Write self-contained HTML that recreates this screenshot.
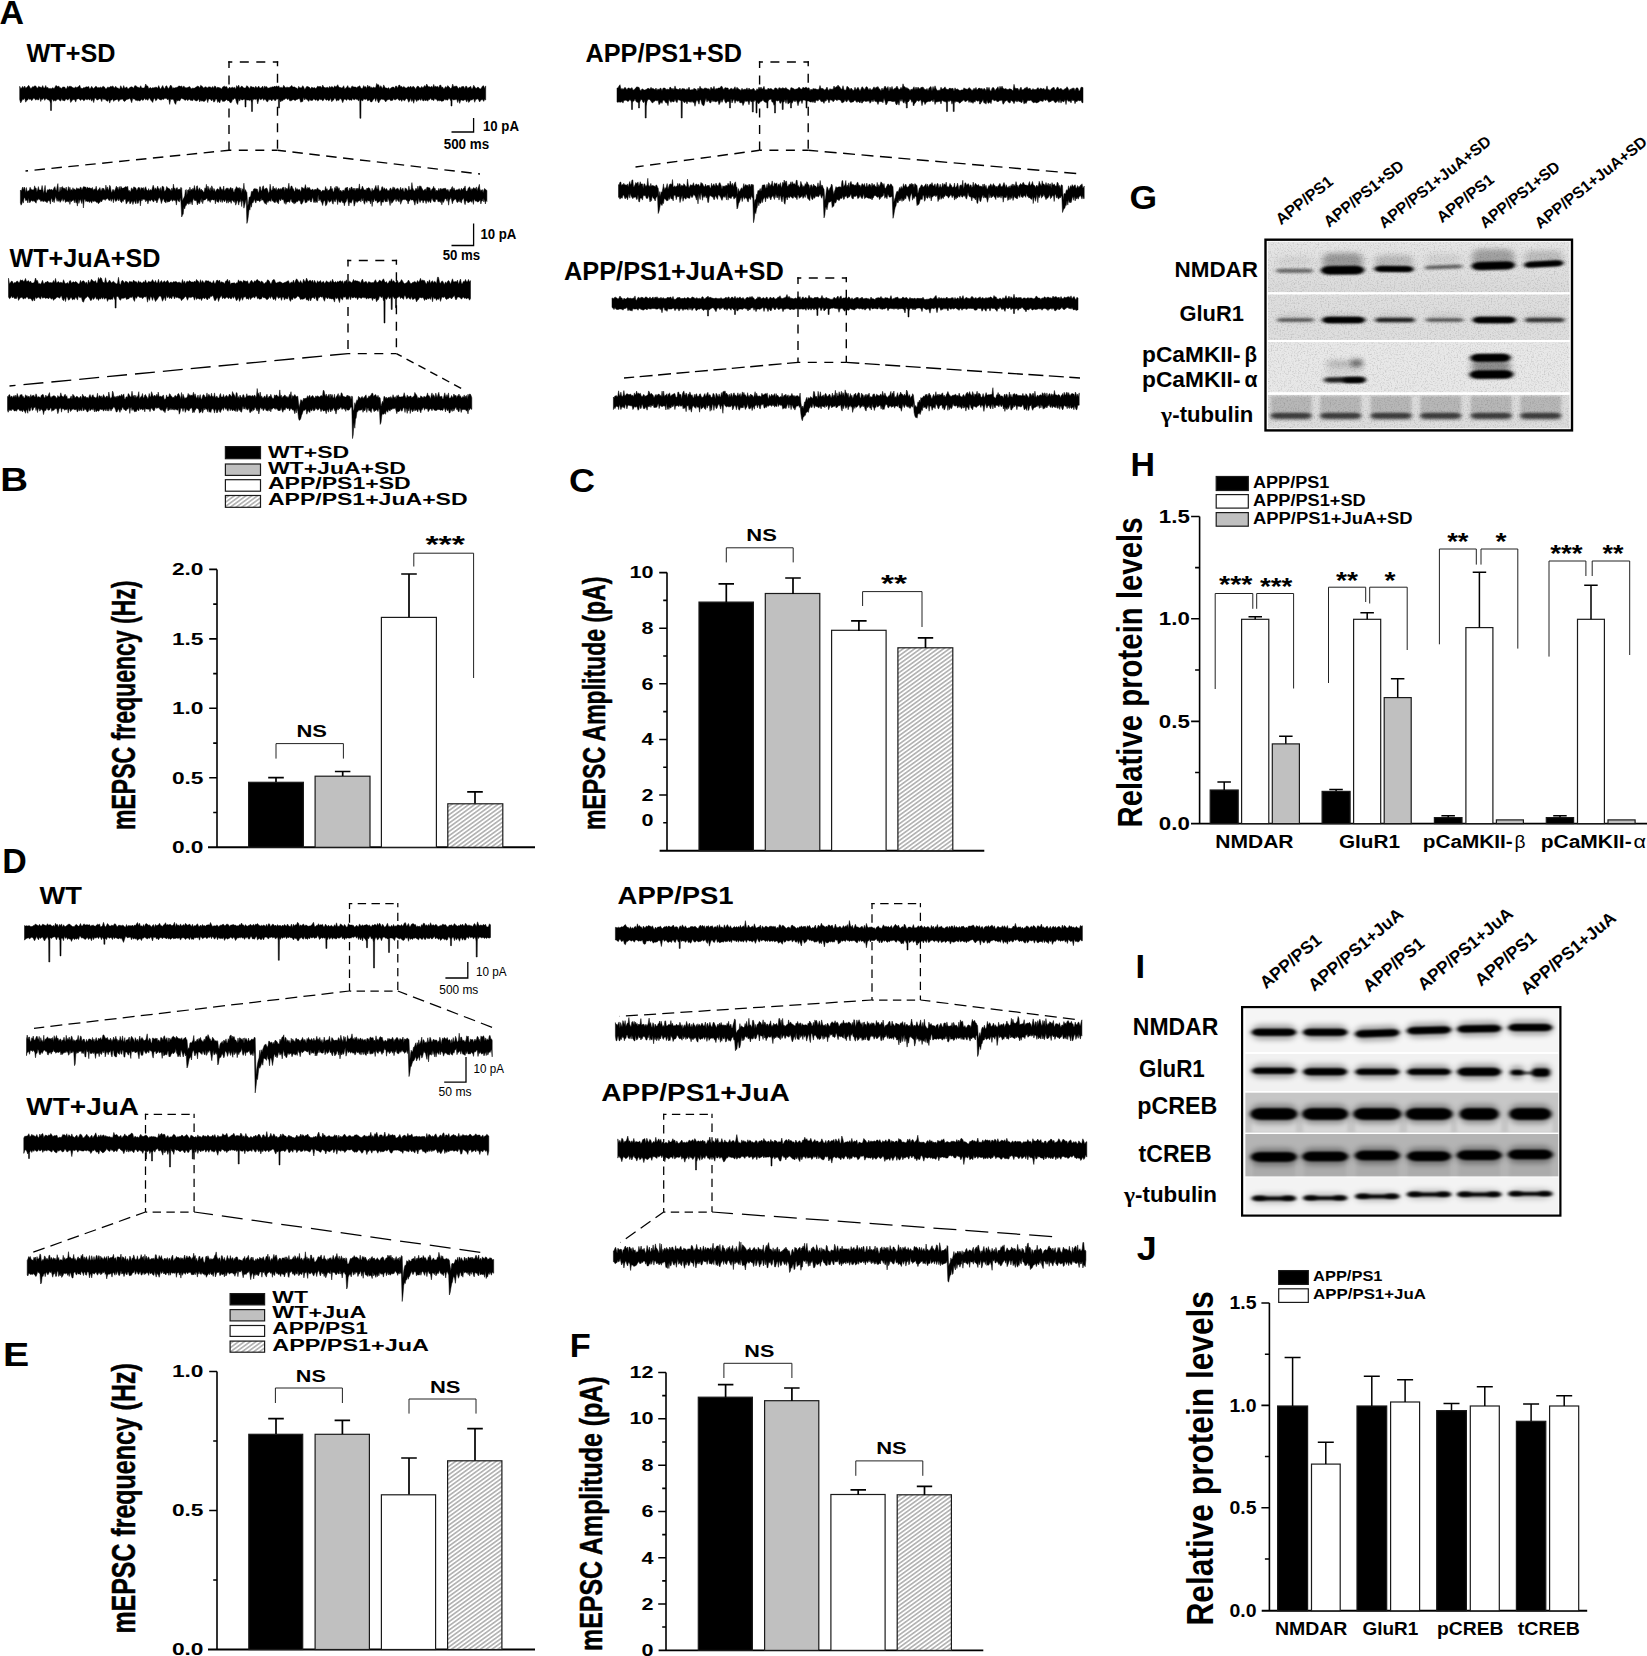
<!DOCTYPE html>
<html lang="en"><head><meta charset="utf-8"><title>Figure</title>
<style>
html,body{margin:0;padding:0;background:#fff}
body{width:1647px;height:1656px;overflow:hidden}
svg{display:block;font-family:"Liberation Sans", sans-serif;font-weight:bold}
</style></head><body>
<svg width="1647" height="1656" viewBox="0 0 1647 1656">
<defs>
<pattern id="hatch" width="8" height="3.4" patternUnits="userSpaceOnUse" patternTransform="rotate(-36)">
<rect width="8" height="3.4" fill="#fff"/><path d="M-1 1.7H9" stroke="#1c1c1c" stroke-width="0.62"/></pattern>
<filter id="b1" x="-30%" y="-150%" width="160%" height="400%"><feGaussianBlur stdDeviation="2 1.3"/></filter>
<filter id="b2" x="-30%" y="-150%" width="160%" height="400%"><feGaussianBlur stdDeviation="3 2.6"/></filter>
<filter id="b3" x="-30%" y="-150%" width="160%" height="400%"><feGaussianBlur stdDeviation="1.6 1"/></filter>
<filter id="grain" x="0" y="0" width="100%" height="100%"><feTurbulence type="fractalNoise" baseFrequency="0.7" numOctaves="2" seed="4" result="n"/><feColorMatrix in="n" type="matrix" values="0 0 0 0 0  0 0 0 0 0  0 0 0 0 0  0 0 0 1.6 -0.75"/></filter>
<linearGradient id="gN" x1="0" y1="0" x2="0" y2="1"><stop offset="0" stop-color="#e6e6e6"/><stop offset="0.55" stop-color="#e0e0e0"/><stop offset="1" stop-color="#dadada"/></linearGradient>
<clipPath id="gclip"><rect x="1267.9" y="241.8" width="301.7" height="186.5"/></clipPath>
<clipPath id="iclip"><rect x="1245.4" y="1009" width="312.9" height="204.7"/></clipPath>
</defs>
<rect width="1647" height="1656" fill="#fff"/>
<text x="-0.5" y="24.0" font-size="33" textLength="24.5" lengthAdjust="spacingAndGlyphs">A</text>
<text x="0.3" y="491.1" font-size="33.8" textLength="27.8" lengthAdjust="spacingAndGlyphs">B</text>
<text x="569.0" y="491.9" font-size="33" textLength="26.0" lengthAdjust="spacingAndGlyphs">C</text>
<text x="2.2" y="873.0" font-size="34.5" textLength="24.5" lengthAdjust="spacingAndGlyphs">D</text>
<text x="3.0" y="1366.3" font-size="33" textLength="26.2" lengthAdjust="spacingAndGlyphs">E</text>
<text x="569.8" y="1356.8" font-size="33" textLength="21.0" lengthAdjust="spacingAndGlyphs">F</text>
<text x="1129.5" y="208.5" font-size="34" textLength="27.6" lengthAdjust="spacingAndGlyphs">G</text>
<text x="1130.5" y="475.8" font-size="34" textLength="24.5" lengthAdjust="spacingAndGlyphs">H</text>
<text x="1135.4" y="977.8" font-size="33" textLength="9.6" lengthAdjust="spacingAndGlyphs">I</text>
<text x="1136.8" y="1259.9" font-size="34" textLength="20.0" lengthAdjust="spacingAndGlyphs">J</text>
<text x="26.5" y="62.0" font-size="25" textLength="89.0" lengthAdjust="spacingAndGlyphs">WT+SD</text>
<path d="M19.7 86.3L20.7 88.6L21.7 88.1L22.7 86.3L23.7 88.2L24.7 86L25.7 88.2L26.7 87.4L27.7 86.5L28.7 85.3L29.7 87.1L30.7 88.6L31.7 87.9L32.7 86.6L33.7 87.1L34.7 85.8L35.7 86L36.7 87.5L37.7 88.2L38.7 86.3L39.7 87L40.7 87.3L41.7 87.7L42.7 85.6L43.7 87.9L44.7 88L45.7 85.5L46.7 88.1L47.7 87.3L48.7 88.4L49.7 88.6L50.7 88.4L51.7 88.7L52.7 87.6L53.7 88.4L54.7 88L55.7 85.7L56.7 85.8L57.7 86.7L58.7 86.1L59.7 87.4L60.7 87.9L61.7 88.5L62.7 86.9L63.7 87L64.7 87L65.7 88.8L66.7 88.4L67.7 85.9L68.7 87.5L69.7 86.1L70.7 86.4L71.7 86.7L72.7 87.6L73.7 87.9L74.7 87.9L75.7 86.7L76.7 87.7L77.7 87.1L78.7 86.6L79.7 85.2L80.7 88.3L81.7 88.3L82.7 88.5L83.7 87.4L84.7 87.7L85.7 87.1L86.7 86.8L87.7 87.1L88.7 86.4L89.7 89.1L90.7 88.1L91.7 86.3L92.7 88.1L93.7 88.4L94.7 87.5L95.7 86.3L96.7 86.7L97.7 88.1L98.7 87.4L99.7 87.7L100.7 87.1L101.7 88L102.7 86.5L103.7 86.4L104.7 87.3L105.7 89.1L106.7 88.4L107.7 86.9L108.7 87.4L109.7 87.3L110.7 86.3L111.7 86.7L112.7 85.9L113.7 87.2L114.7 88.1L115.7 86.2L116.7 87.8L117.7 88.1L118.7 88.4L119.7 89L120.7 85.7L121.7 87.5L122.7 88.7L123.7 85.6L124.7 88.3L125.7 87.8L126.7 86.8L127.7 88.8L128.7 88.8L129.7 87.6L130.7 87.1L131.7 86.8L132.7 87.3L133.7 88.3L134.7 85.8L135.7 85.7L136.7 86.4L137.7 87.3L138.7 87.5L139.7 88L140.7 85.7L141.7 87.9L142.7 87.9L143.7 88L144.7 87.6L145.7 84L146.7 86.1L147.7 85.9L148.7 88.5L149.7 88L150.7 87.5L151.7 88.6L152.7 87.5L153.7 87.9L154.7 87.4L155.7 87.2L156.7 87.3L157.7 88.3L158.7 85.6L159.7 88.1L160.7 88.9L161.7 87.2L162.7 85.5L163.7 88L164.7 88.7L165.7 86.3L166.7 85.7L167.7 88L168.7 88.4L169.7 86.8L170.7 85L171.7 86.3L172.7 88.6L173.7 87.7L174.7 88.1L175.7 87.6L176.7 87.4L177.7 87L178.7 86.1L179.7 86.1L180.7 86.6L181.7 85.9L182.7 87.9L183.7 85.9L184.7 87.2L185.7 87.7L186.7 87.8L187.7 87.5L188.7 87L189.7 86.6L190.7 88.3L191.7 88.7L192.7 88L193.7 88.3L194.7 88.1L195.7 87.3L196.7 86.7L197.7 86.1L198.7 86.6L199.7 87.9L200.7 85.3L201.7 86L202.7 87.1L203.7 88L204.7 87.2L205.7 86.7L206.7 87.4L207.7 87.9L208.7 86.7L209.7 87L210.7 87.2L211.7 88L212.7 86.4L213.7 88.3L214.7 85.9L215.7 86.6L216.7 88.6L217.7 87.1L218.7 87.6L219.7 87.8L220.7 88.2L221.7 89.1L222.7 86.9L223.7 86.5L224.7 86.2L225.7 87L226.7 86.6L227.7 88.7L228.7 88.3L229.7 87.1L230.7 88.2L231.7 87.5L232.7 87.2L233.7 87.9L234.7 87.2L235.7 89.3L236.7 85.6L237.7 87.3L238.7 85.1L239.7 88.3L240.7 87.1L241.7 86.1L242.7 86.8L243.7 87.9L244.7 88L245.7 88L246.7 85.7L247.7 86.3L248.7 87.4L249.7 88.4L250.7 86.3L251.7 86.7L252.7 87.2L253.7 87.1L254.7 88.2L255.7 86.2L256.7 87.4L257.7 87.8L258.7 86L259.7 88L260.7 87.9L261.7 87.6L262.7 86.1L263.7 88.7L264.7 85.9L265.7 87.2L266.7 86.5L267.7 88.2L268.7 88L269.7 87.7L270.7 87.2L271.7 87.2L272.7 86.7L273.7 87.1L274.7 86.1L275.7 87.1L276.7 85.8L277.7 87.1L278.7 85.8L279.7 87.7L280.7 87.4L281.7 87.4L282.7 87.9L283.7 85.3L284.7 86.7L285.7 87.8L286.7 87.2L287.7 87.2L288.7 87.6L289.7 87.2L290.7 86.6L291.7 85.4L292.7 87.1L293.7 87.1L294.7 86.9L295.7 87.8L296.7 88.1L297.7 89.2L298.7 86.3L299.7 87.7L300.7 87.8L301.7 87.8L302.7 85.7L303.7 87.1L304.7 89.6L305.7 87.9L306.7 86.5L307.7 86.5L308.7 87L309.7 87.6L310.7 88.9L311.7 87.1L312.7 87.7L313.7 87.9L314.7 87.6L315.7 88.4L316.7 87.7L317.7 86.1L318.7 86.7L319.7 86.5L320.7 86.6L321.7 87.9L322.7 85.1L323.7 87.1L324.7 87.6L325.7 87.8L326.7 87.4L327.7 87.2L328.7 88.2L329.7 86.3L330.7 87.7L331.7 86.4L332.7 87.1L333.7 88L334.7 85.8L335.7 87L336.7 86.3L337.7 84.7L338.7 86.8L339.7 87.5L340.7 87.6L341.7 87.9L342.7 87.4L343.7 85.7L344.7 88.9L345.7 88L346.7 87.3L347.7 85.6L348.7 87.9L349.7 87.7L350.7 88.4L351.7 86.4L352.7 86.2L353.7 87L354.7 87L355.7 87L356.7 88L357.7 86.7L358.7 86.6L359.7 85.7L360.7 87.7L361.7 88.5L362.7 88.3L363.7 85.6L364.7 87.2L365.7 86.6L366.7 88.5L367.7 85.1L368.7 87.3L369.7 85.9L370.7 87.7L371.7 87.2L372.7 87.9L373.7 87.1L374.7 87.8L375.7 87.6L376.7 83.5L377.7 85L378.7 84.7L379.7 88L380.7 85.7L381.7 87.2L382.7 88.5L383.7 84.9L384.7 87.1L385.7 88L386.7 88.1L387.7 88.4L388.7 87.6L389.7 89.5L390.7 88L391.7 87.5L392.7 87.1L393.7 87.1L394.7 88.6L395.7 86L396.7 86.2L397.7 88.2L398.7 85.3L399.7 85L400.7 87.1L401.7 86.3L402.7 87.7L403.7 86.4L404.7 87.2L405.7 87.9L406.7 87.9L407.7 87L408.7 86.7L409.7 87.4L410.7 86.1L411.7 87.9L412.7 86.6L413.7 86.4L414.7 87.5L415.7 89.3L416.7 87.1L417.7 86L418.7 86.6L419.7 88L420.7 87.9L421.7 86.4L422.7 87.7L423.7 87.1L424.7 85.5L425.7 86.9L426.7 84L427.7 86L428.7 86.8L429.7 86.7L430.7 87.2L431.7 86.2L432.7 87.8L433.7 84.4L434.7 87.2L435.7 86.1L436.7 86.9L437.7 86.3L438.7 88L439.7 85.3L440.7 85L441.7 87.5L442.7 87.1L443.7 89L444.7 88.1L445.7 86.5L446.7 87.8L447.7 85.6L448.7 86.5L449.7 87.6L450.7 88.6L451.7 87.7L452.7 84.1L453.7 87.1L454.7 86.3L455.7 86.2L456.7 86L457.7 87.5L458.7 88.8L459.7 86.9L460.7 88.3L461.7 86.6L462.7 86.6L463.7 86.4L464.7 88.7L465.7 86.2L466.7 86.3L467.7 88.6L468.7 87.5L469.7 87.1L470.7 86.3L471.7 89L472.7 88.3L473.7 85.2L474.7 86.8L475.7 88.3L476.7 88.3L477.7 87.1L478.7 87.5L479.7 88.8L480.7 89L481.7 87.4L482.7 85.9L483.7 85.8L484.7 88.5L485.7 85.9L485.7 100L484.7 99.3L483.7 101.4L482.7 99.6L481.7 99.8L480.7 100L479.7 102L478.7 100.1L477.7 98.8L476.7 99.2L475.7 99.5L474.7 102.3L473.7 98.7L472.7 99.6L471.7 100L470.7 99.8L469.7 101.2L468.7 102.5L467.7 99.5L466.7 102.1L465.7 99.7L464.7 99.7L463.7 100.5L462.7 100.4L461.7 99.9L460.7 100.3L459.7 103.4L458.7 99.3L457.7 102.6L456.7 99.2L455.7 99.6L454.7 99.7L453.7 99.9L452.7 99.6L451.7 98.2L450.7 100.6L449.7 98.8L448.7 98.5L447.7 100.3L446.7 99.8L445.7 100L444.7 99.1L443.7 100.7L442.7 100.9L441.7 101.5L440.7 100.4L439.7 100.8L438.7 100.3L437.7 101.2L436.7 99.6L435.7 99.3L434.7 98.5L433.7 100.7L432.7 99.7L431.7 100.1L430.7 98.1L429.7 99.6L428.7 99.4L427.7 101.2L426.7 99.8L425.7 100.9L424.7 99.6L423.7 101L422.7 100.6L421.7 98.6L420.7 100.5L419.7 98.7L418.7 100.3L417.7 99.8L416.7 101.6L415.7 99.7L414.7 98.9L413.7 103.3L412.7 99.5L411.7 101.5L410.7 98.3L409.7 100.8L408.7 102.3L407.7 99.6L406.7 98.5L405.7 99.1L404.7 100.8L403.7 100.3L402.7 99.2L401.7 101.4L400.7 99.4L399.7 100.4L398.7 100.1L397.7 98.5L396.7 99L395.7 99.7L394.7 99.9L393.7 98.6L392.7 100.3L391.7 100.5L390.7 100.7L389.7 99.2L388.7 99.4L387.7 99.7L386.7 100.4L385.7 101.9L384.7 100.2L383.7 99.6L382.7 99.4L381.7 99L380.7 99.8L379.7 100.6L378.7 103L377.7 101.1L376.7 97.9L375.7 101.4L374.7 98.3L373.7 98.9L372.7 100.6L371.7 102L370.7 102L369.7 99.8L368.7 100.3L367.7 100.9L366.7 98.7L365.7 99.5L364.7 99.3L363.7 98.8L362.7 100.9L361.7 100.2L360.7 100.1L359.7 98.6L358.7 101.1L357.7 99.6L356.7 99.6L355.7 98.8L354.7 99.8L353.7 99.7L352.7 98.3L351.7 100.4L350.7 99.8L349.7 100.2L348.7 99.6L347.7 98.7L346.7 100.4L345.7 99.6L344.7 98.9L343.7 100L342.7 102.7L341.7 100.1L340.7 98.7L339.7 98.8L338.7 100.6L337.7 99.7L336.7 101.2L335.7 98.9L334.7 98.1L333.7 99.9L332.7 100.5L331.7 101.8L330.7 98.3L329.7 100.1L328.7 100.9L327.7 99.4L326.7 100.3L325.7 99.8L324.7 98L323.7 100.1L322.7 100.9L321.7 99.5L320.7 99.8L319.7 98.8L318.7 100.3L317.7 101.1L316.7 99.2L315.7 100.4L314.7 99.4L313.7 98.7L312.7 100.3L311.7 100.4L310.7 100.4L309.7 99.3L308.7 101.4L307.7 100.1L306.7 99.4L305.7 98.5L304.7 100L303.7 97.4L302.7 101.5L301.7 101.8L300.7 102.2L299.7 98.7L298.7 98.7L297.7 99.3L296.7 99.4L295.7 100.3L294.7 100.4L293.7 99.4L292.7 99.7L291.7 100.5L290.7 100.8L289.7 100.8L288.7 98.4L287.7 99.8L286.7 98.6L285.7 98.6L284.7 99.4L283.7 99.4L282.7 100.8L281.7 100.6L280.7 101.9L279.7 99.7L278.7 98.7L277.7 98.8L276.7 98.7L275.7 100.4L274.7 100.6L273.7 99.1L272.7 99.6L271.7 101L270.7 99.4L269.7 99.8L268.7 99.4L267.7 101.8L266.7 101.4L265.7 99.7L264.7 98.9L263.7 100.4L262.7 98.6L261.7 99L260.7 100.1L259.7 98.3L258.7 99.9L257.7 103.9L256.7 98.8L255.7 99.5L254.7 99.1L253.7 99.8L252.7 99.1L251.7 102.2L250.7 99.7L249.7 100.6L248.7 100.1L247.7 100.1L246.7 100L245.7 99.2L244.7 99.3L243.7 99.2L242.7 99.9L241.7 100L240.7 98.7L239.7 101.1L238.7 98.7L237.7 104.6L236.7 103L235.7 99.3L234.7 97.9L233.7 99.4L232.7 99.2L231.7 101.8L230.7 103.1L229.7 101.9L228.7 100.3L227.7 100.8L226.7 99.4L225.7 100.3L224.7 101.2L223.7 101.3L222.7 101.5L221.7 99.7L220.7 99.7L219.7 103L218.7 101.1L217.7 102.4L216.7 98.9L215.7 99.1L214.7 101.6L213.7 102.1L212.7 98.7L211.7 101L210.7 99.6L209.7 99.1L208.7 99L207.7 102.6L206.7 98.5L205.7 100L204.7 101.2L203.7 101.4L202.7 100.8L201.7 101.2L200.7 100.1L199.7 101.9L198.7 98.7L197.7 100.3L196.7 100.9L195.7 100.7L194.7 100.2L193.7 98.8L192.7 100.7L191.7 100.3L190.7 100.5L189.7 99.2L188.7 99.4L187.7 100.7L186.7 98.9L185.7 100.2L184.7 100.2L183.7 99.1L182.7 99L181.7 98L180.7 99.3L179.7 100.9L178.7 100.3L177.7 100.9L176.7 100L175.7 104.4L174.7 103.1L173.7 99.9L172.7 99.2L171.7 99.4L170.7 98.9L169.7 104.4L168.7 98.7L167.7 100L166.7 98.5L165.7 98.4L164.7 98.3L163.7 99.6L162.7 99L161.7 99.8L160.7 99.9L159.7 99.6L158.7 99.1L157.7 98.1L156.7 100.1L155.7 100.8L154.7 98.3L153.7 98.9L152.7 102.5L151.7 100.9L150.7 100.3L149.7 98.1L148.7 98.8L147.7 100.4L146.7 99.1L145.7 99.9L144.7 97.9L143.7 99.8L142.7 100.5L141.7 99.3L140.7 100L139.7 101.2L138.7 100.2L137.7 100.8L136.7 100.3L135.7 100.4L134.7 99.1L133.7 99L132.7 98.6L131.7 102.7L130.7 100.1L129.7 98.2L128.7 98.9L127.7 99.3L126.7 99.4L125.7 100.4L124.7 101.5L123.7 101L122.7 98.9L121.7 99.2L120.7 99.6L119.7 99.8L118.7 101.6L117.7 99.3L116.7 99.4L115.7 99.9L114.7 99.9L113.7 101.4L112.7 98.8L111.7 100.1L110.7 100.1L109.7 103.1L108.7 99.3L107.7 101.3L106.7 101L105.7 99.8L104.7 99.2L103.7 99.6L102.7 98.2L101.7 101.6L100.7 99L99.7 98.7L98.7 99.3L97.7 100L96.7 99.8L95.7 98L94.7 98.5L93.7 102.6L92.7 98.9L91.7 101.2L90.7 98.4L89.7 100.2L88.7 98.9L87.7 99.6L86.7 99.7L85.7 98.7L84.7 100.2L83.7 100.8L82.7 99.4L81.7 99.1L80.7 100.5L79.7 99.6L78.7 98.7L77.7 99L76.7 99.1L75.7 102.1L74.7 99.7L73.7 99.5L72.7 99.8L71.7 101L70.7 102.5L69.7 98.2L68.7 99L67.7 100.2L66.7 99L65.7 98.9L64.7 100.9L63.7 100.5L62.7 100.4L61.7 98.6L60.7 101.1L59.7 100.6L58.7 99.2L57.7 99.3L56.7 99.7L55.7 101.1L54.7 100.3L53.7 101.3L52.7 99.6L51.7 99.2L50.7 102.9L49.7 100.7L48.7 100.1L47.7 99.8L46.7 98.8L45.7 98.7L44.7 100.4L43.7 97.8L42.7 99.5L41.7 98.9L40.7 101.5L39.7 97.2L38.7 99.9L37.7 99.8L36.7 99.2L35.7 100.2L34.7 98.7L33.7 98.1L32.7 99.5L31.7 100.7L30.7 99.1L29.7 99.5L28.7 98.6L27.7 99.9L26.7 100.4L25.7 102.2L24.7 97.9L23.7 99.6L22.7 99.3L21.7 101L20.7 102.9L19.7 99.6ZM50.3 93.5L51.7 93.5L51.5 110.5L50.5 110.5ZM244.8 93.5L246.2 93.5L246.0 107.0L245.0 107.0ZM251.3 93.5L252.7 93.5L252.5 111.5L251.5 111.5ZM278.3 93.5L279.7 93.5L279.5 108.0L278.5 108.0ZM359.7 93.5L361.1 93.5L360.9 118.3L359.9 118.3ZM450.8 93.5L452.2 93.5L452.0 106.0L451.0 106.0Z" fill="#000" stroke="#000" stroke-width="0.5" stroke-linejoin="round"/>
<path d="M229.0 61.3L229.0 150.3" stroke="#000" stroke-width="1.4" stroke-dasharray="9 7.5" stroke-dashoffset="2.4" fill="none"/>
<path d="M228.3 62.0L278.2 62.0" stroke="#000" stroke-width="1.4" stroke-dasharray="9 7.5" stroke-dashoffset="5" fill="none"/>
<path d="M277.5 61.3L277.5 150.3" stroke="#000" stroke-width="1.4" stroke-dasharray="9 7.5" stroke-dashoffset="4" fill="none"/>
<path d="M229.0 150.3L277.5 150.3" stroke="#000" stroke-width="1.4" stroke-dasharray="9 7.5" stroke-dashoffset="6.7" fill="none"/>
<path d="M229.0 150.3L25.5 171.0" stroke="#000" stroke-width="1.4" stroke-dasharray="10.5 6.5" stroke-dashoffset="2" fill="none"/>
<path d="M277.5 150.3L480.0 174.0" stroke="#000" stroke-width="1.4" stroke-dasharray="10.5 6.5" stroke-dashoffset="2" fill="none"/>
<path d="M473.6 118.0V132.0H451.5" stroke="#000" stroke-width="1.3" fill="none"/>
<text x="483.0" y="130.5" font-size="14.5" textLength="36.0" lengthAdjust="spacingAndGlyphs">10 pA</text>
<text x="443.7" y="148.5" font-size="14.5" textLength="45.5" lengthAdjust="spacingAndGlyphs">500 ms</text>
<path d="M20.4 190L21.1 191.2L21.9 189.5L22.6 187.1L23.4 189.9L24.1 187L24.9 188.2L25.6 192.8L26.4 187.5L27.1 191.8L27.9 190.7L28.6 191L29.4 189.9L30.1 187.2L30.9 189.2L31.6 189.4L32.4 190.1L33.1 189.4L33.9 190.2L34.6 185.8L35.4 188.2L36.1 188L36.9 191.9L37.6 189.7L38.4 186.6L39.1 189.9L39.9 189.9L40.6 190L41.4 189.4L42.1 185.5L42.9 189.9L43.6 193.6L44.4 189.4L45.1 185.4L45.9 192.6L46.6 192.9L47.4 189.7L48.1 189.9L48.9 189.7L49.6 189L50.4 190L51.1 189.6L51.9 189.5L52.6 190.6L53.4 189.2L54.1 187.7L54.9 186.6L55.6 189.5L56.4 191.1L57.1 186.8L57.9 183.6L58.6 192.2L59.4 191.3L60.1 187.1L60.9 191.2L61.6 187.2L62.4 186.5L63.1 188.6L63.9 187.8L64.7 188.6L65.4 189.4L66.2 187L66.9 190.2L67.7 191.2L68.4 186.6L69.2 190.1L69.9 187.2L70.7 190.4L71.4 189.5L72.2 190.5L72.9 187.7L73.7 189.6L74.4 188.8L75.2 189.9L75.9 189.9L76.7 187.7L77.4 188.8L78.2 188.8L78.9 188.6L79.7 189.2L80.4 186.9L81.2 187.8L81.9 189.9L82.7 188.3L83.4 186.7L84.2 186.8L84.9 187.1L85.7 187.1L86.4 189.3L87.2 186.9L87.9 188L88.7 188.1L89.4 187.8L90.2 188.1L90.9 188.5L91.7 188.6L92.4 187.4L93.2 190.5L93.9 189.2L94.7 189.2L95.4 189.2L96.2 186.2L96.9 189.6L97.7 191.3L98.4 189.5L99.2 188.8L99.9 187.5L100.7 190.6L101.4 190.4L102.2 187.9L102.9 189.4L103.7 188.1L104.4 190.1L105.2 190.4L105.9 185.1L106.7 189.6L107.4 186.9L108.2 190.6L108.9 189.1L109.7 185.3L110.4 186.5L111.2 191.6L111.9 192.4L112.7 189.6L113.4 189.6L114.2 191.7L114.9 189.9L115.7 188.2L116.4 186.1L117.2 189.3L117.9 187.1L118.7 190.6L119.4 186.6L120.2 190L120.9 186.3L121.7 187.8L122.4 188.3L123.2 188L123.9 188L124.7 187.3L125.4 186.7L126.2 186.7L126.9 187.3L127.7 186.3L128.4 191.1L129.2 190.2L129.9 191.4L130.7 191.5L131.4 187.9L132.2 188.5L132.9 190L133.7 186.9L134.4 186.9L135.2 187.7L135.9 188.1L136.7 190.5L137.4 189.6L138.2 187.5L138.9 187.5L139.7 187.8L140.4 190.6L141.2 187.4L141.9 188.6L142.7 188.1L143.4 187.6L144.2 190.9L144.9 187.9L145.7 186.7L146.4 189.4L147.2 190.1L147.9 191.2L148.7 188.6L149.4 191.1L150.2 190L150.9 189.6L151.7 190.4L152.4 187.7L153.2 185.2L153.9 187.3L154.7 190.3L155.4 187.8L156.2 189.8L156.9 188.4L157.7 186.1L158.4 188.8L159.2 188.5L159.9 191.1L160.7 187.5L161.4 191.5L162.2 186.3L162.9 186.3L163.7 187.1L164.4 191.6L165.2 190.8L165.9 189.7L166.7 186.5L167.4 187.6L168.2 188.4L168.9 188.3L169.7 189.1L170.4 190L171.2 190.7L171.9 188L172.7 190.5L173.4 184.1L174.2 188.8L174.9 187.9L175.7 190.4L176.4 188.1L177.2 187.5L177.9 190.1L178.7 189.3L179.4 188.9L180.2 189.7L180.9 187.3L181.7 188.3L182.4 201.1L183.2 199L183.9 197.8L184.7 195.8L185.4 190.3L186.2 189.5L186.9 195.5L187.7 190L188.4 189.5L189.2 191.2L189.9 187.1L190.7 190.9L191.4 189.2L192.2 190.3L192.9 188.2L193.7 189.7L194.4 185.5L195.2 189.5L195.9 190.9L196.7 186.1L197.4 185.8L198.2 190.7L198.9 189.1L199.7 187.7L200.4 190.7L201.2 189L201.9 190.4L202.7 190.6L203.4 192.3L204.2 191.8L204.9 187.8L205.7 189L206.4 184.3L207.2 190.6L207.9 186L208.7 188.5L209.4 190.6L210.2 187.6L210.9 191.2L211.7 185.8L212.4 187.3L213.2 191.3L213.9 188.4L214.7 189.7L215.4 192.2L216.2 190.3L216.9 189.2L217.7 188.7L218.4 189.2L219.2 190.6L219.9 186.6L220.7 187.3L221.4 189.5L222.2 189.2L222.9 190.4L223.7 186L224.4 190.7L225.2 190.3L225.9 188.6L226.7 188.2L227.4 188.2L228.2 188.2L228.9 189.8L229.7 189.1L230.4 187.6L231.2 187.8L231.9 190.1L232.7 188.1L233.4 191.5L234.2 192.3L234.9 189.4L235.7 188.5L236.4 186.6L237.2 188.6L237.9 187.6L238.7 188.5L239.4 187.5L240.2 190.5L240.9 187.9L241.7 192.9L242.4 188.7L243.2 189.8L243.9 183.2L244.7 191.7L245.4 189.6L246.2 191.5L246.9 192.5L247.7 205.9L248.4 203.5L249.2 197.1L249.9 197.3L250.7 196L251.4 191.5L252.2 191.4L252.9 191.6L253.7 188.9L254.4 188.8L255.2 188.4L255.9 189.2L256.6 188.9L257.4 189.2L258.1 191.9L258.9 192.4L259.6 186.8L260.4 186.8L261.1 191L261.9 190.5L262.6 186.8L263.4 185.7L264.1 189.8L264.9 188.8L265.6 188.6L266.4 188L267.1 188.5L267.9 190.7L268.6 193.6L269.4 191.3L270.1 184.2L270.9 189L271.6 190.9L272.4 189.4L273.1 186.1L273.9 189.2L274.6 188.3L275.4 190L276.1 187.6L276.9 190.7L277.6 189.6L278.4 188.4L279.1 188.6L279.9 190.1L280.6 188.5L281.4 189.4L282.1 188.2L282.9 187.3L283.6 187.3L284.4 191.4L285.1 187.2L285.9 189.8L286.6 188.2L287.4 189.6L288.1 187.5L288.9 183.2L289.6 189.4L290.4 188.6L291.1 186L291.9 186L292.6 188.3L293.4 188.8L294.1 190.8L294.9 191.6L295.6 187.5L296.4 189.9L297.1 188.6L297.9 190.1L298.6 189.7L299.4 189.3L300.1 190.5L300.9 191.8L301.6 187.2L302.4 187.8L303.1 187.8L303.9 189.1L304.6 188.3L305.4 184.6L306.1 187.8L306.9 189.6L307.6 187.4L308.4 188.2L309.1 187.3L309.9 188.4L310.6 189.9L311.4 190L312.1 189.5L312.9 189.1L313.6 190.5L314.4 190L315.1 189.1L315.9 190.1L316.6 189.6L317.4 187.8L318.1 188.7L318.9 189.7L319.6 189.9L320.4 190.1L321.1 192.3L321.9 191.1L322.6 190.3L323.4 190.2L324.1 191L324.9 190.1L325.6 186.5L326.4 189.5L327.1 188.7L327.9 191.2L328.6 190L329.4 190L330.1 188.7L330.9 186L331.6 189.3L332.4 188.6L333.1 192L333.9 191.4L334.6 187.6L335.4 188.7L336.1 186.1L336.9 189.2L337.6 186.6L338.4 189.6L339.1 187.7L339.9 191.5L340.6 190.1L341.4 191L342.1 191.9L342.9 190L343.6 190.2L344.4 191.2L345.1 188.5L345.9 187.6L346.6 188L347.4 187L348.1 190.5L348.9 191L349.6 187.9L350.4 189.9L351.1 187.1L351.9 187.1L352.6 189.6L353.4 188.2L354.1 190.6L354.9 188L355.6 190.9L356.4 188.3L357.1 189.6L357.9 188L358.6 189.6L359.4 183.9L360.1 189.8L360.9 189.3L361.6 188.9L362.4 186.1L363.1 187.8L363.9 189.6L364.6 190.1L365.4 189.8L366.1 190.4L366.9 188L367.6 188.5L368.4 187.8L369.1 187.8L369.9 188.7L370.6 190.8L371.4 191.9L372.1 188.2L372.9 191.1L373.6 190.1L374.4 189.2L375.1 187.5L375.9 185.4L376.6 188.6L377.4 189.3L378.1 185.2L378.9 189.2L379.6 191.6L380.4 190.7L381.1 190L381.9 186.8L382.6 186.8L383.4 190L384.1 187.7L384.9 188.8L385.6 190.1L386.4 188.4L387.1 189.6L387.9 190.9L388.6 190.4L389.4 190.4L390.1 188.2L390.9 188.2L391.6 190.3L392.4 189.1L393.1 186.8L393.9 189L394.6 187.5L395.4 189.9L396.1 189.2L396.9 188.6L397.6 188.3L398.4 188.8L399.1 190.7L399.9 189.5L400.6 187.2L401.4 189.9L402.1 189.6L402.9 187.9L403.6 190.8L404.4 192.2L405.1 187.8L405.9 189L406.6 188.7L407.4 190.7L408.1 190.6L408.9 186.1L409.6 189.7L410.4 189.8L411.1 189.7L411.9 182.6L412.6 187.8L413.4 189.4L414.1 190.7L414.9 190.9L415.6 188.6L416.4 188.6L417.1 190.3L417.9 186.1L418.6 190.1L419.4 185.9L420.1 186.5L420.9 185.9L421.6 188.1L422.4 188.8L423.1 190.8L423.9 190.4L424.6 189.5L425.4 188.9L426.1 191L426.9 187.3L427.6 187.3L428.4 187.6L429.1 187.9L429.9 187.8L430.6 190.8L431.4 190.2L432.1 188.8L432.9 188.8L433.6 186.3L434.4 188.5L435.1 188.2L435.9 191.8L436.6 190.1L437.4 191.1L438.1 190.2L438.9 188.3L439.6 190.7L440.4 188.6L441.1 188.4L441.9 189.5L442.6 188.7L443.4 188.7L444.1 188L444.9 188.8L445.6 188.2L446.4 189.8L447.1 190.5L447.9 189.2L448.6 191.1L449.4 191.9L450.1 189.2L450.9 190L451.6 187.8L452.4 186.5L453.1 190.3L453.9 187.8L454.6 189.3L455.4 191.1L456.1 189.8L456.9 189.9L457.6 189.7L458.4 189.6L459.1 188.6L459.9 189.7L460.6 190.7L461.4 188.2L462.1 189.5L462.9 189.7L463.6 188L464.4 187.7L465.1 185.9L465.9 190.5L466.6 191.2L467.4 190.8L468.1 188.5L468.9 187.4L469.6 186.8L470.4 188.8L471.1 190.4L471.9 188.6L472.6 189.6L473.4 187.8L474.1 187.8L474.9 189L475.6 188.6L476.4 186.9L477.1 191.1L477.9 188.2L478.6 186.8L479.4 184.3L480.1 191.6L480.9 189.6L481.6 190.8L482.4 189.6L483.1 192.7L483.9 190.1L484.6 188.4L485.4 189.2L486.1 190.1L486.9 190.4L486.9 201.6L486.1 200L485.4 204L484.6 199L483.9 202L483.1 198.3L482.4 200.9L481.6 200.9L480.9 204L480.1 199.8L479.4 200.7L478.6 201.7L477.9 202L477.1 201.7L476.4 201L475.6 201.2L474.9 200.2L474.1 199.3L473.4 204.4L472.6 199.5L471.9 202.4L471.1 201.2L470.4 200.9L469.6 202.1L468.9 201.9L468.1 203L467.4 201.6L466.6 200.7L465.9 200.8L465.1 204.7L464.4 202.7L463.6 197.8L462.9 199.1L462.1 200L461.4 202.9L460.6 202.2L459.9 199.6L459.1 202.1L458.4 200.5L457.6 202.5L456.9 202.2L456.1 199.7L455.4 198.9L454.6 199.5L453.9 200.4L453.1 201L452.4 203.8L451.6 200.2L450.9 197L450.1 199.3L449.4 199.7L448.6 205.2L447.9 198.1L447.1 201.3L446.4 199.6L445.6 198.7L444.9 198.7L444.1 200.9L443.4 202.5L442.6 200.7L441.9 204.9L441.1 200.6L440.4 202.5L439.6 201.4L438.9 201.3L438.1 202L437.4 199.4L436.6 199.5L435.9 199.1L435.1 202.1L434.4 201.7L433.6 201.4L432.9 200.2L432.1 198.3L431.4 199.6L430.6 202.9L429.9 201.6L429.1 200.5L428.4 202.4L427.6 200.8L426.9 200.6L426.1 203.6L425.4 201L424.6 199.9L423.9 201L423.1 203.1L422.4 200.3L421.6 200.3L420.9 200.4L420.1 202.6L419.4 200.9L418.6 197.7L417.9 203.5L417.1 203.7L416.4 199.7L415.6 201.2L414.9 205.2L414.1 202.1L413.4 200.4L412.6 199.8L411.9 200.2L411.1 199.7L410.4 199.1L409.6 201L408.9 201L408.1 204L407.4 200.8L406.6 200.4L405.9 199.9L405.1 199L404.4 199.8L403.6 199.5L402.9 199.8L402.1 200.3L401.4 202.3L400.6 204.3L399.9 198.1L399.1 202.1L398.4 201L397.6 200.2L396.9 198.8L396.1 201.7L395.4 198.8L394.6 199.5L393.9 200.3L393.1 201.4L392.4 202.6L391.6 203.3L390.9 199.9L390.1 205.5L389.4 202.1L388.6 199.7L387.9 198.1L387.1 202L386.4 201L385.6 202.1L384.9 200.7L384.1 199.1L383.4 202.2L382.6 202L381.9 202.1L381.1 205.7L380.4 200.2L379.6 201.2L378.9 202.1L378.1 201.9L377.4 203.2L376.6 200L375.9 201.1L375.1 200.5L374.4 198.1L373.6 202L372.9 200.1L372.1 206.5L371.4 199L370.6 203.9L369.9 201.2L369.1 200.8L368.4 201L367.6 199.7L366.9 202.6L366.1 201L365.4 200.4L364.6 204.3L363.9 202.8L363.1 197.8L362.4 201L361.6 197.7L360.9 202.1L360.1 199.4L359.4 200.9L358.6 200.9L357.9 201.6L357.1 202.6L356.4 201.6L355.6 201.1L354.9 204L354.1 206.2L353.4 199.7L352.6 199.5L351.9 201.4L351.1 203.2L350.4 202.3L349.6 201.9L348.9 206L348.1 202.1L347.4 197.8L346.6 200L345.9 202.2L345.1 202.2L344.4 205.8L343.6 202.2L342.9 202.9L342.1 200.9L341.4 200.6L340.6 202.6L339.9 201.8L339.1 202.3L338.4 199.3L337.6 204.6L336.9 200.1L336.1 198.5L335.4 201.7L334.6 201.4L333.9 199.2L333.1 204.2L332.4 202.9L331.6 199.2L330.9 201.6L330.1 200.9L329.4 202.4L328.6 200.9L327.9 199.4L327.1 203.3L326.4 205.2L325.6 205.8L324.9 200.4L324.1 200.7L323.4 202.1L322.6 205.5L321.9 202.7L321.1 201.8L320.4 199.4L319.6 199.6L318.9 201L318.1 194.5L317.4 202.4L316.6 201.6L315.9 202.8L315.1 200.5L314.4 202.4L313.6 202.3L312.9 197.5L312.1 198.7L311.4 201.9L310.6 201.9L309.9 199.3L309.1 200.6L308.4 200.6L307.6 200.1L306.9 202.4L306.1 201.9L305.4 203.1L304.6 200.2L303.9 199.1L303.1 201.8L302.4 202.9L301.6 204.2L300.9 203.9L300.1 200.7L299.4 200.7L298.6 200L297.9 201.6L297.1 201.6L296.4 201.4L295.6 203.3L294.9 202.2L294.1 204.1L293.4 202.5L292.6 202.5L291.9 202L291.1 199.1L290.4 200.1L289.6 202.6L288.9 201.4L288.1 201.7L287.4 201.9L286.6 202.2L285.9 204.4L285.1 201.3L284.4 203.5L283.6 199.8L282.9 199.7L282.1 199.8L281.4 198.6L280.6 201L279.9 199.1L279.1 200.3L278.4 203.9L277.6 202.6L276.9 202.3L276.1 200L275.4 202.4L274.6 202.4L273.9 202.2L273.1 200.8L272.4 201L271.6 198.1L270.9 201.6L270.1 200.5L269.4 200.8L268.6 200.9L267.9 202.6L267.1 200.6L266.4 204.6L265.6 203.6L264.9 203.6L264.1 202.2L263.4 200.5L262.6 199.7L261.9 200.5L261.1 198.3L260.4 201.1L259.6 201.7L258.9 201L258.1 200.2L257.4 200.9L256.6 199.8L255.9 203.1L255.2 201.8L254.4 199.1L253.7 201.1L252.9 203.1L252.2 201.9L251.4 207.2L250.7 204.1L249.9 210.1L249.2 208.5L248.4 215.5L247.7 220.7L246.9 223.4L246.2 199.1L245.4 202.2L244.7 205.1L243.9 208.2L243.2 201.7L242.4 200.2L241.7 206.6L240.9 199.1L240.2 201.7L239.4 201.6L238.7 205.1L237.9 201.3L237.2 200.4L236.4 203.3L235.7 205.2L234.9 200.1L234.2 202.5L233.4 201.5L232.7 200.6L231.9 199.9L231.2 203.4L230.4 201L229.7 201.9L228.9 199.8L228.2 203.2L227.4 199.9L226.7 203.2L225.9 199.5L225.2 200.2L224.4 201.9L223.7 199.9L222.9 200.3L222.2 202.6L221.4 198.9L220.7 202.2L219.9 198.7L219.2 200.5L218.4 202.5L217.7 201.9L216.9 201.6L216.2 198.9L215.4 203.9L214.7 199.5L213.9 200L213.2 200L212.4 199.5L211.7 200L210.9 199.8L210.2 202.4L209.4 200.7L208.7 199.9L207.9 201.3L207.2 198.5L206.4 198.5L205.7 199.5L204.9 200L204.2 199.9L203.4 200.2L202.7 203.7L201.9 198.1L201.2 202.3L200.4 199L199.7 203.5L198.9 203.5L198.2 202.1L197.4 205L196.7 201.4L195.9 200.1L195.2 200.9L194.4 200.3L193.7 198.3L192.9 200.6L192.2 204.9L191.4 202.1L190.7 201.6L189.9 204.2L189.2 201.8L188.4 204.4L187.7 203.2L186.9 203.5L186.2 205.5L185.4 205.7L184.7 208.9L183.9 207.1L183.2 214.3L182.4 215L181.7 217L180.9 201.6L180.2 197.8L179.4 201.9L178.7 201.4L177.9 200.4L177.2 199.3L176.4 205.1L175.7 201L174.9 199.7L174.2 200.7L173.4 199.4L172.7 201.3L171.9 200.6L171.2 199.1L170.4 200.7L169.7 201.4L168.9 201.9L168.2 201.5L167.4 202.3L166.7 200L165.9 203.1L165.2 201.7L164.4 201.7L163.7 198.8L162.9 199.4L162.2 200.9L161.4 203.6L160.7 200.5L159.9 198.2L159.2 197.6L158.4 198.9L157.7 200.8L156.9 203L156.2 200.7L155.4 200.5L154.7 199.1L153.9 201.7L153.2 201.7L152.4 200.6L151.7 199.4L150.9 200.2L150.2 201.3L149.4 200.1L148.7 200.7L147.9 203.9L147.2 200.4L146.4 200.5L145.7 201.8L144.9 199.1L144.2 199.7L143.4 199.2L142.7 199L141.9 201L141.2 199.1L140.4 205.9L139.7 200L138.9 200.7L138.2 203.3L137.4 203.3L136.7 199.3L135.9 203.9L135.2 202.7L134.4 200.5L133.7 202.1L132.9 204.5L132.2 201.3L131.4 201.6L130.7 203.2L129.9 203.9L129.2 200.2L128.4 201.4L127.7 201.5L126.9 203.1L126.2 204.1L125.4 199.1L124.7 199.5L123.9 199.2L123.2 201.5L122.4 200.5L121.7 202.7L120.9 202.1L120.2 200.6L119.4 198.6L118.7 201L117.9 198.5L117.2 199.8L116.4 201.1L115.7 201.4L114.9 199.8L114.2 198L113.4 202.8L112.7 198.7L111.9 199.3L111.2 201.4L110.4 198.5L109.7 200.4L108.9 200.4L108.2 199.3L107.4 198L106.7 199L105.9 199.3L105.2 200.4L104.4 199.6L103.7 199.3L102.9 199.6L102.2 200.5L101.4 202L100.7 200.4L99.9 202.6L99.2 202.3L98.4 203.9L97.7 202L96.9 202.7L96.2 201.9L95.4 201.3L94.7 200.8L93.9 201.8L93.2 201L92.4 200.8L91.7 203.2L90.9 201.5L90.2 201L89.4 202.6L88.7 200.9L87.9 201.8L87.2 201.4L86.4 201L85.7 201.6L84.9 198.8L84.2 200L83.4 208L82.7 198.4L81.9 203.6L81.2 201.8L80.4 199.2L79.7 200.5L78.9 203.4L78.2 199.3L77.4 206.1L76.7 202.2L75.9 202.9L75.2 199.3L74.4 202.8L73.7 199.6L72.9 200.7L72.2 200.2L71.4 201.8L70.7 200.3L69.9 204.4L69.2 200.3L68.4 202.2L67.7 201.4L66.9 201L66.2 201.9L65.4 202.4L64.7 199.6L63.9 199.4L63.1 201.4L62.4 198.6L61.6 200.1L60.9 201.2L60.1 202.4L59.4 200.1L58.6 201.4L57.9 199L57.1 201.4L56.4 199.1L55.6 196.3L54.9 199.4L54.1 202.7L53.4 199.7L52.6 202L51.9 198.5L51.1 198.9L50.4 204.1L49.6 200.8L48.9 200.9L48.1 200.2L47.4 202.4L46.6 202.4L45.9 200.9L45.1 201.7L44.4 200.4L43.6 201.6L42.9 201.6L42.1 200.6L41.4 201.3L40.6 201.3L39.9 199L39.1 199.8L38.4 198.4L37.6 200.3L36.9 199.6L36.1 203.2L35.4 202.2L34.6 201.5L33.9 200.6L33.1 201.4L32.4 201.1L31.6 200.3L30.9 200.9L30.1 202.5L29.4 202.4L28.6 197.7L27.9 203L27.1 200.2L26.4 200.2L25.6 200.6L24.9 197.9L24.1 197.7L23.4 203.1L22.6 200.8L21.9 203.7L21.1 205.2L20.4 203.1Z" fill="#000" stroke="#000" stroke-width="0.5" stroke-linejoin="round"/>
<path d="M473.6 223.4V245.5H451.5" stroke="#000" stroke-width="1.3" fill="none"/>
<text x="480.4" y="239.0" font-size="14.5" textLength="36.0" lengthAdjust="spacingAndGlyphs">10 pA</text>
<text x="442.7" y="260.0" font-size="14.5" textLength="37.5" lengthAdjust="spacingAndGlyphs">50 ms</text>
<text x="9.5" y="267.0" font-size="25" textLength="151.0" lengthAdjust="spacingAndGlyphs">WT+JuA+SD</text>
<path d="M8.5 278.2L9.5 283.9L10.5 282.5L11.5 281.1L12.5 281.6L13.5 283.8L14.5 282.5L15.5 282.8L16.5 281.4L17.5 281L18.5 282.4L19.5 282.5L20.5 279.8L21.5 280.5L22.5 279.9L23.5 281.6L24.5 281L25.5 278.4L26.5 281.5L27.5 281.2L28.5 280.6L29.5 282.5L30.5 281.1L31.5 283.1L32.5 283.1L33.5 283L34.5 281.8L35.5 278L36.5 280.8L37.5 280.5L38.5 283.7L39.5 283.4L40.5 284.2L41.5 282.7L42.5 280.3L43.5 283.5L44.5 283.4L45.5 282.1L46.5 282.3L47.5 281.1L48.5 282.3L49.5 282.8L50.5 282.6L51.5 282.8L52.5 282.7L53.5 280.5L54.5 283L55.5 278.4L56.5 283.1L57.5 282.2L58.5 281.5L59.5 282.9L60.5 282.3L61.5 282.6L62.5 283.3L63.5 279.7L64.5 282.2L65.5 283.8L66.5 283.3L67.5 282.5L68.5 284.2L69.5 280.9L70.5 280.5L71.5 283.3L72.5 282.2L73.5 281.7L74.5 282.5L75.5 281.5L76.5 282.1L77.5 283.1L78.5 284.1L79.5 283.6L80.5 280.3L81.5 282.7L82.5 281.1L83.5 280.8L84.5 281.7L85.5 283.4L86.5 281.9L87.5 284.7L88.5 280.1L89.5 282.9L90.5 281.7L91.5 279.2L92.5 280.6L93.5 281.3L94.5 281.8L95.5 280.6L96.5 283.2L97.5 282.5L98.5 277.5L99.5 280.1L100.5 277.6L101.5 278.3L102.5 281.5L103.5 282.5L104.5 283.1L105.5 277.7L106.5 282L107.5 283L108.5 281.8L109.5 280L110.5 281.4L111.5 282.9L112.5 282.1L113.5 281.2L114.5 282.4L115.5 283.2L116.5 284.1L117.5 282.9L118.5 277.3L119.5 283.4L120.5 284.9L121.5 281.2L122.5 280.2L123.5 281.5L124.5 283.3L125.5 281.2L126.5 281.5L127.5 282.1L128.5 283.5L129.5 281.3L130.5 281.7L131.5 281.7L132.5 282.6L133.5 280.1L134.5 281.3L135.5 281.7L136.5 281.8L137.5 283.6L138.5 280.7L139.5 282.4L140.5 281.8L141.5 283.1L142.5 282.9L143.5 281.6L144.5 282.5L145.5 279.9L146.5 282.7L147.5 282.9L148.5 281.3L149.5 281.8L150.5 281.9L151.5 281.6L152.5 279.6L153.5 281.5L154.5 282.6L155.5 280.4L156.5 283L157.5 282.8L158.5 279.3L159.5 283.4L160.5 281.8L161.5 280.5L162.5 282.9L163.5 281.7L164.5 280.8L165.5 282.5L166.5 281.5L167.5 280.2L168.5 282.1L169.5 283.3L170.5 282L171.5 282.2L172.5 282.7L173.5 281.6L174.5 281.9L175.5 281.6L176.5 281.7L177.5 282.7L178.5 282.3L179.5 282.2L180.5 282.8L181.5 283.4L182.5 279.5L183.5 283.2L184.5 280.9L185.5 283.9L186.5 281.7L187.5 281.3L188.5 282L189.5 280.5L190.5 281.5L191.5 282.1L192.5 281.9L193.5 282.3L194.5 281.1L195.5 282.3L196.5 279.4L197.5 280.8L198.5 281.4L199.5 283.4L200.5 279.7L201.5 283.1L202.5 280.6L203.5 282.3L204.5 283L205.5 280.7L206.5 280.7L207.5 281.1L208.5 280.8L209.5 282.1L210.5 281.7L211.5 283.1L212.5 283.1L213.5 280.6L214.5 283.6L215.5 283.3L216.5 280.5L217.5 280L218.5 281.5L219.5 280.1L220.5 283L221.5 281.7L222.5 282.3L223.5 282.6L224.5 283.9L225.5 281.2L226.5 280.9L227.5 279.2L228.5 282.2L229.5 280.2L230.5 284.4L231.5 283.1L232.5 283.1L233.5 282.9L234.5 282.7L235.5 284L236.5 282.7L237.5 282.9L238.5 279.8L239.5 281.7L240.5 281L241.5 281.3L242.5 283L243.5 280.3L244.5 280.9L245.5 281.2L246.5 281.6L247.5 280.8L248.5 283.8L249.5 283.4L250.5 281.4L251.5 280.2L252.5 281.7L253.5 283.1L254.5 280.8L255.5 281.6L256.5 279.9L257.5 279.5L258.5 281.1L259.5 281.1L260.5 282.4L261.5 281L262.5 281.8L263.5 283.2L264.5 283.7L265.5 282.4L266.5 282.3L267.5 279.8L268.5 280.2L269.5 281.5L270.5 283.8L271.5 283.2L272.5 280.4L273.5 279.6L274.5 279.8L275.5 282.6L276.5 283.1L277.5 282.4L278.5 282.2L279.5 281.8L280.5 281.9L281.5 282.5L282.5 283.2L283.5 283.1L284.5 282.5L285.5 282.2L286.5 281.8L287.5 281.1L288.5 280.7L289.5 283.4L290.5 282.9L291.5 281.9L292.5 282.7L293.5 280.1L294.5 283.6L295.5 280.8L296.5 278.8L297.5 279.9L298.5 281.7L299.5 282.9L300.5 280.6L301.5 282.5L302.5 283.5L303.5 279.2L304.5 281.3L305.5 281.7L306.5 278.1L307.5 280.2L308.5 281.8L309.5 280.4L310.5 280.3L311.5 281.9L312.5 280L313.5 283.2L314.5 280.3L315.5 282.3L316.5 283.6L317.5 280.7L318.5 282.2L319.5 281.4L320.5 280.5L321.5 282.9L322.5 282.1L323.5 281.3L324.5 283.4L325.5 282.6L326.5 280.7L327.5 282L328.5 282.2L329.5 282.6L330.5 280.7L331.5 282.7L332.5 279.2L333.5 281.7L334.5 282.6L335.5 281.4L336.5 283.1L337.5 281.3L338.5 282.1L339.5 281.1L340.5 280.7L341.5 282.1L342.5 280.7L343.5 283.9L344.5 281.2L345.5 281.5L346.5 279.8L347.5 283.2L348.5 281.7L349.5 281.2L350.5 281.8L351.5 283L352.5 281.7L353.5 279.4L354.5 281.2L355.5 280.6L356.5 281L357.5 281L358.5 281.6L359.5 281.7L360.5 283.2L361.5 280.8L362.5 279.1L363.5 282.4L364.5 282.2L365.5 281.6L366.5 281.7L367.5 284.1L368.5 281.7L369.5 281.9L370.5 282.4L371.5 282.7L372.5 282.5L373.5 282.7L374.5 281.2L375.5 279.7L376.5 282.2L377.5 282.5L378.5 281.7L379.5 280.1L380.5 280.7L381.5 281.7L382.5 280.1L383.5 278.8L384.5 281.3L385.5 282.6L386.5 281.6L387.5 283.8L388.5 282.8L389.5 280.8L390.5 281.5L391.5 278.8L392.5 281.9L393.5 280.6L394.5 281.7L395.5 283L396.5 281.2L397.5 280.6L398.5 283.2L399.5 282.3L400.5 281.5L401.5 279.6L402.5 280.9L403.5 282.7L404.5 283.8L405.5 283.3L406.5 282.7L407.5 282L408.5 280L409.5 281.8L410.5 283.5L411.5 283.5L412.5 282.4L413.5 282.2L414.5 281.4L415.5 282L416.5 282.9L417.5 280.5L418.5 282.2L419.5 280.9L420.5 278.3L421.5 281L422.5 280.1L423.5 280.4L424.5 280.5L425.5 282.7L426.5 284.3L427.5 281L428.5 282.7L429.5 279.8L430.5 283.5L431.5 281.6L432.5 280.7L433.5 283.2L434.5 281.2L435.5 281.9L436.5 283.8L437.5 277.2L438.5 277.3L439.5 282.2L440.5 283.5L441.5 281.4L442.5 280.9L443.5 282.8L444.5 284.4L445.5 281.8L446.5 283.6L447.5 281.4L448.5 280.4L449.5 281.7L450.5 284.3L451.5 281.6L452.5 278.8L453.5 282.1L454.5 281.8L455.5 281.5L456.5 282.1L457.5 280.1L458.5 284.3L459.5 281.5L460.5 279L461.5 283.8L462.5 283.4L463.5 281.2L464.5 281.7L465.5 279.4L466.5 281.8L467.5 281.7L468.5 279.4L469.5 281.9L470.5 280.6L470.5 298.6L469.5 300.2L468.5 298.1L467.5 297.9L466.5 299.1L465.5 297.8L464.5 298.4L463.5 297L462.5 297.7L461.5 299.2L460.5 297.9L459.5 297.3L458.5 297L457.5 297.1L456.5 299.5L455.5 299.5L454.5 295.6L453.5 296.4L452.5 297.7L451.5 298.9L450.5 297.8L449.5 297.5L448.5 298.6L447.5 298.8L446.5 299.5L445.5 298.4L444.5 296.4L443.5 297.5L442.5 297.1L441.5 298L440.5 301.4L439.5 297.2L438.5 299.4L437.5 298.7L436.5 300.4L435.5 298.1L434.5 298.7L433.5 296.8L432.5 301.8L431.5 295.9L430.5 299.4L429.5 297.7L428.5 299.2L427.5 298L426.5 300L425.5 298.7L424.5 300.5L423.5 298L422.5 297.6L421.5 297.9L420.5 297.5L419.5 297.4L418.5 299.4L417.5 300.1L416.5 301.9L415.5 298.6L414.5 298.2L413.5 299.3L412.5 299.4L411.5 296.5L410.5 299.3L409.5 298.8L408.5 297L407.5 298.3L406.5 299L405.5 296.1L404.5 295.5L403.5 299.4L402.5 298.3L401.5 297.5L400.5 298.6L399.5 296.2L398.5 297.1L397.5 297.5L396.5 298.7L395.5 297.4L394.5 298.8L393.5 297.1L392.5 296.4L391.5 299.9L390.5 296.9L389.5 299L388.5 296.6L387.5 297.8L386.5 299.4L385.5 298.6L384.5 297.3L383.5 300.8L382.5 296.3L381.5 297.8L380.5 296.6L379.5 296.3L378.5 299.6L377.5 300.1L376.5 301.8L375.5 297.7L374.5 298.9L373.5 297.9L372.5 300.5L371.5 297.7L370.5 298.1L369.5 298L368.5 298.8L367.5 297.8L366.5 299.2L365.5 297.5L364.5 297.8L363.5 297.6L362.5 297.3L361.5 298.4L360.5 298.1L359.5 297.5L358.5 297.8L357.5 299.7L356.5 297L355.5 298.2L354.5 296.8L353.5 297.8L352.5 297.9L351.5 296.5L350.5 299.7L349.5 296.3L348.5 297.8L347.5 298.3L346.5 299.4L345.5 296.5L344.5 297.3L343.5 296.7L342.5 299.9L341.5 299L340.5 297.3L339.5 302.6L338.5 299.5L337.5 297.6L336.5 298.7L335.5 297L334.5 302.1L333.5 299.3L332.5 298.7L331.5 298.9L330.5 298.5L329.5 298.8L328.5 297.1L327.5 299L326.5 297.5L325.5 297.6L324.5 301.3L323.5 299.1L322.5 296.5L321.5 297.2L320.5 296.5L319.5 297.5L318.5 297.5L317.5 301.1L316.5 300L315.5 295.9L314.5 298.9L313.5 297.6L312.5 297.4L311.5 298.6L310.5 301L309.5 297.2L308.5 301.1L307.5 299.4L306.5 300L305.5 297.3L304.5 298.5L303.5 298.9L302.5 299.3L301.5 299.1L300.5 299.5L299.5 297.5L298.5 296.5L297.5 296.1L296.5 297.4L295.5 298.2L294.5 298.6L293.5 297L292.5 299.8L291.5 298.8L290.5 301.4L289.5 299.6L288.5 295.8L287.5 299L286.5 298.7L285.5 298L284.5 300.1L283.5 297L282.5 297L281.5 300.4L280.5 297L279.5 297.7L278.5 298.5L277.5 296.8L276.5 296.4L275.5 300.5L274.5 298.2L273.5 299.8L272.5 297.7L271.5 296L270.5 298.5L269.5 296.6L268.5 298.5L267.5 299.4L266.5 299.6L265.5 298.1L264.5 297.7L263.5 297.7L262.5 296.4L261.5 298.8L260.5 298.9L259.5 299.3L258.5 298L257.5 298.8L256.5 295.9L255.5 296.6L254.5 298.2L253.5 296.8L252.5 297.4L251.5 297.9L250.5 299.6L249.5 296.7L248.5 299.5L247.5 298.4L246.5 299.1L245.5 296.4L244.5 297.1L243.5 297.6L242.5 300.3L241.5 296.9L240.5 299.3L239.5 301.4L238.5 297.3L237.5 299.5L236.5 300.8L235.5 298.4L234.5 296.1L233.5 298.4L232.5 296.4L231.5 298.8L230.5 298.7L229.5 297.2L228.5 298.8L227.5 297.6L226.5 297.1L225.5 298.3L224.5 298.7L223.5 297.4L222.5 298.8L221.5 295.4L220.5 296.9L219.5 298.4L218.5 301.5L217.5 297.2L216.5 298.5L215.5 300.4L214.5 300.4L213.5 297L212.5 295.6L211.5 296.5L210.5 296.3L209.5 298.5L208.5 297.7L207.5 300L206.5 299L205.5 297.2L204.5 298.9L203.5 297.7L202.5 298.2L201.5 300.6L200.5 298.3L199.5 299.3L198.5 298.5L197.5 298.3L196.5 299.5L195.5 296.5L194.5 300.2L193.5 296.9L192.5 296.7L191.5 297.3L190.5 297.6L189.5 297.2L188.5 297.6L187.5 300.3L186.5 297.7L185.5 296.3L184.5 297.4L183.5 298.8L182.5 299.3L181.5 300.7L180.5 298.5L179.5 298.2L178.5 298L177.5 297.3L176.5 297.8L175.5 296.6L174.5 299L173.5 296.1L172.5 296.6L171.5 298.9L170.5 297.5L169.5 298.6L168.5 296.2L167.5 298.1L166.5 295.3L165.5 300.7L164.5 297.1L163.5 298.9L162.5 301.3L161.5 297.9L160.5 295.9L159.5 296L158.5 297.2L157.5 298.9L156.5 300.1L155.5 301.6L154.5 299L153.5 296.6L152.5 300.4L151.5 297.2L150.5 296.6L149.5 300.4L148.5 297.6L147.5 302.2L146.5 296.3L145.5 297.1L144.5 296.8L143.5 297.5L142.5 298.8L141.5 297.3L140.5 297.4L139.5 297.4L138.5 296.2L137.5 296.2L136.5 298.4L135.5 296.7L134.5 301.4L133.5 299.5L132.5 296.3L131.5 297.5L130.5 297.2L129.5 297.8L128.5 298.9L127.5 299L126.5 299.5L125.5 297.2L124.5 297.9L123.5 298.3L122.5 298.3L121.5 298.3L120.5 300.3L119.5 299.4L118.5 297.1L117.5 296.4L116.5 296.4L115.5 300.1L114.5 299L113.5 296.2L112.5 299.4L111.5 299.1L110.5 299.4L109.5 299.2L108.5 299.1L107.5 301.4L106.5 297.9L105.5 298L104.5 299.3L103.5 296.9L102.5 299.2L101.5 296.9L100.5 299.2L99.5 298.2L98.5 300.5L97.5 298.5L96.5 299.2L95.5 296.5L94.5 298.2L93.5 299.6L92.5 297.6L91.5 300.2L90.5 300.5L89.5 298.2L88.5 297.3L87.5 296.1L86.5 297.5L85.5 298L84.5 299.5L83.5 302.2L82.5 301.5L81.5 297.6L80.5 297.6L79.5 297.4L78.5 295.8L77.5 300.1L76.5 298L75.5 297.3L74.5 299.6L73.5 299L72.5 299.9L71.5 297.5L70.5 297.8L69.5 299.6L68.5 300.2L67.5 297.4L66.5 296.7L65.5 301.6L64.5 297.7L63.5 300.7L62.5 299.4L61.5 295.8L60.5 296.7L59.5 298.3L58.5 297.5L57.5 297.1L56.5 297.5L55.5 298.7L54.5 299L53.5 300.4L52.5 298L51.5 299.3L50.5 298L49.5 297.6L48.5 298.9L47.5 297.9L46.5 298L45.5 298.5L44.5 297.6L43.5 297.8L42.5 298.2L41.5 296.1L40.5 299.2L39.5 298.1L38.5 297.1L37.5 297.7L36.5 298.5L35.5 296.8L34.5 301L33.5 298.6L32.5 301.2L31.5 299.6L30.5 298.4L29.5 298.6L28.5 299L27.5 297L26.5 296.9L25.5 298.6L24.5 298L23.5 299.2L22.5 297.8L21.5 297.3L20.5 297.7L19.5 298.7L18.5 300.4L17.5 296.1L16.5 298.5L15.5 298.5L14.5 298.5L13.5 296.8L12.5 298L11.5 295.8L10.5 298L9.5 298.7L8.5 296.9ZM114.9 290.0L116.3 290.0L116.1 308.0L115.1 308.0ZM383.8 290.0L385.2 290.0L385.0 323.0L384.0 323.0ZM391.0 290.0L392.4 290.0L392.2 309.4L391.2 309.4ZM395.3 290.0L396.7 290.0L396.5 307.7L395.5 307.7Z" fill="#000" stroke="#000" stroke-width="0.5" stroke-linejoin="round"/>
<path d="M348.0 259.8L348.0 353.6" stroke="#000" stroke-width="1.4" stroke-dasharray="9 7.5" stroke-dashoffset="2.4" fill="none"/>
<path d="M347.3 260.5L397.1 260.5" stroke="#000" stroke-width="1.4" stroke-dasharray="9 7.5" stroke-dashoffset="5" fill="none"/>
<path d="M396.4 259.8L396.4 353.6" stroke="#000" stroke-width="1.4" stroke-dasharray="9 7.5" stroke-dashoffset="4" fill="none"/>
<path d="M348.0 353.6L396.4 353.6" stroke="#000" stroke-width="1.4" stroke-dasharray="9 7.5" stroke-dashoffset="6.7" fill="none"/>
<path d="M348.0 353.6L9.5 386.0" stroke="#000" stroke-width="1.4" stroke-dasharray="20 8" stroke-dashoffset="2" fill="none"/>
<path d="M396.4 353.6L466.0 391.0" stroke="#000" stroke-width="1.4" stroke-dasharray="8 5.5" stroke-dashoffset="2" fill="none"/>
<path d="M7.5 396.5L8.2 396.7L9 394.7L9.8 394.8L10.5 397.6L11.2 396.3L12 396.3L12.8 397.9L13.5 395.9L14.2 395.4L15 397.6L15.8 395.1L16.5 397.7L17.2 393.5L18 395.9L18.8 397.5L19.5 396.9L20.2 394.7L21 395.3L21.8 394.3L22.5 396.4L23.2 396.2L24 398L24.8 398L25.5 394.7L26.2 396.3L27 395.4L27.8 397.2L28.5 396.3L29.2 396.3L30 397.9L30.8 394.6L31.5 397.3L32.2 395.6L33 396L33.8 394.9L34.5 397.1L35.2 396.9L36 393.8L36.8 395.6L37.5 397.8L38.2 396.7L39 396.8L39.8 397.2L40.5 397.9L41.2 395.4L42 395.1L42.8 394.3L43.5 395.1L44.2 397.8L45 397.7L45.8 395.1L46.5 396.4L47.2 396.6L48 396L48.8 394.1L49.5 392.6L50.2 397.8L51 396.4L51.8 397.7L52.5 396.2L53.2 396.1L54 395.5L54.8 396.2L55.5 396.5L56.2 397.9L57 398.2L57.8 395.5L58.5 396.4L59.2 397.1L60 396.5L60.8 392.8L61.5 395.4L62.2 396.1L63 397.2L63.8 396.6L64.5 395L65.2 394.2L66 396.9L66.8 395.7L67.5 399L68.2 398.7L69 398.4L69.8 398.8L70.5 397.2L71.2 395.9L72 399.3L72.8 394.3L73.5 395.2L74.2 395.7L75 397.9L75.8 397L76.5 396.3L77.2 396.6L78 396.9L78.8 398.3L79.5 398.1L80.2 396.6L81 396.6L81.8 399.5L82.5 394.2L83.2 395.8L84 396.2L84.8 397.3L85.5 396.3L86.2 398.2L87 397.1L87.8 398.1L88.5 398.2L89.2 395.9L90 394.5L90.8 396.6L91.5 398L92.2 395.5L93 394.7L93.8 397.1L94.5 397L95.2 397.9L96 397.7L96.8 396.7L97.5 393.2L98.2 398.8L99 396L99.8 395.6L100.5 397.2L101.2 395.8L102 398.2L102.8 396.5L103.5 394.5L104.2 395.9L105 397.5L105.8 397.5L106.5 396L107.2 396.1L108 398L108.8 392L109.5 395.6L110.2 398.5L111 397.5L111.8 398L112.5 391.1L113.2 392.5L114 397.5L114.8 396.4L115.5 397.8L116.2 396.2L117 397.7L117.8 395.8L118.5 396.9L119.2 395.4L120 396L120.8 396.2L121.5 394.2L122.2 396.4L123 394.9L123.8 393.9L124.5 398.7L125.2 399.3L126 397L126.8 396.8L127.5 397.5L128.2 393.6L129 394.3L129.8 395.9L130.5 397L131.2 396.7L132 391.2L132.8 396.2L133.5 396.3L134.2 395L135 397.9L135.8 395.3L136.5 397.7L137.2 396.8L138 395.4L138.8 391.7L139.5 398.9L140.2 397.5L141 396.4L141.8 396.2L142.5 393.5L143.2 397.9L144 397.6L144.8 395.1L145.5 394.5L146.2 396.2L147 396.8L147.8 399.2L148.5 396.9L149.2 393.5L150 396.5L150.8 396.9L151.5 391.7L152.2 393.6L153 396.2L153.8 396.5L154.5 395L155.2 396L156 396.5L156.8 394.2L157.5 396.7L158.2 392L159 396.1L159.8 396.9L160.5 395.9L161.2 397.1L162 396.5L162.8 395.5L163.5 395.1L164.2 399.2L165 399.2L165.8 398.8L166.5 394.9L167.2 397.1L168 397L168.8 396.8L169.5 393.7L170.2 394.2L171 396.1L171.8 396.4L172.5 398L173.2 396.9L174 398.1L174.8 395.7L175.5 395.4L176.2 396.8L177 396.3L177.8 394.1L178.5 393.4L179.2 394.8L180 396.4L180.8 398.9L181.5 392.5L182.2 398.9L183 394.2L183.8 396.2L184.5 398.2L185.2 398.2L186 397.5L186.8 397.9L187.5 396L188.2 393.4L189 395.8L189.8 394.6L190.5 395.9L191.2 395.1L192 395.7L192.8 394.8L193.5 392.2L194.2 396.7L195 393.8L195.8 396.1L196.5 398.3L197.2 397.4L198 395L198.8 398.8L199.5 396.7L200.2 394.6L201 398.7L201.8 399.2L202.5 396.2L203.2 394.8L204 394.8L204.8 396.5L205.5 397.3L206.2 396.4L207 392.9L207.8 397.5L208.5 394.6L209.2 394.6L210 396.4L210.8 396.5L211.5 393.2L212.2 396.9L213 395.9L213.8 397.4L214.5 392.9L215.2 397L216 397.5L216.8 395.9L217.5 397.3L218.2 397.9L219 398.1L219.8 394.9L220.5 393.5L221.2 397L222 397L222.8 397L223.5 394.4L224.2 397L225 397.4L225.8 395.8L226.5 395.2L227.2 396.1L228 397.6L228.8 395.8L229.5 394L230.2 395.1L231 395.8L231.8 397.1L232.5 391.6L233.2 393.3L234 394.4L234.8 396L235.5 397.8L236.2 392.8L237 392.8L237.8 398.2L238.5 396.5L239.2 399.1L240 395L240.8 396.6L241.5 397.5L242.2 397.7L243 394.6L243.8 395L244.5 397.7L245.2 397.7L246 396.9L246.8 393.7L247.5 396.3L248.2 395.9L249 395.7L249.8 395.7L250.5 395.7L251.2 396.4L252 395.7L252.8 395.5L253.5 396.9L254.2 395.3L255 395.3L255.8 397.7L256.5 395.8L257.2 388.5L258 394.9L258.8 392.9L259.5 397.2L260.2 392L261 397.4L261.8 395.9L262.5 398.1L263.2 398.3L264 396.5L264.8 396L265.5 398.3L266.2 395.9L267 394.2L267.8 397.9L268.5 397.5L269.2 396L270 397L270.8 394.3L271.5 396.2L272.2 398.1L273 398.6L273.8 398.4L274.5 394.8L275.2 396.3L276 394.9L276.8 395.1L277.5 396.3L278.2 396.3L279 397.2L279.8 389.9L280.5 396.8L281.2 395.1L282 398.2L282.8 396.6L283.5 396.6L284.2 395.4L285 394.9L285.8 396.4L286.5 396.6L287.2 398L288 396.4L288.8 397.7L289.5 394.4L290.2 395.6L291 391.7L291.8 398.9L292.5 395.6L293.2 396.5L294 395.7L294.8 394.5L295.5 395.7L296.2 397.1L297 396.3L297.8 396.3L298.5 402.7L299.2 407.6L300 403.7L300.8 399.6L301.5 400.1L302.2 402L303 400L303.8 398L304.5 398.8L305.2 398.6L306 398L306.8 398.2L307.5 395.7L308.2 398.1L309 395.9L309.8 395.2L310.5 397.9L311.2 397L312 395.9L312.8 395.6L313.5 396.7L314.2 397.9L315 397.9L315.8 395.8L316.5 396.9L317.2 395.7L318 396.4L318.8 396.4L319.5 397.3L320.2 396.3L321 395.6L321.8 395.8L322.5 396.5L323.2 390.5L324 390.5L324.8 394.4L325.5 396.5L326.2 394L327 396.5L327.8 396.6L328.5 394.7L329.2 394.2L330 398.6L330.8 394L331.5 396.8L332.2 394.5L333 398L333.8 397.8L334.5 394.2L335.2 398.7L336 397.3L336.8 396L337.5 394.9L338.2 393.6L339 397.4L339.8 395.4L340.5 397.2L341.2 392.8L342 393.2L342.8 395.8L343.5 396.6L344.2 396.6L345 397.1L345.8 397L346.5 396.5L347.2 395L348 396.6L348.8 395.6L349.5 396.5L350.2 396.4L351 399.5L351.8 395.9L352.5 396.9L353.2 411L354 409.2L354.8 402.7L355.5 405.3L356.2 401.9L357 399.7L357.8 400.9L358.5 396.3L359.2 397.5L360 397.5L360.8 398.7L361.5 397.1L362.2 396.4L363 398.4L363.8 397.5L364.5 396.9L365.2 396.1L366 394.8L366.8 398.8L367.5 398L368.2 397.4L369 395.8L369.8 396.9L370.5 395.4L371.2 394.7L372 393.1L372.8 393.4L373.5 396.5L374.2 395.8L375 394.7L375.8 394.7L376.5 396.6L377.2 397.3L378 395.3L378.8 397.8L379.5 397.2L380.2 398.2L381 406.4L381.8 403.7L382.5 401.3L383.2 402.8L384 396.3L384.8 396.8L385.5 398.7L386.2 397.1L387 398.8L387.8 397.8L388.5 397.6L389.2 396.9L390 398.5L390.8 396.5L391.5 398.1L392.2 398.6L393 394.7L393.8 397L394.5 398L395.2 396.6L396 399L396.8 395.6L397.5 396.5L398.2 394.8L399 396.9L399.8 397.1L400.5 397.1L401.2 396.8L402 396.9L402.8 396.8L403.5 395.5L404.2 392.7L405 396L405.8 397.4L406.5 397.9L407.2 394.9L408 396.7L408.8 396.7L409.5 396.8L410.2 395.9L411 396.1L411.8 398.2L412.5 397.1L413.2 396.5L414 396.5L414.8 392.4L415.5 393.7L416.2 394.6L417 395.9L417.8 398.8L418.5 397.5L419.2 398.1L420 397.9L420.8 395.8L421.5 396.6L422.2 396.8L423 398.3L423.8 396.4L424.5 396.4L425.2 397.3L426 396.4L426.8 395.8L427.5 392.9L428.2 395.9L429 395.4L429.8 397.1L430.5 399.1L431.2 395.5L432 392.9L432.8 397L433.5 394.6L434.2 395.9L435 397.8L435.8 393.1L436.5 395.7L437.2 397.5L438 394.6L438.8 392.3L439.5 396.2L440.2 396.4L441 396.7L441.8 396L442.5 399L443.2 399L444 395.7L444.8 392.8L445.5 396.3L446.2 396.7L447 394.6L447.8 396.9L448.5 392.9L449.2 398.3L450 398L450.8 397.8L451.5 395.5L452.2 396.8L453 397.8L453.8 394L454.5 395.2L455.2 395.7L456 395.3L456.8 398L457.5 395.8L458.2 395.7L459 394L459.8 396.6L460.5 395.7L461.2 398L462 397.7L462.8 396.5L463.5 397.6L464.2 394.9L465 397.8L465.8 395.9L466.5 395.6L467.2 399L468 394.2L468.8 396.8L469.5 394L470.2 394L471 395.4L471.8 397.8L471.8 409.3L471 409.2L470.2 407.7L469.5 410.2L468.8 408.3L468 413.9L467.2 409.9L466.5 411.2L465.8 409.6L465 410L464.2 409.3L463.5 409.4L462.8 409.7L462 409.2L461.2 412.5L460.5 409.2L459.8 407.7L459 411.8L458.2 411.4L457.5 409L456.8 409.8L456 407L455.2 408.3L454.5 409.5L453.8 411.1L453 408.6L452.2 411.5L451.5 410.1L450.8 409.5L450 412.9L449.2 412.9L448.5 408.8L447.8 410.8L447 410L446.2 408L445.5 411.9L444.8 409.2L444 407.6L443.2 409.6L442.5 410.5L441.8 409.9L441 409.9L440.2 410.3L439.5 409.4L438.8 409.5L438 409.5L437.2 409.8L436.5 410.5L435.8 410.4L435 410.6L434.2 409.9L433.5 408.9L432.8 408.4L432 410.8L431.2 409.2L430.5 408.8L429.8 408.9L429 410.5L428.2 411.7L427.5 408.8L426.8 408.8L426 409.1L425.2 408.3L424.5 410.3L423.8 407.8L423 407.7L422.2 409.8L421.5 409.6L420.8 412.9L420 410.7L419.2 409.5L418.5 408.7L417.8 411.9L417 410.4L416.2 409.5L415.5 410.8L414.8 408.5L414 411.2L413.2 409.3L412.5 412L411.8 409.8L411 409.6L410.2 413.5L409.5 407L408.8 411.1L408 408.5L407.2 413.4L406.5 409.5L405.8 408.1L405 412.5L404.2 408.5L403.5 407.4L402.8 408.9L402 411.3L401.2 410.5L400.5 408.4L399.8 411.1L399 411L398.2 412L397.5 411.1L396.8 413.7L396 410.4L395.2 407.7L394.5 408.6L393.8 408.8L393 408.5L392.2 409.1L391.5 409.8L390.8 409.1L390 411.2L389.2 410L388.5 409.4L387.8 412.3L387 411.3L386.2 410.6L385.5 414.3L384.8 412.5L384 414.2L383.2 414.1L382.5 413.7L381.8 415.7L381 422.6L380.2 424.4L379.5 410.6L378.8 407.9L378 411.6L377.2 409.9L376.5 409.4L375.8 410.7L375 410.2L374.2 411.8L373.5 410.1L372.8 408.2L372 408.6L371.2 412.6L370.5 411.6L369.8 410.3L369 411.1L368.2 408.1L367.5 408.4L366.8 412.4L366 407.1L365.2 409.9L364.5 411L363.8 409.8L363 412.4L362.2 408.6L361.5 409.9L360.8 410.3L360 409.7L359.2 410.4L358.5 410.1L357.8 411.8L357 411.6L356.2 417.8L355.5 419.2L354.8 428.2L354 422.2L353.2 435.1L352.5 438.6L351.8 407.5L351 407.1L350.2 408.1L349.5 409.4L348.8 410.2L348 409.9L347.2 410.1L346.5 408.1L345.8 411.4L345 408.6L344.2 409.4L343.5 408L342.8 408.7L342 409.6L341.2 407.4L340.5 407L339.8 409.1L339 408L338.2 410.1L337.5 408.6L336.8 410.3L336 414.1L335.2 410.4L334.5 410.4L333.8 407.7L333 408.8L332.2 410.5L331.5 409.5L330.8 412L330 409.9L329.2 408L328.5 412.2L327.8 410.4L327 409.5L326.2 413.7L325.5 411L324.8 410.2L324 411.1L323.2 410.9L322.5 409.3L321.8 409.7L321 411.7L320.2 409.1L319.5 407.8L318.8 408.9L318 410.2L317.2 409.6L316.5 409L315.8 407.4L315 409.9L314.2 410.7L313.5 410.8L312.8 408.2L312 410.5L311.2 410.8L310.5 409.1L309.8 412.6L309 411.8L308.2 410.1L307.5 411.9L306.8 414.2L306 409.1L305.2 409.4L304.5 410.4L303.8 410.1L303 411.4L302.2 413.9L301.5 415.4L300.8 418.4L300 419.9L299.2 420.3L298.5 418.1L297.8 411.5L297 408.2L296.2 413L295.5 409.3L294.8 413.8L294 410.8L293.2 409.8L292.5 409.9L291.8 409.3L291 408.2L290.2 409.4L289.5 410.9L288.8 407.9L288 408.8L287.2 408.7L286.5 407.8L285.8 407.8L285 410.2L284.2 408.9L283.5 410.3L282.8 412.3L282 410.3L281.2 407.4L280.5 409.8L279.8 410.9L279 409.9L278.2 410.9L277.5 409.1L276.8 409.3L276 408.1L275.2 409.5L274.5 408.4L273.8 407.9L273 407.9L272.2 409.2L271.5 408.7L270.8 411.9L270 408.3L269.2 410.9L268.5 408.9L267.8 411.3L267 409.9L266.2 410.7L265.5 409.1L264.8 408L264 409.8L263.2 410.8L262.5 407.9L261.8 409.3L261 407.4L260.2 408.3L259.5 410.7L258.8 414L258 408.5L257.2 411.1L256.5 410.1L255.8 408.3L255 407.2L254.2 410L253.5 410.5L252.8 408.8L252 411.5L251.2 410.7L250.5 412.6L249.8 412.5L249 408.1L248.2 409.3L247.5 410.2L246.8 408.6L246 409.5L245.2 406.6L244.5 408.9L243.8 409.1L243 406.1L242.2 409.5L241.5 412.2L240.8 411.9L240 409.4L239.2 410.5L238.5 408.1L237.8 410.7L237 411.8L236.2 408.2L235.5 411.3L234.8 411L234 409.9L233.2 409.8L232.5 411L231.8 409.7L231 408.8L230.2 410.8L229.5 408.5L228.8 408.5L228 411.3L227.2 410.3L226.5 408.1L225.8 409.4L225 408.1L224.2 407.3L223.5 410.5L222.8 407.8L222 409.5L221.2 410L220.5 412.4L219.8 412.1L219 408.9L218.2 410.2L217.5 412.3L216.8 413L216 408.9L215.2 409.7L214.5 413.1L213.8 410.2L213 408.5L212.2 409.2L211.5 409.6L210.8 412.5L210 411.3L209.2 412.3L208.5 407.7L207.8 411.8L207 409.5L206.2 409L205.5 408.3L204.8 410L204 407.8L203.2 411.2L202.5 413.1L201.8 409.1L201 411.9L200.2 411.9L199.5 413.2L198.8 409.8L198 409L197.2 408.2L196.5 408L195.8 409.5L195 410L194.2 412.5L193.5 411L192.8 412.9L192 408.4L191.2 407.7L190.5 408.6L189.8 408.8L189 411.1L188.2 410.4L187.5 409.9L186.8 408.4L186 410.5L185.2 412.4L184.5 408L183.8 408.4L183 411.5L182.2 408.5L181.5 408.3L180.8 408.3L180 412.2L179.2 414.2L178.5 407.7L177.8 410.2L177 409.9L176.2 409.5L175.5 408.9L174.8 410.2L174 408.6L173.2 410.1L172.5 409.2L171.8 408.5L171 410.1L170.2 408L169.5 409.8L168.8 409.8L168 411L167.2 406.8L166.5 408.3L165.8 409.5L165 412.7L164.2 411L163.5 411.2L162.8 410L162 409.5L161.2 410.4L160.5 409.7L159.8 409.2L159 407.3L158.2 408.2L157.5 407.7L156.8 408.5L156 407.5L155.2 407.7L154.5 410.4L153.8 410.7L153 410.2L152.2 408.5L151.5 408.2L150.8 408.8L150 411.7L149.2 409.1L148.5 409.2L147.8 409.2L147 408.9L146.2 409.1L145.5 408.1L144.8 411.9L144 408.5L143.2 409.8L142.5 410.1L141.8 408.7L141 409.2L140.2 409.5L139.5 407.4L138.8 410.9L138 409.9L137.2 408.9L136.5 411.4L135.8 411L135 412.1L134.2 411.3L133.5 409.4L132.8 409.1L132 410.6L131.2 407.3L130.5 408.3L129.8 413.4L129 407.1L128.2 408.7L127.5 409L126.8 409.6L126 410.9L125.2 410.2L124.5 409.6L123.8 409.4L123 407.6L122.2 407.6L121.5 410.3L120.8 409L120 412.4L119.2 410.4L118.5 408.7L117.8 410.1L117 412L116.2 412L115.5 409.8L114.8 408.1L114 406.8L113.2 407.4L112.5 409L111.8 409.3L111 411.1L110.2 409L109.5 408.6L108.8 411.2L108 408.7L107.2 411.1L106.5 408.4L105.8 410.9L105 408.8L104.2 410L103.5 411.2L102.8 409.7L102 409.1L101.2 409.9L100.5 409.1L99.8 409.2L99 411L98.2 411.2L97.5 410.2L96.8 411.2L96 411.8L95.2 409L94.5 412L93.8 408L93 410.3L92.2 408.7L91.5 409.2L90.8 410L90 410.8L89.2 408.3L88.5 410.8L87.8 411.9L87 411.8L86.2 409.7L85.5 409.6L84.8 408.5L84 410.5L83.2 410.5L82.5 406.7L81.8 411.1L81 409.3L80.2 410.4L79.5 410.8L78.8 408.5L78 411.3L77.2 411.9L76.5 408.7L75.8 410.1L75 408.9L74.2 410.1L73.5 408.7L72.8 409.2L72 409.2L71.2 410.8L70.5 411.6L69.8 408.7L69 409.6L68.2 413.1L67.5 408.5L66.8 409.6L66 409.6L65.2 409.7L64.5 410.3L63.8 408.7L63 409L62.2 408.5L61.5 412.2L60.8 407.5L60 408.8L59.2 408.1L58.5 411.8L57.8 413.7L57 409.6L56.2 408.5L55.5 408.8L54.8 408.8L54 410.3L53.2 410.3L52.5 410.3L51.8 411.4L51 407.7L50.2 408.5L49.5 409.9L48.8 410L48 410.3L47.2 408.3L46.5 408.7L45.8 410.6L45 410.2L44.2 411.6L43.5 414.6L42.8 410.4L42 410.1L41.2 408.7L40.5 410L39.8 411.2L39 408.5L38.2 408.8L37.5 412.5L36.8 408L36 410.6L35.2 406.7L34.5 407.6L33.8 407.7L33 410L32.2 410.4L31.5 406.7L30.8 408.3L30 411.3L29.2 410.7L28.5 407.6L27.8 413.3L27 410.4L26.2 409.8L25.5 413.3L24.8 411.5L24 410.8L23.2 409.5L22.5 412L21.8 410.5L21 410.6L20.2 410.8L19.5 410.4L18.8 408.9L18 409.2L17.2 409.6L16.5 411.3L15.8 410.4L15 411.1L14.2 410.9L13.5 409.7L12.8 409.3L12 409.3L11.2 410.8L10.5 409.9L9.8 410.6L9 409.6L8.2 412.3L7.5 410.4Z" fill="#000" stroke="#000" stroke-width="0.5" stroke-linejoin="round"/>
<text x="585.5" y="62.0" font-size="25" textLength="156.5" lengthAdjust="spacingAndGlyphs">APP/PS1+SD</text>
<path d="M617 88L618 88L619 86.1L620 84.7L621 89.5L622 88.3L623 89.5L624 88.6L625 87.2L626 88.6L627 89.7L628 88.1L629 87.9L630 88.7L631 88.5L632 87.6L633 90.3L634 89.8L635 88.8L636 87.6L637 86.8L638 87.3L639 87.3L640 89.9L641 90.8L642 88.8L643 89.3L644 90.1L645 90L646 89.5L647 89.1L648 88.1L649 88.8L650 89.3L651 87.3L652 88.7L653 88.5L654 89.1L655 89.8L656 88L657 90.6L658 88.8L659 90L660 88.3L661 88.3L662 90.8L663 88.2L664 88.1L665 88.1L666 89.4L667 89.4L668 89L669 89.9L670 87L671 87.8L672 89.5L673 88.2L674 89.9L675 85.9L676 89L677 89.1L678 89.6L679 89.4L680 88.1L681 90.3L682 88.5L683 88.7L684 88.7L685 89.1L686 90.2L687 88.6L688 89.7L689 87.1L690 90.1L691 90.1L692 89.6L693 89.9L694 88.2L695 89.1L696 89.1L697 91.3L698 88.1L699 89.7L700 86.2L701 88.4L702 88.5L703 89.2L704 88.7L705 87.8L706 88.4L707 88.3L708 89.3L709 88.6L710 90.4L711 87.1L712 88.8L713 88.9L714 86.3L715 90.1L716 88.3L717 89.2L718 88L719 88.1L720 88.1L721 86.3L722 86.4L723 88.7L724 89.4L725 87.6L726 87.9L727 88L728 88L729 90.3L730 89L731 88.4L732 88.4L733 89.5L734 88.6L735 86.7L736 89.7L737 87.3L738 88.4L739 89.3L740 89.7L741 90.4L742 88.2L743 90.1L744 89.3L745 89.3L746 89.4L747 87.8L748 90.2L749 88L750 89.5L751 89.7L752 89.4L753 88.4L754 88.7L755 90.8L756 90.7L757 88.7L758 90L759 87.1L760 88.9L761 87L762 89.3L763 88.3L764 86.3L765 89.9L766 89.6L767 89.9L768 88.2L769 88.8L770 89.1L771 88.3L772 89.3L773 90.1L774 89.8L775 87.8L776 88.3L777 88.4L778 90.1L779 87.6L780 88.2L781 88.4L782 88.5L783 87.6L784 88.6L785 88.4L786 87.5L787 89.1L788 89.3L789 90L790 90.5L791 87.6L792 88.1L793 88.2L794 89L795 89.6L796 89L797 89L798 88.5L799 87.1L800 88.3L801 89.3L802 89.1L803 87.2L804 87.9L805 88.1L806 86.9L807 88.2L808 88.2L809 87.7L810 90.7L811 89L812 90.2L813 88.4L814 88.9L815 88.8L816 89L817 89.6L818 89.4L819 89.3L820 85.5L821 88.7L822 88.3L823 88.7L824 89.4L825 90.2L826 88.8L827 87L828 89.7L829 90.4L830 88.6L831 89.6L832 88.9L833 89.5L834 86L835 88.3L836 86.7L837 86.9L838 85.1L839 86.6L840 87.2L841 89.1L842 89.3L843 85.7L844 89.8L845 90.2L846 90.1L847 86.2L848 87L849 87.9L850 90L851 88.1L852 88.9L853 90.6L854 90.2L855 87.2L856 89.9L857 88.6L858 87.2L859 89.1L860 90.9L861 89L862 86.7L863 87.5L864 89.4L865 88.9L866 86.9L867 86.7L868 88.4L869 89.9L870 88.2L871 90.1L872 89.7L873 88.5L874 86.8L875 88.8L876 87.2L877 87.4L878 86.5L879 88.7L880 89.2L881 91L882 88L883 90.2L884 87.9L885 86L886 87.6L887 88.7L888 86.5L889 91.5L890 87.1L891 89.5L892 86.4L893 89.7L894 88.7L895 88.5L896 87.7L897 86L898 88.2L899 89.6L900 89.2L901 87.3L902 89L903 83.8L904 86.8L905 86.8L906 88.4L907 87.5L908 88.8L909 89.1L910 90.7L911 89.2L912 89.7L913 88.6L914 86.7L915 90.1L916 87L917 89.4L918 87.1L919 88.5L920 89.1L921 87.3L922 87.6L923 86.9L924 88.8L925 89.4L926 89.8L927 88.4L928 90.8L929 88.2L930 87.2L931 86.5L932 90.9L933 86.5L934 89.6L935 85.8L936 88.5L937 90.2L938 90.7L939 89.9L940 90.4L941 87.2L942 89.1L943 88.9L944 88.3L945 86.8L946 89L947 89.3L948 89.7L949 88.6L950 88.1L951 88.7L952 88.6L953 88.3L954 91.2L955 87.8L956 89.8L957 88.8L958 89.6L959 90L960 90.8L961 90L962 89.9L963 90.1L964 87.8L965 88.8L966 89.1L967 89.3L968 89.2L969 87.6L970 88.4L971 89.3L972 90.4L973 89.9L974 88.2L975 89.4L976 87.4L977 90.3L978 88.8L979 88.1L980 88.3L981 89.1L982 88.3L983 89.9L984 88.3L985 89.1L986 90.7L987 87.1L988 89.7L989 87.3L990 90.5L991 91.2L992 88.4L993 87.2L994 88.2L995 90.4L996 89.2L997 88.3L998 86.7L999 90.1L1000 86.2L1001 88.5L1002 86.1L1003 88.2L1004 88.9L1005 88.9L1006 88.5L1007 89.5L1008 89.7L1009 88.7L1010 89.1L1011 89L1012 90.1L1013 91L1014 84.3L1015 88.3L1016 88.5L1017 88.6L1018 88.5L1019 90.8L1020 88.7L1021 87.1L1022 90L1023 89.7L1024 89.2L1025 87.7L1026 88.5L1027 86.8L1028 88.9L1029 88.7L1030 88.1L1031 90.1L1032 90L1033 88.5L1034 89.8L1035 89.4L1036 89.8L1037 88.6L1038 87.6L1039 89.4L1040 88.8L1041 87.9L1042 89.2L1043 88.8L1044 88.4L1045 90.1L1046 89.2L1047 85.9L1048 89.8L1049 89.5L1050 90.4L1051 89.2L1052 88.2L1053 87.7L1054 87.3L1055 89.9L1056 89.8L1057 87.4L1058 87.2L1059 89.3L1060 89L1061 88.2L1062 89.6L1063 90.3L1064 89.5L1065 88.7L1066 88.5L1067 86.7L1068 88.3L1069 90.8L1070 89.2L1071 89.4L1072 88.2L1073 88.4L1074 87.9L1075 90.7L1076 88.3L1077 87.7L1078 88.3L1079 91.2L1080 90.2L1081 87.3L1082 87.3L1083 87.6L1083 102.7L1082 102.7L1081 99.9L1080 101L1079 100.4L1078 100.2L1077 101.7L1076 101.1L1075 103.7L1074 99.7L1073 100.9L1072 99.6L1071 102.9L1070 100.7L1069 101.5L1068 100.8L1067 99.6L1066 104.6L1065 99.6L1064 101.7L1063 101.7L1062 100.7L1061 103.1L1060 99.5L1059 102.7L1058 100.5L1057 101.4L1056 102.6L1055 102.6L1054 101.3L1053 100.3L1052 100.6L1051 101.6L1050 101.4L1049 102.4L1048 100.9L1047 99.5L1046 100.3L1045 100.6L1044 99.2L1043 101.6L1042 101L1041 101.1L1040 100.4L1039 101.9L1038 102.2L1037 102.9L1036 102.7L1035 101.9L1034 102.7L1033 102.6L1032 101.4L1031 100L1030 100.4L1029 100.5L1028 100.3L1027 101.4L1026 103.5L1025 102.4L1024 104.1L1023 99.5L1022 102.5L1021 102.5L1020 101.5L1019 101.5L1018 100.6L1017 102.1L1016 100.5L1015 101.3L1014 103.7L1013 101.6L1012 100.9L1011 100.3L1010 103L1009 102.6L1008 101.8L1007 100.1L1006 101.1L1005 101.1L1004 103.4L1003 104.3L1002 100.1L1001 100.4L1000 100.3L999 101.3L998 101.4L997 101.7L996 100L995 100.5L994 100.8L993 99.5L992 99.6L991 103.7L990 101.7L989 103.1L988 103.2L987 100.3L986 104.2L985 102.6L984 103.2L983 99.5L982 101.4L981 102.7L980 100.5L979 100.6L978 101.2L977 101L976 99.8L975 102.2L974 101.2L973 103.4L972 101.7L971 102.7L970 100.7L969 102.5L968 99.7L967 100.8L966 101.3L965 101.7L964 99.8L963 100.6L962 101.2L961 101.9L960 103.2L959 102.7L958 101.4L957 101.8L956 101.1L955 102.6L954 100.2L953 101L952 104.2L951 100.5L950 100.4L949 101.8L948 100.6L947 102.6L946 102.1L945 101.6L944 101.6L943 100.7L942 100.2L941 104L940 101.1L939 101.5L938 101.6L937 102L936 101.7L935 104.5L934 99.1L933 101.9L932 99.8L931 100.7L930 101.8L929 101L928 101.7L927 101.7L926 102.8L925 104.6L924 101.8L923 101.4L922 105.7L921 100.6L920 99.7L919 101.4L918 100.8L917 100.2L916 101.9L915 103.2L914 104.3L913 100.6L912 102.4L911 100.2L910 98.7L909 101.2L908 101.9L907 101.9L906 103.8L905 100.6L904 103.2L903 102.2L902 99.1L901 101.4L900 99.3L899 105.2L898 102.1L897 104.7L896 104.4L895 101L894 101.6L893 101.5L892 101.5L891 101L890 100.9L889 100.9L888 100.9L887 103.6L886 105L885 101.3L884 98.2L883 102.8L882 101.6L881 101.7L880 101.3L879 101.6L878 104.5L877 102L876 101.2L875 101.6L874 99.3L873 101.9L872 99.8L871 102.1L870 103.3L869 100.5L868 101.4L867 100.7L866 101.9L865 100.8L864 101.1L863 101.8L862 101L861 100.8L860 102.9L859 101.9L858 101.2L857 102.5L856 101.4L855 99.8L854 101.2L853 102L852 101.9L851 102.6L850 102L849 100.3L848 99.6L847 101.7L846 101.6L845 99.4L844 101.9L843 102.3L842 103L841 100.9L840 99.7L839 99.9L838 99.5L837 100.8L836 99.8L835 99.2L834 101.1L833 101.7L832 99.9L831 100.2L830 99.5L829 102.9L828 100.1L827 99.1L826 101.2L825 100.6L824 103.4L823 101.6L822 101.6L821 101.6L820 99.6L819 99.2L818 101.1L817 100.3L816 100.3L815 103L814 100.9L813 102.6L812 101.6L811 102.1L810 101.9L809 101.1L808 101L807 101.1L806 100.5L805 100.3L804 100L803 99.9L802 103.6L801 100.6L800 100.8L799 102L798 105.8L797 101.8L796 100.1L795 101.9L794 100.3L793 101.6L792 103.3L791 101L790 102.4L789 103L788 104.1L787 99.2L786 103.4L785 99.6L784 102.2L783 101.5L782 100.8L781 102.7L780 103.4L779 99.9L778 101.1L777 100.7L776 100.3L775 103.6L774 105.3L773 102.1L772 102.1L771 98.8L770 99.8L769 99.5L768 101.5L767 102.3L766 102.6L765 102L764 101.5L763 99.5L762 101.1L761 101.2L760 102.3L759 103.6L758 103.4L757 101.2L756 100.7L755 100.1L754 101.7L753 99.4L752 101.6L751 101.7L750 100.2L749 104.8L748 101.6L747 100.7L746 101.8L745 100.4L744 103.2L743 105.6L742 102.6L741 102.4L740 103L739 100.5L738 101.5L737 100.8L736 100.6L735 103.3L734 98.9L733 100.7L732 103L731 98.4L730 102.6L729 101.6L728 101.3L727 101.8L726 103.3L725 101.7L724 98.4L723 100.1L722 102.4L721 100.1L720 103L719 104.7L718 100.4L717 101.6L716 101.6L715 102L714 100.4L713 101.8L712 99.7L711 102.6L710 103L709 101.1L708 100.3L707 102.1L706 98.2L705 101.4L704 105.6L703 105.6L702 104.3L701 100.4L700 99.4L699 104.2L698 101.6L697 100.1L696 101.7L695 106.3L694 102.1L693 102.6L692 101.1L691 102.5L690 101.4L689 102.2L688 100.7L687 103.9L686 101.3L685 102.5L684 102.4L683 100.9L682 100.3L681 100.8L680 100.3L679 100L678 99.5L677 102.7L676 101.5L675 99.2L674 101.9L673 101.7L672 101.1L671 102.5L670 101.2L669 99.2L668 105.7L667 102.4L666 103.1L665 101.6L664 100L663 100.3L662 103.4L661 101.8L660 103.5L659 104.7L658 99.7L657 101.2L656 100.1L655 101.1L654 101.3L653 102.7L652 102.7L651 101.2L650 99.8L649 99.2L648 99.6L647 101.6L646 105.4L645 99.7L644 102.4L643 102.3L642 99.9L641 99.2L640 101.5L639 102.8L638 102.4L637 102.1L636 101.5L635 98.8L634 101L633 101.3L632 102.5L631 100.9L630 99.4L629 100.7L628 101.5L627 100.9L626 99.9L625 100.4L624 100.3L623 103.1L622 101.5L621 102.1L620 102.3L619 101.8L618 102.3L617 102.1ZM631.3 95.0L632.7 95.0L632.5 109.5L631.5 109.5ZM638.3 95.0L639.7 95.0L639.5 108.0L638.5 108.0ZM645.0 95.0L646.4 95.0L646.2 118.0L645.2 118.0ZM681.0 95.0L682.4 95.0L682.2 118.0L681.2 118.0ZM729.3 95.0L730.7 95.0L730.5 108.0L729.5 108.0ZM752.1 95.0L753.5 95.0L753.3 112.0L752.3 112.0ZM755.8 95.0L757.2 95.0L757.0 113.0L756.0 113.0ZM766.7 95.0L768.1 95.0L767.9 108.0L766.9 108.0ZM774.3 95.0L775.7 95.0L775.5 113.0L774.5 113.0ZM782.0 95.0L783.4 95.0L783.2 109.5L782.2 109.5ZM790.3 95.0L791.7 95.0L791.5 108.0L790.5 108.0ZM805.8 95.0L807.2 95.0L807.0 108.0L806.0 108.0ZM861.3 95.0L862.7 95.0L862.5 103.0L861.5 103.0ZM906.1 95.0L907.5 95.0L907.3 108.0L906.3 108.0ZM912.9 95.0L914.3 95.0L914.1 105.5L913.1 105.5ZM946.3 95.0L947.7 95.0L947.5 111.5L946.5 111.5ZM953.0 95.0L954.4 95.0L954.2 111.5L953.2 111.5ZM979.3 95.0L980.7 95.0L980.5 104.0L979.5 104.0Z" fill="#000" stroke="#000" stroke-width="0.5" stroke-linejoin="round"/>
<path d="M759.6 61.3L759.6 150.3" stroke="#000" stroke-width="1.4" stroke-dasharray="9 7.5" stroke-dashoffset="2.4" fill="none"/>
<path d="M758.9 62.0L808.9 62.0" stroke="#000" stroke-width="1.4" stroke-dasharray="9 7.5" stroke-dashoffset="5" fill="none"/>
<path d="M808.2 61.3L808.2 150.3" stroke="#000" stroke-width="1.4" stroke-dasharray="9 7.5" stroke-dashoffset="4" fill="none"/>
<path d="M759.6 150.3L808.2 150.3" stroke="#000" stroke-width="1.4" stroke-dasharray="9 7.5" stroke-dashoffset="6.7" fill="none"/>
<path d="M759.6 150.3L635.5 167.0" stroke="#000" stroke-width="1.4" stroke-dasharray="10.5 6.5" stroke-dashoffset="2" fill="none"/>
<path d="M808.2 150.3L1082.0 174.0" stroke="#000" stroke-width="1.4" stroke-dasharray="12 6.5" stroke-dashoffset="2" fill="none"/>
<path d="M618.5 184.7L619.2 184.8L620 182.1L620.8 182.1L621.5 185.8L622.2 184.5L623 184.9L623.8 183.2L624.5 184.8L625.2 184.7L626 185.3L626.8 185.1L627.5 183.9L628.2 187.1L629 184L629.8 181.5L630.5 185L631.2 183.8L632 179.9L632.8 179.9L633.5 187.1L634.2 186.6L635 184.7L635.8 182.5L636.5 183.6L637.2 183.3L638 181.9L638.8 186.3L639.5 184.5L640.2 181.7L641 184.1L641.8 184.1L642.5 183.9L643.2 188.6L644 183.7L644.8 184L645.5 186.2L646.2 186.2L647 185L647.8 178.3L648.5 185.8L649.2 185.5L650 187.1L650.8 183.4L651.5 186.2L652.2 185.4L653 185.8L653.8 185.8L654.5 186L655.2 187.2L656 184.9L656.8 185.3L657.5 187.2L658.2 188.2L659 196.7L659.8 191.5L660.5 196.4L661.2 192L662 192.2L662.8 188.5L663.5 183.9L664.2 190.3L665 187.6L665.8 188.7L666.5 186.2L667.2 183.6L668 189.3L668.8 186.8L669.5 184.4L670.2 184.3L671 183.8L671.8 184.7L672.5 179.5L673.2 186.9L674 186.9L674.8 185.7L675.5 187.3L676.2 186.3L677 186.5L677.8 183.3L678.5 186.5L679.2 183.9L680 183.6L680.8 187.1L681.5 185.3L682.2 185.5L683 186.2L683.8 183.7L684.5 184.5L685.2 185.5L686 187.1L686.8 185.9L687.5 179.1L688.2 184.2L689 188L689.8 186.2L690.5 184.7L691.2 185.1L692 185.4L692.8 184.6L693.5 182.7L694.2 185.7L695 186.1L695.8 184.2L696.5 183.9L697.2 185.3L698 184.5L698.8 184.4L699.5 186.5L700.2 185.7L701 182.4L701.8 183.6L702.5 183.6L703.2 185.2L704 186.6L704.8 186.8L705.5 184.1L706.2 186.8L707 185.6L707.8 185.6L708.5 185.5L709.2 185.2L710 187.4L710.8 188.3L711.5 183.3L712.2 186.2L713 185.6L713.8 183.8L714.5 185.5L715.2 186.5L716 183.1L716.8 185.1L717.5 185.6L718.2 186.6L719 183.5L719.8 182.6L720.5 184.1L721.2 185.8L722 189.2L722.8 185.8L723.5 186.4L724.2 185.8L725 186.8L725.8 185.3L726.5 185.4L727.2 186.1L728 183.2L728.8 184.6L729.5 185.8L730.2 181.1L731 184L731.8 185.8L732.5 183.3L733.2 187.1L734 184.6L734.8 182.7L735.5 181.8L736.2 186.5L737 187.5L737.8 194.5L738.5 188.6L739.2 191.5L740 190.7L740.8 189.1L741.5 187.7L742.2 189.5L743 187.4L743.8 183.6L744.5 187.2L745.2 185.1L746 184.5L746.8 185.7L747.5 184.9L748.2 186.9L749 184.1L749.8 185L750.5 187.3L751.2 184L752 185.4L752.8 184.3L753.5 185.3L754.2 204.1L755 199.5L755.8 200L756.5 194.4L757.2 194.5L758 190.3L758.8 191L759.5 190.2L760.2 188.5L761 191.4L761.8 187.8L762.5 185L763.2 184.9L764 185.1L764.8 184.7L765.5 188.2L766.2 188.1L767 184.2L767.8 187.9L768.5 182.6L769.2 183.3L770 186.4L770.8 184.6L771.5 184.6L772.2 180.9L773 186.6L773.8 185.8L774.5 182.7L775.2 183.8L776 184.1L776.8 182.8L777.5 187.5L778.2 184.7L779 183.8L779.8 185.7L780.5 182.7L781.2 188.1L782 185.9L782.8 182.2L783.5 184.2L784.2 180L785 183.4L785.8 181.2L786.5 181.2L787.2 185.7L788 186.6L788.8 184.4L789.5 184.7L790.2 183.8L791 181.7L791.8 185.2L792.5 181.7L793.2 184.3L794 183.4L794.8 184.1L795.5 185.2L796.2 180.5L797 180L797.8 185.9L798.5 185.6L799.2 187.6L800 186.4L800.8 181.4L801.5 183.5L802.2 185L803 187.6L803.8 185.7L804.5 186.7L805.2 183.6L806 185.3L806.8 181.7L807.5 182.6L808.2 184.8L809 184.8L809.8 188.8L810.5 185.4L811.2 184.6L812 185.8L812.8 187.7L813.5 184.1L814.2 185.3L815 186.1L815.8 186.1L816.5 188L817.2 186.5L818 182.8L818.8 187.2L819.5 185.6L820.2 180.5L821 187.1L821.8 185L822.5 185.6L823.2 188.1L824 189.1L824.8 200.7L825.5 197.9L826.2 192L827 186.7L827.8 188.1L828.5 190.6L829.2 190.3L830 187.8L830.8 187.1L831.5 184L832.2 185L833 190.8L833.8 194.6L834.5 191.3L835.2 189.6L836 186.6L836.8 187.8L837.5 187.5L838.2 186.9L839 187.1L839.8 186.7L840.5 187.1L841.2 187.4L842 180.7L842.8 180.6L843.5 187.1L844.2 185.7L845 184.4L845.8 180.5L846.5 187.2L847.2 184.9L848 186.7L848.8 182.8L849.5 188.3L850.2 182.8L851 181.4L851.8 184.6L852.5 184.5L853.2 184.5L854 185L854.8 185.4L855.5 184.7L856.2 186L857 182.7L857.8 182.2L858.5 185.1L859.2 185.5L860 184.9L860.8 187.4L861.5 185.3L862.2 183.6L863 184.6L863.8 185.8L864.5 183.5L865.2 186.8L866 186.9L866.8 183.1L867.5 186.4L868.2 186.5L869 184.3L869.8 184.3L870.5 185L871.2 187.5L872 183.1L872.8 185.7L873.5 185.1L874.2 184.3L875 185.8L875.8 186.8L876.5 187.3L877.2 182.4L878 187.4L878.8 184.6L879.5 187L880.2 184.6L881 181.8L881.8 182.8L882.5 183.7L883.2 185.8L884 183.5L884.8 187.7L885.5 188.5L886.2 187.3L887 185.7L887.8 184L888.5 184L889.2 185.9L890 185.1L890.8 183.8L891.5 184.5L892.2 185.8L893 186.8L893.8 202.2L894.5 199.6L895.2 197.5L896 194L896.8 191.5L897.5 191.3L898.2 192.3L899 189.4L899.8 187.3L900.5 189.5L901.2 186.4L902 188.8L902.8 187.2L903.5 183.7L904.2 186.7L905 185.6L905.8 184.1L906.5 186.4L907.2 187.4L908 186.5L908.8 186.8L909.5 184.4L910.2 183.8L911 184.9L911.8 183.2L912.5 184.7L913.2 184L914 187.7L914.8 183.6L915.5 184.2L916.2 184.8L917 185.8L917.8 193.5L918.5 192L919.2 188.3L920 187.7L920.8 186L921.5 184.8L922.2 185.1L923 187.3L923.8 186.4L924.5 186L925.2 185.1L926 183.7L926.8 187.6L927.5 184.1L928.2 187.5L929 185.8L929.8 184.4L930.5 184L931.2 185L932 182.6L932.8 185.3L933.5 186.1L934.2 185.6L935 183.8L935.8 187.6L936.5 186.1L937.2 183.6L938 183.6L938.8 188.1L939.5 186.7L940.2 184.2L941 187.2L941.8 187.3L942.5 183.3L943.2 186.8L944 183.7L944.8 184.5L945.5 184.9L946.2 182.1L947 187.2L947.8 186.4L948.5 187.2L949.2 186.2L950 183.4L950.8 185L951.5 185.4L952.2 187.5L953 187.2L953.8 186.8L954.5 183.1L955.2 188L956 186.7L956.8 186.2L957.5 183.1L958.2 185.7L959 190L959.8 185.8L960.5 185.1L961.2 184.8L962 186.6L962.8 180.3L963.5 188.7L964.2 186.8L965 182.8L965.8 183.1L966.5 185.2L967.2 184.9L968 183.6L968.8 184.3L969.5 187.6L970.2 184.9L971 184.9L971.8 187.4L972.5 186.7L973.2 182.1L974 186.7L974.8 184.7L975.5 183.2L976.2 184.5L977 185.1L977.8 185.5L978.5 184.4L979.2 186.4L980 185.9L980.8 186.3L981.5 186.3L982.2 187.6L983 184L983.8 187.3L984.5 183.9L985.2 187.6L986 185.3L986.8 188.4L987.5 189.3L988.2 187L989 185.4L989.8 186.3L990.5 183.9L991.2 184.5L992 187L992.8 185.1L993.5 183.6L994.2 185.5L995 185.5L995.8 187.5L996.5 186.2L997.2 187.8L998 185.7L998.8 185.8L999.5 183.7L1000.2 183.7L1001 186.9L1001.8 186.4L1002.5 186.5L1003.2 184.6L1004 182.5L1004.8 184.7L1005.5 187.9L1006.2 184.7L1007 186.7L1007.8 188L1008.5 187L1009.2 185.8L1010 188.2L1010.8 185.4L1011.5 186L1012.2 183.9L1013 186.8L1013.8 184.2L1014.5 185.6L1015.2 186.2L1016 181.6L1016.8 184.8L1017.5 185.4L1018.2 187.7L1019 185.3L1019.8 185.1L1020.5 183.5L1021.2 184.2L1022 185.3L1022.8 182.7L1023.5 182.4L1024.2 184.2L1025 185.1L1025.8 185.1L1026.5 185.2L1027.2 185.2L1028 186.1L1028.8 183.4L1029.5 181.6L1030.2 185.8L1031 184.7L1031.8 183.8L1032.5 181.5L1033.2 184.8L1034 185.3L1034.8 185.8L1035.5 187.9L1036.2 185.8L1037 185.1L1037.8 187.2L1038.5 185.3L1039.2 181.3L1040 183.6L1040.8 185.3L1041.5 186.1L1042.2 180.8L1043 184L1043.8 184L1044.5 185L1045.2 185.4L1046 182.5L1046.8 185.2L1047.5 185.3L1048.2 183.1L1049 186.4L1049.8 183.9L1050.5 183.9L1051.2 188.2L1052 182.6L1052.8 185L1053.5 185L1054.2 183.9L1055 185.6L1055.8 186.3L1056.5 185.9L1057.2 182.3L1058 182.8L1058.8 186.3L1059.5 185.4L1060.2 188.8L1061 185.3L1061.8 184.7L1062.5 185.7L1063.2 200.1L1064 193.7L1064.8 193.6L1065.5 193.9L1066.2 190.6L1067 189.6L1067.8 190.8L1068.5 185.8L1069.2 189.6L1070 187.3L1070.8 185.6L1071.5 187.6L1072.2 184.6L1073 185.9L1073.8 187L1074.5 185.1L1075.2 184.8L1076 188.3L1076.8 188.1L1077.5 185.5L1078.2 187.9L1079 186.2L1079.8 187.3L1080.5 185L1081.2 185.3L1082 183.8L1082.8 188.1L1083.5 187.6L1084.2 186.1L1084.2 198.6L1083.5 198.6L1082.8 195.5L1082 199.1L1081.2 197.1L1080.5 195.5L1079.8 196.1L1079 197L1078.2 199.2L1077.5 197.1L1076.8 199.1L1076 197.3L1075.2 200.9L1074.5 195.7L1073.8 200.3L1073 196.5L1072.2 198.1L1071.5 201.4L1070.8 203L1070 201.2L1069.2 202.7L1068.5 199.2L1067.8 205.1L1067 200.5L1066.2 205.5L1065.5 205.3L1064.8 208.2L1064 208.5L1063.2 210.6L1062.5 212.5L1061.8 195.7L1061 196.4L1060.2 198L1059.5 197.3L1058.8 199.1L1058 198.6L1057.2 195.9L1056.5 198.1L1055.8 194.6L1055 194.5L1054.2 201.5L1053.5 196.2L1052.8 195.2L1052 196.6L1051.2 198.1L1050.5 198.7L1049.8 194.5L1049 196.2L1048.2 197.4L1047.5 198.3L1046.8 198L1046 199.7L1045.2 197.6L1044.5 196.1L1043.8 194.1L1043 196.4L1042.2 196.6L1041.5 198.2L1040.8 193.9L1040 196.1L1039.2 197.8L1038.5 196.3L1037.8 202.7L1037 194.3L1036.2 197.9L1035.5 201.3L1034.8 197.3L1034 198.1L1033.2 203.6L1032.5 195.9L1031.8 199.2L1031 199.2L1030.2 197.7L1029.5 197.7L1028.8 197.9L1028 196.2L1027.2 196.2L1026.5 192.9L1025.8 197.4L1025 196L1024.2 195.5L1023.5 195.9L1022.8 197.8L1022 196.6L1021.2 197L1020.5 193.2L1019.8 197.6L1019 196.1L1018.2 195.5L1017.5 198.7L1016.8 198.7L1016 198L1015.2 197.7L1014.5 196.1L1013.8 198.1L1013 200.5L1012.2 195.3L1011.5 198.4L1010.8 196.9L1010 199.7L1009.2 196.4L1008.5 199.7L1007.8 200.5L1007 194.9L1006.2 197.5L1005.5 197.5L1004.8 197.5L1004 197L1003.2 202.2L1002.5 195.9L1001.8 195.7L1001 198.2L1000.2 195.4L999.5 197.2L998.8 196.5L998 197.9L997.2 196.5L996.5 195.1L995.8 199.6L995 197.4L994.2 196.9L993.5 194.9L992.8 196.8L992 196.6L991.2 198L990.5 194.8L989.8 197.8L989 193.3L988.2 199.2L987.5 202.3L986.8 198.9L986 197.1L985.2 197.9L984.5 196.3L983.8 198.2L983 194.7L982.2 196.7L981.5 198.3L980.8 201.4L980 201.4L979.2 197.5L978.5 197.5L977.8 203.3L977 203.3L976.2 196.5L975.5 200L974.8 198.2L974 198.2L973.2 197.5L972.5 196.9L971.8 201L971 197L970.2 196.7L969.5 196.7L968.8 195.6L968 192.3L967.2 196.8L966.5 199.2L965.8 198.1L965 195.1L964.2 196.4L963.5 195.1L962.8 196.9L962 197.2L961.2 195.6L960.5 195.1L959.8 197.3L959 196.5L958.2 195.8L957.5 197.9L956.8 197L956 199.2L955.2 196.8L954.5 200.1L953.8 195.7L953 195.7L952.2 197.7L951.5 195.6L950.8 194.4L950 196.1L949.2 196.7L948.5 198.2L947.8 196.6L947 195.9L946.2 195.8L945.5 194.6L944.8 196.6L944 196.3L943.2 198.7L942.5 197.3L941.8 198.1L941 199.4L940.2 195.2L939.5 199.3L938.8 199.3L938 201.6L937.2 195L936.5 195.7L935.8 196.7L935 195.1L934.2 195.9L933.5 195.7L932.8 196.9L932 196.7L931.2 201L930.5 195.3L929.8 198.3L929 195.2L928.2 197.3L927.5 198.4L926.8 197.9L926 195.1L925.2 200.1L924.5 201.3L923.8 196L923 195.1L922.2 199.5L921.5 199.3L920.8 198.7L920 200.6L919.2 203.6L918.5 204.7L917.8 204.6L917 205.7L916.2 196.9L915.5 195.9L914.8 196.7L914 198.7L913.2 197.3L912.5 200.2L911.8 193.1L911 194.5L910.2 196.8L909.5 201.4L908.8 199L908 196.7L907.2 195.8L906.5 194.7L905.8 199.1L905 197.6L904.2 199.8L903.5 200.7L902.8 198.4L902 201.5L901.2 197.8L900.5 200L899.8 201L899 199L898.2 202.7L897.5 202.7L896.8 201L896 205.7L895.2 207.5L894.5 210.8L893.8 215.1L893 218.3L892.2 196.7L891.5 196.4L890.8 196.9L890 197.3L889.2 197L888.5 195.2L887.8 194.2L887 198.8L886.2 197.1L885.5 196.7L884.8 198.3L884 192.4L883.2 195.8L882.5 195.9L881.8 197.2L881 196.6L880.2 198.8L879.5 199.6L878.8 196.7L878 196.7L877.2 197.4L876.5 196.6L875.8 195.5L875 195.7L874.2 195.4L873.5 197.6L872.8 197.9L872 199.9L871.2 197.5L870.5 199L869.8 198L869 198.6L868.2 197.9L867.5 197.9L866.8 197L866 197.6L865.2 198.1L864.5 198.7L863.8 193.7L863 196.5L862.2 198.8L861.5 198L860.8 196.8L860 195L859.2 197.5L858.5 198.1L857.8 198.7L857 196L856.2 195.3L855.5 196.5L854.8 196.5L854 195.9L853.2 199L852.5 198.8L851.8 198.1L851 193.9L850.2 195.6L849.5 197L848.8 196.5L848 198L847.2 198.1L846.5 195.6L845.8 196.6L845 195.9L844.2 199.2L843.5 199.3L842.8 195.5L842 198.2L841.2 198.4L840.5 198.1L839.8 199.4L839 200.7L838.2 199.7L837.5 199.4L836.8 199.5L836 202.3L835.2 203.2L834.5 201.8L833.8 206.2L833 206.2L832.2 207.5L831.5 200.8L830.8 201.4L830 202L829.2 202.2L828.5 202L827.8 205.3L827 209.8L826.2 207.3L825.5 207.5L824.8 215.1L824 217.9L823.2 195.8L822.5 195.5L821.8 198.3L821 196.5L820.2 193.8L819.5 194.9L818.8 196.5L818 197.1L817.2 195.7L816.5 196.6L815.8 195.5L815 197.4L814.2 198.4L813.5 196.5L812.8 199.4L812 199.4L811.2 196.9L810.5 194.1L809.8 200.7L809 199.7L808.2 198.8L807.5 198.3L806.8 194.9L806 194.1L805.2 197.6L804.5 195.4L803.8 197.1L803 198.4L802.2 195.3L801.5 196.6L800.8 197.4L800 196.9L799.2 198.4L798.5 195.5L797.8 195L797 199.7L796.2 197.5L795.5 197.5L794.8 197.2L794 195.6L793.2 198.2L792.5 198.2L791.8 197.3L791 197L790.2 195.8L789.5 198L788.8 197.5L788 196.4L787.2 200L786.5 197.1L785.8 198L785 204.3L784.2 202.9L783.5 196.2L782.8 196.9L782 201.9L781.2 199.2L780.5 195.4L779.8 196.6L779 200.1L778.2 195.6L777.5 197.9L776.8 194.6L776 197.8L775.2 194.1L774.5 199.5L773.8 197.9L773 195.4L772.2 196.6L771.5 197.4L770.8 200L770 198.1L769.2 196.5L768.5 196.5L767.8 198.8L767 197.6L766.2 197.8L765.5 201.9L764.8 197.1L764 198.6L763.2 199L762.5 202.6L761.8 198.9L761 202.9L760.2 203.4L759.5 202.3L758.8 205.8L758 201.4L757.2 207.3L756.5 208.9L755.8 213.6L755 212.1L754.2 219.6L753.5 222.7L752.8 198.1L752 197.5L751.2 195.6L750.5 199.5L749.8 198L749 198.3L748.2 202.1L747.5 201.1L746.8 198.4L746 197.9L745.2 197.6L744.5 199.3L743.8 196.5L743 198.1L742.2 201.6L741.5 197.5L740.8 198.1L740 200.5L739.2 202.5L738.5 203.7L737.8 207.5L737 209L736.2 195.9L735.5 197.8L734.8 197.8L734 199.2L733.2 196.3L732.5 196.3L731.8 196.7L731 198.7L730.2 197.8L729.5 197.9L728.8 196.7L728 200.2L727.2 192.8L726.5 199.9L725.8 195.3L725 197.6L724.2 196.4L723.5 196.4L722.8 198L722 200.4L721.2 198.8L720.5 197.1L719.8 196.2L719 194.7L718.2 195.6L717.5 199.4L716.8 198L716 196.4L715.2 195.8L714.5 199.5L713.8 199.5L713 196.5L712.2 197.2L711.5 196.1L710.8 196.2L710 195.2L709.2 197.2L708.5 202.4L707.8 202.4L707 195.9L706.2 198.1L705.5 195.6L704.8 196L704 197.6L703.2 195.5L702.5 200.3L701.8 195.5L701 192.7L700.2 199.6L699.5 197.4L698.8 194.1L698 203.9L697.2 196L696.5 200.1L695.8 197.8L695 195.7L694.2 194.9L693.5 194.6L692.8 196.4L692 197.7L691.2 196.5L690.5 195.1L689.8 198.3L689 198.3L688.2 197.9L687.5 197.8L686.8 196.8L686 199.2L685.2 198.7L684.5 197.4L683.8 198.4L683 201.3L682.2 195.6L681.5 197.6L680.8 199.5L680 202.6L679.2 196.1L678.5 197L677.8 196.2L677 197.1L676.2 199.7L675.5 195.4L674.8 195.4L674 195.1L673.2 200.9L672.5 199L671.8 198.7L671 198.8L670.2 195.9L669.5 199.4L668.8 197.6L668 200.7L667.2 200.5L666.5 200.8L665.8 199.5L665 198.9L664.2 198.5L663.5 203.6L662.8 202.7L662 205.6L661.2 204.5L660.5 203.4L659.8 207.7L659 211.5L658.2 213.5L657.5 195.5L656.8 197L656 197.6L655.2 201L654.5 199.5L653.8 198.5L653 197.7L652.2 195.7L651.5 200.8L650.8 200.3L650 202L649.2 197.5L648.5 195.3L647.8 198.2L647 198.6L646.2 198.2L645.5 195.5L644.8 196.1L644 195.2L643.2 196.1L642.5 200.1L641.8 198.2L641 198.2L640.2 197.9L639.5 201.9L638.8 201.7L638 194.8L637.2 199.3L636.5 199.4L635.8 196.7L635 197.5L634.2 197.1L633.5 197.6L632.8 198.7L632 197.6L631.2 196.2L630.5 193.3L629.8 198.2L629 193.7L628.2 197L627.5 199.8L626.8 197.4L626 197.2L625.2 198.9L624.5 197.4L623.8 195.1L623 195.2L622.2 198.3L621.5 197.8L620.8 197.8L620 199.2L619.2 197.3L618.5 197.3Z" fill="#000" stroke="#000" stroke-width="0.5" stroke-linejoin="round"/>
<text x="564.0" y="279.5" font-size="25" textLength="219.7" lengthAdjust="spacingAndGlyphs">APP/PS1+JuA+SD</text>
<path d="M612 297.9L613 298.4L614 298.4L615 296.9L616 297.7L617 298.1L618 299.2L619 298L620 296L621 297.9L622 298L623 300.2L624 298.1L625 299.1L626 298.9L627 298.2L628 297.5L629 298.5L630 298.3L631 298.2L632 298.9L633 297.8L634 298.5L635 295.9L636 300.5L637 299.4L638 297.4L639 297.4L640 298.5L641 297.2L642 297.5L643 297.5L644 298.5L645 297.5L646 296.8L647 297.6L648 298.3L649 298.6L650 296.9L651 298.8L652 298.1L653 296.9L654 298.9L655 297L656 297.7L657 296.7L658 298.4L659 297.9L660 298.6L661 297.2L662 298.8L663 297.6L664 298.4L665 298.7L666 298.4L667 298L668 297L669 298.2L670 297.1L671 297.3L672 298.9L673 296.4L674 299.5L675 299.2L676 299.3L677 297.7L678 297.7L679 297.4L680 297.6L681 299.1L682 298.1L683 298.8L684 298.1L685 297.7L686 298.8L687 297.9L688 297.2L689 298.2L690 298.6L691 298.6L692 296.9L693 297.3L694 297.7L695 298.4L696 298.4L697 297.6L698 299L699 298.2L700 298.4L701 299L702 296.8L703 296.9L704 298.9L705 298.8L706 297.5L707 297.4L708 296.1L709 297.9L710 297.3L711 297.5L712 298.3L713 298.1L714 298.8L715 298.2L716 298.1L717 298.4L718 298.7L719 298.5L720 298.7L721 297.6L722 298.8L723 299L724 298.5L725 298.3L726 297.1L727 298.4L728 297.2L729 296.9L730 299.2L731 297.7L732 297.1L733 297.5L734 298.6L735 296.2L736 298.9L737 297.5L738 298.3L739 298L740 296.8L741 298.4L742 298.6L743 297.4L744 298.8L745 299.7L746 298.1L747 297.6L748 297.3L749 298.3L750 296.6L751 297.8L752 296.3L753 297.8L754 298.3L755 299.9L756 298.8L757 298.7L758 296.7L759 297.7L760 296.8L761 298.8L762 298.6L763 297.8L764 297.7L765 299L766 297.5L767 297L768 299.2L769 299L770 297.3L771 297.5L772 298.6L773 297.6L774 297.5L775 299.2L776 298.7L777 298.5L778 296.9L779 297.5L780 295.7L781 298.2L782 298.5L783 298.4L784 297.8L785 297.7L786 297L787 294.5L788 298L789 296.3L790 297.7L791 298.4L792 298.1L793 299L794 298.6L795 298.5L796 297.8L797 299.3L798 296.5L799 297.7L800 296.6L801 300.1L802 297.8L803 296.8L804 298.7L805 297.7L806 297.6L807 298.5L808 298.5L809 295.3L810 297.4L811 298.2L812 297.7L813 298.8L814 297.9L815 297.3L816 297.7L817 297.3L818 297.3L819 298.5L820 298.6L821 298.1L822 295.4L823 298.5L824 297.8L825 299L826 297.3L827 297.9L828 298.6L829 298.5L830 299.2L831 299.2L832 299.4L833 298.9L834 297.3L835 297.9L836 298.8L837 297.2L838 296L839 298.9L840 296.9L841 295.8L842 299L843 297.9L844 298.1L845 297.9L846 297.6L847 298.8L848 297.6L849 296.9L850 298.2L851 299.6L852 297.7L853 299.6L854 298.8L855 298.4L856 297.4L857 297.8L858 297.2L859 299.5L860 298L861 298.5L862 297L863 298.6L864 299.1L865 298.2L866 298.5L867 298.1L868 299.2L869 298.5L870 299.8L871 297L872 298.7L873 298.8L874 299.1L875 299.8L876 298L877 298.3L878 297.5L879 297.9L880 298.1L881 296.4L882 298.4L883 298L884 299.3L885 297.5L886 298L887 297.8L888 298.1L889 299L890 298.3L891 295.6L892 299.6L893 298.4L894 298.9L895 297.6L896 298.1L897 297L898 297.4L899 299L900 298.4L901 298.9L902 298.1L903 296.9L904 298L905 298.3L906 297.4L907 297.7L908 299.2L909 299.1L910 297.4L911 298.8L912 298.3L913 298.8L914 298.6L915 298.1L916 299.4L917 298.1L918 298.6L919 298.3L920 298.7L921 298.2L922 298.8L923 297.2L924 299.1L925 299.7L926 299.3L927 299.2L928 299.2L929 299.1L930 298.5L931 298L932 299.3L933 298.4L934 298.2L935 296.5L936 295.4L937 298.7L938 298.9L939 297.2L940 298.7L941 297.7L942 298.5L943 298.4L944 297.9L945 298.7L946 297.9L947 297.1L948 299L949 298.1L950 299L951 297.7L952 298.2L953 297.4L954 299.7L955 297.4L956 299.3L957 298.3L958 297.8L959 299.5L960 296.1L961 298.5L962 298.1L963 295.6L964 299.6L965 298.4L966 297.4L967 297.7L968 298.5L969 298.3L970 299L971 297.4L972 296.3L973 297.6L974 298.4L975 298.2L976 297.4L977 299.1L978 297.8L979 298.1L980 296.7L981 298.7L982 297.9L983 297.6L984 298.7L985 298.4L986 297.4L987 298.6L988 297.5L989 298.3L990 297.1L991 296.9L992 298L993 298.8L994 295.5L995 297.3L996 296.7L997 299L998 298.9L999 299.2L1000 297.9L1001 299L1002 299.4L1003 297.6L1004 298.8L1005 297.8L1006 295.6L1007 298.8L1008 298.1L1009 296.1L1010 299L1011 296.7L1012 298L1013 298.5L1014 294.2L1015 298.4L1016 297.3L1017 297.7L1018 298.2L1019 297.3L1020 298.1L1021 297.3L1022 299.3L1023 298.3L1024 297.9L1025 297.9L1026 298.7L1027 298.3L1028 297.6L1029 298.4L1030 297.9L1031 298.1L1032 297.9L1033 298.8L1034 298.7L1035 298.3L1036 296.2L1037 296.5L1038 298.1L1039 298.1L1040 298.2L1041 299.4L1042 297.8L1043 298.6L1044 297.3L1045 296.8L1046 298.4L1047 297.2L1048 297.3L1049 297.3L1050 298.3L1051 297.6L1052 298.6L1053 296.1L1054 297.4L1055 296.9L1056 296.6L1057 297.5L1058 298L1059 297L1060 298.9L1061 296.5L1062 298.4L1063 298.8L1064 297.4L1065 297L1066 298.3L1067 296.8L1068 297.3L1069 296.5L1070 297.9L1071 295.8L1072 298.8L1073 297.5L1074 296.4L1075 298.6L1076 299.7L1077 297.2L1078 298.2L1078 309.9L1077 309.9L1076 310.5L1075 309.2L1074 309.9L1073 309.5L1072 307.5L1071 309.2L1070 308.1L1069 308.7L1068 307.6L1067 307.4L1066 308.2L1065 309.3L1064 309.6L1063 309.1L1062 307.3L1061 308.5L1060 309L1059 310L1058 308.6L1057 309.4L1056 310.3L1055 311L1054 309.3L1053 308.1L1052 309.5L1051 307.9L1050 309.1L1049 309.1L1048 310.6L1047 309.2L1046 309L1045 308.2L1044 308.6L1043 308.7L1042 310.3L1041 308.6L1040 309.2L1039 308.5L1038 308.9L1037 309.3L1036 309.5L1035 309.4L1034 308.8L1033 309.9L1032 310L1031 308.2L1030 308.6L1029 309.5L1028 310L1027 309L1026 311.9L1025 309.7L1024 309.5L1023 308.2L1022 306.9L1021 308.6L1020 308.2L1019 309.2L1018 310.4L1017 308.1L1016 309.2L1015 308.6L1014 308.4L1013 308.5L1012 308.6L1011 309.7L1010 307.2L1009 308.3L1008 308.8L1007 308.2L1006 307.4L1005 311.4L1004 309.6L1003 308.4L1002 309.7L1001 308.2L1000 306.6L999 309L998 308.1L997 311.4L996 309.8L995 309.3L994 307.8L993 309L992 307.8L991 308.3L990 311.1L989 308L988 308.8L987 308.3L986 311.3L985 309.9L984 308.3L983 309.6L982 311.3L981 308.2L980 308.5L979 308.6L978 308.1L977 309.7L976 310L975 310.3L974 309.4L973 307.9L972 309L971 307.9L970 308.8L969 308.1L968 308.6L967 309L966 309.6L965 307.9L964 309L963 308.4L962 310.3L961 308.3L960 308.5L959 310.4L958 308.9L957 309.2L956 307.9L955 308L954 309.2L953 308.6L952 308.5L951 309.3L950 308.9L949 307.6L948 310.9L947 309L946 308.3L945 309.3L944 307.8L943 309.6L942 308.9L941 310.4L940 308.4L939 306.8L938 308.4L937 312.7L936 308.5L935 307.4L934 309.1L933 308.2L932 308.3L931 308.6L930 313.2L929 309.6L928 308.7L927 309.8L926 309.4L925 308.9L924 308.1L923 307.7L922 311.6L921 308.8L920 308.1L919 308.1L918 308.1L917 308.2L916 308.5L915 310L914 308.3L913 309.9L912 308.3L911 308.4L910 308.2L909 310.5L908 308.7L907 309L906 307.3L905 313L904 309.8L903 308.7L902 308.7L901 308.4L900 309.1L899 308.4L898 309.7L897 307.9L896 309.1L895 308L894 309.4L893 308.2L892 309L891 308.1L890 308.7L889 308.4L888 310.7L887 307.9L886 307.7L885 309L884 308.7L883 308.9L882 309.4L881 308.6L880 309L879 306.8L878 308.9L877 308.9L876 308.6L875 308.4L874 308.2L873 308.9L872 308.7L871 307.5L870 310.6L869 308.9L868 307.8L867 308.6L866 308.7L865 310.2L864 308.6L863 309.2L862 309.1L861 308.4L860 308.6L859 309.1L858 307.8L857 308.6L856 308.5L855 309.7L854 309.9L853 309.5L852 309.2L851 309L850 308.2L849 310.2L848 310.1L847 309.8L846 308.7L845 311.1L844 310.6L843 309.3L842 308.3L841 308.4L840 309.1L839 312.3L838 308.3L837 309.1L836 308L835 308.8L834 307.8L833 308.1L832 308.2L831 308L830 309.2L829 308.8L828 308.9L827 308.1L826 309L825 310.1L824 310.9L823 307.6L822 308.9L821 310.7L820 308L819 307.3L818 309L817 309.9L816 309L815 308.6L814 310.1L813 308.6L812 308.5L811 310.2L810 308L809 309.6L808 309.6L807 307.5L806 310.4L805 308.7L804 309.1L803 309.2L802 309.1L801 308.7L800 309.2L799 309L798 308.4L797 309.1L796 308.5L795 309.1L794 309.6L793 309.4L792 308.9L791 309.2L790 309.9L789 308.7L788 308.8L787 308.6L786 308.7L785 309.3L784 308.9L783 311.7L782 308.4L781 308.3L780 308.8L779 309.5L778 309.2L777 307.3L776 308.5L775 310L774 309L773 307.2L772 308.6L771 310.9L770 310.1L769 308.6L768 311.6L767 308.7L766 307.8L765 307.9L764 311.5L763 307.2L762 308.1L761 308.4L760 309.6L759 308.9L758 309L757 309.1L756 311.7L755 308.3L754 310.3L753 307.5L752 308.1L751 307.9L750 309.9L749 309.1L748 311L747 308.8L746 309.1L745 308.3L744 308.1L743 309.3L742 309.3L741 308.9L740 309L739 309.1L738 310.6L737 310.9L736 308.3L735 308.6L734 309.9L733 309.1L732 307.7L731 310.3L730 309L729 308.1L728 308.4L727 310.4L726 308.5L725 309.8L724 309L723 307.2L722 308.5L721 308.1L720 309.8L719 308.3L718 307.8L717 308.8L716 311.7L715 310.1L714 308.4L713 307.7L712 307.9L711 308.4L710 309.5L709 309.8L708 308.2L707 309.6L706 309.7L705 309L704 310.3L703 310.3L702 309.1L701 308.2L700 309.2L699 309.1L698 309L697 310.3L696 310.5L695 307.9L694 308.1L693 309.2L692 310.5L691 307.8L690 309.8L689 307.6L688 310.3L687 309.1L686 308.9L685 309.6L684 308.7L683 310.6L682 308.8L681 308.8L680 309.1L679 311.1L678 308.7L677 308.8L676 308.8L675 310.7L674 308.4L673 307.9L672 308.9L671 309.1L670 309L669 309.1L668 308.5L667 311.4L666 309.7L665 310.5L664 307.4L663 308.1L662 312.8L661 308.8L660 309.6L659 307.8L658 309.1L657 308.9L656 309.2L655 308.4L654 308.6L653 308.4L652 308.5L651 309.1L650 309L649 308.8L648 308.5L647 310L646 309L645 308.9L644 309.7L643 310.2L642 309.4L641 309.4L640 308.6L639 308.3L638 310.3L637 308.8L636 309L635 309.1L634 309.1L633 308.5L632 311.2L631 310.1L630 310.7L629 309.2L628 310.8L627 307.5L626 308.1L625 308.7L624 308.4L623 310.2L622 309.2L621 309L620 309L619 309.1L618 309.7L617 309.3L616 309.3L615 307.6L614 309.6L613 308.1L612 307.4ZM707.3 303.5L708.7 303.5L708.5 316.0L707.5 316.0ZM734.3 303.5L735.7 303.5L735.5 314.5L734.5 314.5ZM816.7 303.5L818.1 303.5L817.9 315.5L816.9 315.5ZM827.9 303.5L829.3 303.5L829.1 314.5L828.1 314.5ZM907.8 303.5L909.2 303.5L909.0 317.0L908.0 317.0ZM1013.3 303.5L1014.7 303.5L1014.5 313.5L1013.5 313.5Z" fill="#000" stroke="#000" stroke-width="0.5" stroke-linejoin="round"/>
<path d="M798.0 277.3L798.0 362.4" stroke="#000" stroke-width="1.4" stroke-dasharray="9 7.5" stroke-dashoffset="2.4" fill="none"/>
<path d="M797.3 278.0L847.0 278.0" stroke="#000" stroke-width="1.4" stroke-dasharray="9 7.5" stroke-dashoffset="5" fill="none"/>
<path d="M846.3 277.3L846.3 362.4" stroke="#000" stroke-width="1.4" stroke-dasharray="9 7.5" stroke-dashoffset="4" fill="none"/>
<path d="M798.0 362.4L846.3 362.4" stroke="#000" stroke-width="1.4" stroke-dasharray="9 7.5" stroke-dashoffset="6.7" fill="none"/>
<path d="M798.0 362.4L624.0 378.0" stroke="#000" stroke-width="1.4" stroke-dasharray="13 5.5" stroke-dashoffset="2" fill="none"/>
<path d="M846.3 362.4L1080.0 378.0" stroke="#000" stroke-width="1.4" stroke-dasharray="15 5.5" stroke-dashoffset="2" fill="none"/>
<path d="M613.4 397L614.1 398.1L614.9 395.9L615.6 395.9L616.4 395.6L617.1 396.9L617.9 395.5L618.6 390.8L619.4 395.8L620.1 395.6L620.9 392.1L621.6 396.1L622.4 396.5L623.1 395.2L623.9 390.6L624.6 395.5L625.4 395.4L626.1 394.6L626.9 393.6L627.6 394.1L628.4 394.6L629.1 394.5L629.9 394.5L630.6 394L631.4 395.4L632.1 395.4L632.9 395.3L633.6 396.9L634.4 392.9L635.1 395.2L635.9 393.9L636.6 391.1L637.4 394.4L638.1 392.8L638.9 394L639.6 393.8L640.4 393.3L641.1 395.8L641.9 396.4L642.6 396.6L643.4 394.6L644.1 394.7L644.9 396.4L645.6 396L646.4 396.1L647.1 395.1L647.9 395.2L648.6 390.9L649.4 392.1L650.1 394.4L650.9 393.6L651.6 393.6L652.4 394.4L653.1 395.3L653.9 397.4L654.6 397L655.4 394.6L656.1 396.3L656.9 394.4L657.6 395.5L658.4 394.1L659.1 394.1L659.9 395.4L660.6 395.4L661.4 396.4L662.1 391.1L662.9 397L663.6 391.1L664.4 396.7L665.1 395.3L665.9 395.6L666.6 393.8L667.4 397.3L668.1 393.7L668.9 394.9L669.6 392.8L670.4 396.3L671.1 396L671.9 394.7L672.6 394.8L673.4 394L674.1 393.6L674.9 393.6L675.6 396.4L676.4 397.3L677.1 397.3L677.9 392L678.6 392L679.4 394.5L680.1 394.5L680.9 394.5L681.6 399.2L682.4 394.1L683.1 392.2L683.9 390.9L684.6 394.7L685.4 395.2L686.1 393L686.9 394.4L687.6 397.9L688.4 393.8L689.1 395L689.9 391.9L690.6 394.1L691.4 395.8L692.1 394.8L692.9 397.3L693.6 398.3L694.4 394.3L695.1 397.2L695.9 394.1L696.6 393.8L697.4 396.8L698.1 396L698.9 396.5L699.6 394.1L700.4 393.8L701.1 396.1L701.9 397.6L702.6 397.2L703.4 396.9L704.1 394.9L704.9 393.6L705.6 396.6L706.4 395.5L707.1 393.4L707.9 392.3L708.6 396.3L709.4 394.8L710.1 394.8L710.9 396.7L711.6 397.6L712.4 396.9L713.1 393.3L713.9 394L714.6 395.8L715.4 399.1L716.1 393.2L716.9 394.2L717.6 396.1L718.4 397L719.1 393.9L719.9 396.4L720.6 397.2L721.4 392.6L722.1 395.8L722.9 391.7L723.6 391.4L724.4 391.4L725.1 390.9L725.9 394.4L726.6 393L727.4 394.9L728.1 394.6L728.9 397.6L729.6 394.2L730.4 397.3L731.1 393.2L731.9 395L732.6 397.5L733.4 393.4L734.1 392.8L734.9 395.5L735.6 395L736.4 396.6L737.1 395.4L737.9 392.8L738.6 396.1L739.4 395L740.1 393.5L740.9 397.1L741.6 395.2L742.4 391.9L743.1 394.9L743.9 392.4L744.6 395.1L745.4 394.8L746.1 396.3L746.9 397L747.6 392.7L748.4 397.2L749.1 395.3L749.9 397.5L750.6 394L751.4 395.1L752.1 395L752.9 396.3L753.6 397.6L754.4 394.8L755.1 391.7L755.9 396.4L756.6 393.2L757.4 395.7L758.1 396.6L758.9 395.7L759.6 396.1L760.4 396.6L761.1 396.7L761.9 393.2L762.6 395L763.4 394.9L764.1 394.5L764.9 393.9L765.6 393.6L766.4 394.6L767.1 392.9L767.9 397.3L768.6 398.9L769.4 394.7L770.1 396.5L770.9 396.3L771.6 394.1L772.4 395.2L773.1 396.3L773.9 394.8L774.6 393.6L775.4 397.6L776.1 393.6L776.9 396.2L777.6 395.1L778.4 396.3L779.1 397.2L779.9 397.2L780.6 396.4L781.4 397.2L782.1 393.2L782.9 397.6L783.6 395.9L784.4 395L785.1 395.5L785.9 394.1L786.6 396.4L787.4 396.1L788.1 394.8L788.9 397.7L789.6 395.7L790.4 396L791.1 395.4L791.9 393.4L792.6 395.5L793.4 395.6L794.1 396.7L794.9 395.4L795.6 397.1L796.4 395.8L797.1 396L797.9 395.6L798.6 397L799.4 396.6L800.1 393L800.9 402.8L801.6 407.4L802.4 406L803.1 408.4L803.9 405.7L804.6 401.9L805.4 401.8L806.1 399.1L806.9 397.3L807.6 400.7L808.4 397.6L809.1 398.3L809.9 398.2L810.6 396.6L811.4 397.4L812.1 397.7L812.9 398.6L813.6 391.5L814.4 391.7L815.1 395.7L815.9 397L816.6 396.2L817.4 399.2L818.1 391.3L818.9 396.2L819.6 396.5L820.4 391.8L821.1 396.5L821.9 396.6L822.6 395.6L823.4 394.9L824.1 397.4L824.9 394.5L825.6 393.3L826.4 394.7L827.1 396.7L827.9 396.1L828.6 395.8L829.4 394L830.1 395L830.9 397.4L831.6 397.2L832.4 393L833.1 397.3L833.9 395L834.6 395.7L835.4 390.3L836.1 398L836.9 392.9L837.6 395.9L838.4 396L839.1 391.7L839.9 394.3L840.6 395.5L841.4 391.2L842.1 396.1L842.9 392.6L843.6 393.8L844.4 397.1L845.1 389.8L845.9 392.8L846.6 392.9L847.4 395.5L848.1 393.1L848.9 397.4L849.6 397L850.4 393.6L851.1 396.8L851.9 395.2L852.6 398.4L853.4 396.9L854.1 394.2L854.9 394.7L855.6 393L856.4 396.3L857.1 395.2L857.9 393.6L858.6 392.5L859.4 393.2L860.1 398.2L860.9 397.5L861.6 393.1L862.4 394.8L863.1 394.8L863.9 397.7L864.6 395.8L865.4 394.4L866.1 397L866.9 394.2L867.6 395.4L868.4 395L869.1 393.1L869.9 397.8L870.6 396.5L871.4 397L872.1 397.3L872.9 394.7L873.6 393.9L874.4 393.9L875.1 396.4L875.9 396.7L876.6 394.2L877.4 394.8L878.1 395.7L878.9 395.6L879.6 396.1L880.4 394.3L881.1 394.4L881.9 396.6L882.6 391.3L883.4 395.1L884.1 396.1L884.9 392.9L885.6 395.1L886.4 396.4L887.1 397.2L887.9 397.2L888.6 395.8L889.4 395.7L890.1 394.3L890.9 391.4L891.6 396.9L892.4 392.8L893.1 394.6L893.9 391L894.6 397.4L895.4 396.6L896.1 397.7L896.9 395L897.6 392.7L898.4 397.5L899.1 395.1L899.9 394.6L900.6 392L901.4 394L902.1 394L902.9 395.3L903.6 396.1L904.4 394L905.1 396.3L905.9 394.7L906.6 390L907.4 391.6L908.1 395.3L908.9 396.4L909.6 394.6L910.4 398.6L911.1 396.5L911.9 396.5L912.6 393.7L913.4 395.1L914.1 400.7L914.9 407.1L915.6 405.5L916.4 407.2L917.1 406.8L917.9 401.9L918.6 402.7L919.4 400.1L920.1 402.6L920.9 397.5L921.6 398.3L922.4 398.1L923.1 396.6L923.9 395.9L924.6 396.8L925.4 394.5L926.1 395.5L926.9 394L927.6 396.8L928.4 394.9L929.1 393L929.9 394.7L930.6 395.1L931.4 398.3L932.1 398.6L932.9 395.9L933.6 394.3L934.4 396.4L935.1 395.8L935.9 391.7L936.6 396.2L937.4 395.1L938.1 394L938.9 396.3L939.6 394.3L940.4 394.9L941.1 394.9L941.9 393.5L942.6 392.8L943.4 397L944.1 395L944.9 396.8L945.6 397L946.4 394.4L947.1 393.5L947.9 391.5L948.6 393.4L949.4 395.3L950.1 395.4L950.9 396.6L951.6 396.3L952.4 395.2L953.1 395.8L953.9 394.8L954.6 395.2L955.4 394.2L956.1 394.7L956.9 396.6L957.6 395.3L958.4 396.5L959.1 393.1L959.9 395.6L960.6 396.6L961.4 396.7L962.1 397.2L962.9 395.3L963.6 394.4L964.4 396.2L965.1 396.4L965.9 394.2L966.6 393.1L967.4 392.2L968.1 394.2L968.9 393.9L969.6 391.6L970.4 394.4L971.1 394.6L971.9 396.1L972.6 391.6L973.4 393.9L974.1 397L974.9 393.8L975.6 395L976.4 394.1L977.1 391.2L977.9 396.1L978.6 393.2L979.4 393.6L980.1 394L980.9 396.8L981.6 397.6L982.4 396.3L983.1 393.6L983.9 396.4L984.6 397.5L985.4 395L986.1 392.6L986.9 394.8L987.6 395.3L988.4 394.8L989.1 394.6L989.9 394.9L990.6 394.5L991.4 394.5L992.1 393.7L992.9 387.7L993.6 396.2L994.4 397.2L995.1 398.2L995.9 397.8L996.6 394.8L997.4 395.1L998.1 392.5L998.9 395.3L999.6 394.2L1000.4 396.2L1001.1 395.9L1001.9 395.9L1002.6 396.2L1003.4 398.6L1004.1 395.2L1004.9 394L1005.6 397.1L1006.4 394.1L1007.1 394.4L1007.9 398L1008.6 396.8L1009.4 392L1010.1 397.1L1010.9 394.3L1011.6 396.9L1012.4 397.3L1013.1 393.9L1013.9 394.4L1014.6 393.4L1015.4 395.5L1016.1 394L1016.9 394.3L1017.6 395.4L1018.4 395.4L1019.1 395.5L1019.9 395.5L1020.6 395.5L1021.4 395.8L1022.1 395.8L1022.9 393.4L1023.6 396L1024.4 395.4L1025.2 396.5L1025.9 393.7L1026.7 394.6L1027.4 396L1028.2 396.5L1028.9 398.2L1029.7 393.4L1030.4 393.6L1031.2 394.8L1031.9 396.5L1032.7 393.5L1033.4 393.5L1034.2 397.4L1034.9 391.2L1035.7 396.3L1036.4 397.5L1037.2 395.3L1037.9 395.3L1038.7 396.4L1039.4 395.3L1040.2 395.1L1040.9 394.7L1041.7 396.1L1042.4 392.7L1043.2 393.5L1043.9 395.9L1044.7 392.7L1045.4 393.9L1046.2 397.2L1046.9 392.9L1047.7 396.7L1048.4 395.2L1049.2 393.7L1049.9 393.7L1050.7 396.8L1051.4 393.7L1052.2 396.1L1052.9 394.2L1053.7 395.4L1054.4 390.5L1055.2 394.5L1055.9 394.9L1056.7 394.9L1057.4 396L1058.2 394.4L1058.9 394.9L1059.7 395.2L1060.4 398.1L1061.2 395.6L1061.9 395.3L1062.7 393.5L1063.4 396.5L1064.2 392.3L1064.9 394.6L1065.7 395.3L1066.4 392.4L1067.2 392.4L1067.9 395.5L1068.7 392.6L1069.4 395.1L1070.2 395.5L1070.9 394.4L1071.7 393.6L1072.4 393.5L1073.2 394L1073.9 394L1074.7 396.4L1075.4 392L1076.2 394.1L1076.9 396.7L1077.7 394.1L1078.4 397.2L1079.2 392.9L1079.2 405.2L1078.4 405.2L1077.7 405.5L1076.9 409.7L1076.2 409.7L1075.4 407.7L1074.7 405.6L1073.9 409.8L1073.2 407.3L1072.4 407.3L1071.7 408.5L1070.9 408L1070.2 405.3L1069.4 408.5L1068.7 407.7L1067.9 405.6L1067.2 408.7L1066.4 406L1065.7 406.5L1064.9 405.8L1064.2 405.3L1063.4 408L1062.7 409.9L1061.9 408.4L1061.2 406.2L1060.4 406.2L1059.7 409.4L1058.9 405L1058.2 408.2L1057.4 408.2L1056.7 405.1L1055.9 407.9L1055.2 406.2L1054.4 407.4L1053.7 406.2L1052.9 406.4L1052.2 408.1L1051.4 404.9L1050.7 407.4L1049.9 406.7L1049.2 404L1048.4 405.8L1047.7 405.7L1046.9 408L1046.2 406.6L1045.4 406.9L1044.7 408.6L1043.9 407.4L1043.2 409.2L1042.4 406.3L1041.7 404.7L1040.9 407.9L1040.2 404.2L1039.4 408.4L1038.7 405.9L1037.9 404.9L1037.2 406.7L1036.4 406.2L1035.7 407.2L1034.9 407.2L1034.2 407.8L1033.4 408.4L1032.7 410.3L1031.9 408.3L1031.2 404.6L1030.4 405.9L1029.7 406.1L1028.9 409.7L1028.2 410.6L1027.4 404.6L1026.7 410.4L1025.9 408.6L1025.2 408.4L1024.4 409.9L1023.6 407.3L1022.9 404.6L1022.1 405.4L1021.4 406.8L1020.6 406.9L1019.9 406.3L1019.1 406.6L1018.4 406.3L1017.6 405.7L1016.9 409.7L1016.1 406.1L1015.4 404.7L1014.6 406.9L1013.9 404.8L1013.1 407.8L1012.4 408L1011.6 410L1010.9 410L1010.1 404.5L1009.4 406L1008.6 408.7L1007.9 406.7L1007.1 409.7L1006.4 408.8L1005.6 407.6L1004.9 411.4L1004.1 406.7L1003.4 409L1002.6 403.9L1001.9 406.2L1001.1 406.7L1000.4 404.8L999.6 404.8L998.9 407.1L998.1 405.4L997.4 405.6L996.6 405.3L995.9 405.3L995.1 408L994.4 407.1L993.6 403.9L992.9 409L992.1 403.9L991.4 405.8L990.6 408.9L989.9 407.5L989.1 405.1L988.4 405.8L987.6 406.5L986.9 408.2L986.1 405.6L985.4 403.1L984.6 407.3L983.9 411.4L983.1 406.7L982.4 405.2L981.6 404.9L980.9 407.5L980.1 405.4L979.4 404.5L978.6 405.7L977.9 405.8L977.1 406.5L976.4 407.5L975.6 407L974.9 406.5L974.1 406.3L973.4 406.3L972.6 409.9L971.9 408.6L971.1 408L970.4 404.9L969.6 404.5L968.9 409.8L968.1 408.2L967.4 407L966.6 407L965.9 411.1L965.1 406.3L964.4 407.4L963.6 408.2L962.9 405.1L962.1 408.2L961.4 408.8L960.6 406.4L959.9 407.5L959.1 405.6L958.4 407L957.6 408.1L956.9 405.4L956.1 405.4L955.4 406.3L954.6 405.8L953.9 405.7L953.1 403.6L952.4 406.4L951.6 408.6L950.9 408.5L950.1 406.7L949.4 409.7L948.6 405.4L947.9 410.4L947.1 405.1L946.4 405.1L945.6 406.3L944.9 409L944.1 410.1L943.4 407.1L942.6 408.4L941.9 405L941.1 405L940.4 405.6L939.6 405.9L938.9 408.6L938.1 408.7L937.4 406.3L936.6 404.8L935.9 404.1L935.1 408.7L934.4 407.2L933.6 407.3L932.9 407.9L932.1 410.3L931.4 406.7L930.6 406.1L929.9 406.3L929.1 411.2L928.4 405.8L927.6 405.5L926.9 408.3L926.1 409L925.4 407L924.6 406.9L923.9 407.9L923.1 405.5L922.4 410.5L921.6 409.5L920.9 412L920.1 414.6L919.4 412.9L918.6 413.7L917.9 413.8L917.1 418.2L916.4 417.2L915.6 417.4L914.9 416L914.1 412.6L913.4 402.5L912.6 407.3L911.9 406.2L911.1 406.1L910.4 408.2L909.6 408.2L908.9 405.7L908.1 407.5L907.4 406.4L906.6 406.4L905.9 404.6L905.1 405.6L904.4 407.7L903.6 406L902.9 403.9L902.1 407.9L901.4 411.3L900.6 408.1L899.9 407.9L899.1 407.8L898.4 404.3L897.6 406.7L896.9 406L896.1 406L895.4 406L894.6 408.2L893.9 405.5L893.1 406.7L892.4 406.4L891.6 407.4L890.9 405.7L890.1 406.3L889.4 406.1L888.6 407.9L887.9 407.5L887.1 405.1L886.4 404.4L885.6 404.5L884.9 406.4L884.1 409.5L883.4 409.1L882.6 409.5L881.9 405.8L881.1 409.1L880.4 405.5L879.6 405.2L878.9 406L878.1 406.8L877.4 407L876.6 404.4L875.9 407.6L875.1 407.1L874.4 410.5L873.6 407L872.9 407.2L872.1 403.9L871.4 410L870.6 407.7L869.9 408.2L869.1 405.2L868.4 406.9L867.6 407.7L866.9 406.2L866.1 411.1L865.4 410.1L864.6 407.6L863.9 405.2L863.1 406.9L862.4 405L861.6 406.6L860.9 407.1L860.1 408.3L859.4 405.6L858.6 404.7L857.9 406.1L857.1 406.8L856.4 407.4L855.6 405.9L854.9 408.5L854.1 406L853.4 409.1L852.6 412.4L851.9 405.9L851.1 407.3L850.4 405.5L849.6 406.2L848.9 407.1L848.1 409.8L847.4 405.3L846.6 407.3L845.9 408.4L845.1 406.3L844.4 404.5L843.6 408.7L842.9 405.4L842.1 411.1L841.4 409.3L840.6 404.7L839.9 405.3L839.1 405.9L838.4 405.6L837.6 406.9L836.9 407.2L836.1 408L835.4 404.9L834.6 406.5L833.9 405.7L833.1 407L832.4 407L831.6 407.8L830.9 405.6L830.1 405.6L829.4 407.4L828.6 409.7L827.9 405.5L827.1 405.3L826.4 406.9L825.6 404.6L824.9 407.8L824.1 405.9L823.4 407.1L822.6 406.2L821.9 405.8L821.1 408.9L820.4 406.7L819.6 406.2L818.9 408.1L818.1 407.1L817.4 406.8L816.6 406.6L815.9 406.6L815.1 405.2L814.4 408.2L813.6 405.6L812.9 403.5L812.1 407.4L811.4 407.6L810.6 405.5L809.9 407.8L809.1 408.7L808.4 412.4L807.6 411.2L806.9 412.5L806.1 412.1L805.4 415.3L804.6 415.6L803.9 416.7L803.1 417.5L802.4 420.8L801.6 418.8L800.9 414L800.1 406L799.4 407.5L798.6 405.1L797.9 406.1L797.1 406.1L796.4 406L795.6 408.1L794.9 410.1L794.1 408.1L793.4 408.2L792.6 405.8L791.9 405.2L791.1 409.6L790.4 405.4L789.6 404.2L788.9 408.2L788.1 404.5L787.4 404.6L786.6 407.1L785.9 408.8L785.1 407.6L784.4 408.3L783.6 408.1L782.9 409.2L782.1 405.9L781.4 404.9L780.6 405.5L779.9 404.2L779.1 405.2L778.4 406.5L777.6 402.5L776.9 406.8L776.1 406.1L775.4 405.7L774.6 407.2L773.9 404.6L773.1 405.9L772.4 404.6L771.6 406.5L770.9 405.3L770.1 405.2L769.4 405.3L768.6 406L767.9 406.5L767.1 405.3L766.4 407.6L765.6 406.4L764.9 408.1L764.1 408.1L763.4 404.3L762.6 404.3L761.9 405.3L761.1 404.3L760.4 408.8L759.6 408.4L758.9 405L758.1 405.1L757.4 407.9L756.6 404.3L755.9 405.8L755.1 404.8L754.4 409.2L753.6 406.5L752.9 407.7L752.1 410.6L751.4 406L750.6 408.3L749.9 408.6L749.1 409.1L748.4 406.9L747.6 403.6L746.9 407L746.1 407.9L745.4 409.5L744.6 406.7L743.9 404.8L743.1 408L742.4 407.5L741.6 407.9L740.9 407.1L740.1 408.4L739.4 410.3L738.6 409.2L737.9 405.3L737.1 406.8L736.4 409.8L735.6 406L734.9 405.4L734.1 406.1L733.4 408.4L732.6 409.9L731.9 404.7L731.1 406.2L730.4 406.7L729.6 406.6L728.9 407.2L728.1 406.3L727.4 406.3L726.6 407L725.9 406.6L725.1 405.8L724.4 404.6L723.6 404.3L722.9 413.3L722.1 406.6L721.4 404.9L720.6 409.1L719.9 406.4L719.1 404L718.4 404.6L717.6 406.3L716.9 408.4L716.1 408.4L715.4 405.5L714.6 405.7L713.9 410.4L713.1 404.9L712.4 404.2L711.6 410.3L710.9 407L710.1 411.3L709.4 405.8L708.6 405.5L707.9 405.9L707.1 408.2L706.4 404.3L705.6 409.5L704.9 409.1L704.1 407.8L703.4 406.3L702.6 408L701.9 408L701.1 409.2L700.4 404.7L699.6 412.2L698.9 407.8L698.1 406.9L697.4 407.3L696.6 405.4L695.9 408.4L695.1 407.2L694.4 407.3L693.6 405.7L692.9 406.1L692.1 408.1L691.4 412.2L690.6 409.2L689.9 408.2L689.1 410.2L688.4 405.2L687.6 406.2L686.9 405.2L686.1 411.7L685.4 407.1L684.6 408.4L683.9 407.2L683.1 408.9L682.4 404.8L681.6 406.3L680.9 405.4L680.1 406.4L679.4 404.6L678.6 406.7L677.9 405.3L677.1 406.1L676.4 405.8L675.6 406.1L674.9 409.6L674.1 404.3L673.4 406.1L672.6 406.9L671.9 405L671.1 407.8L670.4 408.1L669.6 406.7L668.9 409.5L668.1 406.5L667.4 409.4L666.6 402.9L665.9 410L665.1 405.8L664.4 406.1L663.6 405.7L662.9 406.5L662.1 406.3L661.4 406.6L660.6 405.6L659.9 405.8L659.1 408.6L658.4 403.4L657.6 405L656.9 407.2L656.1 407.2L655.4 407.4L654.6 407.5L653.9 407.5L653.1 404.1L652.4 406L651.6 405.1L650.9 407.4L650.1 404.8L649.4 406.7L648.6 406.5L647.9 406.3L647.1 410.2L646.4 407.9L645.6 406.5L644.9 408.6L644.1 408.6L643.4 408.6L642.6 404.8L641.9 404.8L641.1 408.4L640.4 408.4L639.6 404.8L638.9 409.2L638.1 410.3L637.4 408L636.6 406.1L635.9 407.2L635.1 406.8L634.4 406.4L633.6 408.4L632.9 409.6L632.1 405.9L631.4 405.8L630.6 405.8L629.9 405.8L629.1 405.3L628.4 405.3L627.6 406L626.9 408.9L626.1 405.3L625.4 404.2L624.6 408.4L623.9 406.4L623.1 407.8L622.4 406.2L621.6 407.4L620.9 409.6L620.1 406.7L619.4 404.5L618.6 409.6L617.9 405.9L617.1 406.9L616.4 405.7L615.6 407.3L614.9 408.7L614.1 407.1L613.4 409.6Z" fill="#000" stroke="#000" stroke-width="0.5" stroke-linejoin="round"/>
<text x="39.5" y="903.7" font-size="24" textLength="42.5" lengthAdjust="spacingAndGlyphs">WT</text>
<path d="M24.5 925.5L25.5 926.1L26.5 925.7L27.5 926L28.5 925.8L29.5 925.7L30.5 926.4L31.5 926.6L32.5 926.3L33.5 925.6L34.5 925.2L35.5 924L36.5 924.7L37.5 925.3L38.5 926L39.5 924.3L40.5 925.9L41.5 925.9L42.5 924.2L43.5 924.6L44.5 925.1L45.5 925.4L46.5 925.4L47.5 923.7L48.5 925.3L49.5 924.8L50.5 924.8L51.5 925.7L52.5 926.3L53.5 925.2L54.5 926.8L55.5 923.3L56.5 925L57.5 924.4L58.5 927.3L59.5 924.4L60.5 925.4L61.5 923.9L62.5 927.3L63.5 924.8L64.5 926.3L65.5 926.5L66.5 925.7L67.5 924.9L68.5 924.3L69.5 924.1L70.5 925.1L71.5 925.7L72.5 926.6L73.5 926.6L74.5 926.4L75.5 924.9L76.5 924.4L77.5 925.5L78.5 926.3L79.5 925.5L80.5 923.5L81.5 926.1L82.5 926.1L83.5 924.2L84.5 924.2L85.5 925.1L86.5 924.7L87.5 924.8L88.5 925.1L89.5 924.6L90.5 926.3L91.5 925.4L92.5 925.3L93.5 925.2L94.5 926.1L95.5 926.3L96.5 925.1L97.5 924.2L98.5 924.7L99.5 924L100.5 926.9L101.5 926.6L102.5 925.6L103.5 922.3L104.5 925.5L105.5 927.2L106.5 925.5L107.5 923.5L108.5 924.8L109.5 926.1L110.5 926L111.5 925.3L112.5 925.5L113.5 925.4L114.5 923.8L115.5 924L116.5 925.9L117.5 926.7L118.5 925.3L119.5 925.3L120.5 925.4L121.5 925.7L122.5 925.2L123.5 925.6L124.5 926.8L125.5 927.3L126.5 924.5L127.5 926.7L128.5 925.5L129.5 925.7L130.5 925.7L131.5 926L132.5 925L133.5 926.5L134.5 925.1L135.5 925.6L136.5 924.1L137.5 922.5L138.5 925.6L139.5 923.2L140.5 926.3L141.5 925.7L142.5 926.8L143.5 924.6L144.5 926.7L145.5 924.1L146.5 923.6L147.5 924.6L148.5 925.2L149.5 924.9L150.5 925.8L151.5 927.2L152.5 925.4L153.5 924.6L154.5 927.4L155.5 924.4L156.5 925.7L157.5 925.3L158.5 925.1L159.5 923.2L160.5 925.3L161.5 925.8L162.5 926.6L163.5 924.9L164.5 924.6L165.5 922.7L166.5 925.3L167.5 924.5L168.5 924.9L169.5 924.5L170.5 924.4L171.5 925.4L172.5 925.5L173.5 924.7L174.5 922.3L175.5 926.9L176.5 923.6L177.5 925.5L178.5 925L179.5 926.3L180.5 923.9L181.5 926.1L182.5 925.4L183.5 924.5L184.5 925.7L185.5 923.3L186.5 924.6L187.5 925.2L188.5 925L189.5 923.9L190.5 925.3L191.5 926.4L192.5 924.2L193.5 926.9L194.5 925.6L195.5 925.9L196.5 924.7L197.5 923.8L198.5 926.2L199.5 926.5L200.5 925L201.5 926.4L202.5 924.4L203.5 926L204.5 925.6L205.5 926.3L206.5 925.1L207.5 924.9L208.5 924.7L209.5 925.3L210.5 922.5L211.5 924.7L212.5 926.5L213.5 926L214.5 925.8L215.5 926L216.5 925.2L217.5 925.2L218.5 926.9L219.5 925.8L220.5 925.2L221.5 925.2L222.5 924.5L223.5 924.3L224.5 925.7L225.5 925.6L226.5 924.2L227.5 924.2L228.5 924.8L229.5 926.5L230.5 925.2L231.5 925.1L232.5 924.8L233.5 924.6L234.5 925.2L235.5 925L236.5 926.1L237.5 925.8L238.5 926L239.5 924.6L240.5 925.2L241.5 923L242.5 925.1L243.5 924.9L244.5 926.6L245.5 924.6L246.5 926.1L247.5 926.2L248.5 925.6L249.5 925.2L250.5 924.2L251.5 925.5L252.5 925.5L253.5 924.2L254.5 926L255.5 924.2L256.5 924.4L257.5 923.5L258.5 925L259.5 925.4L260.5 926L261.5 925.3L262.5 926.1L263.5 924.9L264.5 925.5L265.5 926.4L266.5 924.3L267.5 926.7L268.5 923.8L269.5 923.9L270.5 926.5L271.5 925.7L272.5 924.2L273.5 924.5L274.5 926.1L275.5 925.1L276.5 926.6L277.5 924.6L278.5 925.9L279.5 925.5L280.5 925.5L281.5 926.5L282.5 925L283.5 926.2L284.5 924.4L285.5 925.4L286.5 926.2L287.5 924L288.5 925.7L289.5 926.3L290.5 926.4L291.5 924.1L292.5 927.4L293.5 924.2L294.5 926.1L295.5 924.7L296.5 925L297.5 922.3L298.5 923.3L299.5 926.4L300.5 924.8L301.5 925.9L302.5 924.7L303.5 924L304.5 926.1L305.5 925.2L306.5 925.1L307.5 926.1L308.5 926.3L309.5 925.9L310.5 926L311.5 924.9L312.5 924.1L313.5 922.2L314.5 926.4L315.5 926.6L316.5 925.4L317.5 925.5L318.5 923.7L319.5 925.5L320.5 924.7L321.5 925L322.5 924.3L323.5 926.8L324.5 926.6L325.5 924.1L326.5 925.5L327.5 926.4L328.5 925.1L329.5 926.6L330.5 925.9L331.5 925.2L332.5 926.5L333.5 926.8L334.5 924.7L335.5 926.6L336.5 922.8L337.5 926.5L338.5 926.3L339.5 926.3L340.5 923.8L341.5 924.8L342.5 925.6L343.5 926.4L344.5 924.4L345.5 925.7L346.5 927.2L347.5 926.7L348.5 923.6L349.5 925.1L350.5 925.1L351.5 925.1L352.5 925.2L353.5 925.5L354.5 927.2L355.5 926.6L356.5 925.2L357.5 926.3L358.5 926.7L359.5 923.9L360.5 925.4L361.5 926.1L362.5 924.7L363.5 926.1L364.5 925.1L365.5 925L366.5 924.5L367.5 925.1L368.5 925.7L369.5 924.9L370.5 926.5L371.5 926.4L372.5 924.8L373.5 925.5L374.5 924.5L375.5 924.6L376.5 926L377.5 923.5L378.5 925.5L379.5 923.1L380.5 924.4L381.5 927L382.5 924.2L383.5 925.4L384.5 927.3L385.5 926.7L386.5 925.3L387.5 923.2L388.5 926.5L389.5 926.2L390.5 926.9L391.5 925.3L392.5 927.1L393.5 924.4L394.5 926.5L395.5 925.9L396.5 926.3L397.5 924.7L398.5 925L399.5 925.5L400.5 926L401.5 924.5L402.5 926.3L403.5 925.1L404.5 922.9L405.5 922.7L406.5 926.2L407.5 925.3L408.5 923.5L409.5 926.7L410.5 926.3L411.5 924.3L412.5 923.7L413.5 923.8L414.5 924.7L415.5 924.6L416.5 926.9L417.5 926L418.5 926.5L419.5 926.1L420.5 927.5L421.5 924.7L422.5 925.4L423.5 923.2L424.5 923.5L425.5 926.1L426.5 924.7L427.5 926.2L428.5 924.4L429.5 926.2L430.5 922.7L431.5 925.2L432.5 925.2L433.5 924.7L434.5 925.9L435.5 924.5L436.5 924.7L437.5 926.2L438.5 926.5L439.5 925.9L440.5 925.4L441.5 925.7L442.5 924.2L443.5 924.4L444.5 924.9L445.5 924.6L446.5 925.9L447.5 926.9L448.5 926.3L449.5 925L450.5 925.3L451.5 924.7L452.5 926.1L453.5 925.2L454.5 923.6L455.5 925L456.5 925.4L457.5 926.2L458.5 925.5L459.5 926L460.5 924.4L461.5 925.4L462.5 924.1L463.5 925.8L464.5 925.8L465.5 923.2L466.5 924.4L467.5 925.7L468.5 925.2L469.5 925.2L470.5 925.7L471.5 925.7L472.5 926.7L473.5 925.1L474.5 923.5L475.5 924.9L476.5 926.4L477.5 921.8L478.5 924.6L479.5 925.8L480.5 925L481.5 925.3L482.5 925.4L483.5 924.3L484.5 925.3L485.5 924.3L486.5 926.7L487.5 927L488.5 926.4L489.5 923.8L490.5 924.9L490.5 937.5L489.5 938.1L488.5 937.9L487.5 937.6L486.5 938.6L485.5 937.6L484.5 938.5L483.5 937.6L482.5 937.6L481.5 938.1L480.5 937.1L479.5 936.9L478.5 938.6L477.5 936.6L476.5 941.4L475.5 937.8L474.5 937.2L473.5 939.1L472.5 937L471.5 937.3L470.5 937.8L469.5 935.9L468.5 938.6L467.5 937.2L466.5 937.5L465.5 940L464.5 940.1L463.5 937.7L462.5 940.2L461.5 937.8L460.5 938.1L459.5 941.3L458.5 938.7L457.5 937.9L456.5 940.1L455.5 937.4L454.5 940.7L453.5 937.3L452.5 937.2L451.5 939.1L450.5 939.1L449.5 937.6L448.5 936.7L447.5 939.6L446.5 940.3L445.5 939L444.5 939.7L443.5 938.8L442.5 938.3L441.5 939.6L440.5 940.5L439.5 938L438.5 939.5L437.5 938.3L436.5 937.8L435.5 939L434.5 936.3L433.5 937.4L432.5 938.8L431.5 938.9L430.5 937.2L429.5 938.7L428.5 938.6L427.5 938.6L426.5 937.3L425.5 939.5L424.5 939.3L423.5 937L422.5 939.3L421.5 939.3L420.5 937.9L419.5 937.7L418.5 939.9L417.5 939L416.5 938.4L415.5 937.8L414.5 938.3L413.5 937.9L412.5 939.6L411.5 938.5L410.5 939.4L409.5 937.4L408.5 941.3L407.5 937.6L406.5 938.3L405.5 937.6L404.5 939.6L403.5 940.5L402.5 940L401.5 939.2L400.5 938L399.5 939.1L398.5 938.4L397.5 937.9L396.5 937.2L395.5 937.6L394.5 940.6L393.5 938.9L392.5 938.3L391.5 938L390.5 937.9L389.5 937.8L388.5 938.7L387.5 939L386.5 937.9L385.5 938.3L384.5 937L383.5 937L382.5 938L381.5 940.7L380.5 938.2L379.5 937.2L378.5 939.1L377.5 939.9L376.5 937.5L375.5 937.7L374.5 940.2L373.5 941.6L372.5 938.1L371.5 939.1L370.5 936.5L369.5 936.8L368.5 938.9L367.5 937.4L366.5 941.3L365.5 939.4L364.5 938.5L363.5 937.1L362.5 940.9L361.5 937.2L360.5 940L359.5 937.3L358.5 939.6L357.5 936.2L356.5 938.2L355.5 936.3L354.5 936.8L353.5 937.6L352.5 937L351.5 937.8L350.5 937.9L349.5 938.2L348.5 938.1L347.5 937.7L346.5 938.6L345.5 937.7L344.5 939.8L343.5 937.7L342.5 938.8L341.5 936.3L340.5 937.6L339.5 938.1L338.5 938.2L337.5 937.2L336.5 938.9L335.5 938.8L334.5 938.3L333.5 937.7L332.5 939.3L331.5 937.6L330.5 938.1L329.5 939.3L328.5 936.7L327.5 939.4L326.5 940L325.5 937.5L324.5 938.2L323.5 937.6L322.5 938.3L321.5 937.6L320.5 938.5L319.5 939.5L318.5 937L317.5 935.6L316.5 937.9L315.5 937.8L314.5 938.4L313.5 937L312.5 937.7L311.5 938L310.5 936.8L309.5 938.9L308.5 937.4L307.5 939.4L306.5 938.5L305.5 939L304.5 936.3L303.5 939.2L302.5 938.7L301.5 937.3L300.5 938.1L299.5 938.6L298.5 940.7L297.5 940.6L296.5 938.5L295.5 938.5L294.5 937.8L293.5 940L292.5 938.2L291.5 937.7L290.5 937.8L289.5 936.7L288.5 938.1L287.5 937.1L286.5 938.8L285.5 936.6L284.5 937.8L283.5 937.3L282.5 938.4L281.5 936.9L280.5 939.4L279.5 937.5L278.5 940L277.5 936.9L276.5 937.9L275.5 939.1L274.5 937.3L273.5 937.4L272.5 937.8L271.5 936.9L270.5 937.5L269.5 937.2L268.5 939.1L267.5 938.1L266.5 937.1L265.5 937.1L264.5 937.4L263.5 940L262.5 937.6L261.5 939.5L260.5 939.5L259.5 938L258.5 939.1L257.5 940L256.5 936L255.5 937.4L254.5 939.2L253.5 938.7L252.5 938.9L251.5 936.4L250.5 936.7L249.5 939.1L248.5 939.1L247.5 936.9L246.5 937.8L245.5 937.6L244.5 939.4L243.5 937.4L242.5 938.2L241.5 937.1L240.5 937.8L239.5 937.6L238.5 937.9L237.5 937.7L236.5 939.1L235.5 940.5L234.5 938.1L233.5 937.1L232.5 938.7L231.5 937.8L230.5 937L229.5 938.2L228.5 938.5L227.5 939.2L226.5 938L225.5 938.5L224.5 940.4L223.5 937.3L222.5 938.7L221.5 938.3L220.5 938.6L219.5 938.3L218.5 937.5L217.5 939.8L216.5 936.6L215.5 937.9L214.5 939.2L213.5 937.5L212.5 936.4L211.5 938.7L210.5 936.2L209.5 937.7L208.5 937.1L207.5 938.3L206.5 938.5L205.5 937.1L204.5 937.4L203.5 938.1L202.5 938.7L201.5 937.3L200.5 936.6L199.5 940.2L198.5 937L197.5 938.1L196.5 937.5L195.5 937.9L194.5 937.5L193.5 939.4L192.5 939L191.5 939.3L190.5 936.7L189.5 939.8L188.5 938L187.5 938.1L186.5 938.3L185.5 939.5L184.5 938.3L183.5 937.7L182.5 937.8L181.5 938L180.5 940.1L179.5 937.7L178.5 938.3L177.5 938.3L176.5 937.9L175.5 938.5L174.5 938.5L173.5 938.7L172.5 937.8L171.5 938.4L170.5 939.4L169.5 938.2L168.5 939.1L167.5 937.4L166.5 939L165.5 938L164.5 937.7L163.5 937.4L162.5 938.8L161.5 937.8L160.5 937.6L159.5 937.9L158.5 939.9L157.5 938.3L156.5 939L155.5 937.1L154.5 937.5L153.5 937.1L152.5 940.9L151.5 937.7L150.5 937.1L149.5 938.4L148.5 937.7L147.5 939L146.5 938.6L145.5 937.8L144.5 937.1L143.5 938.2L142.5 938L141.5 940.6L140.5 938.8L139.5 938.7L138.5 939.2L137.5 940.4L136.5 938.6L135.5 939.1L134.5 937.9L133.5 939.2L132.5 937.2L131.5 939.8L130.5 937.1L129.5 937.3L128.5 937.5L127.5 937.9L126.5 936.7L125.5 936.6L124.5 939.4L123.5 942.4L122.5 940.1L121.5 938.3L120.5 938.6L119.5 937.9L118.5 938.9L117.5 938.5L116.5 938L115.5 937.6L114.5 938.7L113.5 936.8L112.5 939.6L111.5 937.7L110.5 937.5L109.5 938.3L108.5 937.6L107.5 937L106.5 939.6L105.5 938.4L104.5 938.1L103.5 938.9L102.5 936.9L101.5 939.7L100.5 937.3L99.5 936.8L98.5 938.7L97.5 937.1L96.5 937.8L95.5 938L94.5 937.6L93.5 939.7L92.5 937.1L91.5 940.8L90.5 938.3L89.5 938.2L88.5 939.6L87.5 937.5L86.5 938.1L85.5 939.4L84.5 939.1L83.5 938.2L82.5 937.8L81.5 938.1L80.5 936.3L79.5 936.6L78.5 939.6L77.5 938L76.5 939.3L75.5 938.6L74.5 939.7L73.5 938.3L72.5 938.9L71.5 941.4L70.5 939.1L69.5 938.9L68.5 938.3L67.5 939.5L66.5 937L65.5 938.4L64.5 936L63.5 940.7L62.5 938.1L61.5 938.3L60.5 938.2L59.5 939.9L58.5 937L57.5 937.2L56.5 939.9L55.5 937.6L54.5 936.8L53.5 937.1L52.5 937.4L51.5 938.6L50.5 937.8L49.5 938.2L48.5 939.6L47.5 936.8L46.5 938L45.5 939L44.5 941L43.5 939.1L42.5 936.9L41.5 937.4L40.5 938.6L39.5 937.2L38.5 939.9L37.5 938.2L36.5 936.6L35.5 939.1L34.5 940.8L33.5 938.7L32.5 937.5L31.5 937.3L30.5 938.1L29.5 938.9L28.5 937.7L27.5 938L26.5 938.4L25.5 939L24.5 940.2ZM48.6 931.8L50.0 931.8L49.8 962.0L48.8 962.0ZM59.8 931.8L61.2 931.8L61.0 955.9L60.0 955.9ZM103.7 931.8L105.1 931.8L104.9 944.3L103.9 944.3ZM278.1 931.8L279.5 931.8L279.3 960.3L278.3 960.3ZM325.7 931.8L327.1 931.8L326.9 948.4L325.9 948.4ZM366.3 931.8L367.7 931.8L367.5 947.7L366.5 947.7ZM373.3 931.8L374.7 931.8L374.5 968.0L373.5 968.0ZM388.3 931.8L389.7 931.8L389.5 952.5L388.5 952.5ZM450.3 931.8L451.7 931.8L451.5 945.7L450.5 945.7ZM476.0 931.8L477.4 931.8L477.2 957.0L476.2 957.0Z" fill="#000" stroke="#000" stroke-width="0.5" stroke-linejoin="round"/>
<path d="M349.5 902.9L349.5 991.0" stroke="#000" stroke-width="1.25" stroke-dasharray="8.4 5.4" stroke-dashoffset="2.4" fill="none"/>
<path d="M348.9 903.5L398.4 903.5" stroke="#000" stroke-width="1.25" stroke-dasharray="8.4 5.4" stroke-dashoffset="5" fill="none"/>
<path d="M397.8 902.9L397.8 991.0" stroke="#000" stroke-width="1.25" stroke-dasharray="8.4 5.4" stroke-dashoffset="4" fill="none"/>
<path d="M349.5 991.0L397.8 991.0" stroke="#000" stroke-width="1.25" stroke-dasharray="8.4 5.4" stroke-dashoffset="6.7" fill="none"/>
<path d="M349.5 991.0L34.0 1028.3" stroke="#000" stroke-width="1.25" stroke-dasharray="12 6.2" stroke-dashoffset="2" fill="none"/>
<path d="M397.8 991.0L496.4 1029.0" stroke="#000" stroke-width="1.25" stroke-dasharray="12 6.2" stroke-dashoffset="2" fill="none"/>
<path d="M467.8 962.0V978.0H445.4" stroke="#000" stroke-width="1.3" fill="none"/>
<text x="476.0" y="975.6" font-size="12.5" font-weight="normal" textLength="30.6" lengthAdjust="spacingAndGlyphs">10 pA</text>
<text x="439.3" y="993.6" font-size="12.5" font-weight="normal" textLength="39.0" lengthAdjust="spacingAndGlyphs">500 ms</text>
<path d="M26.5 1039.1L27.2 1035L28 1039.4L28.8 1037.1L29.5 1037.1L30.2 1041.5L31 1041.2L31.8 1037.7L32.5 1038.8L33.2 1036L34 1039.8L34.8 1040.3L35.5 1039L36.2 1037.1L37 1036.1L37.8 1038.8L38.5 1039.4L39.2 1036.4L40 1042.2L40.8 1037.7L41.5 1040.4L42.2 1040.4L43 1042.2L43.8 1035.2L44.5 1042.1L45.2 1039.2L46 1039.1L46.8 1037.9L47.5 1036.8L48.2 1038.4L49 1038.4L49.8 1038.5L50.5 1039.1L51.2 1038.1L52 1040L52.8 1037.4L53.5 1041.9L54.2 1035.7L55 1039.6L55.8 1037.6L56.5 1035.5L57.2 1038.8L58 1038.1L58.8 1041L59.5 1040L60.2 1038.9L61 1039.5L61.8 1041.9L62.5 1040.1L63.2 1040.1L64 1037.2L64.8 1040.5L65.5 1041.4L66.2 1035.3L67 1040.3L67.8 1038.4L68.5 1039.7L69.2 1037L70 1040.5L70.8 1038.9L71.5 1035.9L72.2 1037.4L73 1041.4L73.8 1039.5L74.5 1040.5L75.2 1041.5L76 1039.9L76.8 1039.9L77.5 1039L78.2 1035.4L79 1041L79.8 1039.2L80.5 1036L81.2 1036.5L82 1041.4L82.8 1039.8L83.5 1039.1L84.2 1039.1L85 1041.5L85.8 1042.5L86.5 1039.3L87.2 1041.5L88 1040.7L88.8 1038.9L89.5 1038.9L90.2 1039.3L91 1039.6L91.8 1041L92.5 1037.4L93.2 1040.9L94 1039L94.8 1042.3L95.5 1039.5L96.2 1037.6L97 1040.5L97.8 1040.9L98.5 1038.2L99.2 1039L100 1038.8L100.8 1037.6L101.5 1040.2L102.2 1038.5L103 1034.9L103.8 1034.9L104.5 1036.3L105.2 1037.9L106 1038.5L106.8 1038L107.5 1037.5L108.2 1040.3L109 1039.5L109.8 1040.3L110.5 1038L111.2 1041.4L112 1039.4L112.8 1041.6L113.5 1037.1L114.2 1038.9L115 1039.7L115.8 1036.2L116.5 1039.3L117.2 1039.3L118 1041.7L118.8 1039.9L119.5 1040.5L120.2 1036.4L121 1039.5L121.8 1040.9L122.5 1035.9L123.2 1040.4L124 1041.7L124.8 1037.6L125.5 1043.1L126.2 1040.1L127 1039.8L127.8 1039.7L128.5 1038.8L129.2 1037L130 1042.1L130.8 1038.4L131.5 1036.3L132.2 1037.3L133 1038.6L133.8 1039.8L134.5 1042.8L135.2 1037.6L136 1039.2L136.8 1041.3L137.5 1039.1L138.2 1042.2L139 1039.3L139.8 1036L140.5 1040.4L141.2 1038.8L142 1037.5L142.8 1038.7L143.5 1040.1L144.2 1041L145 1039.9L145.8 1040L146.5 1037.1L147.2 1033.8L148 1041.2L148.8 1040L149.5 1038.3L150.2 1038.8L151 1042.5L151.8 1043.2L152.5 1038L153.2 1037.9L154 1039.3L154.8 1038.7L155.5 1038.2L156.2 1039.2L157 1038L157.8 1041.4L158.5 1039.8L159.2 1040.6L160 1042.1L160.8 1037.4L161.5 1037.7L162.2 1038.4L163 1040.2L163.8 1036.4L164.5 1035.8L165.2 1038.6L166 1040L166.8 1037.7L167.5 1042.8L168.2 1037.8L169 1042.5L169.8 1038.1L170.5 1039.8L171.2 1039.5L172 1037.6L172.8 1036.6L173.5 1036.2L174.2 1037.7L175 1037.3L175.8 1039.3L176.5 1036.2L177.2 1037.7L178 1037.7L178.8 1038.7L179.5 1038.7L180.2 1038.4L181 1039.6L181.8 1037.7L182.5 1040.3L183.2 1039.6L184 1038.3L184.8 1038.3L185.5 1037.1L186.2 1038.9L187 1039.9L187.8 1049.8L188.5 1047.9L189.2 1048.2L190 1042.8L190.8 1042.7L191.5 1043L192.2 1041.8L193 1040.2L193.8 1035.5L194.5 1042.9L195.2 1040.9L196 1042.3L196.8 1039.8L197.5 1038.9L198.2 1041.5L199 1038.3L199.8 1039.6L200.5 1037.4L201.2 1040.2L202 1040.4L202.8 1041.7L203.5 1041.2L204.2 1038.9L205 1040.8L205.8 1036.6L206.5 1036.1L207.2 1037.7L208 1034.6L208.8 1036.3L209.5 1038.7L210.2 1038.7L211 1041.1L211.8 1040.7L212.5 1037.2L213.2 1038.2L214 1039.3L214.8 1041.2L215.5 1040.6L216.2 1041.5L217 1040.5L217.8 1041.5L218.5 1047.7L219.2 1049L220 1044.5L220.8 1042.8L221.5 1042.7L222.2 1041.3L223 1044.1L223.8 1040.1L224.5 1041L225.2 1041.6L226 1038.9L226.8 1042.8L227.5 1043L228.2 1038.7L229 1040.9L229.8 1036.1L230.5 1035.2L231.2 1035.2L232 1038.8L232.8 1036L233.5 1037.6L234.2 1036.7L235 1040.1L235.8 1040.1L236.5 1041.2L237.2 1043L238 1038.1L238.8 1042.6L239.5 1037.8L240.2 1037.9L241 1039.4L241.8 1038.9L242.5 1040.5L243.2 1038.1L244 1043.4L244.8 1037.8L245.5 1039.7L246.2 1038.5L247 1040.2L247.8 1041.8L248.5 1038.1L249.2 1041.3L250 1040.5L250.8 1040.6L251.5 1039.1L252.2 1039.2L253 1039.5L253.8 1038.9L254.5 1037L255.2 1038L256 1075.1L256.8 1068.5L257.5 1064L258.2 1060.4L259 1057.9L259.8 1050.2L260.5 1055.9L261.2 1049.7L262 1052.2L262.8 1049.2L263.5 1047.6L264.2 1045.4L265 1044.7L265.8 1043.9L266.5 1045.4L267.2 1047.5L268 1045.8L268.8 1041.1L269.5 1041.3L270.2 1042.9L271 1042.2L271.8 1042.2L272.5 1044.6L273.2 1042.3L274 1044.2L274.8 1040.9L275.5 1040L276.2 1041.3L277 1041.6L277.8 1043.4L278.5 1043.8L279.2 1044.3L280 1039.1L280.8 1041.6L281.5 1038.8L282.2 1037L283 1036.9L283.8 1034.8L284.5 1041.8L285.2 1037.3L286 1037.9L286.8 1042.1L287.5 1039.7L288.2 1041.8L289 1040.2L289.8 1042.4L290.5 1043.3L291.2 1038.2L292 1041.2L292.8 1038.9L293.5 1040.8L294.2 1040.7L295 1042.2L295.8 1038.4L296.5 1038.3L297.2 1039.9L298 1039L298.8 1039.7L299.5 1040.4L300.2 1041.8L301 1039.8L301.8 1039.8L302.5 1037.4L303.2 1039.2L304 1041.1L304.8 1039.3L305.5 1040.9L306.2 1042.9L307 1038.4L307.8 1039.9L308.5 1037.4L309.2 1039.6L310 1039.8L310.8 1040.2L311.5 1038.5L312.2 1039.5L313 1041.3L313.8 1038.1L314.5 1040.3L315.2 1040.4L316 1039.8L316.8 1036.3L317.5 1040L318.2 1038.7L319 1040.6L319.8 1037.4L320.5 1040.4L321.2 1042.1L322 1039.5L322.8 1043.2L323.5 1041L324.2 1037.1L325 1040.2L325.8 1041.3L326.5 1040L327.2 1039.8L328 1040.3L328.8 1039.2L329.5 1036.3L330.2 1040.8L331 1042.4L331.8 1037.6L332.5 1038.1L333.2 1039.8L334 1040.3L334.8 1040.8L335.5 1040.1L336.2 1040.1L337 1040.6L337.8 1039.9L338.5 1037.6L339.2 1038.8L340 1041.2L340.8 1035.2L341.5 1038.3L342.2 1040.1L343 1042L343.8 1036.2L344.5 1039.6L345.2 1036.9L346 1042.3L346.8 1040.7L347.5 1035.5L348.2 1038.6L349 1039L349.8 1039L350.5 1038.1L351.2 1037.4L352 1033.8L352.8 1038.9L353.5 1038.5L354.2 1040.2L355 1037.3L355.8 1039.2L356.5 1036.8L357.2 1040.7L358 1038.4L358.8 1039.5L359.5 1039.9L360.2 1038.1L361 1038.5L361.8 1040.5L362.5 1038.7L363.2 1041.1L364 1039.4L364.8 1040L365.5 1039.5L366.2 1041.9L367 1038.2L367.8 1038.8L368.5 1038.9L369.2 1040.9L370 1037.3L370.8 1037.3L371.5 1037.9L372.2 1038.1L373 1037.4L373.8 1040.8L374.5 1040.1L375.2 1041.5L376 1035.8L376.8 1039.7L377.5 1039.2L378.2 1040.5L379 1039L379.8 1037.2L380.5 1036.6L381.2 1038.1L382 1037L382.8 1039.7L383.5 1041.3L384.2 1041.4L385 1040.3L385.8 1040.4L386.5 1041.8L387.2 1040.5L388 1038.2L388.8 1040L389.5 1038.6L390.2 1039.4L391 1039.1L391.8 1039.2L392.5 1037.2L393.2 1038.7L394 1041.7L394.8 1039.5L395.5 1039.4L396.2 1038.2L397 1037.3L397.8 1038.3L398.5 1039.9L399.2 1040.4L400 1038.4L400.8 1039.3L401.5 1039.8L402.2 1039L403 1037L403.8 1042.4L404.5 1038.9L405.2 1038.9L406 1039.8L406.8 1038.3L407.5 1038.3L408.2 1038.8L409 1039.8L409.8 1060.4L410.5 1054.6L411.2 1050.2L412 1052.2L412.8 1050.9L413.5 1047.3L414.2 1047.2L415 1045.2L415.8 1042.8L416.5 1046.9L417.2 1042.6L418 1045.2L418.8 1039.9L419.5 1044.6L420.2 1043L421 1040.8L421.8 1037.1L422.5 1044.5L423.2 1039.6L424 1040.3L424.8 1043.1L425.5 1042.5L426.2 1041.7L427 1043.4L427.8 1037.8L428.5 1042.1L429.2 1041.7L430 1037.2L430.8 1038.8L431.5 1041.6L432.2 1042.1L433 1039.9L433.8 1039L434.5 1040.5L435.2 1040.1L436 1040.2L436.8 1040L437.5 1042.7L438.2 1041L439 1041.7L439.8 1037.2L440.5 1039.5L441.2 1044.2L442 1039.9L442.8 1037.9L443.5 1039.5L444.2 1037.5L445 1038L445.8 1039.3L446.5 1039L447.2 1037.5L448 1039.7L448.8 1040.6L449.5 1039.5L450.2 1040.4L451 1043.4L451.8 1039.3L452.5 1043.3L453.2 1037.6L454 1042.2L454.8 1040.7L455.5 1036.3L456.2 1037.9L457 1041.5L457.8 1042.1L458.5 1040.1L459.2 1033.2L460 1041.6L460.8 1037.1L461.5 1037.1L462.2 1039.6L463 1041.3L463.8 1039.9L464.5 1041.5L465.2 1042L466 1039.7L466.8 1035.8L467.5 1037.3L468.2 1036.1L469 1041.9L469.8 1042.2L470.5 1038.9L471.2 1039.6L472 1039.9L472.8 1039.3L473.5 1042.5L474.2 1040.7L475 1039L475.8 1040.9L476.5 1039.6L477.2 1036.5L478 1036.8L478.8 1039.4L479.5 1039.4L480.2 1041.9L481 1035.9L481.8 1037.3L482.5 1037L483.2 1035.8L484 1036.4L484.8 1041.1L485.5 1037.9L486.2 1041.1L487 1038.7L487.8 1040L488.5 1040L489.2 1036.1L490 1035.3L490.8 1038.9L491.5 1038.9L492.2 1040.4L492.2 1056.9L491.5 1049.4L490.8 1050.7L490 1052.5L489.2 1051.7L488.5 1053.3L487.8 1055.1L487 1051.3L486.2 1055.6L485.5 1052.1L484.8 1053.7L484 1055.9L483.2 1052.4L482.5 1053.7L481.8 1054.1L481 1053.4L480.2 1051.5L479.5 1053.5L478.8 1052.3L478 1056.5L477.2 1050.3L476.5 1050.1L475.8 1051.6L475 1052.1L474.2 1051.8L473.5 1056.4L472.8 1053.6L472 1053.1L471.2 1051.8L470.5 1053.9L469.8 1053.8L469 1053.9L468.2 1053.9L467.5 1050.7L466.8 1053.7L466 1051.3L465.2 1055.4L464.5 1055L463.8 1053.9L463 1054.5L462.2 1052.8L461.5 1050.2L460.8 1054.2L460 1050.8L459.2 1051.5L458.5 1052.6L457.8 1052L457 1054.7L456.2 1048.3L455.5 1049.7L454.8 1050.3L454 1053.2L453.2 1052L452.5 1055.2L451.8 1054.5L451 1054.2L450.2 1051.5L449.5 1055L448.8 1054.9L448 1054.1L447.2 1054.5L446.5 1052.9L445.8 1053.3L445 1052.4L444.2 1054.3L443.5 1056.2L442.8 1053L442 1051.8L441.2 1051.4L440.5 1054.7L439.8 1050.3L439 1054.6L438.2 1053.6L437.5 1051.9L436.8 1053.6L436 1057.1L435.2 1052.3L434.5 1056.8L433.8 1051L433 1054.6L432.2 1050.6L431.5 1055.2L430.8 1054.5L430 1054.6L429.2 1055L428.5 1061.9L427.8 1051.7L427 1059.4L426.2 1056.4L425.5 1053L424.8 1052.8L424 1051.2L423.2 1053.7L422.5 1056.8L421.8 1058.1L421 1055.1L420.2 1054.8L419.5 1060.4L418.8 1056.5L418 1058L417.2 1059.2L416.5 1061L415.8 1056.4L415 1058.2L414.2 1060L413.5 1061L412.8 1061.3L412 1063.7L411.2 1066.6L410.5 1066.7L409.8 1072.9L409 1076.6L408.2 1049.9L407.5 1053.5L406.8 1050.1L406 1052.5L405.2 1051.9L404.5 1053.4L403.8 1051.4L403 1051.8L402.2 1050.1L401.5 1051L400.8 1052.4L400 1051.1L399.2 1052.8L398.5 1054.1L397.8 1053.2L397 1053.2L396.2 1049.6L395.5 1051.7L394.8 1052L394 1055.7L393.2 1050.8L392.5 1053.2L391.8 1051.3L391 1050.9L390.2 1052.9L389.5 1053.7L388.8 1051.1L388 1052.4L387.2 1051.1L386.5 1056.2L385.8 1049.2L385 1050.1L384.2 1048.3L383.5 1052.7L382.8 1052.5L382 1054.5L381.2 1052.7L380.5 1050.7L379.8 1051.7L379 1050.6L378.2 1053.4L377.5 1052.9L376.8 1051.9L376 1050.1L375.2 1056.5L374.5 1052.3L373.8 1051.6L373 1053.6L372.2 1053.6L371.5 1053.8L370.8 1053.6L370 1054.3L369.2 1050.2L368.5 1051L367.8 1054L367 1052.1L366.2 1055.6L365.5 1055L364.8 1053.9L364 1051.5L363.2 1054.7L362.5 1052.3L361.8 1052.1L361 1055.1L360.2 1052.2L359.5 1054.3L358.8 1051.7L358 1052.9L357.2 1052.2L356.5 1051L355.8 1053.5L355 1055.1L354.2 1052.7L353.5 1053L352.8 1053.3L352 1052.3L351.2 1051.8L350.5 1053.3L349.8 1051.2L349 1052.2L348.2 1052.4L347.5 1049.7L346.8 1053.4L346 1056.2L345.2 1047.5L344.5 1051.1L343.8 1053.7L343 1054.6L342.2 1052L341.5 1055L340.8 1053.5L340 1058.9L339.2 1051.8L338.5 1055.1L337.8 1051.6L337 1050.9L336.2 1054.3L335.5 1054.7L334.8 1055.9L334 1052.6L333.2 1051.7L332.5 1055.9L331.8 1054.5L331 1052L330.2 1052.7L329.5 1048.9L328.8 1052L328 1052.7L327.2 1053.6L326.5 1051.1L325.8 1052.7L325 1054.8L324.2 1048.9L323.5 1052.6L322.8 1053.2L322 1052.9L321.2 1053L320.5 1051.5L319.8 1052.6L319 1049.6L318.2 1052.7L317.5 1053.1L316.8 1055.9L316 1053.5L315.2 1056L314.5 1050.2L313.8 1053.5L313 1052.6L312.2 1052.9L311.5 1053.3L310.8 1049.7L310 1055.2L309.2 1054.2L308.5 1050.3L307.8 1052L307 1051.7L306.2 1051.3L305.5 1050.9L304.8 1049.9L304 1051.5L303.2 1051.5L302.5 1052.9L301.8 1051.6L301 1052.2L300.2 1056.7L299.5 1053.2L298.8 1052.3L298 1050.3L297.2 1055.5L296.5 1053.7L295.8 1054.5L295 1055.2L294.2 1053.4L293.5 1053.7L292.8 1054.8L292 1056.8L291.2 1053.2L290.5 1053.4L289.8 1053.5L289 1054.7L288.2 1052.7L287.5 1054L286.8 1057.4L286 1057.5L285.2 1055.3L284.5 1055.6L283.8 1050L283 1052.9L282.2 1058.9L281.5 1053.9L280.8 1053.4L280 1055.2L279.2 1052.5L278.5 1052.4L277.8 1055.9L277 1057.9L276.2 1054.9L275.5 1056.9L274.8 1053.7L274 1055.5L273.2 1060.9L272.5 1065.5L271.8 1060.8L271 1058L270.2 1058.2L269.5 1065.8L268.8 1059L268 1059.2L267.2 1055L266.5 1060.4L265.8 1059L265 1058.9L264.2 1057.9L263.5 1059.1L262.8 1065.2L262 1061.9L261.2 1064.7L260.5 1066.6L259.8 1068.3L259 1066.3L258.2 1073.6L257.5 1079.5L256.8 1078.8L256 1086.8L255.2 1092.9L254.5 1055.1L253.8 1050.7L253 1055.8L252.2 1053L251.5 1054.3L250.8 1055.2L250 1053.3L249.2 1050.5L248.5 1051.5L247.8 1051.9L247 1052.7L246.2 1051.7L245.5 1055.7L244.8 1051L244 1053.4L243.2 1055.4L242.5 1053.7L241.8 1047.9L241 1050.9L240.2 1052.3L239.5 1052.3L238.8 1054.7L238 1052.3L237.2 1057.7L236.5 1051.4L235.8 1053.6L235 1051.4L234.2 1054.9L233.5 1050.5L232.8 1057.3L232 1053.8L231.2 1051.6L230.5 1055.5L229.8 1053.2L229 1051.1L228.2 1053.9L227.5 1056.4L226.8 1053.1L226 1051.7L225.2 1050.9L224.5 1056.1L223.8 1057.9L223 1055.2L222.2 1053.6L221.5 1055.3L220.8 1057.3L220 1057.6L219.2 1058.4L218.5 1063.5L217.8 1065L217 1051.9L216.2 1054.4L215.5 1052.1L214.8 1054.1L214 1055.1L213.2 1050.5L212.5 1054.8L211.8 1060.7L211 1055.5L210.2 1051.3L209.5 1049.9L208.8 1052.5L208 1050.4L207.2 1053.9L206.5 1055.4L205.8 1050.1L205 1055.1L204.2 1054.2L203.5 1052.1L202.8 1050.9L202 1054.6L201.2 1053.4L200.5 1053.2L199.8 1052.1L199 1052L198.2 1052L197.5 1058.9L196.8 1053.2L196 1052.7L195.2 1055.8L194.5 1055.5L193.8 1050.5L193 1051.1L192.2 1053.1L191.5 1060L190.8 1056.3L190 1057.7L189.2 1058.8L188.5 1062.6L187.8 1066.1L187 1068L186.2 1054.7L185.5 1056L184.8 1052.5L184 1053.8L183.2 1057L182.5 1054.2L181.8 1051.7L181 1049.7L180.2 1057L179.5 1054.7L178.8 1055.5L178 1056.9L177.2 1053.9L176.5 1052.9L175.8 1048.6L175 1052.5L174.2 1052.3L173.5 1054L172.8 1052.2L172 1053.7L171.2 1053.8L170.5 1056.4L169.8 1056.4L169 1056.9L168.2 1050.8L167.5 1052.1L166.8 1055.2L166 1053.5L165.2 1055L164.5 1055L163.8 1055.9L163 1051.5L162.2 1058.4L161.5 1053.1L160.8 1052L160 1052.6L159.2 1052.9L158.5 1050.5L157.8 1052.5L157 1052.5L156.2 1054L155.5 1051.1L154.8 1051.4L154 1052.2L153.2 1058.1L152.5 1056.1L151.8 1051.3L151 1051.2L150.2 1050.6L149.5 1050L148.8 1053.1L148 1051.3L147.2 1051.7L146.5 1053.3L145.8 1053.6L145 1052.3L144.2 1050.6L143.5 1051.1L142.8 1055.1L142 1055.6L141.2 1055.1L140.5 1051.8L139.8 1051.6L139 1058.8L138.2 1054.7L137.5 1051.1L136.8 1052.1L136 1052.2L135.2 1053L134.5 1051.5L133.8 1051L133 1052.1L132.2 1051.8L131.5 1050.2L130.8 1058.5L130 1053.2L129.2 1052.3L128.5 1055.2L127.8 1054.2L127 1052.3L126.2 1052L125.5 1051.9L124.8 1057.1L124 1057.1L123.2 1050.7L122.5 1049.9L121.8 1054.4L121 1053.5L120.2 1049.8L119.5 1054.4L118.8 1053.9L118 1053.1L117.2 1051.6L116.5 1056.9L115.8 1056.9L115 1056.4L114.2 1055.6L113.5 1050.2L112.8 1051.2L112 1057L111.2 1054.7L110.5 1050.2L109.8 1052L109 1052L108.2 1054.7L107.5 1052.4L106.8 1051.5L106 1053.6L105.2 1056.9L104.5 1049.9L103.8 1053L103 1050.8L102.2 1052.6L101.5 1054.6L100.8 1053.9L100 1051.8L99.2 1056.7L98.5 1053.3L97.8 1053.3L97 1053.6L96.2 1053.6L95.5 1058.4L94.8 1053.8L94 1052L93.2 1053.8L92.5 1052L91.8 1053.4L91 1053.6L90.2 1053.3L89.5 1050L88.8 1058.7L88 1050.5L87.2 1052.1L86.5 1049.2L85.8 1056.9L85 1056.9L84.2 1050.3L83.5 1053.6L82.8 1052.6L82 1053.6L81.2 1051.3L80.5 1051.2L79.8 1051.5L79 1051.3L78.2 1053L77.5 1052.6L76.8 1053.6L76 1051.4L75.2 1064.1L74.5 1065.7L73.8 1052.8L73 1051L72.2 1052.8L71.5 1052.5L70.8 1053.4L70 1050.1L69.2 1054.6L68.5 1055.2L67.8 1051.5L67 1052.6L66.2 1050.7L65.5 1052.5L64.8 1052.6L64 1052.8L63.2 1053L62.5 1054.5L61.8 1052.7L61 1055L60.2 1051.2L59.5 1052L58.8 1052.4L58 1052.4L57.2 1052L56.5 1052.5L55.8 1053.3L55 1051.4L54.2 1051.7L53.5 1049.6L52.8 1051.9L52 1051.7L51.2 1054.2L50.5 1052L49.8 1052.7L49 1052.7L48.2 1055.1L47.5 1054.5L46.8 1051.1L46 1051.8L45.2 1050.7L44.5 1050.1L43.8 1050.4L43 1051.7L42.2 1053.5L41.5 1051.7L40.8 1053.2L40 1054.9L39.2 1053.5L38.5 1050.3L37.8 1049.5L37 1053.4L36.2 1053.1L35.5 1057.8L34.8 1052.1L34 1051.4L33.2 1049.7L32.5 1051.6L31.8 1050.7L31 1050.2L30.2 1051L29.5 1054.3L28.8 1051.3L28 1052.4L27.2 1051.9L26.5 1055.7Z" fill="#000" stroke="#000" stroke-width="0.5" stroke-linejoin="round"/>
<path d="M466.0 1057.0V1082.2H444.2" stroke="#000" stroke-width="1.3" fill="none"/>
<text x="473.6" y="1073.0" font-size="12.5" font-weight="normal" textLength="30.4" lengthAdjust="spacingAndGlyphs">10 pA</text>
<text x="438.6" y="1095.6" font-size="12.5" font-weight="normal" textLength="33.0" lengthAdjust="spacingAndGlyphs">50 ms</text>
<text x="26.3" y="1115.2" font-size="24" textLength="112.8" lengthAdjust="spacingAndGlyphs">WT+JuA</text>
<path d="M23.8 1138L24.8 1136.2L25.8 1136.3L26.8 1136.1L27.8 1135.7L28.8 1133.7L29.8 1136.4L30.8 1136.3L31.8 1134.3L32.8 1135.4L33.8 1135.4L34.8 1136.2L35.8 1136.7L36.8 1134.5L37.8 1136.9L38.8 1137.8L39.8 1134L40.8 1136.2L41.8 1134L42.8 1133.6L43.8 1137.7L44.8 1135.7L45.8 1135.1L46.8 1135.6L47.8 1136.2L48.8 1134.8L49.8 1135.6L50.8 1133.5L51.8 1135L52.8 1136.6L53.8 1136L54.8 1135.5L55.8 1135.8L56.8 1135.1L57.8 1137.8L58.8 1137.7L59.8 1137.1L60.8 1137.5L61.8 1137L62.8 1134.4L63.8 1135L64.8 1134.8L65.8 1136.2L66.8 1133.7L67.8 1137.6L68.8 1134.7L69.8 1135.5L70.8 1137.1L71.8 1133.9L72.8 1136.8L73.8 1136.9L74.8 1137.7L75.8 1135.9L76.8 1135.1L77.8 1137.4L78.8 1136.9L79.8 1134.4L80.8 1134.3L81.8 1135.2L82.8 1137.7L83.8 1137.7L84.8 1136.8L85.8 1135.5L86.8 1134.2L87.8 1136.2L88.8 1136.4L89.8 1138.2L90.8 1136.3L91.8 1135.2L92.8 1137.9L93.8 1136.3L94.8 1135L95.8 1132.8L96.8 1136.6L97.8 1137.5L98.8 1135.1L99.8 1137.3L100.8 1134.7L101.8 1136.7L102.8 1135.2L103.8 1134.9L104.8 1136.8L105.8 1135.5L106.8 1136.8L107.8 1136.6L108.8 1136.9L109.8 1136.6L110.8 1137.4L111.8 1137.2L112.8 1137.4L113.8 1132.4L114.8 1135.1L115.8 1135L116.8 1134.4L117.8 1135.8L118.8 1137L119.8 1136.4L120.8 1135.3L121.8 1138.2L122.8 1136.6L123.8 1136.1L124.8 1133.9L125.8 1136.1L126.8 1135.8L127.8 1137.1L128.8 1134.9L129.8 1135L130.8 1133.8L131.8 1133L132.8 1134.1L133.8 1138L134.8 1136.4L135.8 1136.6L136.8 1137.5L137.8 1136.8L138.8 1138.1L139.8 1135.7L140.8 1134.3L141.8 1136.2L142.8 1136.3L143.8 1136.5L144.8 1135.5L145.8 1135.2L146.8 1135.5L147.8 1136.8L148.8 1138.2L149.8 1136.6L150.8 1137L151.8 1136.3L152.8 1136.9L153.8 1136.5L154.8 1136.9L155.8 1136.9L156.8 1137.7L157.8 1137.5L158.8 1133.7L159.8 1136.3L160.8 1134L161.8 1133.4L162.8 1135.2L163.8 1134.1L164.8 1134.5L165.8 1137.9L166.8 1136.5L167.8 1135.5L168.8 1137.4L169.8 1137.2L170.8 1136.8L171.8 1137.1L172.8 1135.5L173.8 1134.2L174.8 1135.1L175.8 1136.4L176.8 1137.6L177.8 1136.4L178.8 1136.9L179.8 1136.3L180.8 1136.5L181.8 1135.1L182.8 1135.6L183.8 1136.9L184.8 1136.1L185.8 1135.4L186.8 1134.5L187.8 1136.1L188.8 1137.3L189.8 1138.5L190.8 1135.4L191.8 1135.5L192.8 1136.3L193.8 1137.1L194.8 1137.5L195.8 1136.4L196.8 1138.1L197.8 1134.9L198.8 1136.8L199.8 1136.4L200.8 1136.8L201.8 1137.4L202.8 1135.6L203.8 1135.6L204.8 1136.4L205.8 1136.1L206.8 1137L207.8 1135L208.8 1135.9L209.8 1136.9L210.8 1136.5L211.8 1136.6L212.8 1134.9L213.8 1137L214.8 1134.5L215.8 1137.2L216.8 1137.7L217.8 1135.2L218.8 1136.5L219.8 1136.8L220.8 1136.5L221.8 1136.6L222.8 1133.7L223.8 1135.1L224.8 1135.3L225.8 1135L226.8 1133.3L227.8 1136.5L228.8 1137.4L229.8 1136.4L230.8 1136.1L231.8 1134.9L232.8 1135L233.8 1133.2L234.8 1135.6L235.8 1136.4L236.8 1135.3L237.8 1135.7L238.8 1135.8L239.8 1136.2L240.8 1133.1L241.8 1134.4L242.8 1136.9L243.8 1135.8L244.8 1137.4L245.8 1133.5L246.8 1136.2L247.8 1136.5L248.8 1138.1L249.8 1137.7L250.8 1136.3L251.8 1137.2L252.8 1137.7L253.8 1136.1L254.8 1136.4L255.8 1135.1L256.8 1137.1L257.8 1135.4L258.8 1134.1L259.8 1135.1L260.8 1137L261.8 1138.3L262.8 1135L263.8 1134.8L264.8 1136.8L265.8 1136.8L266.8 1131.6L267.8 1137.6L268.8 1137.3L269.8 1136.2L270.8 1133.3L271.8 1136.2L272.8 1136.2L273.8 1133.8L274.8 1135.5L275.8 1137.3L276.8 1136.2L277.8 1138.2L278.8 1137L279.8 1136.7L280.8 1134L281.8 1136.7L282.8 1133.8L283.8 1135.1L284.8 1136.1L285.8 1136.1L286.8 1137.5L287.8 1137.1L288.8 1135L289.8 1136.2L290.8 1136.3L291.8 1136.8L292.8 1137.6L293.8 1137.6L294.8 1138.1L295.8 1137.1L296.8 1135L297.8 1136.8L298.8 1136.7L299.8 1136.3L300.8 1134L301.8 1136.4L302.8 1134.6L303.8 1135.8L304.8 1136.4L305.8 1135.2L306.8 1135.3L307.8 1134.1L308.8 1136.5L309.8 1136.8L310.8 1137.7L311.8 1137.6L312.8 1137.7L313.8 1136.6L314.8 1137.3L315.8 1136.1L316.8 1137.5L317.8 1134.1L318.8 1132.1L319.8 1136.6L320.8 1136.6L321.8 1137.6L322.8 1133.1L323.8 1135.4L324.8 1135L325.8 1137.3L326.8 1136.7L327.8 1136.5L328.8 1135.5L329.8 1136.1L330.8 1137L331.8 1136.7L332.8 1136.9L333.8 1136.3L334.8 1134.7L335.8 1136.3L336.8 1135.1L337.8 1138.7L338.8 1135.1L339.8 1138.1L340.8 1136L341.8 1137.3L342.8 1136.3L343.8 1134.8L344.8 1134.3L345.8 1135.9L346.8 1137.1L347.8 1136.7L348.8 1135.8L349.8 1135.4L350.8 1136.1L351.8 1136.9L352.8 1136.4L353.8 1136.5L354.8 1134.9L355.8 1135.1L356.8 1134.7L357.8 1135.4L358.8 1136L359.8 1136.9L360.8 1137.3L361.8 1137.4L362.8 1136.7L363.8 1135.6L364.8 1135.3L365.8 1136.6L366.8 1136.2L367.8 1136.5L368.8 1135.7L369.8 1136L370.8 1132.3L371.8 1137.2L372.8 1135.6L373.8 1137.5L374.8 1133.7L375.8 1134.4L376.8 1132.2L377.8 1135.9L378.8 1137.6L379.8 1134.9L380.8 1134.9L381.8 1134.9L382.8 1136.4L383.8 1136L384.8 1132L385.8 1136.7L386.8 1136.5L387.8 1136L388.8 1133.6L389.8 1135.7L390.8 1135.1L391.8 1135.3L392.8 1134.6L393.8 1135.6L394.8 1135.1L395.8 1137.8L396.8 1138L397.8 1137.3L398.8 1136.3L399.8 1134.4L400.8 1136.8L401.8 1138.4L402.8 1136.1L403.8 1135.6L404.8 1135.1L405.8 1136.2L406.8 1136.9L407.8 1133.4L408.8 1136.1L409.8 1135.3L410.8 1135.5L411.8 1133.9L412.8 1136.8L413.8 1137L414.8 1136.6L415.8 1136.6L416.8 1136L417.8 1137L418.8 1136.6L419.8 1136.4L420.8 1137.1L421.8 1136.6L422.8 1136.4L423.8 1136.5L424.8 1136.6L425.8 1138.4L426.8 1133.5L427.8 1137.5L428.8 1134.5L429.8 1134.7L430.8 1136L431.8 1136.7L432.8 1135.8L433.8 1136.9L434.8 1134.9L435.8 1133.8L436.8 1136.2L437.8 1137.7L438.8 1137.1L439.8 1135.5L440.8 1135L441.8 1136.4L442.8 1133.6L443.8 1132.8L444.8 1137.2L445.8 1134.9L446.8 1134.9L447.8 1135.9L448.8 1133.6L449.8 1137.5L450.8 1136.3L451.8 1135.6L452.8 1135.1L453.8 1134.4L454.8 1135.6L455.8 1135.5L456.8 1136.8L457.8 1136.4L458.8 1133.3L459.8 1137.3L460.8 1135.5L461.8 1136.2L462.8 1134.4L463.8 1135.2L464.8 1135.5L465.8 1135.5L466.8 1135.2L467.8 1136.1L468.8 1135.6L469.8 1134.2L470.8 1134.6L471.8 1136.1L472.8 1136.2L473.8 1135.8L474.8 1135.2L475.8 1133.8L476.8 1135.2L477.8 1135.3L478.8 1135.1L479.8 1135L480.8 1137L481.8 1136.4L482.8 1134.9L483.8 1137.5L484.8 1135.9L485.8 1135.9L486.8 1134.3L487.8 1135.2L488.8 1136.1L488.8 1151L487.8 1155.4L486.8 1150.3L485.8 1151.5L484.8 1150.1L483.8 1149.7L482.8 1151.9L481.8 1151.1L480.8 1150.7L479.8 1154.5L478.8 1150.8L477.8 1151L476.8 1149L475.8 1152L474.8 1149.9L473.8 1150.8L472.8 1151.3L471.8 1152.3L470.8 1149.5L469.8 1150.6L468.8 1149.7L467.8 1154.4L466.8 1152L465.8 1151.3L464.8 1150.5L463.8 1149.8L462.8 1149.5L461.8 1153.8L460.8 1154.2L459.8 1149.9L458.8 1148.8L457.8 1151.4L456.8 1151.3L455.8 1150.3L454.8 1150.9L453.8 1151.2L452.8 1150.3L451.8 1150.5L450.8 1150.6L449.8 1150.4L448.8 1151.9L447.8 1150.5L446.8 1152.6L445.8 1150.9L444.8 1153.5L443.8 1149.1L442.8 1149.8L441.8 1152.1L440.8 1153.8L439.8 1152.3L438.8 1151.1L437.8 1153.1L436.8 1150.7L435.8 1148.9L434.8 1150.1L433.8 1150.8L432.8 1150.3L431.8 1151.7L430.8 1149.6L429.8 1151.5L428.8 1150.1L427.8 1152.1L426.8 1150.7L425.8 1153.3L424.8 1152.2L423.8 1151.2L422.8 1151.6L421.8 1149.3L420.8 1149.1L419.8 1150.1L418.8 1149.5L417.8 1154L416.8 1150.5L415.8 1149.8L414.8 1153.1L413.8 1151.7L412.8 1150.6L411.8 1151.9L410.8 1150.8L409.8 1149.3L408.8 1152L407.8 1151.2L406.8 1151.3L405.8 1150.5L404.8 1150.7L403.8 1150.1L402.8 1153.4L401.8 1151.4L400.8 1151.5L399.8 1150.7L398.8 1150.4L397.8 1149.9L396.8 1150.2L395.8 1150L394.8 1150.2L393.8 1150.1L392.8 1151.2L391.8 1153.1L390.8 1153.1L389.8 1151.5L388.8 1149.2L387.8 1149.9L386.8 1151.2L385.8 1149.9L384.8 1150.7L383.8 1151.4L382.8 1152L381.8 1151L380.8 1152.3L379.8 1150.8L378.8 1151L377.8 1153.3L376.8 1151.1L375.8 1149.9L374.8 1150.5L373.8 1150.8L372.8 1150.2L371.8 1153.2L370.8 1150.8L369.8 1149.8L368.8 1151.2L367.8 1151.5L366.8 1154.6L365.8 1150.2L364.8 1150L363.8 1150.1L362.8 1152.5L361.8 1153.3L360.8 1151.4L359.8 1150.5L358.8 1149.7L357.8 1151L356.8 1152.3L355.8 1151.4L354.8 1152.4L353.8 1151.4L352.8 1151.1L351.8 1149.2L350.8 1149.7L349.8 1150.1L348.8 1150L347.8 1149.5L346.8 1150.3L345.8 1151.2L344.8 1152.6L343.8 1150.7L342.8 1150.9L341.8 1149.8L340.8 1151.4L339.8 1150.3L338.8 1150.5L337.8 1149.6L336.8 1154.2L335.8 1148.7L334.8 1150.6L333.8 1152.8L332.8 1149.1L331.8 1150.2L330.8 1150.5L329.8 1151.9L328.8 1151.5L327.8 1150.9L326.8 1150.5L325.8 1154L324.8 1150.7L323.8 1150.6L322.8 1149.6L321.8 1149.9L320.8 1152.3L319.8 1151.9L318.8 1151.1L317.8 1150.4L316.8 1150.7L315.8 1149.5L314.8 1149.1L313.8 1156L312.8 1150.1L311.8 1148.8L310.8 1150.4L309.8 1152.1L308.8 1151.5L307.8 1150.9L306.8 1150.6L305.8 1150.2L304.8 1151.4L303.8 1149.2L302.8 1151L301.8 1151.3L300.8 1151.7L299.8 1150L298.8 1150.2L297.8 1150.8L296.8 1152.7L295.8 1149.4L294.8 1150.3L293.8 1149.1L292.8 1152.3L291.8 1150.4L290.8 1150.6L289.8 1152.4L288.8 1152.4L287.8 1149.2L286.8 1148.8L285.8 1150.6L284.8 1151.7L283.8 1150.5L282.8 1150.7L281.8 1150.7L280.8 1151.2L279.8 1152.1L278.8 1150.5L277.8 1151.9L276.8 1151.3L275.8 1154.1L274.8 1151.9L273.8 1149.4L272.8 1149L271.8 1149.8L270.8 1150.4L269.8 1150.3L268.8 1152.1L267.8 1150L266.8 1150.3L265.8 1151.6L264.8 1150.9L263.8 1149.6L262.8 1151.8L261.8 1150.3L260.8 1153.9L259.8 1149.9L258.8 1151.8L257.8 1150.1L256.8 1149.3L255.8 1152.1L254.8 1151.6L253.8 1149.9L252.8 1148.8L251.8 1151.5L250.8 1150.3L249.8 1150.5L248.8 1151L247.8 1151.5L246.8 1151.1L245.8 1149.6L244.8 1153.8L243.8 1149.7L242.8 1151.2L241.8 1151.1L240.8 1151.1L239.8 1149.6L238.8 1151.3L237.8 1149.9L236.8 1151.6L235.8 1149.8L234.8 1150.8L233.8 1149.9L232.8 1150.3L231.8 1149.4L230.8 1150.6L229.8 1149.8L228.8 1150.9L227.8 1150.8L226.8 1152.7L225.8 1150.4L224.8 1151.4L223.8 1150.2L222.8 1149.7L221.8 1149.2L220.8 1151.5L219.8 1150.9L218.8 1150.6L217.8 1155.3L216.8 1152.2L215.8 1149.5L214.8 1151.6L213.8 1152L212.8 1151.1L211.8 1151.4L210.8 1149.4L209.8 1150.1L208.8 1152.3L207.8 1149.9L206.8 1150.4L205.8 1152.2L204.8 1149.4L203.8 1150.2L202.8 1151.2L201.8 1150.1L200.8 1151.9L199.8 1150.5L198.8 1150.1L197.8 1153.5L196.8 1148.8L195.8 1152.4L194.8 1150.1L193.8 1152.4L192.8 1152.5L191.8 1148.8L190.8 1150L189.8 1149.4L188.8 1152.2L187.8 1152.4L186.8 1150.5L185.8 1150.2L184.8 1153L183.8 1151.7L182.8 1150.3L181.8 1150.2L180.8 1151.4L179.8 1151.5L178.8 1150.9L177.8 1149.9L176.8 1150.3L175.8 1150.1L174.8 1149.1L173.8 1154.4L172.8 1151.4L171.8 1151.1L170.8 1148.5L169.8 1152.7L168.8 1150.6L167.8 1154.4L166.8 1150.5L165.8 1150.7L164.8 1152.9L163.8 1149.6L162.8 1155.2L161.8 1152.3L160.8 1150.1L159.8 1150.8L158.8 1150.9L157.8 1148.6L156.8 1149.1L155.8 1149.8L154.8 1152.2L153.8 1149.7L152.8 1151.8L151.8 1151.5L150.8 1151.4L149.8 1153.6L148.8 1149.7L147.8 1151.7L146.8 1151.1L145.8 1151.5L144.8 1150.6L143.8 1150.5L142.8 1153.4L141.8 1151.2L140.8 1151L139.8 1150.2L138.8 1150.2L137.8 1152L136.8 1150.5L135.8 1149.5L134.8 1150.1L133.8 1152.8L132.8 1151.8L131.8 1150.3L130.8 1151.4L129.8 1150L128.8 1152.2L127.8 1149.6L126.8 1152L125.8 1149.1L124.8 1151.1L123.8 1153.7L122.8 1151L121.8 1150.6L120.8 1150L119.8 1148.4L118.8 1148.4L117.8 1149.6L116.8 1151.7L115.8 1150.2L114.8 1151.1L113.8 1152L112.8 1150L111.8 1150.5L110.8 1149.1L109.8 1151.4L108.8 1150.9L107.8 1150.2L106.8 1148.5L105.8 1150.3L104.8 1151.5L103.8 1152.3L102.8 1152.9L101.8 1151.9L100.8 1150.9L99.8 1150.1L98.8 1154.1L97.8 1151.7L96.8 1152.2L95.8 1151.4L94.8 1149.6L93.8 1150.7L92.8 1150.2L91.8 1151.9L90.8 1153.5L89.8 1151L88.8 1151.2L87.8 1150L86.8 1150.8L85.8 1150.7L84.8 1150L83.8 1151.1L82.8 1151.1L81.8 1150.9L80.8 1150.6L79.8 1150.3L78.8 1150.2L77.8 1152.2L76.8 1149.9L75.8 1149.7L74.8 1150.8L73.8 1150.2L72.8 1150.4L71.8 1156.6L70.8 1150.5L69.8 1150.2L68.8 1150.6L67.8 1151.8L66.8 1151.7L65.8 1149.8L64.8 1149L63.8 1151.3L62.8 1151.9L61.8 1151.4L60.8 1150.1L59.8 1150L58.8 1151.3L57.8 1150L56.8 1152.8L55.8 1152.6L54.8 1152L53.8 1150.4L52.8 1149.7L51.8 1152.1L50.8 1151.4L49.8 1150.7L48.8 1150.3L47.8 1149.7L46.8 1151.2L45.8 1150.1L44.8 1151L43.8 1150.2L42.8 1152.4L41.8 1149.4L40.8 1150.5L39.8 1151L38.8 1149.2L37.8 1150.9L36.8 1151.4L35.8 1150.8L34.8 1149.6L33.8 1151.4L32.8 1150L31.8 1152.5L30.8 1150.3L29.8 1151.9L28.8 1151.7L27.8 1154L26.8 1151.4L25.8 1149.8L24.8 1150.2L23.8 1153.4ZM28.3 1143.5L29.7 1143.5L29.5 1158.5L28.5 1158.5ZM145.3 1143.5L146.7 1143.5L146.5 1159.0L145.5 1159.0ZM151.3 1143.5L152.7 1143.5L152.5 1161.0L151.5 1161.0ZM169.3 1143.5L170.7 1143.5L170.5 1167.0L169.5 1167.0ZM192.1 1143.5L193.5 1143.5L193.3 1159.0L192.3 1159.0ZM238.0 1143.5L239.4 1143.5L239.2 1164.0L238.2 1164.0ZM278.8 1143.5L280.2 1143.5L280.0 1165.0L279.0 1165.0Z" fill="#000" stroke="#000" stroke-width="0.5" stroke-linejoin="round"/>
<path d="M145.5 1113.7L145.5 1212.0" stroke="#000" stroke-width="1.25" stroke-dasharray="8.4 5.4" stroke-dashoffset="2.4" fill="none"/>
<path d="M144.9 1114.3L194.7 1114.3" stroke="#000" stroke-width="1.25" stroke-dasharray="8.4 5.4" stroke-dashoffset="5" fill="none"/>
<path d="M194.1 1113.7L194.1 1212.0" stroke="#000" stroke-width="1.25" stroke-dasharray="8.4 5.4" stroke-dashoffset="4" fill="none"/>
<path d="M145.5 1212.0L194.1 1212.0" stroke="#000" stroke-width="1.25" stroke-dasharray="8.4 5.4" stroke-dashoffset="6.7" fill="none"/>
<path d="M145.5 1212.0L29.0 1253.7" stroke="#000" stroke-width="1.25" stroke-dasharray="12 6.2" stroke-dashoffset="2" fill="none"/>
<path d="M194.1 1212.0L482.8 1252.7" stroke="#000" stroke-width="1.25" stroke-dasharray="21 9" stroke-dashoffset="2" fill="none"/>
<path d="M27.2 1260.4L27.9 1259.1L28.7 1256.6L29.4 1258L30.2 1256.4L30.9 1258.5L31.7 1260L32.5 1260.1L33.2 1260.5L34 1257.2L34.7 1258.6L35.5 1257L36.2 1261.6L37 1256.6L37.7 1258.9L38.5 1258.9L39.2 1257.9L40 1253.9L40.7 1254.9L41.5 1261.6L42.2 1260.4L43 1259.3L43.7 1260.4L44.5 1256L45.2 1256.6L46 1260.1L46.7 1258.3L47.5 1258.7L48.2 1260.2L49 1255.3L49.7 1255.3L50.5 1260.1L51.2 1257.3L52 1258.4L52.7 1260L53.5 1257.6L54.2 1259.2L55 1258.1L55.7 1259.8L56.5 1259.4L57.2 1254.7L58 1258.9L58.7 1257.5L59.5 1261L60.2 1259.8L61 1259.8L61.7 1259.9L62.5 1260.4L63.2 1255.3L64 1260.1L64.7 1257.6L65.5 1259.6L66.2 1258.9L67 1258L67.7 1258.3L68.5 1251.7L69.2 1258.2L70 1256.8L70.7 1257.9L71.5 1258.6L72.2 1258.7L73 1258.3L73.7 1254.4L74.5 1259.6L75.2 1258.5L76 1260.5L76.7 1260.2L77.5 1257.8L78.2 1256.8L79 1258.9L79.7 1258.1L80.5 1259.4L81.2 1255.4L82 1256.8L82.7 1254.1L83.5 1259.6L84.2 1256.8L85 1259.7L85.7 1258L86.5 1256.6L87.2 1259.1L88 1260.5L88.7 1258.7L89.5 1255.5L90.2 1259.4L91 1260.4L91.7 1255.7L92.5 1258.9L93.2 1260.6L94 1256.5L94.7 1259.8L95.5 1259.3L96.2 1255.7L97 1255.4L97.7 1259.8L98.5 1255.8L99.2 1255.8L100 1260.2L100.7 1256.2L101.5 1258L102.2 1257.7L103 1259.4L103.7 1258.8L104.5 1256.6L105.2 1259L106 1258L106.7 1256.5L107.5 1261.5L108.2 1255.9L109 1258.6L109.7 1258.2L110.5 1257.5L111.2 1257.8L112 1257.2L112.7 1257.1L113.5 1254.3L114.2 1258.8L115 1258.3L115.7 1257.6L116.5 1261.4L117.2 1256.8L118 1257L118.7 1257L119.5 1257.5L120.2 1257.5L121 1254.1L121.7 1260.5L122.5 1256.8L123.2 1257L124 1258.2L124.7 1259.4L125.5 1256.3L126.2 1260.7L127 1259L127.7 1258.7L128.4 1261.4L129.2 1259.3L129.9 1256.1L130.7 1257.8L131.4 1261.2L132.2 1257.9L132.9 1258.6L133.7 1254.9L134.4 1257.1L135.2 1260.3L135.9 1258.9L136.7 1259.5L137.4 1255.8L138.2 1259.4L138.9 1259.5L139.7 1258.8L140.4 1258L141.2 1254.6L141.9 1257.4L142.7 1257.3L143.4 1256.3L144.2 1260.8L144.9 1254.4L145.7 1259.4L146.4 1256.1L147.2 1260.1L147.9 1257.5L148.7 1256.9L149.4 1259.2L150.2 1259.5L150.9 1258.9L151.7 1258.5L152.4 1258.4L153.2 1259.3L153.9 1257.9L154.7 1260.2L155.4 1254.8L156.2 1254.8L156.9 1258.3L157.7 1259.1L158.4 1259.2L159.2 1255.5L159.9 1257.3L160.7 1257.9L161.4 1255.6L162.2 1259.1L162.9 1259.3L163.7 1260.4L164.4 1258L165.2 1259.4L165.9 1258.3L166.7 1259.6L167.4 1257.5L168.2 1260.8L168.9 1258.8L169.7 1257.9L170.4 1261L171.2 1258.5L171.9 1256.4L172.7 1255.1L173.4 1260.8L174.2 1260.1L174.9 1258.4L175.7 1258.8L176.4 1256.4L177.2 1257.6L177.9 1257.5L178.7 1257.5L179.4 1258L180.2 1259.4L180.9 1257.5L181.7 1258.7L182.4 1258.1L183.2 1260L183.9 1257.8L184.7 1255L185.4 1259.4L186.2 1257.7L186.9 1255.8L187.7 1258.1L188.4 1258.1L189.2 1256.1L189.9 1256.5L190.7 1258L191.4 1259.5L192.2 1257.5L192.9 1258.4L193.7 1253.2L194.4 1257.3L195.2 1255.5L195.9 1260.5L196.7 1258.3L197.4 1262.1L198.2 1259.7L198.9 1256.8L199.7 1256L200.4 1259.2L201.2 1258.9L201.9 1257.8L202.7 1256.8L203.4 1260.7L204.2 1262.9L204.9 1261.7L205.7 1257.1L206.4 1256L207.2 1258.2L207.9 1255.7L208.7 1257.5L209.4 1259.3L210.2 1259.4L210.9 1258.4L211.7 1259.2L212.4 1259.2L213.2 1258.6L213.9 1258.5L214.7 1255.5L215.4 1255.1L216.2 1251.9L216.9 1257L217.7 1258.4L218.4 1259.6L219.2 1257.7L219.9 1258.3L220.7 1262.2L221.4 1255.8L222.2 1255.7L222.9 1258.6L223.7 1260.1L224.4 1257.4L225.2 1260.6L225.9 1261L226.7 1258.2L227.4 1255.5L228.2 1259.6L228.9 1258.2L229.7 1259.7L230.4 1255.6L231.2 1259.6L231.9 1258.3L232.7 1257.6L233.4 1261.2L234.2 1258.3L234.9 1259.8L235.7 1257.3L236.4 1257L237.2 1256.9L237.9 1258.8L238.7 1260.5L239.4 1259.6L240.2 1259.9L240.9 1260.1L241.7 1260.4L242.4 1261.1L243.2 1258.5L243.9 1258.8L244.7 1256.4L245.4 1260.5L246.2 1258.2L246.9 1258L247.7 1257L248.4 1255.3L249.2 1259.8L249.9 1260.3L250.7 1258.3L251.4 1257L252.2 1259.9L252.9 1257.1L253.7 1260L254.4 1260.9L255.2 1260.6L255.9 1258.8L256.7 1260.6L257.4 1258.3L258.2 1259L258.9 1260.1L259.7 1257.2L260.4 1258.3L261.2 1258.1L261.9 1259.4L262.7 1257.8L263.4 1256.7L264.2 1259.6L264.9 1261L265.7 1258.1L266.4 1256.2L267.2 1257.2L267.9 1254.1L268.7 1260L269.4 1256.5L270.2 1261.4L270.9 1259.7L271.7 1258.4L272.4 1259.9L273.2 1257.2L273.9 1254.4L274.7 1258.1L275.4 1256L276.2 1254.9L276.9 1257.4L277.7 1261.5L278.4 1259.9L279.2 1258.6L279.9 1258L280.7 1258.8L281.4 1260.6L282.2 1257.9L282.9 1258.1L283.7 1257.9L284.4 1258.7L285.2 1256.8L285.9 1260L286.7 1256.8L287.4 1258.2L288.2 1259.7L288.9 1255.5L289.7 1260.2L290.4 1259.3L291.2 1260L291.9 1258.9L292.7 1258.7L293.4 1256.7L294.2 1259.2L294.9 1255.6L295.7 1256.9L296.4 1259L297.2 1258.1L297.9 1256.4L298.7 1259.3L299.4 1253.4L300.2 1259.4L300.9 1258.6L301.7 1258L302.4 1259.8L303.2 1260.5L303.9 1258.2L304.7 1258.5L305.4 1251.8L306.2 1260L306.9 1256.8L307.7 1259.2L308.4 1258.4L309.2 1258.4L309.9 1260.9L310.7 1255L311.4 1255L312.2 1258.6L312.9 1258.9L313.7 1257.4L314.4 1261.7L315.2 1261.9L315.9 1261.2L316.7 1260.1L317.4 1258.8L318.2 1256.6L318.9 1257.2L319.7 1257.2L320.4 1256.5L321.2 1254.9L321.9 1258.5L322.7 1259.3L323.4 1259.1L324.2 1255.5L324.9 1258.8L325.7 1258.9L326.4 1260L327.2 1260.7L327.9 1258.6L328.7 1259.8L329.4 1258L330.2 1258.5L330.9 1257.6L331.7 1260.2L332.4 1258.7L333.2 1255.3L333.9 1258.1L334.7 1259.8L335.4 1256.8L336.2 1256.6L336.9 1253.5L337.7 1257.8L338.4 1259.2L339.2 1256.1L339.9 1260L340.7 1258.2L341.4 1255.8L342.2 1259.9L342.9 1257.7L343.7 1258.9L344.4 1258L345.2 1260.9L345.9 1257.7L346.7 1258.7L347.4 1264L348.2 1264.1L348.9 1263.2L349.7 1260.7L350.4 1258.5L351.2 1258.7L351.9 1258.2L352.7 1257.4L353.4 1257.6L354.2 1255.6L354.9 1256.9L355.7 1257.5L356.4 1256.8L357.2 1257.8L357.9 1258L358.7 1258.9L359.4 1259.9L360.2 1255.1L360.9 1259.2L361.7 1259.9L362.4 1256.4L363.2 1258.2L363.9 1256.6L364.7 1258.7L365.4 1257L366.2 1259L366.9 1260.2L367.7 1261.2L368.4 1259.1L369.2 1261.3L369.9 1258.1L370.7 1260.1L371.4 1257.3L372.2 1256.5L372.9 1259.1L373.7 1258.1L374.4 1258L375.2 1260.3L375.9 1259.4L376.7 1259.1L377.4 1257.7L378.2 1259.7L378.9 1259.6L379.7 1260.7L380.4 1259.3L381.2 1258.1L381.9 1257.5L382.7 1256.9L383.4 1257.5L384.2 1260.2L384.9 1260.4L385.7 1258.5L386.4 1258.1L387.2 1257.8L387.9 1255L388.7 1257.1L389.4 1255.5L390.2 1258L390.9 1255L391.7 1258.8L392.4 1257.2L393.2 1260.5L393.9 1258L394.7 1260.8L395.4 1259L396.2 1256.6L396.9 1260L397.7 1258.8L398.4 1257.9L399.2 1261.2L399.9 1257L400.7 1259.4L401.4 1255.5L402.2 1256.5L402.9 1278.4L403.7 1271.3L404.4 1267.2L405.2 1264.9L405.9 1265.6L406.7 1260.7L407.4 1261.1L408.2 1262.4L408.9 1259.7L409.7 1260.6L410.4 1261.2L411.2 1260.9L411.9 1258.9L412.7 1259.1L413.4 1258.2L414.2 1259.7L414.9 1256.3L415.7 1261L416.4 1258.8L417.2 1257.9L417.9 1259.6L418.7 1255.2L419.4 1258.9L420.2 1258.1L420.9 1258.1L421.7 1257.4L422.4 1259.2L423.2 1255.5L423.9 1256.9L424.7 1258.3L425.4 1257.6L426.2 1259.3L426.9 1260.9L427.7 1259.5L428.4 1256.7L429.2 1257.5L429.9 1254.9L430.7 1257.1L431.4 1260.6L432.2 1260.1L432.9 1258.5L433.7 1258.1L434.4 1260L435.2 1260.1L435.9 1259.7L436.7 1259.7L437.4 1257.3L438.2 1257.5L438.9 1252.3L439.7 1255.9L440.4 1259.6L441.2 1255.6L441.9 1258.5L442.7 1255.9L443.4 1259L444.2 1259L444.9 1259.5L445.7 1258.7L446.4 1258.3L447.2 1259.6L447.9 1258.6L448.7 1259.5L449.4 1260.5L450.2 1267.1L450.9 1270.4L451.7 1264L452.4 1263.1L453.2 1263.9L453.9 1263.6L454.7 1262.1L455.4 1259.6L456.2 1260L456.9 1260.3L457.7 1257.3L458.4 1262.2L459.2 1256.9L459.9 1257.8L460.7 1260.5L461.4 1257.7L462.2 1259.5L462.9 1260.6L463.7 1261.3L464.4 1257.1L465.2 1258L465.9 1260.8L466.7 1258.1L467.4 1261.2L468.2 1257L468.9 1257.3L469.7 1258.3L470.4 1257.9L471.2 1257.1L471.9 1259.3L472.7 1257.2L473.4 1258.9L474.2 1258.6L474.9 1258.5L475.7 1255.5L476.4 1255.5L477.2 1259L477.9 1257.5L478.7 1255L479.4 1259.9L480.2 1258.7L480.9 1258.2L481.7 1260.8L482.4 1256.8L483.2 1258.2L483.9 1258.1L484.7 1258.9L485.4 1256.9L486.2 1257.1L486.9 1257.9L487.7 1259.6L488.4 1259L489.2 1259.1L489.9 1257.6L490.7 1258.3L491.4 1258.1L492.2 1259.9L492.9 1259.5L493.7 1259.5L493.7 1273.3L492.9 1272.6L492.2 1272.3L491.4 1275.2L490.7 1273.4L489.9 1272L489.2 1274.5L488.4 1272.7L487.7 1276.7L486.9 1276.7L486.2 1278.5L485.4 1271L484.7 1277.3L483.9 1273.8L483.2 1274.7L482.4 1274.4L481.7 1274.3L480.9 1274L480.2 1274.9L479.4 1271.1L478.7 1276L477.9 1275.1L477.2 1273.3L476.4 1273.2L475.7 1272.8L474.9 1272.8L474.2 1276.9L473.4 1275L472.7 1272.2L471.9 1271.7L471.2 1274.4L470.4 1271.8L469.7 1276.1L468.9 1271.8L468.2 1274.7L467.4 1272.2L466.7 1273.3L465.9 1272.1L465.2 1272.3L464.4 1273L463.7 1271L462.9 1277.2L462.2 1274.9L461.4 1276.1L460.7 1272.3L459.9 1273.3L459.2 1276.3L458.4 1278.3L457.7 1275.5L456.9 1273.2L456.2 1275.7L455.4 1283.3L454.7 1278.7L453.9 1276.6L453.2 1277.5L452.4 1282L451.7 1283.8L450.9 1288.1L450.2 1292.4L449.4 1295L448.7 1274.9L447.9 1273.1L447.2 1271.4L446.4 1272.8L445.7 1277.9L444.9 1272.9L444.2 1272.2L443.4 1275.8L442.7 1274.1L441.9 1274.6L441.2 1273.3L440.4 1273.2L439.7 1270L438.9 1272.1L438.2 1273.7L437.4 1272.8L436.7 1274.6L435.9 1275.9L435.2 1271.8L434.4 1274.7L433.7 1273.6L432.9 1272.7L432.2 1273.3L431.4 1279.8L430.7 1275.1L429.9 1273.1L429.2 1273.7L428.4 1271L427.7 1271.9L426.9 1276.6L426.2 1272.4L425.4 1271.9L424.7 1275.4L423.9 1273.7L423.2 1272.1L422.4 1271.2L421.7 1272.4L420.9 1275.3L420.2 1272L419.4 1275L418.7 1274.9L417.9 1274.8L417.2 1274.8L416.4 1275.8L415.7 1271.8L414.9 1272L414.2 1271.6L413.4 1274.3L412.7 1274.4L411.9 1271.2L411.2 1272.6L410.4 1274L409.7 1276.3L408.9 1276.9L408.2 1279.3L407.4 1276.4L406.7 1279.8L405.9 1280.1L405.2 1283.6L404.4 1282.5L403.7 1285.7L402.9 1295.6L402.2 1301.5L401.4 1273.8L400.7 1273.5L399.9 1271.9L399.2 1274.1L398.4 1272.8L397.7 1275.4L396.9 1272.7L396.2 1272.6L395.4 1270.8L394.7 1272.1L393.9 1273.8L393.2 1273.6L392.4 1274L391.7 1273.2L390.9 1274.4L390.2 1275.3L389.4 1273.4L388.7 1275L387.9 1271.9L387.2 1273.8L386.4 1275.8L385.7 1271.9L384.9 1272.8L384.2 1273.2L383.4 1277.1L382.7 1274.2L381.9 1273.4L381.2 1274.4L380.4 1273.3L379.7 1272.2L378.9 1275.9L378.2 1273.3L377.4 1276.7L376.7 1273.7L375.9 1277.4L375.2 1275.4L374.4 1274.1L373.7 1276L372.9 1271.9L372.2 1278.6L371.4 1275.9L370.7 1275.4L369.9 1275.2L369.2 1276.3L368.4 1273.6L367.7 1276.6L366.9 1275L366.2 1275.3L365.4 1274.8L364.7 1271.8L363.9 1271.7L363.2 1278.3L362.4 1272.6L361.7 1276.2L360.9 1271.6L360.2 1271.8L359.4 1274L358.7 1274.2L357.9 1276.5L357.2 1272.2L356.4 1272.6L355.7 1272.1L354.9 1274.4L354.2 1272.3L353.4 1275.2L352.7 1270.9L351.9 1273.2L351.2 1276.9L350.4 1274.2L349.7 1274.6L348.9 1275.5L348.2 1277.1L347.4 1287.1L346.7 1289L345.9 1274.5L345.2 1274.3L344.4 1272.6L343.7 1272L342.9 1273.7L342.2 1278L341.4 1272.8L340.7 1274.1L339.9 1270.4L339.2 1273.9L338.4 1273.9L337.7 1272L336.9 1273.8L336.2 1275L335.4 1274.1L334.7 1272.4L333.9 1272.7L333.2 1272.1L332.4 1273.1L331.7 1279.9L330.9 1269.9L330.2 1273.9L329.4 1273.1L328.7 1272.6L327.9 1272.6L327.2 1273.6L326.4 1276L325.7 1277.8L324.9 1273.3L324.2 1276.5L323.4 1273.1L322.7 1274L321.9 1271.7L321.2 1273.3L320.4 1276L319.7 1274.1L318.9 1270.6L318.2 1271.2L317.4 1272.9L316.7 1276.6L315.9 1272.8L315.2 1272.3L314.4 1274.2L313.7 1276.1L312.9 1274.6L312.2 1273.3L311.4 1271.9L310.7 1273.5L309.9 1274.1L309.2 1273L308.4 1272L307.7 1278.4L306.9 1273.6L306.2 1271.4L305.4 1272.9L304.7 1273.4L303.9 1277.9L303.2 1272L302.4 1272.5L301.7 1274.8L300.9 1273.7L300.2 1273.4L299.4 1275L298.7 1275.8L297.9 1270.8L297.2 1274.3L296.4 1273.8L295.7 1272.6L294.9 1275.4L294.2 1275.1L293.4 1273.3L292.7 1274.2L291.9 1271.8L291.2 1271.2L290.4 1272.5L289.7 1272.5L288.9 1277.4L288.2 1276.6L287.4 1271.1L286.7 1273.1L285.9 1272.1L285.2 1274.2L284.4 1277L283.7 1274.2L282.9 1274.6L282.2 1273.7L281.4 1273.4L280.7 1276.5L279.9 1274.7L279.2 1273.4L278.4 1274.8L277.7 1272.9L276.9 1273.8L276.2 1272.5L275.4 1271.2L274.7 1275.5L273.9 1275L273.2 1272.4L272.4 1277.3L271.7 1272.1L270.9 1273.6L270.2 1272.8L269.4 1271.7L268.7 1272.2L267.9 1273.3L267.2 1273.3L266.4 1277.1L265.7 1275.7L264.9 1274.3L264.2 1271.3L263.4 1272.8L262.7 1271.7L261.9 1277.2L261.2 1272L260.4 1271.9L259.7 1272.3L258.9 1274.7L258.2 1276L257.4 1274.3L256.7 1275.1L255.9 1273.2L255.2 1275.4L254.4 1274.4L253.7 1278.9L252.9 1272.8L252.2 1273.8L251.4 1275.7L250.7 1279.7L249.9 1274.3L249.2 1270.9L248.4 1272.3L247.7 1272.4L246.9 1273.3L246.2 1274.6L245.4 1274.1L244.7 1274.4L243.9 1274.1L243.2 1277.8L242.4 1273.9L241.7 1270.3L240.9 1271.2L240.2 1272.1L239.4 1271.8L238.7 1271.1L237.9 1276.7L237.2 1270.7L236.4 1273.1L235.7 1273.5L234.9 1276.3L234.2 1273.8L233.4 1274.1L232.7 1272.9L231.9 1272.8L231.2 1273L230.4 1272.9L229.7 1274.1L228.9 1273.6L228.2 1272.2L227.4 1272.5L226.7 1274.7L225.9 1276L225.2 1271.9L224.4 1276.9L223.7 1274L222.9 1273.9L222.2 1274.9L221.4 1273.3L220.7 1275.1L219.9 1275.7L219.2 1271.7L218.4 1272.4L217.7 1272.5L216.9 1272.4L216.2 1274.5L215.4 1277L214.7 1271L213.9 1273.4L213.2 1276.4L212.4 1273.8L211.7 1274.8L210.9 1274L210.2 1272.1L209.4 1274.8L208.7 1273L207.9 1274.7L207.2 1275.2L206.4 1277.3L205.7 1274.2L204.9 1275.3L204.2 1273.7L203.4 1274.3L202.7 1273.5L201.9 1272.2L201.2 1274.5L200.4 1274L199.7 1271.4L198.9 1274.1L198.2 1271.6L197.4 1277.1L196.7 1273.1L195.9 1271.9L195.2 1274.8L194.4 1272.8L193.7 1275L192.9 1274.2L192.2 1274.9L191.4 1274.6L190.7 1272.4L189.9 1272.3L189.2 1272.5L188.4 1272.6L187.7 1273.9L186.9 1272.7L186.2 1271.9L185.4 1274.4L184.7 1273.5L183.9 1272.4L183.2 1273.6L182.4 1275.3L181.7 1272.1L180.9 1278.1L180.2 1272.8L179.4 1275.1L178.7 1272.3L177.9 1273L177.2 1272.7L176.4 1277.3L175.7 1272.5L174.9 1272.7L174.2 1273.6L173.4 1272.7L172.7 1273.3L171.9 1272.8L171.2 1272.2L170.4 1275.2L169.7 1271.5L168.9 1275.4L168.2 1272.9L167.4 1273L166.7 1272.7L165.9 1275L165.2 1274.2L164.4 1272.9L163.7 1274L162.9 1271L162.2 1272.8L161.4 1273.6L160.7 1270.9L159.9 1274.3L159.2 1277.3L158.4 1275.1L157.7 1274.3L156.9 1273.3L156.2 1277.1L155.4 1273.9L154.7 1271.3L153.9 1275.4L153.2 1275L152.4 1274.2L151.7 1272.7L150.9 1273.3L150.2 1274L149.4 1271.3L148.7 1275.4L147.9 1272.5L147.2 1273.1L146.4 1272.4L145.7 1274.2L144.9 1272.7L144.2 1274.7L143.4 1272.6L142.7 1273.3L141.9 1275.1L141.2 1275.1L140.4 1271.8L139.7 1272L138.9 1274.2L138.2 1274.2L137.4 1272.6L136.7 1271.1L135.9 1273.7L135.2 1274.4L134.4 1270.1L133.7 1272.4L132.9 1272.7L132.2 1273.6L131.4 1275.3L130.7 1275.3L129.9 1276L129.2 1275.2L128.4 1272L127.7 1272L127 1274.9L126.2 1274.2L125.5 1272.1L124.7 1274.5L124 1276.6L123.2 1273.5L122.5 1273.4L121.7 1274L121 1270.5L120.2 1273.8L119.5 1275.6L118.7 1275.3L118 1272.9L117.2 1270.9L116.5 1274.6L115.7 1271.6L115 1275.3L114.2 1273.7L113.5 1272.2L112.7 1273.6L112 1277.1L111.2 1273.6L110.5 1273.6L109.7 1274.3L109 1273.7L108.2 1274.4L107.5 1275L106.7 1278.9L106 1273.2L105.2 1274.4L104.5 1271L103.7 1273.1L103 1271.4L102.2 1273.6L101.5 1273.9L100.7 1274.8L100 1272.2L99.2 1273.6L98.5 1272.6L97.7 1275.1L97 1274.6L96.2 1272.3L95.5 1272.4L94.7 1273.7L94 1274.2L93.2 1273.1L92.5 1273.1L91.7 1277.9L91 1274.3L90.2 1273.8L89.5 1277.9L88.7 1272.7L88 1271.7L87.2 1271.9L86.5 1275.2L85.7 1274.9L85 1272.3L84.2 1271.9L83.5 1275.6L82.7 1272.9L82 1272.6L81.2 1270.9L80.5 1275L79.7 1273.7L79 1273.9L78.2 1274L77.5 1272.3L76.7 1274.9L76 1274.6L75.2 1271.9L74.5 1271.9L73.7 1273.2L73 1278L72.2 1278L71.5 1276.3L70.7 1273L70 1272.7L69.2 1276.5L68.5 1273.5L67.7 1275.4L67 1273.2L66.2 1273.2L65.5 1273.8L64.7 1273.5L64 1272.9L63.2 1274.9L62.5 1276.2L61.7 1277.4L61 1273.2L60.2 1275.9L59.5 1274L58.7 1276.5L58 1271.2L57.2 1271.5L56.5 1276.2L55.7 1276.4L55 1272.1L54.2 1274.1L53.5 1274.1L52.7 1277.2L52 1274.2L51.2 1271.3L50.5 1272.7L49.7 1271.5L49 1272.8L48.2 1274.6L47.5 1274.6L46.7 1272.5L46 1272.4L45.2 1276.7L44.5 1273.1L43.7 1274.3L43 1276.6L42.2 1275.9L41.5 1282.7L40.7 1284L40 1274.2L39.2 1272.7L38.5 1272.7L37.7 1271.6L37 1274L36.2 1276.3L35.5 1276.3L34.7 1274.5L34 1274.5L33.2 1273.6L32.5 1274.6L31.7 1274.3L30.9 1274.2L30.2 1274.5L29.4 1273.6L28.7 1273.5L27.9 1276L27.2 1275.1Z" fill="#000" stroke="#000" stroke-width="0.5" stroke-linejoin="round"/>
<text x="617.6" y="903.7" font-size="24" textLength="116.0" lengthAdjust="spacingAndGlyphs">APP/PS1</text>
<path d="M615.4 927.3L616.4 927.6L617.4 927.8L618.4 927.2L619.4 927.7L620.4 927.5L621.4 926.8L622.4 927L623.4 926.6L624.4 925.3L625.4 924.5L626.4 926.5L627.4 927.3L628.4 927.4L629.4 929.1L630.4 926.7L631.4 928.7L632.4 927.6L633.4 928.7L634.4 927L635.4 926.3L636.4 928.3L637.4 923.8L638.4 926.8L639.4 925.5L640.4 926.9L641.4 926.9L642.4 929.2L643.4 926L644.4 927.7L645.4 927.5L646.4 926L647.4 926.7L648.4 925.5L649.4 925.9L650.4 926.2L651.4 927.2L652.4 925.8L653.4 927.9L654.4 929.6L655.4 927.1L656.4 928.4L657.4 927.2L658.4 927L659.4 926.9L660.4 926.1L661.4 927.7L662.4 928.8L663.4 927.6L664.4 926.7L665.4 927.1L666.4 925.9L667.4 927.6L668.4 926.1L669.4 926.3L670.4 926.9L671.4 926.9L672.4 926.1L673.4 925.1L674.4 927.5L675.4 926.9L676.4 926.7L677.4 927L678.4 929.8L679.4 927L680.4 925.8L681.4 927.6L682.4 924.8L683.4 926.8L684.4 927.5L685.4 925.8L686.4 927.7L687.4 928.3L688.4 927.8L689.4 927.9L690.4 926.7L691.4 926.6L692.4 926.5L693.4 927L694.4 926.5L695.4 926.4L696.4 927.4L697.4 928.3L698.4 928.2L699.4 926.2L700.4 925.1L701.4 927L702.4 925.2L703.4 926.8L704.4 925.7L705.4 928.7L706.4 926.1L707.4 926.4L708.4 925.6L709.4 927.8L710.4 926.3L711.4 926.3L712.4 925.8L713.4 928.4L714.4 926.9L715.4 926.7L716.4 927.4L717.4 925.3L718.4 928.4L719.4 924.6L720.4 927.4L721.4 927L722.4 927.2L723.4 928.6L724.4 924.8L725.4 927.7L726.4 926.3L727.4 924.6L728.4 926.4L729.4 927.7L730.4 925.7L731.4 928L732.4 928.3L733.4 927.3L734.4 926.4L735.4 927.5L736.4 926.6L737.4 927.4L738.4 926.4L739.4 927.8L740.4 925.3L741.4 927.8L742.4 926.7L743.4 925.8L744.4 927.5L745.4 920.7L746.4 927.3L747.4 927.7L748.4 925L749.4 927L750.4 927.6L751.4 926.9L752.4 926L753.4 927.7L754.4 923.8L755.4 927L756.4 927.9L757.4 927.6L758.4 927L759.4 927L760.4 925L761.4 929.4L762.4 925.9L763.4 927.6L764.4 927.7L765.4 926.3L766.4 926.3L767.4 927.1L768.4 927.5L769.4 926.4L770.4 926.2L771.4 926.3L772.4 926.7L773.4 926.4L774.4 926.7L775.4 926.4L776.4 928.7L777.4 927.2L778.4 928.2L779.4 924.8L780.4 924.9L781.4 927.4L782.4 925.4L783.4 925.6L784.4 926.6L785.4 927.7L786.4 928.4L787.4 927.6L788.4 927L789.4 927.4L790.4 928.4L791.4 925.6L792.4 925.1L793.4 926.3L794.4 926.6L795.4 927.4L796.4 928.4L797.4 927.4L798.4 928.2L799.4 926.7L800.4 927.2L801.4 925.8L802.4 927.3L803.4 926.5L804.4 926.5L805.4 926.3L806.4 928.4L807.4 925.7L808.4 927.1L809.4 925.3L810.4 927.3L811.4 928.5L812.4 927.6L813.4 928.1L814.4 927.1L815.4 925.1L816.4 929.1L817.4 927.6L818.4 925L819.4 926.5L820.4 926.3L821.4 923.2L822.4 925.6L823.4 925.8L824.4 926.4L825.4 927.2L826.4 926L827.4 927.3L828.4 924.9L829.4 925L830.4 926.4L831.4 925.6L832.4 925.3L833.4 928.4L834.4 927.5L835.4 924L836.4 927.3L837.4 927.4L838.4 927.4L839.4 926.5L840.4 926.6L841.4 928.2L842.4 927.7L843.4 925.6L844.4 927.6L845.4 925.9L846.4 926.4L847.4 924.6L848.4 928.5L849.4 920.6L850.4 925.5L851.4 927.3L852.4 925.2L853.4 929L854.4 927L855.4 924.2L856.4 926.9L857.4 926.9L858.4 927.3L859.4 928L860.4 927.4L861.4 926.6L862.4 926.6L863.4 929.1L864.4 925.3L865.4 928.8L866.4 923.4L867.4 926.8L868.4 927.8L869.4 927.3L870.4 927.2L871.4 926.9L872.4 927.3L873.4 928.1L874.4 927.8L875.4 929.5L876.4 927.4L877.4 926.9L878.4 925.9L879.4 928.1L880.4 927.8L881.4 928.8L882.4 926.9L883.4 924.8L884.4 926.4L885.4 926.4L886.4 926.4L887.4 927L888.4 926.3L889.4 927.6L890.4 927L891.4 925.5L892.4 928.4L893.4 927.1L894.4 925.8L895.4 924.3L896.4 925.6L897.4 926.5L898.4 925L899.4 927.5L900.4 928.3L901.4 927.2L902.4 926.6L903.4 927.5L904.4 924L905.4 925.4L906.4 928.2L907.4 928.4L908.4 927.1L909.4 927.1L910.4 926.9L911.4 927.9L912.4 927.4L913.4 924.6L914.4 928L915.4 927.8L916.4 927.7L917.4 927.1L918.4 925.7L919.4 927.4L920.4 926.2L921.4 925.4L922.4 927.1L923.4 927.9L924.4 926.2L925.4 927.6L926.4 927.5L927.4 926.7L928.4 926.7L929.4 927.8L930.4 928.9L931.4 925.4L932.4 927.5L933.4 926.2L934.4 929.2L935.4 926.7L936.4 927.2L937.4 924.5L938.4 928.2L939.4 926.9L940.4 927.1L941.4 925.9L942.4 927.8L943.4 928L944.4 928.4L945.4 927.4L946.4 927L947.4 926.5L948.4 928.6L949.4 926.2L950.4 927.9L951.4 925.9L952.4 926L953.4 928.6L954.4 925.4L955.4 928.1L956.4 926.6L957.4 927.5L958.4 927.8L959.4 926.4L960.4 928.2L961.4 926.5L962.4 926.6L963.4 926.1L964.4 927.5L965.4 928.1L966.4 927.1L967.4 928.3L968.4 926.2L969.4 926.1L970.4 926.3L971.4 926.1L972.4 925.4L973.4 925L974.4 926.7L975.4 927.9L976.4 925.7L977.4 926.1L978.4 927.3L979.4 925.6L980.4 928.5L981.4 926.9L982.4 926.6L983.4 929.5L984.4 927.2L985.4 926.6L986.4 926.2L987.4 926.9L988.4 925.5L989.4 927.5L990.4 926.3L991.4 925.4L992.4 925.4L993.4 927.6L994.4 925.8L995.4 928.7L996.4 928.5L997.4 926.7L998.4 926.5L999.4 927.6L1000.4 927.5L1001.4 927.6L1002.4 925.7L1003.4 927.7L1004.4 925.7L1005.4 927.3L1006.4 928L1007.4 925.5L1008.4 929L1009.4 928L1010.4 928.5L1011.4 928.4L1012.4 927.5L1013.4 926L1014.4 927.1L1015.4 923.4L1016.4 927.1L1017.4 927.8L1018.4 927L1019.4 927.2L1020.4 926.7L1021.4 928.6L1022.4 927.2L1023.4 928.9L1024.4 927.8L1025.4 927.7L1026.4 926L1027.4 926.2L1028.4 926.8L1029.4 928.6L1030.4 927L1031.4 926.3L1032.4 927.6L1033.4 925.6L1034.4 926.1L1035.4 927.3L1036.4 929.1L1037.4 925.9L1038.4 925.8L1039.4 926.9L1040.4 926.7L1041.4 924.1L1042.4 927.6L1043.4 926.7L1044.4 927.9L1045.4 928L1046.4 926.5L1047.4 926.2L1048.4 928.5L1049.4 927.9L1050.4 926.3L1051.4 929.2L1052.4 927L1053.4 926.3L1054.4 927.4L1055.4 926.4L1056.4 928.2L1057.4 927.3L1058.4 926.6L1059.4 926.6L1060.4 927.7L1061.4 928.4L1062.4 925L1063.4 927.9L1064.4 925.5L1065.4 926.3L1066.4 927.7L1067.4 927.9L1068.4 927.6L1069.4 925.5L1070.4 927L1071.4 926.3L1072.4 927.4L1073.4 927.1L1074.4 927.8L1075.4 927.8L1076.4 926.4L1077.4 927.7L1078.4 928L1079.4 928.4L1080.4 925.5L1081.4 926.2L1082.4 925.8L1082.4 940.8L1081.4 940.8L1080.4 939.5L1079.4 940.9L1078.4 942.1L1077.4 941.8L1076.4 941.3L1075.4 941.4L1074.4 939L1073.4 945.7L1072.4 940.7L1071.4 941.3L1070.4 941.4L1069.4 940.2L1068.4 939.4L1067.4 943.5L1066.4 940.2L1065.4 942.2L1064.4 939.8L1063.4 940.5L1062.4 940.9L1061.4 940.6L1060.4 941.4L1059.4 940L1058.4 940.8L1057.4 939.2L1056.4 939.9L1055.4 941.6L1054.4 941L1053.4 942L1052.4 944.4L1051.4 939.9L1050.4 941.7L1049.4 940.1L1048.4 943.6L1047.4 942.3L1046.4 942.1L1045.4 940.4L1044.4 942.7L1043.4 939.4L1042.4 942.5L1041.4 941.4L1040.4 941.4L1039.4 941.7L1038.4 942.7L1037.4 942.7L1036.4 940.6L1035.4 940.2L1034.4 943.2L1033.4 940.3L1032.4 940.6L1031.4 940.9L1030.4 940.5L1029.4 940.1L1028.4 942.1L1027.4 942.9L1026.4 940L1025.4 943.1L1024.4 942.8L1023.4 941.5L1022.4 940.6L1021.4 941.3L1020.4 940.7L1019.4 941.7L1018.4 940.7L1017.4 939.2L1016.4 939.9L1015.4 940.4L1014.4 939.5L1013.4 941.5L1012.4 942.1L1011.4 940.4L1010.4 940.7L1009.4 942.1L1008.4 940.2L1007.4 944.2L1006.4 941.6L1005.4 942.4L1004.4 941.1L1003.4 943.4L1002.4 940.5L1001.4 939.6L1000.4 942.4L999.4 940.9L998.4 941.8L997.4 941.4L996.4 940.7L995.4 941.2L994.4 940.1L993.4 940L992.4 940.6L991.4 940.7L990.4 941.2L989.4 943.2L988.4 941.9L987.4 943.4L986.4 940.2L985.4 940.6L984.4 942.6L983.4 942.7L982.4 940.9L981.4 940.3L980.4 945.1L979.4 940.4L978.4 940.6L977.4 940.8L976.4 941.4L975.4 942.9L974.4 941.9L973.4 940.2L972.4 939.5L971.4 940L970.4 940.2L969.4 940.9L968.4 941.6L967.4 941.1L966.4 942.9L965.4 941.1L964.4 941.9L963.4 941.4L962.4 940.8L961.4 941.3L960.4 942L959.4 939.4L958.4 942L957.4 941.3L956.4 940.8L955.4 941.4L954.4 942.1L953.4 942.2L952.4 941.8L951.4 941.6L950.4 944.1L949.4 940.8L948.4 941.3L947.4 940.7L946.4 941.7L945.4 942.5L944.4 940.7L943.4 941.4L942.4 942L941.4 942.6L940.4 940.2L939.4 940.7L938.4 942.7L937.4 940.7L936.4 940.8L935.4 940.6L934.4 941.8L933.4 941L932.4 939.9L931.4 940.4L930.4 940.8L929.4 942.2L928.4 942.4L927.4 938.8L926.4 942.6L925.4 940.9L924.4 940.3L923.4 943L922.4 940.7L921.4 941.3L920.4 941L919.4 942.2L918.4 943.4L917.4 942.6L916.4 943.3L915.4 940.6L914.4 941.3L913.4 942.5L912.4 940.2L911.4 941L910.4 942L909.4 942.7L908.4 940L907.4 939.8L906.4 943.3L905.4 940.8L904.4 940.4L903.4 943.7L902.4 943L901.4 944L900.4 941.9L899.4 941.2L898.4 940.8L897.4 940L896.4 942.2L895.4 941.7L894.4 940.2L893.4 940.2L892.4 940.4L891.4 940.8L890.4 940.4L889.4 941.9L888.4 941.1L887.4 942.4L886.4 941.4L885.4 940L884.4 941.4L883.4 940L882.4 942L881.4 943L880.4 939.8L879.4 942.9L878.4 940.4L877.4 940.9L876.4 938.7L875.4 939.8L874.4 940.5L873.4 940.5L872.4 940.5L871.4 940.2L870.4 942L869.4 939.2L868.4 941L867.4 941.7L866.4 947.8L865.4 940.5L864.4 943.3L863.4 941.1L862.4 940.9L861.4 941.6L860.4 939.8L859.4 941.6L858.4 939.9L857.4 942.8L856.4 942.6L855.4 941.6L854.4 940.5L853.4 940.5L852.4 940.8L851.4 940.9L850.4 940.4L849.4 941.6L848.4 940.6L847.4 940.5L846.4 939.6L845.4 941.6L844.4 940.8L843.4 940.4L842.4 941.3L841.4 940.6L840.4 942.5L839.4 942.9L838.4 944.1L837.4 939.9L836.4 940.3L835.4 939.4L834.4 942.1L833.4 941.8L832.4 942L831.4 941.3L830.4 942L829.4 941.3L828.4 942.6L827.4 942.9L826.4 942.8L825.4 940.9L824.4 946.9L823.4 942.1L822.4 940L821.4 943.8L820.4 942.1L819.4 943.6L818.4 940.6L817.4 941.1L816.4 942.1L815.4 941.8L814.4 942.2L813.4 940.8L812.4 940.6L811.4 941L810.4 939.8L809.4 940.5L808.4 939.1L807.4 939.3L806.4 941.4L805.4 942L804.4 943.3L803.4 940.5L802.4 939.7L801.4 946L800.4 943.3L799.4 940.6L798.4 943.6L797.4 940.2L796.4 942.2L795.4 941.9L794.4 939.8L793.4 940.5L792.4 942.1L791.4 939.7L790.4 940.2L789.4 940.8L788.4 941L787.4 940.7L786.4 940L785.4 941.9L784.4 942.2L783.4 939.9L782.4 944.3L781.4 942.9L780.4 941.7L779.4 942.4L778.4 943.2L777.4 941L776.4 940.9L775.4 941.4L774.4 941.8L773.4 940.2L772.4 941.5L771.4 940.7L770.4 941.3L769.4 941.4L768.4 939.7L767.4 941.6L766.4 940.4L765.4 941.6L764.4 940.2L763.4 939.9L762.4 940.2L761.4 941L760.4 939.5L759.4 942.2L758.4 940.9L757.4 938.3L756.4 940.8L755.4 943.4L754.4 940.8L753.4 940.4L752.4 942.1L751.4 941.2L750.4 940.7L749.4 941.2L748.4 940L747.4 939.9L746.4 942.4L745.4 940.3L744.4 940.3L743.4 942.2L742.4 940.7L741.4 941.5L740.4 941.3L739.4 940L738.4 942.3L737.4 939.7L736.4 942L735.4 940.3L734.4 940.8L733.4 940.3L732.4 939.8L731.4 942.6L730.4 940.5L729.4 942L728.4 940L727.4 941.6L726.4 941.5L725.4 941.7L724.4 940.8L723.4 942.3L722.4 941.7L721.4 941.9L720.4 942.5L719.4 942.7L718.4 941.3L717.4 942.4L716.4 938.7L715.4 940.2L714.4 942.5L713.4 942L712.4 940L711.4 940.3L710.4 942.6L709.4 946.2L708.4 939.7L707.4 943.4L706.4 942.1L705.4 939.5L704.4 940.2L703.4 941.3L702.4 939.7L701.4 940.9L700.4 941.4L699.4 941.5L698.4 942L697.4 940.9L696.4 940.4L695.4 942.1L694.4 942.1L693.4 940.8L692.4 939.3L691.4 942.3L690.4 943.2L689.4 941.8L688.4 942.6L687.4 940.1L686.4 941L685.4 942.4L684.4 940.7L683.4 941L682.4 940.7L681.4 941.4L680.4 939.2L679.4 941.4L678.4 942L677.4 939.8L676.4 939.2L675.4 942.4L674.4 942L673.4 939.9L672.4 940.3L671.4 942.6L670.4 941.5L669.4 941.5L668.4 942.4L667.4 942L666.4 940.2L665.4 940.2L664.4 941.4L663.4 939.5L662.4 940.6L661.4 946.5L660.4 941.3L659.4 940.6L658.4 940.4L657.4 941.8L656.4 942L655.4 942.2L654.4 941.9L653.4 943.2L652.4 941.8L651.4 940.5L650.4 941.6L649.4 940.6L648.4 940.9L647.4 940.9L646.4 940.8L645.4 944L644.4 944.2L643.4 943.6L642.4 939.9L641.4 940.8L640.4 940.9L639.4 940.8L638.4 941.3L637.4 940.2L636.4 939.9L635.4 940.1L634.4 942.2L633.4 940.9L632.4 940.2L631.4 941.2L630.4 940.5L629.4 940L628.4 940.7L627.4 941.6L626.4 941.6L625.4 944.7L624.4 944L623.4 940L622.4 941.2L621.4 941.4L620.4 939.5L619.4 939.2L618.4 941.5L617.4 941.1L616.4 939.9L615.4 940.0ZM679.0 934.0L680.4 934.0L680.2 948.4L679.2 948.4ZM906.8 934.0L908.2 934.0L908.0 950.0L907.0 950.0ZM916.3 934.0L917.7 934.0L917.5 945.0L916.5 945.0Z" fill="#000" stroke="#000" stroke-width="0.5" stroke-linejoin="round"/>
<path d="M872.0 902.9L872.0 1000.0" stroke="#000" stroke-width="1.25" stroke-dasharray="8.4 5.4" stroke-dashoffset="2.4" fill="none"/>
<path d="M871.4 903.5L921.0 903.5" stroke="#000" stroke-width="1.25" stroke-dasharray="8.4 5.4" stroke-dashoffset="5" fill="none"/>
<path d="M920.4 902.9L920.4 1000.0" stroke="#000" stroke-width="1.25" stroke-dasharray="8.4 5.4" stroke-dashoffset="4" fill="none"/>
<path d="M872.0 1000.0L920.4 1000.0" stroke="#000" stroke-width="1.25" stroke-dasharray="8.4 5.4" stroke-dashoffset="6.7" fill="none"/>
<path d="M872.0 1000.0L619.5 1016.4" stroke="#000" stroke-width="1.25" stroke-dasharray="12 6.2" stroke-dashoffset="2" fill="none"/>
<path d="M920.4 1000.0L1078.5 1019.8" stroke="#000" stroke-width="1.25" stroke-dasharray="12 6.2" stroke-dashoffset="2" fill="none"/>
<path d="M615.4 1022.6L616.1 1024.9L616.9 1024L617.6 1025.7L618.4 1023.3L619.1 1021.9L619.9 1027.9L620.6 1022.6L621.4 1025.2L622.1 1027.1L622.9 1020.6L623.6 1022.4L624.4 1025.1L625.1 1020.6L625.9 1026.4L626.6 1024.9L627.4 1023.1L628.1 1023.3L628.9 1017.5L629.6 1023.9L630.4 1026.2L631.1 1026.6L631.9 1021.9L632.6 1021.6L633.4 1024.8L634.1 1021.3L634.9 1025.1L635.6 1022.1L636.4 1024.6L637.1 1023.4L637.9 1026.3L638.6 1024L639.4 1024.8L640.1 1023.8L640.9 1018.6L641.6 1025.3L642.4 1024.5L643.1 1024.5L643.9 1024.1L644.6 1026.4L645.4 1024.4L646.1 1026.4L646.9 1024.4L647.6 1026L648.4 1022.3L649.1 1018.1L649.9 1024.6L650.6 1022.6L651.4 1026.4L652.1 1027.4L652.9 1022.7L653.6 1023.7L654.4 1028.6L655.1 1024L655.9 1025.4L656.6 1026.2L657.4 1026.1L658.1 1023.7L658.9 1023.8L659.6 1021L660.4 1025.6L661.1 1021.2L661.9 1024.1L662.6 1026.9L663.4 1025.5L664.1 1027.1L664.9 1020.9L665.6 1020.9L666.4 1026L667.1 1026.1L667.9 1025.2L668.6 1024.5L669.4 1024.6L670.1 1025.2L670.9 1020.6L671.6 1025.4L672.4 1023.2L673.1 1025.5L673.9 1025.9L674.6 1025.4L675.4 1026.1L676.1 1024.5L676.9 1024.5L677.6 1025.5L678.4 1024.9L679.1 1026.1L679.9 1022.2L680.6 1024.2L681.4 1026.8L682.1 1024.7L682.9 1028.7L683.6 1026.4L684.4 1024.7L685.1 1027.1L685.9 1024.8L686.6 1021.4L687.4 1024.4L688.1 1026.9L688.9 1024L689.6 1023.1L690.4 1026.2L691.1 1027.3L691.9 1024.2L692.6 1027.5L693.4 1022.8L694.1 1024.8L694.9 1025.4L695.6 1027.6L696.4 1024.5L697.1 1027L697.9 1023.7L698.6 1026.1L699.4 1024.3L700.1 1026.2L700.9 1025.6L701.6 1023.4L702.4 1023.4L703.1 1025.4L703.9 1026.1L704.6 1025.2L705.4 1022L706.1 1028.5L706.9 1024.3L707.6 1023.1L708.4 1026.7L709.1 1025.2L709.9 1022.2L710.6 1024.7L711.4 1026.8L712.1 1027L712.9 1023.7L713.6 1022L714.4 1023.2L715.1 1025.1L715.9 1026.5L716.6 1028L717.4 1024.7L718.1 1024L718.9 1026.2L719.6 1023L720.4 1025.5L721.1 1022.4L721.9 1025.1L722.6 1025.2L723.4 1024.9L724.1 1025.5L724.9 1024.9L725.6 1025.2L726.4 1026.1L727.1 1023.3L727.9 1025.2L728.6 1021.3L729.4 1026.2L730.1 1025.5L730.9 1024.1L731.6 1028.1L732.4 1027.9L733.1 1024.8L733.9 1022.2L734.6 1018.9L735.4 1019.9L736.1 1033.3L736.9 1031.7L737.6 1030.4L738.4 1029.8L739.1 1029.1L739.9 1023.6L740.6 1027.8L741.4 1025.7L742.1 1027.1L742.9 1026.8L743.6 1027.6L744.4 1027L745.1 1023.5L745.9 1026.2L746.6 1021.4L747.4 1026.4L748.1 1026.1L748.9 1018.3L749.6 1025.3L750.4 1024.8L751.1 1026.1L751.9 1027.4L752.6 1020.4L753.4 1020.3L754.1 1023.2L754.9 1028.5L755.6 1024.4L756.4 1028.2L757.1 1024.6L757.9 1023.9L758.6 1023.3L759.4 1021.3L760.1 1022.5L760.9 1022.6L761.6 1024.9L762.4 1023.9L763.1 1019.8L763.9 1024.9L764.6 1022.1L765.4 1022.7L766.1 1025.9L766.9 1024L767.6 1024L768.4 1026.5L769.1 1024.3L769.9 1023.7L770.6 1020.8L771.4 1026.7L772.1 1025.3L772.9 1026.4L773.6 1023.3L774.4 1024.3L775.1 1025.1L775.9 1024L776.6 1023.4L777.4 1025.5L778.1 1025.7L778.9 1018.5L779.6 1018.5L780.4 1024L781.1 1019.8L781.9 1025.7L782.6 1018.4L783.4 1025.5L784.1 1025L784.9 1026.6L785.6 1025.8L786.4 1025.3L787.1 1024.3L787.9 1024.8L788.6 1019.9L789.4 1024.2L790.1 1022.3L790.9 1022.3L791.6 1023.9L792.4 1023.9L793.1 1024.7L793.9 1025.3L794.6 1025.7L795.4 1025.7L796.1 1023.1L796.9 1024.1L797.6 1021.4L798.4 1024L799.1 1024.6L799.9 1023.1L800.6 1022.9L801.4 1026.5L802.1 1023.6L802.9 1025L803.6 1025L804.4 1025.2L805.1 1024.6L805.9 1025.1L806.6 1025.1L807.4 1025.7L808.1 1023.1L808.9 1024.2L809.6 1021L810.4 1022.3L811.1 1023.1L811.9 1026.1L812.6 1026L813.4 1022.3L814.1 1025.8L814.9 1019.9L815.6 1021.4L816.4 1020.3L817.1 1022.2L817.9 1025.6L818.6 1023.6L819.4 1020.9L820.1 1024.3L820.9 1026.1L821.6 1019.9L822.4 1023.5L823.1 1025.5L823.9 1025.5L824.6 1025.2L825.4 1024.3L826.1 1027L826.9 1024.5L827.6 1023L828.4 1025L829.1 1025.5L829.9 1026.6L830.6 1023.8L831.4 1022.7L832.1 1021.7L832.9 1022.6L833.6 1023.2L834.4 1023L835.1 1020.7L835.9 1023.7L836.6 1022.5L837.4 1022.2L838.1 1023.4L838.9 1026.3L839.6 1026.1L840.4 1023.8L841.1 1024.3L841.9 1022.7L842.6 1024.1L843.4 1020.2L844.1 1023L844.9 1023.3L845.6 1023.2L846.4 1022.8L847.1 1023.4L847.9 1023L848.6 1022L849.4 1022.2L850.1 1023.4L850.9 1023.4L851.6 1025.9L852.4 1022.4L853.1 1025.4L853.9 1019.5L854.6 1020.2L855.4 1026.9L856.1 1024.4L856.9 1019.9L857.6 1023.3L858.4 1021.3L859.1 1019.7L859.9 1021.9L860.6 1023.6L861.4 1024.9L862.1 1022.6L862.9 1027.4L863.6 1022.5L864.4 1022L865.1 1025.2L865.9 1024.1L866.6 1026.4L867.4 1021.4L868.1 1024L868.9 1022.8L869.6 1025.7L870.4 1023.6L871.1 1025L871.9 1022.6L872.6 1023.8L873.4 1023.1L874.1 1023.4L874.9 1025.8L875.6 1025.5L876.4 1020.5L877.1 1023.2L877.9 1022.5L878.6 1022.5L879.4 1024.7L880.1 1024.7L880.9 1024.1L881.6 1022.3L882.4 1024.6L883.1 1020L883.9 1024.8L884.6 1028L885.4 1025.6L886.1 1025.6L886.9 1024.6L887.6 1024.8L888.4 1022.9L889.1 1021.5L889.9 1021.5L890.6 1025.7L891.4 1025.8L892.1 1021.1L892.9 1024.2L893.6 1024.2L894.4 1026.1L895.1 1025.4L895.9 1023L896.6 1023.6L897.4 1024L898.1 1024.3L898.9 1024.6L899.6 1025.4L900.4 1023.4L901.1 1022.7L901.9 1023.6L902.6 1021.6L903.4 1025.7L904.1 1024.7L904.9 1022.3L905.6 1027.1L906.4 1024.6L907.1 1024.2L907.9 1025.5L908.6 1026L909.4 1025.2L910.1 1027L910.9 1023.1L911.6 1019L912.4 1023.7L913.1 1025.3L913.9 1026.5L914.6 1025L915.4 1026.5L916.1 1024.8L916.9 1021.7L917.6 1024.3L918.4 1026.3L919.1 1025.6L919.9 1023.6L920.6 1019.9L921.4 1026L922.1 1026.5L922.9 1022.4L923.6 1027.4L924.4 1019.3L925.1 1025.2L925.9 1026.4L926.6 1027.9L927.4 1028.4L928.1 1028.1L928.9 1022.1L929.6 1024.6L930.4 1024.4L931.1 1023.5L931.9 1025.6L932.6 1025.6L933.4 1025.5L934.1 1025.9L934.9 1025.9L935.6 1027.7L936.4 1025L937.1 1024.9L937.9 1023.9L938.6 1028.9L939.4 1025.8L940.1 1024.7L940.9 1023.3L941.6 1025L942.4 1027.1L943.1 1027.1L943.9 1023.3L944.6 1022.9L945.4 1023.1L946.1 1026.5L946.9 1021.9L947.6 1025.2L948.4 1026.3L949.1 1026.3L949.9 1026.1L950.6 1025.8L951.4 1025.8L952.1 1022.7L952.9 1027.6L953.6 1022.3L954.4 1024.6L955.1 1025.7L955.9 1025.2L956.6 1025.2L957.4 1026.5L958.1 1028L958.9 1022.1L959.6 1028.1L960.4 1019.9L961.1 1021.8L961.9 1021.8L962.6 1021.2L963.4 1026.4L964.1 1026.9L964.9 1025.6L965.6 1027.6L966.4 1027.7L967.1 1026.4L967.9 1025.1L968.6 1024.9L969.4 1025.6L970.1 1025.5L970.9 1027.8L971.6 1023.3L972.4 1019.4L973.1 1021.5L973.9 1021.5L974.6 1020.3L975.4 1022.7L976.1 1022.9L976.9 1024.7L977.6 1025.7L978.4 1039.2L979.1 1035.8L979.9 1032.6L980.6 1036.6L981.4 1030L982.1 1027.8L982.9 1026.9L983.6 1028.9L984.4 1025.2L985.1 1027.9L985.9 1028.9L986.6 1026.8L987.4 1021.4L988.1 1024.9L988.9 1023.9L989.6 1022.7L990.4 1024L991.1 1027.1L991.9 1025.8L992.6 1025.8L993.4 1023.1L994.1 1024.8L994.9 1027L995.6 1024.7L996.4 1027.1L997.1 1026.4L997.9 1027.5L998.6 1022.2L999.4 1025.4L1000.1 1025.8L1000.9 1024.4L1001.6 1024.5L1002.4 1025.5L1003.1 1023.8L1003.9 1023.8L1004.6 1027.5L1005.4 1024.8L1006.1 1024L1006.9 1021L1007.6 1023.6L1008.4 1023.8L1009.1 1025.8L1009.9 1024.9L1010.6 1024.9L1011.4 1018.3L1012.1 1022.9L1012.9 1019.2L1013.6 1022.3L1014.4 1023.1L1015.1 1023.6L1015.9 1023.1L1016.6 1022.3L1017.4 1020.9L1018.1 1016.5L1018.9 1018.3L1019.6 1025.1L1020.4 1024.3L1021.1 1024.2L1021.9 1023.9L1022.6 1023.8L1023.4 1023.3L1024.2 1019.7L1024.9 1025.7L1025.7 1023.7L1026.4 1023.7L1027.2 1023.1L1027.9 1023.3L1028.7 1023.3L1029.4 1022.3L1030.2 1023.5L1030.9 1024.4L1031.7 1027.5L1032.4 1023L1033.2 1018.9L1033.9 1022.7L1034.7 1026.2L1035.4 1021.7L1036.2 1022.1L1036.9 1026.7L1037.7 1020.7L1038.4 1024.7L1039.2 1020.8L1039.9 1019.2L1040.7 1022.3L1041.4 1025.2L1042.2 1025.2L1042.9 1020.4L1043.7 1024.5L1044.4 1020.8L1045.2 1026.5L1045.9 1018.5L1046.7 1023.4L1047.4 1025.6L1048.2 1023.4L1048.9 1024.6L1049.7 1021.7L1050.4 1022L1051.2 1022.8L1051.9 1023.8L1052.7 1022.7L1053.4 1020.5L1054.2 1026.9L1054.9 1025.8L1055.7 1023.8L1056.4 1023.7L1057.2 1023.8L1057.9 1024.3L1058.7 1025.1L1059.4 1022.7L1060.2 1025.8L1060.9 1027.4L1061.7 1025.2L1062.4 1025L1063.2 1025.6L1063.9 1021.6L1064.7 1024.1L1065.4 1022.9L1066.2 1024.4L1066.9 1021.9L1067.7 1020.8L1068.4 1020.8L1069.2 1023.3L1069.9 1022.9L1070.7 1023L1071.4 1021.3L1072.2 1024.2L1072.9 1023.6L1073.7 1026.7L1074.4 1026.5L1075.2 1022.1L1075.9 1024.3L1076.7 1024.7L1077.4 1024.2L1078.2 1022.2L1078.9 1022.2L1079.7 1025.3L1080.4 1025.4L1081.2 1021.8L1081.9 1019.8L1081.9 1036.1L1081.2 1034.6L1080.4 1039.1L1079.7 1036.7L1078.9 1033.9L1078.2 1038.3L1077.4 1035.6L1076.7 1036.8L1075.9 1039.4L1075.2 1034.8L1074.4 1034.8L1073.7 1037.5L1072.9 1040.6L1072.2 1040.7L1071.4 1034.5L1070.7 1041L1069.9 1037.6L1069.2 1035.7L1068.4 1035.8L1067.7 1039.5L1066.9 1035.3L1066.2 1039.2L1065.4 1037.5L1064.7 1037.3L1063.9 1039.1L1063.2 1038.4L1062.4 1034.3L1061.7 1036L1060.9 1037.5L1060.2 1037L1059.4 1039L1058.7 1037.5L1057.9 1037.4L1057.2 1037.2L1056.4 1035.8L1055.7 1037.2L1054.9 1039.4L1054.2 1035.8L1053.4 1037L1052.7 1035.3L1051.9 1035.5L1051.2 1040.5L1050.4 1036.6L1049.7 1035.6L1048.9 1037.8L1048.2 1038L1047.4 1039L1046.7 1038.1L1045.9 1033.5L1045.2 1036.5L1044.4 1039.7L1043.7 1038.7L1042.9 1035.2L1042.2 1039L1041.4 1034.1L1040.7 1039.1L1039.9 1037.3L1039.2 1037.9L1038.4 1038.8L1037.7 1035L1036.9 1039.4L1036.2 1036.2L1035.4 1035.1L1034.7 1034.9L1033.9 1038.1L1033.2 1034.1L1032.4 1035.8L1031.7 1036.3L1030.9 1034.3L1030.2 1036.1L1029.4 1035.7L1028.7 1036.6L1027.9 1037.3L1027.2 1034.1L1026.4 1035.3L1025.7 1035L1024.9 1038.7L1024.2 1036.9L1023.4 1037.3L1022.6 1036.9L1021.9 1037.6L1021.1 1040.3L1020.4 1037L1019.6 1040.9L1018.9 1037.4L1018.1 1037.5L1017.4 1036L1016.6 1037.8L1015.9 1036L1015.1 1038.4L1014.4 1038.4L1013.6 1037.9L1012.9 1037.7L1012.1 1036.8L1011.4 1037L1010.6 1037.9L1009.9 1034.1L1009.1 1037.9L1008.4 1039.4L1007.6 1038.1L1006.9 1039L1006.1 1036.4L1005.4 1037L1004.6 1036.4L1003.9 1039.2L1003.1 1038.3L1002.4 1040.1L1001.6 1037.4L1000.9 1037.1L1000.1 1036.6L999.4 1037.8L998.6 1034.6L997.9 1040.7L997.1 1045.5L996.4 1036.8L995.6 1036L994.9 1039.3L994.1 1037.5L993.4 1037.2L992.6 1037.1L991.9 1042.4L991.1 1036.2L990.4 1037.5L989.6 1039.8L988.9 1038.5L988.1 1037.8L987.4 1038.9L986.6 1039.6L985.9 1039.1L985.1 1036.8L984.4 1039.7L983.6 1040L982.9 1040.2L982.1 1043.5L981.4 1044.3L980.6 1049.6L979.9 1046.3L979.1 1047.3L978.4 1054.2L977.6 1056.5L976.9 1036.3L976.1 1035L975.4 1039.9L974.6 1038.4L973.9 1037.5L973.1 1037.3L972.4 1037.5L971.6 1039L970.9 1037.8L970.1 1041.1L969.4 1039.5L968.6 1037.1L967.9 1036.8L967.1 1040.1L966.4 1039.6L965.6 1037.6L964.9 1036.8L964.1 1039.8L963.4 1039.2L962.6 1039.3L961.9 1037L961.1 1039.4L960.4 1037.2L959.6 1037.9L958.9 1038.4L958.1 1038.2L957.4 1037.3L956.6 1039.4L955.9 1037.5L955.1 1038.1L954.4 1040L953.6 1040.5L952.9 1038.7L952.1 1039L951.4 1039L950.6 1039.2L949.9 1036.1L949.1 1040.5L948.4 1042.1L947.6 1041.5L946.9 1035.7L946.1 1039L945.4 1035.9L944.6 1039.2L943.9 1038.5L943.1 1039.1L942.4 1040.2L941.6 1039.2L940.9 1038.1L940.1 1039L939.4 1038.3L938.6 1039.4L937.9 1038.6L937.1 1038.6L936.4 1039.4L935.6 1038.9L934.9 1038.9L934.1 1038.7L933.4 1039.9L932.6 1039.8L931.9 1034.5L931.1 1035L930.4 1039.8L929.6 1038.9L928.9 1045.5L928.1 1040.7L927.4 1043.2L926.6 1037.9L925.9 1042.5L925.1 1038L924.4 1041.5L923.6 1040.9L922.9 1040.3L922.1 1044.5L921.4 1039.8L920.6 1040.4L919.9 1038.7L919.1 1041.5L918.4 1039L917.6 1038.5L916.9 1039.6L916.1 1036.1L915.4 1043.1L914.6 1046.1L913.9 1039.3L913.1 1039.3L912.4 1038.3L911.6 1037.7L910.9 1036.2L910.1 1037.4L909.4 1036.9L908.6 1043.2L907.9 1040.2L907.1 1047.1L906.4 1039.8L905.6 1038.1L904.9 1041.6L904.1 1034.9L903.4 1038.2L902.6 1041.6L901.9 1035.5L901.1 1041.6L900.4 1043L899.6 1038L898.9 1044.9L898.1 1039.1L897.4 1040L896.6 1039.9L895.9 1037.2L895.1 1037.3L894.4 1036.1L893.6 1039.6L892.9 1037L892.1 1038.4L891.4 1038.6L890.6 1038.1L889.9 1038.1L889.1 1039.1L888.4 1035.6L887.6 1038.5L886.9 1036.8L886.1 1034.6L885.4 1036.7L884.6 1036.9L883.9 1037.9L883.1 1040.3L882.4 1035.9L881.6 1040.6L880.9 1040.6L880.1 1034.9L879.4 1036.6L878.6 1036.8L877.9 1037.9L877.1 1038.7L876.4 1038.5L875.6 1035.7L874.9 1037.5L874.1 1039.3L873.4 1036.6L872.6 1036.6L871.9 1035.6L871.1 1036.7L870.4 1036.2L869.6 1039.8L868.9 1040.8L868.1 1040.1L867.4 1040.1L866.6 1036L865.9 1037.8L865.1 1040L864.4 1037.2L863.6 1040.2L862.9 1038.8L862.1 1040.6L861.4 1037L860.6 1038.2L859.9 1036.5L859.1 1039L858.4 1039.8L857.6 1040.6L856.9 1037.2L856.1 1037.2L855.4 1041.2L854.6 1039.5L853.9 1036.4L853.1 1036.6L852.4 1032.8L851.6 1035.3L850.9 1034.5L850.1 1040.9L849.4 1038.8L848.6 1034.1L847.9 1036.9L847.1 1036.1L846.4 1040.7L845.6 1038.4L844.9 1038.7L844.1 1033.6L843.4 1038.2L842.6 1037.4L841.9 1036.7L841.1 1036.1L840.4 1037L839.6 1036.3L838.9 1035.8L838.1 1039.7L837.4 1037L836.6 1033.4L835.9 1033.4L835.1 1037.1L834.4 1037.6L833.6 1036.6L832.9 1036.9L832.1 1033.7L831.4 1035L830.6 1035.3L829.9 1033.6L829.1 1037.5L828.4 1036.8L827.6 1041.8L826.9 1036.3L826.1 1037.3L825.4 1036.1L824.6 1038.8L823.9 1035.6L823.1 1039.5L822.4 1036.4L821.6 1034.9L820.9 1038.2L820.1 1039.2L819.4 1039.6L818.6 1037.5L817.9 1039.4L817.1 1037.8L816.4 1036.9L815.6 1035.3L814.9 1034.9L814.1 1036.1L813.4 1040.1L812.6 1036.1L811.9 1033.2L811.1 1034.3L810.4 1042.6L809.6 1039.6L808.9 1034L808.1 1035.9L807.4 1038.1L806.6 1041.1L805.9 1036.6L805.1 1035.1L804.4 1037.3L803.6 1034L802.9 1039.5L802.1 1035.4L801.4 1036.1L800.6 1037.5L799.9 1034.4L799.1 1039.8L798.4 1039.2L797.6 1039.2L796.9 1038L796.1 1033.1L795.4 1039.6L794.6 1036.2L793.9 1037.6L793.1 1040.1L792.4 1041.9L791.6 1039.6L790.9 1036.3L790.1 1034.6L789.4 1036.5L788.6 1037.3L787.9 1036.2L787.1 1036.2L786.4 1035.1L785.6 1038.1L784.9 1038.5L784.1 1035.3L783.4 1035.4L782.6 1037.2L781.9 1038.5L781.1 1033.8L780.4 1039.7L779.6 1038.6L778.9 1037.3L778.1 1037.9L777.4 1036.5L776.6 1036.2L775.9 1038L775.1 1036.8L774.4 1038.8L773.6 1036.7L772.9 1043.6L772.1 1038.6L771.4 1035.5L770.6 1037.1L769.9 1037.2L769.1 1037.1L768.4 1036L767.6 1037.9L766.9 1038.4L766.1 1040.7L765.4 1037L764.6 1038L763.9 1034.2L763.1 1039.5L762.4 1036.6L761.6 1036L760.9 1035.8L760.1 1035.5L759.4 1041L758.6 1035.2L757.9 1033.8L757.1 1035.1L756.4 1037.7L755.6 1039L754.9 1038.7L754.1 1035.6L753.4 1038.4L752.6 1039L751.9 1038.5L751.1 1038.4L750.4 1042L749.6 1038.2L748.9 1038.2L748.1 1038.9L747.4 1036.3L746.6 1037.5L745.9 1036.6L745.1 1036.2L744.4 1038.9L743.6 1040.5L742.9 1037.7L742.1 1040.9L741.4 1036.3L740.6 1043.5L739.9 1047.2L739.1 1048.2L738.4 1041.2L737.6 1043.1L736.9 1049.1L736.1 1049.5L735.4 1050.8L734.6 1039.8L733.9 1040.2L733.1 1036.5L732.4 1037.4L731.6 1038.6L730.9 1040.6L730.1 1041.3L729.4 1039.9L728.6 1040.6L727.9 1038.5L727.1 1038.6L726.4 1041.4L725.6 1042L724.9 1036.4L724.1 1038.9L723.4 1038.7L722.6 1036.7L721.9 1041.2L721.1 1039L720.4 1042.3L719.6 1035.6L718.9 1039.7L718.1 1037.5L717.4 1037.8L716.6 1038.7L715.9 1042.6L715.1 1039.7L714.4 1039.7L713.6 1037.9L712.9 1037.7L712.1 1038.6L711.4 1037.9L710.6 1038.5L709.9 1038.8L709.1 1040.4L708.4 1037.5L707.6 1038.1L706.9 1041.4L706.1 1036.7L705.4 1037.4L704.6 1039.4L703.9 1036.9L703.1 1037.7L702.4 1039.1L701.6 1038.6L700.9 1039.2L700.1 1039.4L699.4 1038.4L698.6 1036.6L697.9 1042.2L697.1 1041.4L696.4 1039.8L695.6 1037.3L694.9 1038.4L694.1 1037.8L693.4 1039.5L692.6 1039.5L691.9 1037.9L691.1 1041.8L690.4 1038.4L689.6 1038.4L688.9 1036.7L688.1 1037.4L687.4 1038.9L686.6 1037.3L685.9 1039.6L685.1 1036.4L684.4 1037.3L683.6 1038.9L682.9 1035.6L682.1 1040.3L681.4 1039L680.6 1038.2L679.9 1039.1L679.1 1038.2L678.4 1037.1L677.6 1035.4L676.9 1035.6L676.1 1038L675.4 1038.9L674.6 1038.9L673.9 1039.4L673.1 1041.5L672.4 1037.9L671.6 1037.1L670.9 1035.6L670.1 1040.6L669.4 1040L668.6 1041L667.9 1036.1L667.1 1039L666.4 1040.6L665.6 1036.8L664.9 1037.3L664.1 1037.3L663.4 1039.4L662.6 1038.2L661.9 1034.7L661.1 1036.8L660.4 1039L659.6 1037.9L658.9 1040.7L658.1 1037L657.4 1038.9L656.6 1040.8L655.9 1037.1L655.1 1039.7L654.4 1037.2L653.6 1043.8L652.9 1035.8L652.1 1039.8L651.4 1039.7L650.6 1038.1L649.9 1040.3L649.1 1034.5L648.4 1037.6L647.6 1037.5L646.9 1040.1L646.1 1040.1L645.4 1038.2L644.6 1036.6L643.9 1036.8L643.1 1035.9L642.4 1038.6L641.6 1038.6L640.9 1040L640.1 1037.3L639.4 1038L638.6 1035.5L637.9 1038.5L637.1 1039.8L636.4 1039.8L635.6 1035.3L634.9 1041L634.1 1040.7L633.4 1039.5L632.6 1038.5L631.9 1035.2L631.1 1039.1L630.4 1036L629.6 1038.6L628.9 1038.5L628.1 1037.9L627.4 1035.1L626.6 1035.1L625.9 1038.4L625.1 1038.2L624.4 1040.8L623.6 1036.9L622.9 1037.7L622.1 1036.2L621.4 1039.6L620.6 1038.5L619.9 1040.7L619.1 1040.7L618.4 1036.6L617.6 1036.8L616.9 1040.7L616.1 1040.7L615.4 1036.1Z" fill="#000" stroke="#000" stroke-width="0.5" stroke-linejoin="round"/>
<text x="601.3" y="1100.9" font-size="24" textLength="188.5" lengthAdjust="spacingAndGlyphs">APP/PS1+JuA</text>
<path d="M617.8 1138.9L618.8 1142.8L619.8 1140.3L620.8 1143L621.8 1138.3L622.8 1138.9L623.8 1143L624.8 1141.2L625.8 1141.6L626.8 1139.3L627.8 1136.1L628.8 1141.6L629.8 1140.8L630.8 1142.9L631.8 1140.8L632.8 1142.5L633.8 1138.4L634.8 1142.7L635.8 1141.5L636.8 1141.8L637.8 1142L638.8 1141.9L639.8 1141.1L640.8 1143.8L641.8 1142.3L642.8 1139.5L643.8 1139.3L644.8 1138.5L645.8 1143.3L646.8 1138.2L647.8 1140.9L648.8 1142.6L649.8 1139.3L650.8 1140.2L651.8 1143.6L652.8 1142.4L653.8 1141.3L654.8 1142.8L655.8 1137.3L656.8 1142.3L657.8 1140.5L658.8 1138.8L659.8 1141.5L660.8 1139.3L661.8 1143.6L662.8 1141.8L663.8 1144.1L664.8 1143.1L665.8 1142.4L666.8 1142.7L667.8 1143.5L668.8 1140.2L669.8 1142.1L670.8 1142.1L671.8 1141.4L672.8 1138.7L673.8 1140.7L674.8 1140.1L675.8 1143.5L676.8 1140.9L677.8 1142.8L678.8 1143.6L679.8 1142.8L680.8 1141.5L681.8 1140.1L682.8 1142.5L683.8 1142.6L684.8 1142.2L685.8 1143L686.8 1141.7L687.8 1142.7L688.8 1140.5L689.8 1140.2L690.8 1141.6L691.8 1140.6L692.8 1139.6L693.8 1141.8L694.8 1138.6L695.8 1140.3L696.8 1142.3L697.8 1140.9L698.8 1141L699.8 1141.7L700.8 1140.8L701.8 1141.6L702.8 1140.1L703.8 1141.7L704.8 1141L705.8 1143.9L706.8 1143.1L707.8 1140.2L708.8 1140.9L709.8 1137L710.8 1142L711.8 1143.3L712.8 1140.6L713.8 1141.5L714.8 1142.4L715.8 1138.2L716.8 1141.1L717.8 1138.3L718.8 1143.1L719.8 1141.8L720.8 1142.4L721.8 1138.6L722.8 1141.9L723.8 1142.8L724.8 1139.9L725.8 1142L726.8 1141.9L727.8 1142.8L728.8 1141.4L729.8 1139.5L730.8 1142.6L731.8 1141.5L732.8 1140.5L733.8 1140.8L734.8 1143.1L735.8 1140.2L736.8 1134.6L737.8 1140.6L738.8 1143.1L739.8 1142.5L740.8 1143.4L741.8 1139.9L742.8 1142.1L743.8 1140.5L744.8 1142L745.8 1141.6L746.8 1143.2L747.8 1139.7L748.8 1142L749.8 1140.2L750.8 1140.9L751.8 1142.6L752.8 1141.8L753.8 1143L754.8 1142.3L755.8 1140.5L756.8 1140.9L757.8 1143.4L758.8 1141.4L759.8 1141L760.8 1141.2L761.8 1140L762.8 1142.2L763.8 1138.5L764.8 1140.6L765.8 1141L766.8 1142.3L767.8 1141.5L768.8 1141.1L769.8 1142.8L770.8 1139.5L771.8 1141.8L772.8 1141.3L773.8 1142.5L774.8 1140L775.8 1141L776.8 1141.3L777.8 1142.8L778.8 1141.5L779.8 1142L780.8 1142L781.8 1138.1L782.8 1143.9L783.8 1143.1L784.8 1140.9L785.8 1140.1L786.8 1139.8L787.8 1141.8L788.8 1139.1L789.8 1141.4L790.8 1140.2L791.8 1141.2L792.8 1142.3L793.8 1141.8L794.8 1143.4L795.8 1140L796.8 1141.9L797.8 1142.7L798.8 1141.2L799.8 1140.8L800.8 1142.7L801.8 1142.7L802.8 1140L803.8 1140.3L804.8 1137.2L805.8 1139.9L806.8 1138.7L807.8 1141.1L808.8 1140.8L809.8 1140.7L810.8 1138.3L811.8 1141.3L812.8 1142.5L813.8 1141L814.8 1139.5L815.8 1141.8L816.8 1141.1L817.8 1141L818.8 1142.7L819.8 1142.1L820.8 1141.8L821.8 1138.8L822.8 1141L823.8 1142.9L824.8 1142.9L825.8 1140.4L826.8 1143.7L827.8 1141.1L828.8 1140.1L829.8 1142.4L830.8 1141.2L831.8 1140.6L832.8 1141L833.8 1139.4L834.8 1143L835.8 1138.9L836.8 1140.7L837.8 1141.8L838.8 1138.6L839.8 1142.3L840.8 1143.6L841.8 1136L842.8 1138.9L843.8 1143.2L844.8 1142.6L845.8 1142L846.8 1141.9L847.8 1141.4L848.8 1142.3L849.8 1140.6L850.8 1143L851.8 1138.4L852.8 1142.4L853.8 1141.6L854.8 1140.9L855.8 1141.8L856.8 1139.9L857.8 1144.5L858.8 1142.4L859.8 1142.1L860.8 1143.1L861.8 1142.9L862.8 1142.2L863.8 1138.5L864.8 1139.8L865.8 1140.7L866.8 1142.5L867.8 1142.6L868.8 1140.2L869.8 1142.4L870.8 1140.9L871.8 1141.4L872.8 1141.6L873.8 1141.2L874.8 1140.9L875.8 1141.8L876.8 1139.9L877.8 1140.1L878.8 1141.8L879.8 1139.6L880.8 1142L881.8 1143.1L882.8 1140.7L883.8 1141.8L884.8 1141.6L885.8 1139.8L886.8 1141.7L887.8 1141.5L888.8 1138.9L889.8 1139.7L890.8 1143.1L891.8 1140.6L892.8 1141.8L893.8 1141.4L894.8 1142.5L895.8 1141L896.8 1141L897.8 1142.4L898.8 1138.5L899.8 1139.8L900.8 1139.6L901.8 1141.8L902.8 1142.3L903.8 1141.9L904.8 1142.5L905.8 1142.8L906.8 1142.1L907.8 1139.1L908.8 1141.3L909.8 1138.8L910.8 1142.4L911.8 1140.3L912.8 1139.5L913.8 1141.4L914.8 1142.4L915.8 1140.8L916.8 1140L917.8 1135.2L918.8 1142.4L919.8 1141.7L920.8 1142.6L921.8 1142.2L922.8 1142.3L923.8 1142L924.8 1143.2L925.8 1143.5L926.8 1141.6L927.8 1140.5L928.8 1142.4L929.8 1139.7L930.8 1141.8L931.8 1140.7L932.8 1142.6L933.8 1142.1L934.8 1142.7L935.8 1142.1L936.8 1143.4L937.8 1140.2L938.8 1141.2L939.8 1141.2L940.8 1141.2L941.8 1139.6L942.8 1140.4L943.8 1138.8L944.8 1142.7L945.8 1142.6L946.8 1141.6L947.8 1141.8L948.8 1142.3L949.8 1142.6L950.8 1141.9L951.8 1140.9L952.8 1141.6L953.8 1141.2L954.8 1141.8L955.8 1142.3L956.8 1139.6L957.8 1142.3L958.8 1140L959.8 1142L960.8 1138.8L961.8 1138.4L962.8 1139.7L963.8 1142.2L964.8 1141.6L965.8 1142.3L966.8 1142.7L967.8 1143.7L968.8 1144L969.8 1141.4L970.8 1141.6L971.8 1140.7L972.8 1140.1L973.8 1141.4L974.8 1140.7L975.8 1141.9L976.8 1141.6L977.8 1138.1L978.8 1142.8L979.8 1141.8L980.8 1142.6L981.8 1142.2L982.8 1139.9L983.8 1141.9L984.8 1140.4L985.8 1139.6L986.8 1140.6L987.8 1140L988.8 1140.9L989.8 1139.9L990.8 1142.7L991.8 1140.2L992.8 1140.3L993.8 1141.4L994.8 1139.2L995.8 1139.9L996.8 1142.4L997.8 1138.7L998.8 1141.8L999.8 1142.1L1000.8 1140.7L1001.8 1140.2L1002.8 1140.6L1003.8 1141.2L1004.8 1139.7L1005.8 1142.3L1006.8 1138.3L1007.8 1141.4L1008.8 1141.4L1009.8 1142L1010.8 1143.2L1011.8 1141.7L1012.8 1140.9L1013.8 1142.8L1014.8 1141.3L1015.8 1141.1L1016.8 1142.2L1017.8 1141.3L1018.8 1141.7L1019.8 1141.5L1020.8 1141.8L1021.8 1143.6L1022.8 1142.8L1023.8 1141.4L1024.8 1142.2L1025.8 1141.7L1026.8 1142.1L1027.8 1139.6L1028.8 1141.6L1029.8 1141.7L1030.8 1141.6L1031.8 1143.9L1032.8 1138.7L1033.8 1140.7L1034.8 1141.1L1035.8 1141.3L1036.8 1140.7L1037.8 1139.1L1038.8 1141L1039.8 1140.9L1040.8 1139.6L1041.8 1143.1L1042.8 1142.3L1043.8 1143.2L1044.8 1141L1045.8 1141.1L1046.8 1143.7L1047.8 1142.1L1048.8 1140.8L1049.8 1140.8L1050.8 1139.1L1051.8 1139.6L1052.8 1141.8L1053.8 1140.2L1054.8 1142.9L1055.8 1142.2L1056.8 1142L1057.8 1140.9L1058.8 1138.7L1059.8 1140.2L1060.8 1142.6L1061.8 1141.9L1062.8 1139.5L1063.8 1139.5L1064.8 1140.5L1065.8 1141.4L1066.8 1141.1L1067.8 1143.8L1068.8 1141.6L1069.8 1140.5L1070.8 1139.9L1071.8 1142.7L1072.8 1142.9L1073.8 1141.5L1074.8 1142.7L1075.8 1141.5L1076.8 1143.2L1077.8 1143.9L1078.8 1140.8L1079.8 1142.3L1080.8 1143L1081.8 1143.5L1082.8 1138.8L1083.8 1141.1L1084.8 1144L1085.8 1142.2L1086.8 1141.6L1086.8 1157.1L1085.8 1154.8L1084.8 1157.9L1083.8 1159.5L1082.8 1157L1081.8 1159L1080.8 1160.5L1079.8 1157.9L1078.8 1158.4L1077.8 1157.4L1076.8 1158.7L1075.8 1157.8L1074.8 1157.7L1073.8 1155.3L1072.8 1155.9L1071.8 1157.3L1070.8 1155.9L1069.8 1157L1068.8 1158.1L1067.8 1158.5L1066.8 1157.1L1065.8 1157.4L1064.8 1157.2L1063.8 1156.4L1062.8 1156.5L1061.8 1156.8L1060.8 1159.3L1059.8 1157.4L1058.8 1156.8L1057.8 1158.7L1056.8 1156.9L1055.8 1159.8L1054.8 1156L1053.8 1157.1L1052.8 1159L1051.8 1157.2L1050.8 1158.8L1049.8 1157.3L1048.8 1158.3L1047.8 1156.8L1046.8 1157.2L1045.8 1159L1044.8 1155.9L1043.8 1160L1042.8 1158L1041.8 1158L1040.8 1158L1039.8 1156.7L1038.8 1157.1L1037.8 1156.2L1036.8 1158.9L1035.8 1158.8L1034.8 1155.4L1033.8 1164.5L1032.8 1158.7L1031.8 1157.6L1030.8 1157.8L1029.8 1157.3L1028.8 1155.4L1027.8 1159.9L1026.8 1155L1025.8 1158.8L1024.8 1156.1L1023.8 1157L1022.8 1157.9L1021.8 1158.7L1020.8 1155.8L1019.8 1157.5L1018.8 1158.8L1017.8 1157.3L1016.8 1156.4L1015.8 1156.7L1014.8 1156.1L1013.8 1159.6L1012.8 1156.6L1011.8 1155.6L1010.8 1156.3L1009.8 1156.2L1008.8 1159.1L1007.8 1158.8L1006.8 1158.5L1005.8 1158.6L1004.8 1158.7L1003.8 1157.3L1002.8 1157.2L1001.8 1159.1L1000.8 1159.2L999.8 1157.7L998.8 1157.3L997.8 1157.1L996.8 1157.3L995.8 1158.7L994.8 1156.1L993.8 1155.6L992.8 1157.7L991.8 1157.6L990.8 1158.9L989.8 1158L988.8 1156.7L987.8 1158.8L986.8 1157L985.8 1158.8L984.8 1157.4L983.8 1159.2L982.8 1157.1L981.8 1157.5L980.8 1157.6L979.8 1157.1L978.8 1156.8L977.8 1158.6L976.8 1156L975.8 1157.5L974.8 1158.2L973.8 1155.6L972.8 1159.8L971.8 1158.3L970.8 1158.9L969.8 1159.8L968.8 1155.4L967.8 1158L966.8 1157.6L965.8 1156.5L964.8 1158.6L963.8 1164.5L962.8 1155.9L961.8 1157.8L960.8 1159.8L959.8 1156.7L958.8 1156.4L957.8 1156.2L956.8 1155.4L955.8 1157.8L954.8 1157.9L953.8 1157.4L952.8 1155.4L951.8 1156.2L950.8 1155.5L949.8 1155.7L948.8 1155.7L947.8 1157.9L946.8 1158.1L945.8 1158L944.8 1157.3L943.8 1157.6L942.8 1156.9L941.8 1156.9L940.8 1157.7L939.8 1157L938.8 1160.8L937.8 1156.2L936.8 1157.6L935.8 1159.5L934.8 1158.5L933.8 1158.1L932.8 1159L931.8 1157.2L930.8 1158.4L929.8 1157.2L928.8 1157.2L927.8 1158.2L926.8 1157.9L925.8 1157.3L924.8 1157.5L923.8 1161.2L922.8 1157.6L921.8 1155.5L920.8 1155.9L919.8 1159.5L918.8 1159.5L917.8 1158L916.8 1160.7L915.8 1158.3L914.8 1159.1L913.8 1156.1L912.8 1155.9L911.8 1158L910.8 1155.7L909.8 1155.9L908.8 1159.2L907.8 1157.1L906.8 1156.7L905.8 1157.6L904.8 1157.9L903.8 1157.6L902.8 1159.8L901.8 1156.1L900.8 1157.9L899.8 1160.1L898.8 1159.4L897.8 1156.9L896.8 1160.4L895.8 1155.8L894.8 1156.7L893.8 1158.3L892.8 1160.6L891.8 1157.7L890.8 1157.4L889.8 1160.4L888.8 1158.4L887.8 1158.9L886.8 1159.8L885.8 1158.7L884.8 1161.4L883.8 1157.3L882.8 1156.1L881.8 1157.6L880.8 1158.6L879.8 1158.2L878.8 1156.6L877.8 1157.3L876.8 1158.6L875.8 1159.3L874.8 1157.9L873.8 1157.4L872.8 1159.7L871.8 1156.7L870.8 1158.3L869.8 1157.8L868.8 1157.9L867.8 1157.8L866.8 1157.1L865.8 1158.1L864.8 1160.2L863.8 1155.7L862.8 1156L861.8 1156.5L860.8 1155.7L859.8 1157.7L858.8 1159.1L857.8 1159.7L856.8 1157.2L855.8 1156.8L854.8 1157.6L853.8 1156.8L852.8 1156L851.8 1158.6L850.8 1157.7L849.8 1159.5L848.8 1156.7L847.8 1159.1L846.8 1156.9L845.8 1155.7L844.8 1157.1L843.8 1159.1L842.8 1158.2L841.8 1157.1L840.8 1159.9L839.8 1158L838.8 1158.2L837.8 1156.8L836.8 1157.7L835.8 1158.1L834.8 1156.7L833.8 1157.1L832.8 1158L831.8 1163.1L830.8 1158.5L829.8 1159.1L828.8 1161L827.8 1156.1L826.8 1157.2L825.8 1156.3L824.8 1157.5L823.8 1159.8L822.8 1159.8L821.8 1159.2L820.8 1158.4L819.8 1156.7L818.8 1158.7L817.8 1155.2L816.8 1159.1L815.8 1156.2L814.8 1157.5L813.8 1156.1L812.8 1158.1L811.8 1159.5L810.8 1157.2L809.8 1157.6L808.8 1157.7L807.8 1158.3L806.8 1155.9L805.8 1158.5L804.8 1157L803.8 1156.6L802.8 1157.2L801.8 1159.8L800.8 1156.6L799.8 1161.6L798.8 1159.7L797.8 1156.5L796.8 1159.1L795.8 1157.1L794.8 1160L793.8 1159L792.8 1159L791.8 1158.1L790.8 1157.3L789.8 1155.9L788.8 1156.4L787.8 1157.6L786.8 1157.3L785.8 1159.9L784.8 1157.1L783.8 1157.5L782.8 1155.5L781.8 1156.8L780.8 1161L779.8 1161.1L778.8 1159L777.8 1157L776.8 1157.5L775.8 1157.2L774.8 1159.1L773.8 1156.2L772.8 1157.9L771.8 1158.6L770.8 1157.7L769.8 1156.6L768.8 1157.1L767.8 1157L766.8 1157.1L765.8 1157.4L764.8 1156.6L763.8 1158L762.8 1155.7L761.8 1157L760.8 1157.3L759.8 1158.1L758.8 1157.8L757.8 1156.1L756.8 1159.7L755.8 1156.6L754.8 1157.3L753.8 1157.6L752.8 1159.4L751.8 1156.6L750.8 1156.7L749.8 1157.5L748.8 1157.6L747.8 1155.8L746.8 1156.6L745.8 1156.3L744.8 1158.4L743.8 1157L742.8 1156.5L741.8 1156.3L740.8 1157.6L739.8 1158.3L738.8 1157.4L737.8 1157.7L736.8 1159.3L735.8 1156.6L734.8 1159L733.8 1158.3L732.8 1157.2L731.8 1157.7L730.8 1157.1L729.8 1157.3L728.8 1156.1L727.8 1157.8L726.8 1157.8L725.8 1159L724.8 1160.9L723.8 1162.1L722.8 1159.8L721.8 1157.1L720.8 1157.5L719.8 1158.6L718.8 1156L717.8 1157.9L716.8 1158L715.8 1155.4L714.8 1161.2L713.8 1158.6L712.8 1156.9L711.8 1157.2L710.8 1157.2L709.8 1159.6L708.8 1158L707.8 1158.2L706.8 1155.8L705.8 1155.8L704.8 1158.6L703.8 1156.8L702.8 1158.2L701.8 1159.7L700.8 1155.1L699.8 1160.4L698.8 1158.2L697.8 1157.3L696.8 1161.2L695.8 1156.2L694.8 1156.3L693.8 1158.1L692.8 1159.6L691.8 1157.8L690.8 1157.8L689.8 1156.2L688.8 1159.3L687.8 1156.3L686.8 1158.3L685.8 1158.2L684.8 1162.2L683.8 1158.5L682.8 1157.5L681.8 1159.3L680.8 1155.6L679.8 1157.1L678.8 1157.5L677.8 1157.1L676.8 1157.2L675.8 1157.4L674.8 1159.1L673.8 1155.1L672.8 1158.6L671.8 1157L670.8 1156.9L669.8 1157.8L668.8 1159.1L667.8 1158.2L666.8 1157.7L665.8 1156.9L664.8 1161.8L663.8 1156.6L662.8 1155.6L661.8 1157.8L660.8 1155.3L659.8 1156.1L658.8 1157.2L657.8 1155.8L656.8 1158.5L655.8 1157.5L654.8 1156.7L653.8 1156.8L652.8 1156.6L651.8 1160.4L650.8 1157.2L649.8 1157.5L648.8 1158.6L647.8 1159.4L646.8 1159.5L645.8 1158.2L644.8 1158.6L643.8 1162.6L642.8 1158.3L641.8 1157.6L640.8 1159L639.8 1159.8L638.8 1156.7L637.8 1158.2L636.8 1161.1L635.8 1158.2L634.8 1157.8L633.8 1155.6L632.8 1157.6L631.8 1160L630.8 1156.5L629.8 1159.6L628.8 1155.5L627.8 1157.1L626.8 1158L625.8 1158.7L624.8 1157.8L623.8 1156.4L622.8 1158L621.8 1161.7L620.8 1158.1L619.8 1157.6L618.8 1155.7L617.8 1158.1ZM695.3 1149.5L696.7 1149.5L696.5 1170.0L695.5 1170.0ZM770.8 1149.5L772.2 1149.5L772.0 1166.0L771.0 1166.0Z" fill="#000" stroke="#000" stroke-width="0.5" stroke-linejoin="round"/>
<path d="M663.7 1113.7L663.7 1212.0" stroke="#000" stroke-width="1.25" stroke-dasharray="8.4 5.4" stroke-dashoffset="2.4" fill="none"/>
<path d="M663.1 1114.3L712.6 1114.3" stroke="#000" stroke-width="1.25" stroke-dasharray="8.4 5.4" stroke-dashoffset="5" fill="none"/>
<path d="M712.0 1113.7L712.0 1212.0" stroke="#000" stroke-width="1.25" stroke-dasharray="8.4 5.4" stroke-dashoffset="4" fill="none"/>
<path d="M663.7 1212.0L712.0 1212.0" stroke="#000" stroke-width="1.25" stroke-dasharray="8.4 5.4" stroke-dashoffset="6.7" fill="none"/>
<path d="M663.7 1212.0L620.5 1242.5" stroke="#000" stroke-width="1.25" stroke-dasharray="12 6.2" stroke-dashoffset="2" fill="none"/>
<path d="M712.0 1212.0L1053.0 1236.7" stroke="#000" stroke-width="1.25" stroke-dasharray="23 9" stroke-dashoffset="2" fill="none"/>
<path d="M613.4 1251L614.1 1250.5L614.9 1248.4L615.6 1247.2L616.4 1249.9L617.1 1253.3L617.9 1248.2L618.6 1249L619.4 1250.3L620.1 1249L620.9 1249.5L621.6 1249.5L622.4 1253.7L623.1 1249.7L623.9 1250L624.6 1247.4L625.4 1246L626.1 1248.3L626.9 1248.3L627.6 1247L628.4 1252.6L629.1 1247L629.9 1247.1L630.6 1249.1L631.4 1248.6L632.1 1251.7L632.9 1247.5L633.6 1249.6L634.4 1250.8L635.1 1249.8L635.9 1252.9L636.6 1251.7L637.4 1251.9L638.1 1251.6L638.9 1246.4L639.6 1249.8L640.4 1249.3L641.1 1246L641.9 1250.3L642.6 1249.3L643.4 1250L644.1 1248.2L644.9 1251L645.6 1253.5L646.4 1250.8L647.1 1245.5L647.9 1249L648.6 1251.1L649.4 1247L650.1 1251L650.9 1252.3L651.6 1248L652.4 1250.5L653.1 1244.9L653.9 1250.4L654.6 1249.6L655.4 1243.9L656.1 1247.6L656.9 1248.6L657.6 1249.8L658.4 1251.4L659.1 1253.3L659.9 1243.3L660.6 1250.9L661.4 1244.1L662.1 1252.8L662.9 1249.2L663.6 1251.3L664.4 1248.3L665.1 1248.3L665.9 1250.5L666.6 1247.4L667.4 1249.3L668.1 1248.9L668.9 1250.8L669.6 1247L670.4 1248.2L671.1 1250.2L671.9 1247L672.6 1247L673.4 1249L674.1 1250.4L674.9 1250.1L675.6 1245.7L676.4 1249.2L677.1 1248.9L677.9 1248.3L678.6 1249.2L679.4 1249.3L680.1 1247.3L680.9 1246.3L681.6 1249.2L682.4 1249.9L683.1 1249.9L683.9 1247.9L684.6 1248.9L685.4 1248.8L686.1 1249.5L686.9 1250.9L687.6 1248.9L688.4 1248.9L689.1 1248.9L689.9 1248.9L690.6 1249.6L691.4 1245.6L692.1 1245.6L692.9 1247.4L693.6 1250.3L694.4 1250.6L695.1 1248.5L695.9 1249.5L696.6 1244.4L697.4 1248.2L698.1 1249.8L698.9 1249.3L699.6 1250.2L700.4 1247L701.1 1248.8L701.9 1251.6L702.6 1249.5L703.4 1245.9L704.1 1248.8L704.9 1250.5L705.6 1247.2L706.4 1250.3L707.1 1248.2L707.9 1248.1L708.6 1248.2L709.4 1249.2L710.1 1249.3L710.9 1247.6L711.6 1250.8L712.4 1247.2L713.1 1243.2L713.9 1251.9L714.6 1247.9L715.4 1249.5L716.1 1247.3L716.9 1245.9L717.6 1245.9L718.4 1245.9L719.1 1250L719.9 1244.4L720.6 1250.2L721.4 1252.2L722.1 1247.8L722.9 1245.2L723.6 1247.8L724.4 1248.2L725.1 1250L725.9 1252.3L726.6 1248.5L727.4 1249.9L728.1 1247.2L728.9 1249L729.6 1246.3L730.4 1250.8L731.1 1248.5L731.9 1248.9L732.6 1245.5L733.4 1250.3L734.1 1252.6L734.9 1248.2L735.6 1251.1L736.4 1246.4L737.1 1249.3L737.9 1252.3L738.6 1249.4L739.4 1241.5L740.1 1250.9L740.9 1242.1L741.6 1250.7L742.4 1244.8L743.1 1245.2L743.9 1246.2L744.6 1247.1L745.4 1248L746.1 1249.2L746.9 1250.7L747.6 1250.1L748.4 1249L749.1 1249.5L749.9 1247.5L750.6 1249.8L751.4 1250.6L752.1 1249.9L752.9 1249.5L753.6 1247.9L754.4 1247.4L755.1 1249L755.9 1250.2L756.6 1248.9L757.4 1252L758.1 1247.2L758.9 1248.3L759.6 1249.5L760.4 1249L761.1 1251L761.9 1249.2L762.6 1250.1L763.4 1244.9L764.1 1253.3L764.9 1250.8L765.6 1247.7L766.4 1245.3L767.1 1248.1L767.9 1244.6L768.6 1242.6L769.4 1248.3L770.1 1249.2L770.9 1249.1L771.6 1250L772.4 1251.8L773.1 1247.8L773.9 1251.9L774.6 1249.4L775.4 1249.2L776.1 1252.1L776.9 1247.6L777.6 1247.1L778.4 1252.5L779.1 1249L779.9 1251.8L780.6 1252.2L781.4 1251.2L782.1 1251.6L782.9 1250L783.6 1250L784.4 1248.4L785.1 1249.6L785.9 1247.1L786.6 1248.8L787.4 1249.4L788.1 1251.3L788.9 1250.5L789.6 1251.5L790.4 1255.9L791.1 1255.1L791.9 1250.5L792.6 1249.2L793.4 1251.8L794.1 1252.5L794.9 1247.2L795.6 1248.3L796.4 1248.1L797.1 1250.5L797.9 1249.8L798.6 1248.5L799.4 1247.6L800.1 1247.5L800.9 1251.2L801.6 1248.1L802.4 1247.8L803.1 1245.9L803.9 1248.2L804.6 1243.2L805.4 1250.9L806.1 1248L806.9 1243.3L807.6 1249.6L808.4 1252.9L809.1 1250.3L809.9 1251.4L810.6 1252.3L811.4 1248.4L812.1 1248.8L812.9 1246.9L813.6 1246.9L814.4 1249.1L815.1 1249.4L815.9 1251.1L816.6 1244.7L817.4 1248L818.1 1250.6L818.9 1250.7L819.6 1247.9L820.4 1253L821.1 1247.6L821.9 1251.9L822.6 1248.7L823.4 1249.4L824.1 1249.3L824.9 1251L825.6 1251.3L826.4 1245.3L827.1 1246L827.9 1250.3L828.6 1251L829.4 1251.3L830.1 1252.7L830.9 1250.6L831.6 1249.7L832.4 1250.5L833.1 1250.4L833.9 1250.2L834.6 1244.2L835.4 1246.4L836.1 1251.7L836.9 1248.5L837.6 1245.8L838.4 1249.7L839.1 1251.7L839.9 1248.6L840.6 1248.5L841.4 1249.7L842.1 1246.1L842.9 1250.2L843.6 1248.7L844.4 1249L845.1 1248.9L845.9 1248.9L846.6 1248.9L847.4 1248.9L848.1 1249.7L848.9 1248.6L849.6 1251L850.4 1250.8L851.1 1246.6L851.9 1248.9L852.6 1249.2L853.4 1247.8L854.1 1247.4L854.9 1250.5L855.6 1248.9L856.4 1248.9L857.1 1245.2L857.9 1247.7L858.6 1250.9L859.4 1247.5L860.1 1248.5L860.9 1250.1L861.6 1247.1L862.4 1250.7L863.1 1246.6L863.9 1246.6L864.6 1252L865.4 1251.7L866.1 1248.9L866.9 1246.2L867.6 1250.8L868.4 1249.5L869.1 1250.2L869.9 1246.1L870.6 1250.2L871.4 1249.6L872.1 1249.5L872.9 1250.7L873.6 1249.3L874.4 1249.6L875.1 1246L875.9 1252.2L876.6 1247.8L877.4 1247.8L878.1 1250.6L878.9 1253.4L879.6 1252.7L880.4 1248.2L881.1 1248.7L881.9 1246.8L882.6 1250L883.4 1249.9L884.1 1246.9L884.9 1250L885.6 1248L886.4 1247.4L887.1 1249.9L887.9 1247.2L888.6 1250.3L889.4 1251.1L890.1 1245.6L890.9 1248.9L891.6 1249.2L892.4 1250.9L893.1 1247L893.9 1247L894.6 1248.6L895.4 1249.2L896.1 1252.2L896.9 1250.4L897.6 1251L898.4 1244.7L899.1 1247.3L899.9 1250.6L900.6 1247L901.4 1249L902.1 1250.7L902.9 1247.2L903.6 1248.5L904.4 1248.3L905.1 1246.6L905.9 1249.6L906.6 1249.3L907.4 1250.1L908.1 1247.5L908.9 1249.5L909.6 1250.8L910.4 1248.6L911.1 1249.4L911.9 1251.2L912.6 1250.3L913.4 1251.2L914.1 1246.8L914.9 1246.5L915.6 1247.7L916.4 1247.1L917.1 1247.7L917.9 1249.1L918.6 1250.6L919.4 1247L920.1 1248.9L920.9 1251.1L921.6 1247.5L922.4 1251.3L923.1 1249.5L923.9 1248.4L924.6 1250.5L925.4 1251.2L926.1 1244L926.9 1250.3L927.6 1249L928.4 1250.4L929.1 1250.9L929.9 1249.6L930.6 1249.2L931.4 1247L932.1 1245.7L932.9 1248.7L933.6 1248.7L934.4 1250.7L935.1 1249.7L935.9 1247.7L936.6 1244.8L937.4 1245.6L938.1 1249.2L938.9 1252L939.6 1242.7L940.4 1246.7L941.1 1251.4L941.9 1250.4L942.6 1250.6L943.4 1250.6L944.1 1249.8L944.9 1249.8L945.6 1248.5L946.4 1251.4L947.1 1245.5L947.9 1246.5L948.6 1265.9L949.4 1264.1L950.1 1262.8L950.9 1257.9L951.6 1259.8L952.4 1258.7L953.1 1255.9L953.9 1251.5L954.6 1256L955.4 1252.7L956.1 1253.4L956.9 1253.6L957.6 1251.1L958.4 1253.6L959.1 1251.1L959.9 1253.5L960.6 1251.4L961.4 1255L962.1 1250.7L962.9 1255.3L963.6 1251.8L964.4 1252.4L965.1 1251.7L965.9 1249.5L966.6 1248.4L967.4 1250.9L968.1 1252.1L968.9 1250.6L969.6 1249.8L970.4 1250.2L971.1 1251.3L971.9 1251L972.6 1249L973.4 1247.2L974.1 1253.9L974.9 1249L975.6 1248.3L976.4 1246.8L977.1 1249.3L977.9 1245.4L978.6 1245.3L979.4 1250.1L980.1 1250.9L980.9 1253.8L981.6 1250.8L982.4 1251.8L983.1 1249.5L983.9 1246.4L984.6 1250.5L985.4 1253.2L986.1 1247.8L986.9 1248.3L987.6 1251.3L988.4 1246.6L989.1 1251L989.9 1249.6L990.6 1252.6L991.4 1251.7L992.1 1248.2L992.9 1251L993.6 1251.2L994.4 1249.2L995.1 1252.4L995.9 1247.4L996.6 1249.6L997.4 1253.9L998.1 1250.5L998.9 1250.6L999.6 1250.2L1000.4 1249.6L1001.1 1246.7L1001.9 1247.9L1002.6 1245.7L1003.4 1247.3L1004.1 1244.8L1004.9 1252.1L1005.6 1252.1L1006.4 1249.8L1007.1 1247.8L1007.9 1249.4L1008.6 1250L1009.4 1250.9L1010.1 1249.7L1010.9 1249.9L1011.6 1246.9L1012.4 1248.7L1013.1 1248.1L1013.9 1250.4L1014.6 1248.2L1015.4 1249L1016.1 1251.6L1016.9 1250.1L1017.6 1244.4L1018.4 1248.9L1019.1 1250.5L1019.9 1248.8L1020.6 1250.9L1021.4 1252.1L1022.1 1248.1L1022.9 1249.9L1023.6 1249.5L1024.4 1252.9L1025.2 1252.8L1025.9 1246.1L1026.7 1249L1027.4 1244L1028.2 1242.9L1028.9 1249.1L1029.7 1247.1L1030.4 1248.1L1031.2 1254.6L1031.9 1249.4L1032.7 1250.3L1033.4 1254.1L1034.2 1250.2L1034.9 1250.4L1035.7 1249.6L1036.4 1250.7L1037.2 1245.2L1037.9 1250.5L1038.7 1249.5L1039.4 1250L1040.2 1248.3L1040.9 1248.8L1041.7 1250.1L1042.4 1253.8L1043.2 1253.1L1043.9 1251L1044.7 1250L1045.4 1249.6L1046.2 1249.9L1046.9 1250.3L1047.7 1249.2L1048.4 1247.1L1049.2 1245.9L1049.9 1248.1L1050.7 1248.1L1051.4 1249.3L1052.2 1250.6L1052.9 1248L1053.7 1251.2L1054.4 1249.7L1055.2 1247.7L1055.9 1252.4L1056.7 1252.4L1057.4 1250.7L1058.2 1247.4L1058.9 1250L1059.7 1247.5L1060.4 1251.6L1061.2 1251.7L1061.9 1253.5L1062.7 1249.6L1063.4 1247.1L1064.2 1249.5L1064.9 1248.5L1065.7 1250L1066.4 1249L1067.2 1249.5L1067.9 1250.4L1068.7 1250.3L1069.4 1246.2L1070.2 1251.2L1070.9 1250.8L1071.7 1253.7L1072.4 1247.2L1073.2 1252.5L1073.9 1248.2L1074.7 1247.7L1075.4 1245.9L1076.2 1246.9L1076.9 1251.4L1077.7 1244.9L1078.4 1251L1079.2 1249.9L1079.9 1248.7L1080.7 1250.7L1081.4 1250.9L1082.2 1249L1082.9 1242.5L1083.7 1242.5L1084.4 1250.5L1085.2 1250.1L1085.9 1251.4L1085.9 1260.1L1085.2 1266.7L1084.4 1265.2L1083.7 1264.8L1082.9 1268L1082.2 1261.6L1081.4 1263.7L1080.7 1264L1079.9 1261.5L1079.2 1267.5L1078.4 1264.1L1077.7 1261.7L1076.9 1263.5L1076.2 1263.3L1075.4 1263.3L1074.7 1262.6L1073.9 1260.7L1073.2 1262.5L1072.4 1260.6L1071.7 1264.6L1070.9 1264.6L1070.2 1263.3L1069.4 1261.7L1068.7 1265.7L1067.9 1262.3L1067.2 1262.2L1066.4 1264.5L1065.7 1262.1L1064.9 1261.7L1064.2 1265.7L1063.4 1266.4L1062.7 1262.8L1061.9 1263.6L1061.2 1263.6L1060.4 1264.1L1059.7 1262.9L1058.9 1262.2L1058.2 1263.4L1057.4 1265.9L1056.7 1264.3L1055.9 1263.9L1055.2 1259.6L1054.4 1262.5L1053.7 1262.6L1052.9 1266.1L1052.2 1264.5L1051.4 1262.5L1050.7 1263L1049.9 1261.2L1049.2 1266.4L1048.4 1260.1L1047.7 1264.3L1046.9 1261L1046.2 1264.3L1045.4 1262.2L1044.7 1261.1L1043.9 1261L1043.2 1268.6L1042.4 1266.4L1041.7 1264.5L1040.9 1260.1L1040.2 1263.5L1039.4 1261.2L1038.7 1265L1037.9 1262.9L1037.2 1263.7L1036.4 1266.6L1035.7 1264.3L1034.9 1263.5L1034.2 1265L1033.4 1264.9L1032.7 1266.7L1031.9 1268.3L1031.2 1268.3L1030.4 1269.6L1029.7 1264.2L1028.9 1265.9L1028.2 1263.4L1027.4 1263L1026.7 1265.3L1025.9 1264.6L1025.2 1265.9L1024.4 1263.8L1023.6 1262.1L1022.9 1261.9L1022.1 1257.7L1021.4 1263.9L1020.6 1263.3L1019.9 1260.1L1019.1 1265.5L1018.4 1264.4L1017.6 1267.2L1016.9 1265.6L1016.1 1261.5L1015.4 1267.4L1014.6 1264.4L1013.9 1263.6L1013.1 1265.7L1012.4 1259.9L1011.6 1261.6L1010.9 1264.9L1010.1 1260.5L1009.4 1260.6L1008.6 1263.1L1007.9 1264.8L1007.1 1266.7L1006.4 1259.9L1005.6 1263.2L1004.9 1260.5L1004.1 1260.3L1003.4 1261.9L1002.6 1262.7L1001.9 1264.6L1001.1 1265.8L1000.4 1265.8L999.6 1263L998.9 1264.6L998.1 1262.8L997.4 1261.8L996.6 1261.3L995.9 1263L995.1 1263L994.4 1259.3L993.6 1261.2L992.9 1259.4L992.1 1270.3L991.4 1265.4L990.6 1263.1L989.9 1262.3L989.1 1264.6L988.4 1265.2L987.6 1264.8L986.9 1265.5L986.1 1260.2L985.4 1264.5L984.6 1261.4L983.9 1262.5L983.1 1261.3L982.4 1265.9L981.6 1268.1L980.9 1260L980.1 1262.4L979.4 1264.8L978.6 1261.6L977.9 1267.5L977.1 1264.2L976.4 1263.7L975.6 1262.7L974.9 1262.6L974.1 1260L973.4 1264.2L972.6 1261.8L971.9 1261.9L971.1 1262.1L970.4 1260.9L969.6 1267.4L968.9 1261.3L968.1 1263.5L967.4 1264.5L966.6 1263.1L965.9 1263.2L965.1 1261.3L964.4 1263L963.6 1262.2L962.9 1268.2L962.1 1260L961.4 1264.1L960.6 1264.8L959.9 1267.2L959.1 1264.1L958.4 1264.9L957.6 1264.4L956.9 1268.5L956.1 1263L955.4 1270L954.6 1267.4L953.9 1265.6L953.1 1273.6L952.4 1274.5L951.6 1268.9L950.9 1274.7L950.1 1275.6L949.4 1278.1L948.6 1282.2L947.9 1281L947.1 1260.5L946.4 1262.5L945.6 1263.1L944.9 1263.4L944.1 1263.6L943.4 1263.9L942.6 1264.5L941.9 1264.5L941.1 1262L940.4 1265.8L939.6 1261L938.9 1264.7L938.1 1260.8L937.4 1262.1L936.6 1264.6L935.9 1261L935.1 1261.4L934.4 1264.1L933.6 1260.8L932.9 1261.9L932.1 1262.7L931.4 1263.6L930.6 1259.3L929.9 1263.3L929.1 1263.4L928.4 1263.4L927.6 1265.8L926.9 1263.8L926.1 1260.5L925.4 1264.1L924.6 1263.4L923.9 1262.4L923.1 1263.8L922.4 1260.7L921.6 1261.7L920.9 1261.6L920.1 1263L919.4 1263.5L918.6 1264.3L917.9 1266.6L917.1 1263.4L916.4 1263.6L915.6 1260.4L914.9 1261.4L914.1 1262L913.4 1262.5L912.6 1263.5L911.9 1261.5L911.1 1261.7L910.4 1257.3L909.6 1263.5L908.9 1264.8L908.1 1260L907.4 1261.7L906.6 1262.7L905.9 1266.1L905.1 1260.8L904.4 1261.6L903.6 1264.3L902.9 1260.9L902.1 1262.9L901.4 1266.5L900.6 1264.4L899.9 1264.2L899.1 1263L898.4 1264.7L897.6 1262L896.9 1262.7L896.1 1262.7L895.4 1258.5L894.6 1261.8L893.9 1264.1L893.1 1263.8L892.4 1263.2L891.6 1261.6L890.9 1262L890.1 1260.4L889.4 1263.8L888.6 1265.7L887.9 1261.6L887.1 1269.9L886.4 1261.3L885.6 1264.6L884.9 1264.6L884.1 1260.3L883.4 1263.4L882.6 1261.3L881.9 1260.5L881.1 1259.9L880.4 1264L879.6 1262.8L878.9 1263.9L878.1 1264.6L877.4 1264.4L876.6 1261.4L875.9 1264.1L875.1 1261.7L874.4 1264.3L873.6 1261L872.9 1263.2L872.1 1261L871.4 1263.8L870.6 1262.1L869.9 1259.8L869.1 1262.1L868.4 1260.3L867.6 1263.1L866.9 1261.1L866.1 1261.7L865.4 1264.9L864.6 1260.7L863.9 1263.2L863.1 1261.1L862.4 1261.4L861.6 1262.5L860.9 1262.9L860.1 1262.1L859.4 1261.3L858.6 1264.3L857.9 1260.7L857.1 1264.1L856.4 1264.1L855.6 1265.2L854.9 1262.2L854.1 1262.6L853.4 1264.3L852.6 1264.6L851.9 1264.6L851.1 1261.4L850.4 1262.4L849.6 1265.3L848.9 1261.1L848.1 1263.1L847.4 1263.1L846.6 1260.9L845.9 1264.1L845.1 1262.1L844.4 1262.8L843.6 1262.9L842.9 1264.3L842.1 1261.9L841.4 1266L840.6 1261.7L839.9 1264.4L839.1 1264.2L838.4 1258.7L837.6 1261.8L836.9 1261.5L836.1 1262L835.4 1262L834.6 1259.8L833.9 1265L833.1 1264.2L832.4 1261.7L831.6 1260.6L830.9 1262.4L830.1 1265L829.4 1264.7L828.6 1264.4L827.9 1259.7L827.1 1265.5L826.4 1265.5L825.6 1265.1L824.9 1263.1L824.1 1263.1L823.4 1262.1L822.6 1258.7L821.9 1261.7L821.1 1262.3L820.4 1266.3L819.6 1262.1L818.9 1264.1L818.1 1263.7L817.4 1265.1L816.6 1264.1L815.9 1262.6L815.1 1266.3L814.4 1267.7L813.6 1267.7L812.9 1262.9L812.1 1260.6L811.4 1262.4L810.6 1262.8L809.9 1266L809.1 1261.9L808.4 1266.4L807.6 1262.2L806.9 1260.6L806.1 1263.8L805.4 1259.8L804.6 1261.6L803.9 1261.1L803.1 1260.6L802.4 1266.9L801.6 1267L800.9 1270.3L800.1 1262.5L799.4 1265L798.6 1265.1L797.9 1265.5L797.1 1266.6L796.4 1260.7L795.6 1262.5L794.9 1268.8L794.1 1269.7L793.4 1264.3L792.6 1264.9L791.9 1268.3L791.1 1267.1L790.4 1271.1L789.6 1272.5L788.9 1264.3L788.1 1262.2L787.4 1261.3L786.6 1265.5L785.9 1261.5L785.1 1264.4L784.4 1264.4L783.6 1262.5L782.9 1261.1L782.1 1261.6L781.4 1265.2L780.6 1265.7L779.9 1262.9L779.1 1260.5L778.4 1267.3L777.6 1261.4L776.9 1262.1L776.1 1264.6L775.4 1267L774.6 1266.8L773.9 1260.5L773.1 1259.2L772.4 1263.7L771.6 1265.4L770.9 1263.8L770.1 1261.3L769.4 1263L768.6 1262.3L767.9 1267.7L767.1 1267.7L766.4 1261L765.6 1264.9L764.9 1259.2L764.1 1264.1L763.4 1266L762.6 1260.5L761.9 1260.3L761.1 1264.2L760.4 1264L759.6 1267.1L758.9 1263.8L758.1 1260.3L757.4 1261.6L756.6 1264.7L755.9 1265.9L755.1 1259.2L754.4 1263.2L753.6 1266.6L752.9 1263.4L752.1 1262.6L751.4 1262.5L750.6 1261.4L749.9 1261.6L749.1 1263.4L748.4 1262.8L747.6 1261L746.9 1263.2L746.1 1264.4L745.4 1270L744.6 1265.4L743.9 1264.7L743.1 1265.7L742.4 1265.4L741.6 1261.5L740.9 1259.5L740.1 1265.1L739.4 1261.7L738.6 1264.5L737.9 1263.1L737.1 1261.6L736.4 1262.6L735.6 1262.6L734.9 1264.1L734.1 1260.5L733.4 1269.6L732.6 1261.6L731.9 1262.1L731.1 1265.3L730.4 1263.9L729.6 1262.6L728.9 1260.5L728.1 1260.4L727.4 1261.7L726.6 1264.6L725.9 1263.9L725.1 1262.6L724.4 1260.3L723.6 1264.5L722.9 1260.4L722.1 1261.4L721.4 1262.5L720.6 1263.9L719.9 1266.9L719.1 1265.7L718.4 1261.3L717.6 1265.8L716.9 1263.8L716.1 1265.3L715.4 1261.3L714.6 1259.4L713.9 1264.7L713.1 1261.3L712.4 1262.9L711.6 1264.4L710.9 1263.5L710.1 1263.6L709.4 1263.7L708.6 1259L707.9 1261.5L707.1 1264.4L706.4 1261.1L705.6 1262L704.9 1261.5L704.1 1261.6L703.4 1259.9L702.6 1262.9L701.9 1264.9L701.1 1264.9L700.4 1261.6L699.6 1262.4L698.9 1264.1L698.1 1261.8L697.4 1263.3L696.6 1264.6L695.9 1268L695.1 1262.9L694.4 1259L693.6 1266.5L692.9 1263L692.1 1263L691.4 1262.5L690.6 1260.6L689.9 1263.3L689.1 1265.6L688.4 1265.6L687.6 1262.5L686.9 1262L686.1 1265.2L685.4 1263.3L684.6 1268.3L683.9 1265.9L683.1 1260.7L682.4 1262L681.6 1265.7L680.9 1264.9L680.1 1262.6L679.4 1263.2L678.6 1264.3L677.9 1259.3L677.1 1262.6L676.4 1267.3L675.6 1262.4L674.9 1262.9L674.1 1265.2L673.4 1264.4L672.6 1261.8L671.9 1261.1L671.1 1265.6L670.4 1265.9L669.6 1262.3L668.9 1268.5L668.1 1262.8L667.4 1268.4L666.6 1267.3L665.9 1267.4L665.1 1262.5L664.4 1261.8L663.6 1261.9L662.9 1263.3L662.1 1261.9L661.4 1265.2L660.6 1263.3L659.9 1263.6L659.1 1265L658.4 1263.6L657.6 1262.4L656.9 1264L656.1 1262.5L655.4 1260.7L654.6 1260.9L653.9 1265.1L653.1 1259.7L652.4 1261.5L651.6 1264.3L650.9 1261L650.1 1264.4L649.4 1263.1L648.6 1265.8L647.9 1265.9L647.1 1265.9L646.4 1262.1L645.6 1264.2L644.9 1261L644.1 1261.3L643.4 1261.1L642.6 1262.7L641.9 1261.4L641.1 1263.4L640.4 1263.5L639.6 1263.4L638.9 1261.6L638.1 1262.5L637.4 1263.2L636.6 1265L635.9 1265.7L635.1 1265.7L634.4 1266.3L633.6 1266.3L632.9 1265.1L632.1 1265.1L631.4 1264.8L630.6 1270.5L629.9 1264.1L629.1 1262.5L628.4 1262.5L627.6 1266L626.9 1264.2L626.1 1261.4L625.4 1261.2L624.6 1264L623.9 1268L623.1 1262.2L622.4 1263.3L621.6 1265L620.9 1261.9L620.1 1258.4L619.4 1261.1L618.6 1262.1L617.9 1260.2L617.1 1262.4L616.4 1262.7L615.6 1263.6L614.9 1263.4L614.1 1261.8L613.4 1261.7Z" fill="#000" stroke="#000" stroke-width="0.5" stroke-linejoin="round"/>
<rect x="225.4" y="446.6" width="35.1" height="12.1" fill="#000" stroke="#1a1a1a" stroke-width="1.2"/>
<text x="267.9" y="458.2" font-size="16.2" textLength="81.3" lengthAdjust="spacingAndGlyphs">WT+SD</text>
<rect x="225.4" y="464.0" width="35.1" height="11.4" fill="#c0c0c0" stroke="#1a1a1a" stroke-width="1.2"/>
<text x="267.9" y="473.5" font-size="16.2" textLength="138.1" lengthAdjust="spacingAndGlyphs">WT+JuA+SD</text>
<rect x="225.4" y="479.7" width="35.1" height="11.5" fill="#fff" stroke="#1a1a1a" stroke-width="1.2"/>
<text x="267.9" y="489.0" font-size="16.2" textLength="142.8" lengthAdjust="spacingAndGlyphs">APP/PS1+SD</text>
<rect x="225.4" y="495.5" width="35.1" height="11.8" fill="url(#hatch)" stroke="#1a1a1a" stroke-width="1.2"/>
<text x="267.9" y="504.7" font-size="16.2" textLength="199.7" lengthAdjust="spacingAndGlyphs">APP/PS1+JuA+SD</text>
<path d="M217.0 569.4V847.3M217.0 569.4h-7.8M217.0 638.9h-7.8M217.0 708.3h-7.8M217.0 777.8h-7.8M217.0 604.1h-3.8M217.0 673.6h-3.8M217.0 743.1h-3.8M217.0 812.5h-3.8" stroke="#000" stroke-width="1.6" fill="none"/>
<path d="M208.0 847.3H535.0" stroke="#000" stroke-width="1.9" fill="none"/>
<text x="171.9" y="575.1" font-size="17.3" textLength="31.6" lengthAdjust="spacingAndGlyphs">2.0</text>
<text x="171.9" y="644.6" font-size="17.3" textLength="31.6" lengthAdjust="spacingAndGlyphs">1.5</text>
<text x="171.9" y="714.0" font-size="17.3" textLength="31.6" lengthAdjust="spacingAndGlyphs">1.0</text>
<text x="171.9" y="783.5" font-size="17.3" textLength="31.6" lengthAdjust="spacingAndGlyphs">0.5</text>
<text x="171.9" y="853.0" font-size="17.3" textLength="31.6" lengthAdjust="spacingAndGlyphs">0.0</text>
<text x="135.3" y="830.0" font-size="33" textLength="249.5" lengthAdjust="spacingAndGlyphs" transform="rotate(-90 135.3 830.0)" stroke="#000" stroke-width="0.5">mEPSC frequency (Hz)</text>
<rect x="248.6" y="782.3" width="54.8" height="65.0" fill="#000" stroke="#1a1a1a" stroke-width="1.2"/>
<path d="M276.0 782.0V777.6M268.2 777.6H283.8" stroke="#000" stroke-width="1.7" fill="none"/>
<rect x="315.1" y="776.2" width="54.9" height="71.1" fill="#c0c0c0" stroke="#1a1a1a" stroke-width="1.2"/>
<path d="M342.7 776.0V771.5M334.9 771.5H350.4" stroke="#000" stroke-width="1.7" fill="none"/>
<rect x="381.4" y="617.4" width="55.0" height="229.9" fill="#fff" stroke="#1a1a1a" stroke-width="1.2"/>
<path d="M409.0 617.0V574.0M401.2 574.0H416.8" stroke="#000" stroke-width="1.7" fill="none"/>
<rect x="447.8" y="803.8" width="55.0" height="43.5" fill="url(#hatch)" stroke="#1a1a1a" stroke-width="1.2"/>
<path d="M475.0 803.5V791.9M467.2 791.9H482.8" stroke="#000" stroke-width="1.7" fill="none"/>
<path d="M276.0 758.6V743.6H343.4V758.6" stroke="#222" stroke-width="1.0" fill="none"/>
<text x="296.5" y="737.3" font-size="16.5" textLength="30.5" lengthAdjust="spacingAndGlyphs">NS</text>
<path d="M413.8 566.5V553.2H473.6V678.0" stroke="#222" stroke-width="1.0" fill="none"/>
<text x="425.4" y="553.4" font-size="24" textLength="39.5" lengthAdjust="spacingAndGlyphs">***</text>
<path d="M667.0 572.6V850.7M667.0 572.6h-7.8M667.0 628.2h-7.8M667.0 683.8h-7.8M667.0 739.5h-7.8M667.0 795.0h-7.8M667.0 600.4h-3.8M667.0 656.0h-3.8M667.0 711.6h-3.8M667.0 767.2h-3.8M667.0 822.8h-3.8" stroke="#000" stroke-width="1.6" fill="none"/>
<path d="M659.6 850.7H984.3" stroke="#000" stroke-width="1.9" fill="none"/>
<text x="629.6" y="578.3" font-size="17.3" textLength="24.0" lengthAdjust="spacingAndGlyphs">10</text>
<text x="641.6" y="633.9" font-size="17.3" textLength="12.0" lengthAdjust="spacingAndGlyphs">8</text>
<text x="641.6" y="689.5" font-size="17.3" textLength="12.0" lengthAdjust="spacingAndGlyphs">6</text>
<text x="641.6" y="745.2" font-size="17.3" textLength="12.0" lengthAdjust="spacingAndGlyphs">4</text>
<text x="641.6" y="800.7" font-size="17.3" textLength="12.0" lengthAdjust="spacingAndGlyphs">2</text>
<text x="641.6" y="826.2" font-size="17.3" textLength="12.0" lengthAdjust="spacingAndGlyphs">0</text>
<text x="605.0" y="830.0" font-size="31.5" textLength="253.3" lengthAdjust="spacingAndGlyphs" transform="rotate(-90 605.0 830.0)" stroke="#000" stroke-width="0.5">mEPSC Amplitude (pA)</text>
<rect x="699.0" y="602.1" width="54.4" height="248.6" fill="#000" stroke="#1a1a1a" stroke-width="1.2"/>
<path d="M726.3 602.5V583.8M718.5 583.8H734.0" stroke="#000" stroke-width="1.7" fill="none"/>
<rect x="765.3" y="593.5" width="54.5" height="257.2" fill="#c0c0c0" stroke="#1a1a1a" stroke-width="1.2"/>
<path d="M793.0 594.0V578.0M785.2 578.0H800.8" stroke="#000" stroke-width="1.7" fill="none"/>
<rect x="831.6" y="630.3" width="54.5" height="220.4" fill="#fff" stroke="#1a1a1a" stroke-width="1.2"/>
<path d="M858.9 631.0V620.9M851.1 620.9H866.6" stroke="#000" stroke-width="1.7" fill="none"/>
<rect x="897.9" y="647.8" width="54.9" height="202.9" fill="url(#hatch)" stroke="#1a1a1a" stroke-width="1.2"/>
<path d="M925.5 648.0V637.9M917.8 637.9H933.2" stroke="#000" stroke-width="1.7" fill="none"/>
<path d="M726.3 562.4V547.8H793.2V562.4" stroke="#222" stroke-width="1.0" fill="none"/>
<text x="746.3" y="541.3" font-size="16.5" textLength="30.5" lengthAdjust="spacingAndGlyphs">NS</text>
<path d="M862.6 606.0V591.6H922.0V627.0" stroke="#222" stroke-width="1.0" fill="none"/>
<text x="881.0" y="592.0" font-size="24" textLength="26.0" lengthAdjust="spacingAndGlyphs">**</text>
<rect x="230.1" y="1293.6" width="34.5" height="11.3" fill="#000" stroke="#1a1a1a" stroke-width="1.2"/>
<text x="272.3" y="1303.0" font-size="16" textLength="35.6" lengthAdjust="spacingAndGlyphs">WT</text>
<rect x="230.1" y="1309.6" width="34.5" height="11.3" fill="#c0c0c0" stroke="#1a1a1a" stroke-width="1.2"/>
<text x="272.3" y="1318.4" font-size="16" textLength="94.0" lengthAdjust="spacingAndGlyphs">WT+JuA</text>
<rect x="230.1" y="1325.5" width="34.5" height="10.9" fill="#fff" stroke="#1a1a1a" stroke-width="1.2"/>
<text x="272.3" y="1334.4" font-size="16" textLength="95.6" lengthAdjust="spacingAndGlyphs">APP/PS1</text>
<rect x="230.1" y="1341.1" width="34.5" height="11.1" fill="url(#hatch)" stroke="#1a1a1a" stroke-width="1.2"/>
<text x="272.3" y="1350.5" font-size="16" textLength="156.5" lengthAdjust="spacingAndGlyphs">APP/PS1+JuA</text>
<path d="M217.0 1371.5V1649.5M217.0 1371.5h-7.8M217.0 1510.5h-7.8M217.0 1441.0h-3.8M217.0 1580.0h-3.8" stroke="#000" stroke-width="1.6" fill="none"/>
<path d="M208.0 1649.5H535.0" stroke="#000" stroke-width="1.9" fill="none"/>
<text x="171.9" y="1377.2" font-size="17.3" textLength="31.6" lengthAdjust="spacingAndGlyphs">1.0</text>
<text x="171.9" y="1516.2" font-size="17.3" textLength="31.6" lengthAdjust="spacingAndGlyphs">0.5</text>
<text x="171.9" y="1655.2" font-size="17.3" textLength="31.6" lengthAdjust="spacingAndGlyphs">0.0</text>
<text x="135.3" y="1633.6" font-size="33" textLength="270.3" lengthAdjust="spacingAndGlyphs" transform="rotate(-90 135.3 1633.6)" stroke="#000" stroke-width="0.5">mEPSC frequency (Hz)</text>
<rect x="248.8" y="1434.3" width="53.9" height="215.2" fill="#000" stroke="#1a1a1a" stroke-width="1.2"/>
<path d="M276.0 1434.0V1418.7M268.2 1418.7H283.8" stroke="#000" stroke-width="1.7" fill="none"/>
<rect x="315.1" y="1434.3" width="54.3" height="215.2" fill="#c0c0c0" stroke="#1a1a1a" stroke-width="1.2"/>
<path d="M342.4 1434.0V1420.4M334.6 1420.4H350.1" stroke="#000" stroke-width="1.7" fill="none"/>
<rect x="381.4" y="1494.8" width="54.2" height="154.7" fill="#fff" stroke="#1a1a1a" stroke-width="1.2"/>
<path d="M409.0 1494.5V1458.0M401.2 1458.0H416.8" stroke="#000" stroke-width="1.7" fill="none"/>
<rect x="447.6" y="1460.8" width="54.3" height="188.7" fill="url(#hatch)" stroke="#1a1a1a" stroke-width="1.2"/>
<path d="M475.0 1460.5V1428.6M467.2 1428.6H482.8" stroke="#000" stroke-width="1.7" fill="none"/>
<path d="M275.4 1403.0V1388.0H342.4V1403.0" stroke="#222" stroke-width="1.0" fill="none"/>
<text x="295.8" y="1382.0" font-size="16.5" textLength="30.0" lengthAdjust="spacingAndGlyphs">NS</text>
<path d="M409.0 1413.6V1399.0H476.0V1413.6" stroke="#222" stroke-width="1.0" fill="none"/>
<text x="430.0" y="1392.9" font-size="16.5" textLength="30.5" lengthAdjust="spacingAndGlyphs">NS</text>
<path d="M666.0 1372.5V1650.4M666.0 1372.5h-7.8M666.0 1418.7h-7.8M666.0 1465.3h-7.8M666.0 1511.5h-7.8M666.0 1557.8h-7.8M666.0 1604.0h-7.8M666.0 1395.6h-3.8M666.0 1442.0h-3.8M666.0 1488.4h-3.8M666.0 1534.6h-3.8M666.0 1580.9h-3.8M666.0 1627.0h-3.8" stroke="#000" stroke-width="1.6" fill="none"/>
<path d="M658.6 1650.4H983.3" stroke="#000" stroke-width="1.9" fill="none"/>
<text x="629.6" y="1378.2" font-size="17.3" textLength="24.0" lengthAdjust="spacingAndGlyphs">12</text>
<text x="629.6" y="1424.4" font-size="17.3" textLength="24.0" lengthAdjust="spacingAndGlyphs">10</text>
<text x="641.6" y="1471.0" font-size="17.3" textLength="12.0" lengthAdjust="spacingAndGlyphs">8</text>
<text x="641.6" y="1517.2" font-size="17.3" textLength="12.0" lengthAdjust="spacingAndGlyphs">6</text>
<text x="641.6" y="1563.5" font-size="17.3" textLength="12.0" lengthAdjust="spacingAndGlyphs">4</text>
<text x="641.6" y="1609.7" font-size="17.3" textLength="12.0" lengthAdjust="spacingAndGlyphs">2</text>
<text x="641.6" y="1655.7" font-size="17.3" textLength="12.0" lengthAdjust="spacingAndGlyphs">0</text>
<text x="601.5" y="1651.0" font-size="31.5" textLength="274.5" lengthAdjust="spacingAndGlyphs" transform="rotate(-90 601.5 1651.0)" stroke="#000" stroke-width="0.5">mEPSC Amplitude (pA)</text>
<rect x="698.3" y="1397.2" width="54.1" height="253.2" fill="#000" stroke="#1a1a1a" stroke-width="1.2"/>
<path d="M725.6 1397.5V1384.7M717.9 1384.7H733.4" stroke="#000" stroke-width="1.7" fill="none"/>
<rect x="764.6" y="1400.7" width="54.2" height="249.7" fill="#c0c0c0" stroke="#1a1a1a" stroke-width="1.2"/>
<path d="M791.9 1401.0V1388.0M784.1 1388.0H799.6" stroke="#000" stroke-width="1.7" fill="none"/>
<rect x="830.9" y="1494.5" width="54.2" height="155.9" fill="#fff" stroke="#1a1a1a" stroke-width="1.2"/>
<path d="M858.2 1495.0V1489.8M850.5 1489.8H866.0" stroke="#000" stroke-width="1.7" fill="none"/>
<rect x="897.2" y="1494.8" width="54.2" height="155.6" fill="url(#hatch)" stroke="#1a1a1a" stroke-width="1.2"/>
<path d="M924.5 1495.0V1486.4M916.8 1486.4H932.2" stroke="#000" stroke-width="1.7" fill="none"/>
<path d="M723.9 1378.0V1363.3H791.9V1378.0" stroke="#222" stroke-width="1.0" fill="none"/>
<text x="744.3" y="1356.5" font-size="16.5" textLength="30.0" lengthAdjust="spacingAndGlyphs">NS</text>
<path d="M855.8 1475.8V1460.9H922.8V1475.8" stroke="#222" stroke-width="1.0" fill="none"/>
<text x="876.2" y="1454.0" font-size="16.5" textLength="30.5" lengthAdjust="spacingAndGlyphs">NS</text>
<rect x="1264.3" y="238.5" width="308.9" height="193.1" fill="#fff"/>
<rect x="1267.9" y="241.8" width="301.7" height="50.5" fill="url(#gN)"/>
<rect x="1267.9" y="294.3" width="301.7" height="45.7" fill="#dedede"/>
<rect x="1267.9" y="341.9" width="301.7" height="50.5" fill="#e8e8e8"/>
<rect x="1267.9" y="394.7" width="301.7" height="33.6" fill="#dcdcdc"/>
<g clip-path="url(#gclip)">
<rect x="1322.1" y="253.0" width="41.0" height="17.0" rx="8.2" ry="8.5" fill="rgba(0,0,0,0.32)" filter="url(#b2)"/>
<rect x="1374.5" y="255.0" width="39.0" height="14.0" rx="7.8" ry="7.0" fill="rgba(0,0,0,0.18)" filter="url(#b2)"/>
<rect x="1471.7" y="249.0" width="43.0" height="17.0" rx="8.6" ry="8.5" fill="rgba(0,0,0,0.29)" filter="url(#b2)"/>
<rect x="1524.2" y="250.5" width="39.0" height="13.0" rx="7.8" ry="6.5" fill="rgba(0,0,0,0.17)" filter="url(#b2)"/>
<rect x="1276.5" y="256.0" width="36.0" height="10.0" rx="7.2" ry="5.0" fill="rgba(0,0,0,0.06)" filter="url(#b2)"/>
<rect x="1425.6" y="254.0" width="36.0" height="10.0" rx="7.2" ry="5.0" fill="rgba(0,0,0,0.08)" filter="url(#b2)"/>
<rect x="1276.0" y="268.4" width="37.0" height="4.5" rx="5.0" ry="2.2" fill="rgba(0,0,0,0.5)" filter="url(#b1)"/>
<rect x="1320.8" y="265.9" width="43.6" height="8.5" rx="8.7" ry="4.2" fill="rgba(0,0,0,1)" filter="url(#b1)" transform="rotate(-0.5 1342.6 270.2)"/>
<rect x="1323.3" y="267.4" width="38.6" height="5.5" rx="6.1" ry="2.8" fill="rgba(0,0,0,1)" filter="url(#b3)" transform="rotate(-0.5 1342.6 270.2)"/>
<rect x="1374.2" y="266.0" width="39.7" height="6.0" rx="6.6" ry="3.0" fill="rgba(0,0,0,1)" filter="url(#b1)" transform="rotate(0.5 1394.0 269.0)"/>
<rect x="1376.7" y="267.5" width="34.7" height="3.0" rx="3.3" ry="1.5" fill="rgba(0,0,0,1)" filter="url(#b3)" transform="rotate(0.5 1394.0 269.0)"/>
<rect x="1424.7" y="265.0" width="37.8" height="4.0" rx="4.4" ry="2.0" fill="rgba(0,0,0,0.55)" filter="url(#b1)" transform="rotate(-2 1443.6 267.0)"/>
<rect x="1471.4" y="261.7" width="43.7" height="8.0" rx="8.7" ry="4.0" fill="rgba(0,0,0,1)" filter="url(#b1)" transform="rotate(-1.5 1493.2 265.7)"/>
<rect x="1473.9" y="263.2" width="38.7" height="5.0" rx="5.5" ry="2.5" fill="rgba(0,0,0,1)" filter="url(#b3)" transform="rotate(-1.5 1493.2 265.7)"/>
<rect x="1523.9" y="261.0" width="39.7" height="6.0" rx="6.6" ry="3.0" fill="rgba(0,0,0,1)" filter="url(#b1)" transform="rotate(-3 1543.7 264.0)"/>
<rect x="1526.4" y="262.5" width="34.7" height="3.0" rx="3.3" ry="1.5" fill="rgba(0,0,0,1)" filter="url(#b3)" transform="rotate(-3 1543.7 264.0)"/>
<rect x="1277.0" y="318.3" width="37.0" height="3.4" rx="3.7" ry="1.7" fill="rgba(0,0,0,0.6)" filter="url(#b1)"/>
<rect x="1278.5" y="313.0" width="34.0" height="10.0" rx="6.8" ry="5.0" fill="rgba(0,0,0,0.07)" filter="url(#b2)"/>
<rect x="1321.8" y="316.7" width="43.6" height="6.6" rx="7.3" ry="3.3" fill="rgba(0,0,0,1)" filter="url(#b1)"/>
<rect x="1324.8" y="318.2" width="37.6" height="3.6" rx="4.0" ry="1.8" fill="rgba(0,0,0,1)" filter="url(#b3)"/>
<rect x="1323.3" y="313.0" width="40.6" height="10.0" rx="8.1" ry="5.0" fill="rgba(0,0,0,0.07)" filter="url(#b2)"/>
<rect x="1375.2" y="317.7" width="39.7" height="4.6" rx="5.1" ry="2.3" fill="rgba(0,0,0,0.85)" filter="url(#b1)"/>
<rect x="1376.7" y="313.0" width="36.7" height="10.0" rx="7.3" ry="5.0" fill="rgba(0,0,0,0.07)" filter="url(#b2)"/>
<rect x="1425.7" y="318.3" width="37.8" height="3.4" rx="3.7" ry="1.7" fill="rgba(0,0,0,0.6)" filter="url(#b1)"/>
<rect x="1427.2" y="313.0" width="34.8" height="10.0" rx="7.0" ry="5.0" fill="rgba(0,0,0,0.07)" filter="url(#b2)"/>
<rect x="1472.4" y="316.8" width="43.7" height="6.4" rx="7.0" ry="3.2" fill="rgba(0,0,0,1)" filter="url(#b1)"/>
<rect x="1475.4" y="318.3" width="37.7" height="3.4" rx="3.7" ry="1.7" fill="rgba(0,0,0,1)" filter="url(#b3)"/>
<rect x="1473.9" y="313.0" width="40.7" height="10.0" rx="8.1" ry="5.0" fill="rgba(0,0,0,0.07)" filter="url(#b2)"/>
<rect x="1524.9" y="317.7" width="39.7" height="4.6" rx="5.1" ry="2.3" fill="rgba(0,0,0,0.75)" filter="url(#b1)"/>
<rect x="1526.4" y="313.0" width="36.7" height="10.0" rx="7.3" ry="5.0" fill="rgba(0,0,0,0.07)" filter="url(#b2)"/>
<rect x="1325.5" y="360.5" width="36.0" height="6.0" rx="6.6" ry="3.0" fill="rgba(0,0,0,0.22)" filter="url(#b2)"/>
<rect x="1351.5" y="359.5" width="11.0" height="7.0" rx="2.2" ry="3.5" fill="rgba(0,0,0,0.5)" filter="url(#b2)"/>
<rect x="1325.0" y="366.0" width="38.0" height="12.0" rx="7.6" ry="6.0" fill="rgba(0,0,0,0.08)" filter="url(#b2)"/>
<rect x="1323.5" y="376.9" width="42.0" height="5.5" rx="6.1" ry="2.8" fill="rgba(0,0,0,0.85)" filter="url(#b1)" transform="rotate(-1 1344.5 379.7)"/>
<rect x="1343.0" y="377.6" width="22.0" height="5.5" rx="4.4" ry="2.8" fill="rgba(0,0,0,1)" filter="url(#b1)"/>
<rect x="1471.0" y="360.0" width="40.0" height="12.0" rx="8.0" ry="6.0" fill="rgba(0,0,0,0.4)" filter="url(#b2)"/>
<rect x="1470.0" y="353.8" width="41.0" height="8.0" rx="8.2" ry="4.0" fill="rgba(0,0,0,1.0)" filter="url(#b1)" transform="rotate(-0.5 1490.5 357.8)"/>
<rect x="1473.5" y="355.3" width="34.0" height="5.0" rx="5.5" ry="2.5" fill="rgba(0,0,0,1.0)" filter="url(#b3)"/>
<rect x="1469.2" y="370.2" width="44.5" height="8.5" rx="8.9" ry="4.2" fill="rgba(0,0,0,1.0)" filter="url(#b1)" transform="rotate(-0.5 1491.5 374.5)"/>
<rect x="1472.5" y="371.8" width="38.0" height="5.5" rx="6.1" ry="2.8" fill="rgba(0,0,0,1.0)" filter="url(#b3)"/>
<rect x="1270.7" y="396" width="40.8" height="25" fill="rgba(0,0,0,0.17)" filter="url(#b3)"/>
<rect x="1270.6" y="412.7" width="41.0" height="6.0" rx="6.6" ry="3.0" fill="rgba(0,0,0,0.66)" filter="url(#b1)"/>
<rect x="1271.1" y="422.5" width="40.0" height="4.0" rx="4.4" ry="2.0" fill="rgba(255,255,255,0.08)" filter="url(#b2)"/>
<rect x="1320.2" y="396" width="40.8" height="25" fill="rgba(0,0,0,0.17)" filter="url(#b3)"/>
<rect x="1320.1" y="412.7" width="41.0" height="6.0" rx="6.6" ry="3.0" fill="rgba(0,0,0,0.66)" filter="url(#b1)"/>
<rect x="1320.6" y="422.5" width="40.0" height="4.0" rx="4.4" ry="2.0" fill="rgba(255,255,255,0.08)" filter="url(#b2)"/>
<rect x="1370.7" y="396" width="40.8" height="25" fill="rgba(0,0,0,0.17)" filter="url(#b3)"/>
<rect x="1370.6" y="412.7" width="41.0" height="6.0" rx="6.6" ry="3.0" fill="rgba(0,0,0,0.66)" filter="url(#b1)"/>
<rect x="1371.1" y="422.5" width="40.0" height="4.0" rx="4.4" ry="2.0" fill="rgba(255,255,255,0.08)" filter="url(#b2)"/>
<rect x="1420.3" y="396" width="40.8" height="25" fill="rgba(0,0,0,0.17)" filter="url(#b3)"/>
<rect x="1420.2" y="412.7" width="41.0" height="6.0" rx="6.6" ry="3.0" fill="rgba(0,0,0,0.66)" filter="url(#b1)"/>
<rect x="1420.7" y="422.5" width="40.0" height="4.0" rx="4.4" ry="2.0" fill="rgba(255,255,255,0.08)" filter="url(#b2)"/>
<rect x="1470.8" y="396" width="40.8" height="25" fill="rgba(0,0,0,0.17)" filter="url(#b3)"/>
<rect x="1470.7" y="412.7" width="41.0" height="6.0" rx="6.6" ry="3.0" fill="rgba(0,0,0,0.66)" filter="url(#b1)"/>
<rect x="1471.2" y="422.5" width="40.0" height="4.0" rx="4.4" ry="2.0" fill="rgba(255,255,255,0.08)" filter="url(#b2)"/>
<rect x="1520.3" y="396" width="40.8" height="25" fill="rgba(0,0,0,0.17)" filter="url(#b3)"/>
<rect x="1520.2" y="412.7" width="41.0" height="6.0" rx="6.6" ry="3.0" fill="rgba(0,0,0,0.66)" filter="url(#b1)"/>
<rect x="1520.7" y="422.5" width="40.0" height="4.0" rx="4.4" ry="2.0" fill="rgba(255,255,255,0.08)" filter="url(#b2)"/>
<rect x="1267.9" y="241.8" width="301.7" height="186.5" filter="url(#grain)" opacity="0.22"/>
<rect x="1267.9" y="292.3" width="301.7" height="2.0" fill="#fff"/>
<rect x="1267.9" y="340.0" width="301.7" height="1.9" fill="#fff"/>
<rect x="1267.9" y="392.4" width="301.7" height="2.3" fill="#fff"/>
</g>
<rect x="1265.5" y="239.7" width="306.5" height="190.7" fill="none" stroke="#000" stroke-width="2.4"/>
<text x="1174.5" y="277.1" font-size="22" textLength="83.5" lengthAdjust="spacingAndGlyphs">NMDAR</text>
<text x="1179.5" y="321.2" font-size="22" textLength="64.5" lengthAdjust="spacingAndGlyphs">GluR1</text>
<text x="1142.0" y="362.4" font-size="22" textLength="98.5" lengthAdjust="spacingAndGlyphs">pCaMKII-</text>
<text x="1244.5" y="362.4" font-size="22" textLength="12.5" lengthAdjust="spacingAndGlyphs">β</text>
<text x="1142.0" y="387.4" font-size="22" textLength="98.5" lengthAdjust="spacingAndGlyphs">pCaMKII-</text>
<text x="1244.5" y="387.4" font-size="22" textLength="13.0" lengthAdjust="spacingAndGlyphs">α</text>
<text x="1161.0" y="422.2" font-size="22" textLength="11.0" lengthAdjust="spacingAndGlyphs" font-family='"Liberation Serif", serif'>γ</text>
<text x="1172.3" y="422.2" font-size="22" textLength="81.0" lengthAdjust="spacingAndGlyphs">-tubulin</text>
<text x="1281.0" y="225.5" font-size="16" textLength="67.8" lengthAdjust="spacingAndGlyphs" transform="rotate(-38.3 1281.0 225.5)">APP/PS1</text>
<text x="1329.0" y="228.0" font-size="16" textLength="97.0" lengthAdjust="spacingAndGlyphs" transform="rotate(-38.3 1329.0 228.0)">APP/PS1+SD</text>
<text x="1384.0" y="229.0" font-size="16" textLength="138.0" lengthAdjust="spacingAndGlyphs" transform="rotate(-38.3 1384.0 229.0)">APP/PS1+JuA+SD</text>
<text x="1442.0" y="223.5" font-size="16" textLength="67.8" lengthAdjust="spacingAndGlyphs" transform="rotate(-38.3 1442.0 223.5)">APP/PS1</text>
<text x="1485.0" y="229.0" font-size="16" textLength="97.0" lengthAdjust="spacingAndGlyphs" transform="rotate(-38.3 1485.0 229.0)">APP/PS1+SD</text>
<text x="1540.0" y="229.5" font-size="16" textLength="138.0" lengthAdjust="spacingAndGlyphs" transform="rotate(-38.3 1540.0 229.5)">APP/PS1+JuA+SD</text>
<rect x="1241.0" y="1006.0" width="320.5" height="210.7" fill="#fff"/>
<rect x="1245.4" y="1009.0" width="312.9" height="43.0" fill="#f5f5f5"/>
<rect x="1245.4" y="1054.0" width="312.9" height="37.0" fill="#f1f1f1"/>
<rect x="1245.4" y="1092.7" width="312.9" height="39.9" fill="#c6c6c6"/>
<rect x="1245.4" y="1134.0" width="312.9" height="42.4" fill="#b4b4b4"/>
<rect x="1245.4" y="1177.4" width="312.9" height="36.3" fill="#f3f3f3"/>
<g clip-path="url(#iclip)">
<rect x="1251.2" y="1024.3" width="45.5" height="16.0" rx="9.1" ry="8.0" fill="rgba(0,0,0,0.3)" filter="url(#b2)"/>
<rect x="1251.7" y="1028.8" width="44.5" height="7.0" rx="7.7" ry="3.5" fill="rgba(0,0,0,1.0)" filter="url(#b1)"/>
<rect x="1254.2" y="1030.0" width="39.5" height="4.5" rx="5.0" ry="2.2" fill="rgba(0,0,0,1.0)" filter="url(#b3)"/>
<rect x="1302.5" y="1024.3" width="45.5" height="16.0" rx="9.1" ry="8.0" fill="rgba(0,0,0,0.3)" filter="url(#b2)"/>
<rect x="1303.0" y="1028.8" width="44.5" height="7.0" rx="7.7" ry="3.5" fill="rgba(0,0,0,1.0)" filter="url(#b1)"/>
<rect x="1305.5" y="1030.0" width="39.5" height="4.5" rx="5.0" ry="2.2" fill="rgba(0,0,0,1.0)" filter="url(#b3)"/>
<rect x="1354.5" y="1025.3" width="45.5" height="16.0" rx="9.1" ry="8.0" fill="rgba(0,0,0,0.3)" filter="url(#b2)" transform="rotate(-2 1377.3 1033.3)"/>
<rect x="1355.0" y="1029.8" width="44.5" height="7.0" rx="7.7" ry="3.5" fill="rgba(0,0,0,1.0)" filter="url(#b1)" transform="rotate(-2 1377.3 1033.3)"/>
<rect x="1357.5" y="1031.0" width="39.5" height="4.5" rx="5.0" ry="2.2" fill="rgba(0,0,0,1.0)" filter="url(#b3)" transform="rotate(-2 1377.3 1033.3)"/>
<rect x="1406.2" y="1022.2" width="45.5" height="16.0" rx="9.1" ry="8.0" fill="rgba(0,0,0,0.3)" filter="url(#b2)" transform="rotate(-1.5 1429.0 1030.2)"/>
<rect x="1406.8" y="1026.7" width="44.5" height="7.0" rx="7.7" ry="3.5" fill="rgba(0,0,0,1.0)" filter="url(#b1)" transform="rotate(-1.5 1429.0 1030.2)"/>
<rect x="1409.2" y="1028.0" width="39.5" height="4.5" rx="5.0" ry="2.2" fill="rgba(0,0,0,1.0)" filter="url(#b3)" transform="rotate(-1.5 1429.0 1030.2)"/>
<rect x="1456.5" y="1020.8" width="45.5" height="16.0" rx="9.1" ry="8.0" fill="rgba(0,0,0,0.3)" filter="url(#b2)" transform="rotate(-1 1479.2 1028.8)"/>
<rect x="1457.0" y="1025.3" width="44.5" height="7.0" rx="7.7" ry="3.5" fill="rgba(0,0,0,1.0)" filter="url(#b1)" transform="rotate(-1 1479.2 1028.8)"/>
<rect x="1459.5" y="1026.5" width="39.5" height="4.5" rx="5.0" ry="2.2" fill="rgba(0,0,0,1.0)" filter="url(#b3)" transform="rotate(-1 1479.2 1028.8)"/>
<rect x="1507.5" y="1019.6" width="45.5" height="16.0" rx="9.1" ry="8.0" fill="rgba(0,0,0,0.3)" filter="url(#b2)"/>
<rect x="1508.0" y="1024.1" width="44.5" height="7.0" rx="7.7" ry="3.5" fill="rgba(0,0,0,1.0)" filter="url(#b1)"/>
<rect x="1510.5" y="1025.3" width="39.5" height="4.5" rx="5.0" ry="2.2" fill="rgba(0,0,0,1.0)" filter="url(#b3)"/>
<rect x="1251.4" y="1063.3" width="45.0" height="15.0" rx="9.0" ry="7.5" fill="rgba(0,0,0,0.3)" filter="url(#b2)"/>
<rect x="1251.9" y="1067.8" width="44.0" height="6.0" rx="6.6" ry="3.0" fill="rgba(0,0,0,1.0)" filter="url(#b1)"/>
<rect x="1254.4" y="1069.0" width="39.0" height="3.5" rx="3.9" ry="1.8" fill="rgba(0,0,0,1.0)" filter="url(#b3)"/>
<rect x="1302.7" y="1063.8" width="45.0" height="16.0" rx="9.0" ry="8.0" fill="rgba(0,0,0,0.3)" filter="url(#b2)"/>
<rect x="1303.2" y="1068.3" width="44.0" height="7.0" rx="7.7" ry="3.5" fill="rgba(0,0,0,1.0)" filter="url(#b1)"/>
<rect x="1305.7" y="1069.5" width="39.0" height="4.5" rx="5.0" ry="2.2" fill="rgba(0,0,0,1.0)" filter="url(#b3)"/>
<rect x="1354.8" y="1064.3" width="45.0" height="15.0" rx="9.0" ry="7.5" fill="rgba(0,0,0,0.3)" filter="url(#b2)"/>
<rect x="1355.3" y="1068.8" width="44.0" height="6.0" rx="6.6" ry="3.0" fill="rgba(0,0,0,1.0)" filter="url(#b1)"/>
<rect x="1357.8" y="1070.0" width="39.0" height="3.5" rx="3.9" ry="1.8" fill="rgba(0,0,0,1.0)" filter="url(#b3)"/>
<rect x="1406.5" y="1064.3" width="45.0" height="15.0" rx="9.0" ry="7.5" fill="rgba(0,0,0,0.3)" filter="url(#b2)"/>
<rect x="1407.0" y="1068.8" width="44.0" height="6.0" rx="6.6" ry="3.0" fill="rgba(0,0,0,1.0)" filter="url(#b1)"/>
<rect x="1409.5" y="1070.0" width="39.0" height="3.5" rx="3.9" ry="1.8" fill="rgba(0,0,0,1.0)" filter="url(#b3)"/>
<rect x="1456.7" y="1063.3" width="45.0" height="17.0" rx="9.0" ry="8.5" fill="rgba(0,0,0,0.3)" filter="url(#b2)"/>
<rect x="1457.2" y="1067.8" width="44.0" height="8.0" rx="8.8" ry="4.0" fill="rgba(0,0,0,1.0)" filter="url(#b1)"/>
<rect x="1459.7" y="1069.0" width="39.0" height="5.5" rx="6.1" ry="2.8" fill="rgba(0,0,0,1.0)" filter="url(#b3)"/>
<rect x="1510.0" y="1065.5" width="14.0" height="14.0" rx="2.8" ry="7.0" fill="rgba(0,0,0,0.3)" filter="url(#b2)"/>
<rect x="1510.5" y="1070.0" width="13.0" height="5.0" rx="2.6" ry="2.5" fill="rgba(0,0,0,1.0)" filter="url(#b1)"/>
<rect x="1513.0" y="1071.2" width="8.0" height="2.5" rx="1.6" ry="1.2" fill="rgba(0,0,0,1.0)" filter="url(#b3)"/>
<rect x="1531.5" y="1064.0" width="19.0" height="17.0" rx="3.8" ry="8.5" fill="rgba(0,0,0,0.3)" filter="url(#b2)"/>
<rect x="1532.0" y="1068.5" width="18.0" height="8.0" rx="3.6" ry="4.0" fill="rgba(0,0,0,1.0)" filter="url(#b1)"/>
<rect x="1534.5" y="1069.8" width="13.0" height="5.5" rx="2.6" ry="2.8" fill="rgba(0,0,0,1.0)" filter="url(#b3)"/>
<rect x="1519.0" y="1071.8" width="20.0" height="2.5" rx="2.8" ry="1.2" fill="rgba(0,0,0,0.8)" filter="url(#b1)"/>
<rect x="1251.9" y="1119" width="44" height="13.6" fill="rgba(255,255,255,0.3)" filter="url(#b3)"/>
<rect x="1249.9" y="1103.7" width="48.0" height="20.5" rx="9.6" ry="10.2" fill="rgba(0,0,0,0.3)" filter="url(#b2)"/>
<rect x="1250.4" y="1108.2" width="47.0" height="11.5" rx="9.4" ry="5.8" fill="rgba(0,0,0,1.0)" filter="url(#b1)"/>
<rect x="1252.9" y="1109.4" width="42.0" height="9.0" rx="8.4" ry="4.5" fill="rgba(0,0,0,1.0)" filter="url(#b3)"/>
<rect x="1303.2" y="1119" width="44" height="13.6" fill="rgba(255,255,255,0.3)" filter="url(#b3)"/>
<rect x="1301.7" y="1103.7" width="47.0" height="20.5" rx="9.4" ry="10.2" fill="rgba(0,0,0,0.3)" filter="url(#b2)"/>
<rect x="1302.2" y="1108.2" width="46.0" height="11.5" rx="9.2" ry="5.8" fill="rgba(0,0,0,1.0)" filter="url(#b1)"/>
<rect x="1304.7" y="1109.4" width="41.0" height="9.0" rx="8.2" ry="4.5" fill="rgba(0,0,0,1.0)" filter="url(#b3)"/>
<rect x="1355.3" y="1119" width="44" height="13.6" fill="rgba(255,255,255,0.3)" filter="url(#b3)"/>
<rect x="1352.8" y="1103.7" width="49.0" height="20.5" rx="9.8" ry="10.2" fill="rgba(0,0,0,0.3)" filter="url(#b2)"/>
<rect x="1353.3" y="1108.2" width="48.0" height="11.5" rx="9.6" ry="5.8" fill="rgba(0,0,0,1.0)" filter="url(#b1)"/>
<rect x="1355.8" y="1109.4" width="43.0" height="9.0" rx="8.6" ry="4.5" fill="rgba(0,0,0,1.0)" filter="url(#b3)"/>
<rect x="1407.0" y="1119" width="44" height="13.6" fill="rgba(255,255,255,0.3)" filter="url(#b3)"/>
<rect x="1405.0" y="1103.7" width="48.0" height="20.5" rx="9.6" ry="10.2" fill="rgba(0,0,0,0.3)" filter="url(#b2)"/>
<rect x="1405.5" y="1108.2" width="47.0" height="11.5" rx="9.4" ry="5.8" fill="rgba(0,0,0,1.0)" filter="url(#b1)"/>
<rect x="1408.0" y="1109.4" width="42.0" height="9.0" rx="8.4" ry="4.5" fill="rgba(0,0,0,1.0)" filter="url(#b3)"/>
<rect x="1457.2" y="1119" width="44" height="13.6" fill="rgba(255,255,255,0.3)" filter="url(#b3)"/>
<rect x="1459.2" y="1103.7" width="40.0" height="20.5" rx="8.0" ry="10.2" fill="rgba(0,0,0,0.3)" filter="url(#b2)"/>
<rect x="1459.7" y="1108.2" width="39.0" height="11.5" rx="7.8" ry="5.8" fill="rgba(0,0,0,1.0)" filter="url(#b1)"/>
<rect x="1462.2" y="1109.4" width="34.0" height="9.0" rx="6.8" ry="4.5" fill="rgba(0,0,0,1.0)" filter="url(#b3)"/>
<rect x="1508.3" y="1119" width="44" height="13.6" fill="rgba(255,255,255,0.3)" filter="url(#b3)"/>
<rect x="1508.8" y="1103.7" width="43.0" height="20.5" rx="8.6" ry="10.2" fill="rgba(0,0,0,0.3)" filter="url(#b2)"/>
<rect x="1509.3" y="1108.2" width="42.0" height="11.5" rx="8.4" ry="5.8" fill="rgba(0,0,0,1.0)" filter="url(#b1)"/>
<rect x="1511.8" y="1109.4" width="37.0" height="9.0" rx="7.4" ry="4.5" fill="rgba(0,0,0,1.0)" filter="url(#b3)"/>
<rect x="1252.9" y="1160" width="42" height="16.4" fill="rgba(0,0,0,0.05)" filter="url(#b3)"/>
<rect x="1250.4" y="1147.8" width="47.0" height="18.5" rx="9.4" ry="9.2" fill="rgba(0,0,0,0.3)" filter="url(#b2)"/>
<rect x="1250.9" y="1152.2" width="46.0" height="9.5" rx="9.2" ry="4.8" fill="rgba(0,0,0,1.0)" filter="url(#b1)"/>
<rect x="1253.4" y="1153.5" width="41.0" height="7.0" rx="7.7" ry="3.5" fill="rgba(0,0,0,1.0)" filter="url(#b3)"/>
<rect x="1304.2" y="1160" width="42" height="16.4" fill="rgba(0,0,0,0.05)" filter="url(#b3)"/>
<rect x="1301.7" y="1147.3" width="47.0" height="18.5" rx="9.4" ry="9.2" fill="rgba(0,0,0,0.3)" filter="url(#b2)"/>
<rect x="1302.2" y="1151.8" width="46.0" height="9.5" rx="9.2" ry="4.8" fill="rgba(0,0,0,1.0)" filter="url(#b1)"/>
<rect x="1304.7" y="1153.1" width="41.0" height="7.0" rx="7.7" ry="3.5" fill="rgba(0,0,0,1.0)" filter="url(#b3)"/>
<rect x="1356.3" y="1160" width="42" height="16.4" fill="rgba(0,0,0,0.05)" filter="url(#b3)"/>
<rect x="1354.3" y="1146.3" width="46.0" height="18.5" rx="9.2" ry="9.2" fill="rgba(0,0,0,0.3)" filter="url(#b2)"/>
<rect x="1354.8" y="1150.8" width="45.0" height="9.5" rx="9.0" ry="4.8" fill="rgba(0,0,0,1.0)" filter="url(#b1)"/>
<rect x="1357.3" y="1152.1" width="40.0" height="7.0" rx="7.7" ry="3.5" fill="rgba(0,0,0,1.0)" filter="url(#b3)"/>
<rect x="1408.0" y="1160" width="42" height="16.4" fill="rgba(0,0,0,0.05)" filter="url(#b3)"/>
<rect x="1406.5" y="1147.0" width="45.0" height="18.5" rx="9.0" ry="9.2" fill="rgba(0,0,0,0.3)" filter="url(#b2)"/>
<rect x="1407.0" y="1151.5" width="44.0" height="9.5" rx="8.8" ry="4.8" fill="rgba(0,0,0,1.0)" filter="url(#b1)"/>
<rect x="1409.5" y="1152.7" width="39.0" height="7.0" rx="7.7" ry="3.5" fill="rgba(0,0,0,1.0)" filter="url(#b3)"/>
<rect x="1458.2" y="1160" width="42" height="16.4" fill="rgba(0,0,0,0.05)" filter="url(#b3)"/>
<rect x="1456.2" y="1146.0" width="46.0" height="18.5" rx="9.2" ry="9.2" fill="rgba(0,0,0,0.3)" filter="url(#b2)"/>
<rect x="1456.7" y="1150.5" width="45.0" height="9.5" rx="9.0" ry="4.8" fill="rgba(0,0,0,1.0)" filter="url(#b1)"/>
<rect x="1459.2" y="1151.7" width="40.0" height="7.0" rx="7.7" ry="3.5" fill="rgba(0,0,0,1.0)" filter="url(#b3)"/>
<rect x="1509.3" y="1160" width="42" height="16.4" fill="rgba(0,0,0,0.05)" filter="url(#b3)"/>
<rect x="1507.3" y="1145.3" width="46.0" height="18.5" rx="9.2" ry="9.2" fill="rgba(0,0,0,0.3)" filter="url(#b2)"/>
<rect x="1507.8" y="1149.8" width="45.0" height="9.5" rx="9.0" ry="4.8" fill="rgba(0,0,0,1.0)" filter="url(#b1)"/>
<rect x="1510.3" y="1151.1" width="40.0" height="7.0" rx="7.7" ry="3.5" fill="rgba(0,0,0,1.0)" filter="url(#b3)"/>
<rect x="1251.9" y="1193.0" width="44.0" height="11.0" rx="8.8" ry="5.5" fill="rgba(0,0,0,0.2)" filter="url(#b2)"/>
<rect x="1252.4" y="1196.6" width="43.0" height="3.8" rx="4.2" ry="1.9" fill="rgba(0,0,0,1.0)" filter="url(#b1)"/>
<rect x="1253.4" y="1195.8" width="12.0" height="4.8" rx="2.4" ry="2.4" fill="rgba(0,0,0,0.9)" filter="url(#b1)"/>
<rect x="1282.4" y="1195.8" width="12.0" height="4.8" rx="2.4" ry="2.4" fill="rgba(0,0,0,0.9)" filter="url(#b1)"/>
<rect x="1303.2" y="1192.6" width="44.0" height="11.0" rx="8.8" ry="5.5" fill="rgba(0,0,0,0.2)" filter="url(#b2)"/>
<rect x="1303.7" y="1196.2" width="43.0" height="3.8" rx="4.2" ry="1.9" fill="rgba(0,0,0,1.0)" filter="url(#b1)"/>
<rect x="1304.7" y="1195.4" width="12.0" height="4.8" rx="2.4" ry="2.4" fill="rgba(0,0,0,0.9)" filter="url(#b1)"/>
<rect x="1333.7" y="1195.4" width="12.0" height="4.8" rx="2.4" ry="2.4" fill="rgba(0,0,0,0.9)" filter="url(#b1)"/>
<rect x="1355.3" y="1191.0" width="44.0" height="11.0" rx="8.8" ry="5.5" fill="rgba(0,0,0,0.2)" filter="url(#b2)"/>
<rect x="1355.8" y="1194.6" width="43.0" height="3.8" rx="4.2" ry="1.9" fill="rgba(0,0,0,1.0)" filter="url(#b1)"/>
<rect x="1356.8" y="1193.8" width="12.0" height="4.8" rx="2.4" ry="2.4" fill="rgba(0,0,0,0.9)" filter="url(#b1)"/>
<rect x="1385.8" y="1193.8" width="12.0" height="4.8" rx="2.4" ry="2.4" fill="rgba(0,0,0,0.9)" filter="url(#b1)"/>
<rect x="1407.0" y="1189.0" width="44.0" height="11.0" rx="8.8" ry="5.5" fill="rgba(0,0,0,0.2)" filter="url(#b2)"/>
<rect x="1407.5" y="1192.6" width="43.0" height="3.8" rx="4.2" ry="1.9" fill="rgba(0,0,0,1.0)" filter="url(#b1)"/>
<rect x="1408.5" y="1191.8" width="12.0" height="4.8" rx="2.4" ry="2.4" fill="rgba(0,0,0,0.9)" filter="url(#b1)"/>
<rect x="1437.5" y="1191.8" width="12.0" height="4.8" rx="2.4" ry="2.4" fill="rgba(0,0,0,0.9)" filter="url(#b1)"/>
<rect x="1457.2" y="1189.0" width="44.0" height="11.0" rx="8.8" ry="5.5" fill="rgba(0,0,0,0.2)" filter="url(#b2)"/>
<rect x="1457.7" y="1192.6" width="43.0" height="3.8" rx="4.2" ry="1.9" fill="rgba(0,0,0,1.0)" filter="url(#b1)"/>
<rect x="1458.7" y="1191.8" width="12.0" height="4.8" rx="2.4" ry="2.4" fill="rgba(0,0,0,0.9)" filter="url(#b1)"/>
<rect x="1487.7" y="1191.8" width="12.0" height="4.8" rx="2.4" ry="2.4" fill="rgba(0,0,0,0.9)" filter="url(#b1)"/>
<rect x="1508.3" y="1188.4" width="44.0" height="11.0" rx="8.8" ry="5.5" fill="rgba(0,0,0,0.2)" filter="url(#b2)"/>
<rect x="1508.8" y="1192.0" width="43.0" height="3.8" rx="4.2" ry="1.9" fill="rgba(0,0,0,1.0)" filter="url(#b1)"/>
<rect x="1509.8" y="1191.2" width="12.0" height="4.8" rx="2.4" ry="2.4" fill="rgba(0,0,0,0.9)" filter="url(#b1)"/>
<rect x="1538.8" y="1191.2" width="12.0" height="4.8" rx="2.4" ry="2.4" fill="rgba(0,0,0,0.9)" filter="url(#b1)"/>
</g>
<rect x="1242.1" y="1007.1" width="318.3" height="208.5" fill="none" stroke="#000" stroke-width="2.2"/>
<text x="1132.8" y="1034.6" font-size="23" textLength="85.5" lengthAdjust="spacingAndGlyphs">NMDAR</text>
<text x="1139.0" y="1077.4" font-size="23" textLength="65.8" lengthAdjust="spacingAndGlyphs">GluR1</text>
<text x="1137.2" y="1114.0" font-size="23" textLength="80.2" lengthAdjust="spacingAndGlyphs">pCREB</text>
<text x="1138.6" y="1161.5" font-size="23" textLength="73.0" lengthAdjust="spacingAndGlyphs">tCREB</text>
<text x="1123.9" y="1201.5" font-size="22" textLength="11.0" lengthAdjust="spacingAndGlyphs" font-family='"Liberation Serif", serif'>γ</text>
<text x="1135.0" y="1201.5" font-size="22" textLength="82.0" lengthAdjust="spacingAndGlyphs">-tubulin</text>
<text x="1266.0" y="989.6" font-size="17.5" textLength="74.0" lengthAdjust="spacingAndGlyphs" transform="rotate(-40 1266.0 989.6)">APP/PS1</text>
<text x="1314.2" y="992.0" font-size="17.5" textLength="118.0" lengthAdjust="spacingAndGlyphs" transform="rotate(-40 1314.2 992.0)">APP/PS1+JuA</text>
<text x="1369.0" y="993.0" font-size="17.5" textLength="74.0" lengthAdjust="spacingAndGlyphs" transform="rotate(-40 1369.0 993.0)">APP/PS1</text>
<text x="1423.8" y="991.3" font-size="17.5" textLength="118.0" lengthAdjust="spacingAndGlyphs" transform="rotate(-40 1423.8 991.3)">APP/PS1+JuA</text>
<text x="1481.0" y="987.0" font-size="17.5" textLength="74.0" lengthAdjust="spacingAndGlyphs" transform="rotate(-40 1481.0 987.0)">APP/PS1</text>
<text x="1526.8" y="995.6" font-size="17.5" textLength="118.0" lengthAdjust="spacingAndGlyphs" transform="rotate(-40 1526.8 995.6)">APP/PS1+JuA</text>
<rect x="1216.2" y="476.5" width="32.1" height="14.0" fill="#000" stroke="#1a1a1a" stroke-width="1.2"/>
<text x="1253.0" y="488.0" font-size="15.6" textLength="76.3" lengthAdjust="spacingAndGlyphs">APP/PS1</text>
<rect x="1216.2" y="494.6" width="32.1" height="13.5" fill="#fff" stroke="#1a1a1a" stroke-width="1.2"/>
<text x="1253.0" y="505.5" font-size="15.6" textLength="112.7" lengthAdjust="spacingAndGlyphs">APP/PS1+SD</text>
<rect x="1216.2" y="512.6" width="32.1" height="13.6" fill="#c0c0c0" stroke="#1a1a1a" stroke-width="1.2"/>
<text x="1253.0" y="523.5" font-size="15.6" textLength="159.6" lengthAdjust="spacingAndGlyphs">APP/PS1+JuA+SD</text>
<path d="M1199.6 516.5V823.6M1199.6 516.5h-8.5M1199.6 618.7h-8.5M1199.6 721.4h-8.5M1199.6 567.6h-4.5M1199.6 670.0h-4.5M1199.6 772.5h-4.5" stroke="#000" stroke-width="1.6" fill="none"/>
<path d="M1191.0 823.6H1647.0" stroke="#000" stroke-width="1.9" fill="none"/>
<text x="1158.8" y="522.8" font-size="18" textLength="31.0" lengthAdjust="spacingAndGlyphs">1.5</text>
<text x="1158.8" y="625.0" font-size="18" textLength="31.0" lengthAdjust="spacingAndGlyphs">1.0</text>
<text x="1158.8" y="727.7" font-size="18" textLength="31.0" lengthAdjust="spacingAndGlyphs">0.5</text>
<text x="1158.8" y="829.9" font-size="18" textLength="31.0" lengthAdjust="spacingAndGlyphs">0.0</text>
<text x="1142.0" y="827.5" font-size="35" textLength="310.0" lengthAdjust="spacingAndGlyphs" transform="rotate(-90 1142.0 827.5)">Relative protein levels</text>
<rect x="1210.2" y="790.0" width="28.0" height="33.6" fill="#000" stroke="#1a1a1a" stroke-width="1.2"/>
<path d="M1224.2 789.9V782.0M1217.4 782.0H1230.9" stroke="#000" stroke-width="1.5" fill="none"/>
<rect x="1241.6" y="619.3" width="27.2" height="204.3" fill="#fff" stroke="#1a1a1a" stroke-width="1.2"/>
<path d="M1255.2 619.2V616.8M1248.5 616.8H1262.0" stroke="#000" stroke-width="1.5" fill="none"/>
<rect x="1272.3" y="743.9" width="27.1" height="79.7" fill="#c0c0c0" stroke="#1a1a1a" stroke-width="1.2"/>
<path d="M1285.8 743.8V736.3M1279.1 736.3H1292.6" stroke="#000" stroke-width="1.5" fill="none"/>
<rect x="1322.1" y="791.4" width="28.0" height="32.2" fill="#000" stroke="#1a1a1a" stroke-width="1.2"/>
<path d="M1336.1 791.3V789.5M1329.3 789.5H1342.8" stroke="#000" stroke-width="1.5" fill="none"/>
<rect x="1353.6" y="619.3" width="27.1" height="204.3" fill="#fff" stroke="#1a1a1a" stroke-width="1.2"/>
<path d="M1367.2 619.2V612.8M1360.4 612.8H1373.9" stroke="#000" stroke-width="1.5" fill="none"/>
<rect x="1384.2" y="697.6" width="27.0" height="126.0" fill="#c0c0c0" stroke="#1a1a1a" stroke-width="1.2"/>
<path d="M1397.7 697.5V678.8M1390.9 678.8H1404.4" stroke="#000" stroke-width="1.5" fill="none"/>
<rect x="1434.4" y="817.6" width="27.6" height="6.0" fill="#000" stroke="#1a1a1a" stroke-width="1.2"/>
<path d="M1448.2 817.5V815.8M1441.4 815.8H1454.9" stroke="#000" stroke-width="1.5" fill="none"/>
<rect x="1465.9" y="627.6" width="27.0" height="196.0" fill="#fff" stroke="#1a1a1a" stroke-width="1.2"/>
<path d="M1479.4 627.5V572.2M1472.7 572.2H1486.2" stroke="#000" stroke-width="1.5" fill="none"/>
<rect x="1496.4" y="819.9" width="27.0" height="3.7" fill="#c0c0c0" stroke="#1a1a1a" stroke-width="1.2"/>
<rect x="1546.3" y="817.6" width="27.3" height="6.0" fill="#000" stroke="#1a1a1a" stroke-width="1.2"/>
<path d="M1560.0 817.5V815.8M1553.2 815.8H1566.7" stroke="#000" stroke-width="1.5" fill="none"/>
<rect x="1577.5" y="619.3" width="26.9" height="204.3" fill="#fff" stroke="#1a1a1a" stroke-width="1.2"/>
<path d="M1591.0 619.2V585.2M1584.2 585.2H1597.7" stroke="#000" stroke-width="1.5" fill="none"/>
<rect x="1608.0" y="819.9" width="27.1" height="3.7" fill="#c0c0c0" stroke="#1a1a1a" stroke-width="1.2"/>
<path d="M1215.2 689.0V593.5H1252.8V608.8" stroke="#222" stroke-width="1.0" fill="none"/>
<path d="M1256.7 608.8V593.5H1293.6V688.5" stroke="#222" stroke-width="1.0" fill="none"/>
<text x="1219.0" y="593.1" font-size="24" textLength="33.5" lengthAdjust="spacingAndGlyphs">***</text>
<text x="1259.9" y="594.6" font-size="24" textLength="32.5" lengthAdjust="spacingAndGlyphs">***</text>
<path d="M1328.5 683.0V587.2H1365.7V602.0" stroke="#222" stroke-width="1.0" fill="none"/>
<path d="M1369.7 603.5V587.2H1407.2V650.0" stroke="#222" stroke-width="1.0" fill="none"/>
<text x="1336.0" y="588.6" font-size="24" textLength="22.0" lengthAdjust="spacingAndGlyphs">**</text>
<text x="1384.5" y="588.6" font-size="24" textLength="11.0" lengthAdjust="spacingAndGlyphs">*</text>
<path d="M1439.4 644.3V549.0H1476.3V564.6" stroke="#222" stroke-width="1.0" fill="none"/>
<path d="M1481.0 564.6V549.0H1517.8V648.6" stroke="#222" stroke-width="1.0" fill="none"/>
<text x="1447.2" y="549.6" font-size="24" textLength="21.3" lengthAdjust="spacingAndGlyphs">**</text>
<text x="1495.4" y="549.6" font-size="24" textLength="11.0" lengthAdjust="spacingAndGlyphs">*</text>
<path d="M1549.0 656.6V561.0H1585.9V576.0" stroke="#222" stroke-width="1.0" fill="none"/>
<path d="M1592.2 576.0V561.0H1629.7V655.0" stroke="#222" stroke-width="1.0" fill="none"/>
<text x="1550.2" y="561.6" font-size="24" textLength="32.5" lengthAdjust="spacingAndGlyphs">***</text>
<text x="1602.6" y="561.6" font-size="24" textLength="21.0" lengthAdjust="spacingAndGlyphs">**</text>
<text x="1215.2" y="847.9" font-size="18" textLength="78.4" lengthAdjust="spacingAndGlyphs">NMDAR</text>
<text x="1339.0" y="847.9" font-size="18" textLength="61.0" lengthAdjust="spacingAndGlyphs">GluR1</text>
<text x="1422.8" y="847.9" font-size="18" textLength="90.0" lengthAdjust="spacingAndGlyphs">pCaMKII-</text>
<text x="1514.5" y="847.9" font-size="18" font-weight="normal" textLength="11.0" lengthAdjust="spacingAndGlyphs">β</text>
<text x="1540.7" y="847.9" font-size="18" textLength="91.0" lengthAdjust="spacingAndGlyphs">pCaMKII-</text>
<text x="1633.5" y="847.9" font-size="18" font-weight="normal" textLength="12.5" lengthAdjust="spacingAndGlyphs">α</text>
<rect x="1278.7" y="1270.6" width="29.6" height="13.8" fill="#000" stroke="#1a1a1a" stroke-width="1.2"/>
<text x="1313.1" y="1281.3" font-size="15.4" textLength="69.4" lengthAdjust="spacingAndGlyphs">APP/PS1</text>
<rect x="1278.7" y="1288.8" width="29.6" height="13.6" fill="#fff" stroke="#1a1a1a" stroke-width="1.2"/>
<text x="1313.1" y="1299.3" font-size="15.4" textLength="112.8" lengthAdjust="spacingAndGlyphs">APP/PS1+JuA</text>
<path d="M1269.4 1303.0V1610.8M1269.4 1303.0h-8M1269.4 1405.4h-8M1269.4 1507.7h-8M1269.4 1354.2h-4.5M1269.4 1456.5h-4.5M1269.4 1559.0h-4.5" stroke="#000" stroke-width="1.6" fill="none"/>
<path d="M1261.7 1610.8H1587.2" stroke="#000" stroke-width="1.9" fill="none"/>
<text x="1229.5" y="1309.3" font-size="18" textLength="27.0" lengthAdjust="spacingAndGlyphs">1.5</text>
<text x="1229.5" y="1411.7" font-size="18" textLength="27.0" lengthAdjust="spacingAndGlyphs">1.0</text>
<text x="1229.5" y="1514.0" font-size="18" textLength="27.0" lengthAdjust="spacingAndGlyphs">0.5</text>
<text x="1229.5" y="1616.6" font-size="18" textLength="27.0" lengthAdjust="spacingAndGlyphs">0.0</text>
<text x="1213.3" y="1625.5" font-size="36" textLength="334.5" lengthAdjust="spacingAndGlyphs" transform="rotate(-90 1213.3 1625.5)">Relative protein levels</text>
<rect x="1277.6" y="1406.0" width="30.0" height="204.8" fill="#000" stroke="#1a1a1a" stroke-width="1.2"/>
<path d="M1292.6 1405.9V1357.6M1284.6 1357.6H1300.6" stroke="#000" stroke-width="1.5" fill="none"/>
<rect x="1311.5" y="1464.1" width="28.7" height="146.7" fill="#fff" stroke="#1a1a1a" stroke-width="1.2"/>
<path d="M1325.8 1464.0V1442.3M1317.8 1442.3H1333.8" stroke="#000" stroke-width="1.5" fill="none"/>
<rect x="1357.0" y="1406.0" width="29.7" height="204.8" fill="#000" stroke="#1a1a1a" stroke-width="1.2"/>
<path d="M1371.8 1405.9V1376.2M1363.8 1376.2H1379.8" stroke="#000" stroke-width="1.5" fill="none"/>
<rect x="1390.6" y="1402.0" width="29.0" height="208.8" fill="#fff" stroke="#1a1a1a" stroke-width="1.2"/>
<path d="M1405.1 1401.9V1379.8M1397.1 1379.8H1413.1" stroke="#000" stroke-width="1.5" fill="none"/>
<rect x="1436.7" y="1410.6" width="29.7" height="200.2" fill="#000" stroke="#1a1a1a" stroke-width="1.2"/>
<path d="M1451.5 1410.5V1403.4M1443.5 1403.4H1459.5" stroke="#000" stroke-width="1.5" fill="none"/>
<rect x="1470.3" y="1406.0" width="29.0" height="204.8" fill="#fff" stroke="#1a1a1a" stroke-width="1.2"/>
<path d="M1484.8 1405.9V1386.8M1476.8 1386.8H1492.8" stroke="#000" stroke-width="1.5" fill="none"/>
<rect x="1516.4" y="1421.3" width="29.4" height="189.5" fill="#000" stroke="#1a1a1a" stroke-width="1.2"/>
<path d="M1531.1 1421.2V1404.0M1523.1 1404.0H1539.1" stroke="#000" stroke-width="1.5" fill="none"/>
<rect x="1549.6" y="1406.0" width="29.1" height="204.8" fill="#fff" stroke="#1a1a1a" stroke-width="1.2"/>
<path d="M1564.2 1405.9V1395.8M1556.2 1395.8H1572.2" stroke="#000" stroke-width="1.5" fill="none"/>
<text x="1275.0" y="1634.5" font-size="18" textLength="72.4" lengthAdjust="spacingAndGlyphs">NMDAR</text>
<text x="1362.4" y="1634.5" font-size="18" textLength="55.8" lengthAdjust="spacingAndGlyphs">GluR1</text>
<text x="1437.0" y="1634.5" font-size="18" textLength="66.5" lengthAdjust="spacingAndGlyphs">pCREB</text>
<text x="1517.8" y="1634.5" font-size="18" textLength="62.2" lengthAdjust="spacingAndGlyphs">tCREB</text>
</svg>
</body></html>
